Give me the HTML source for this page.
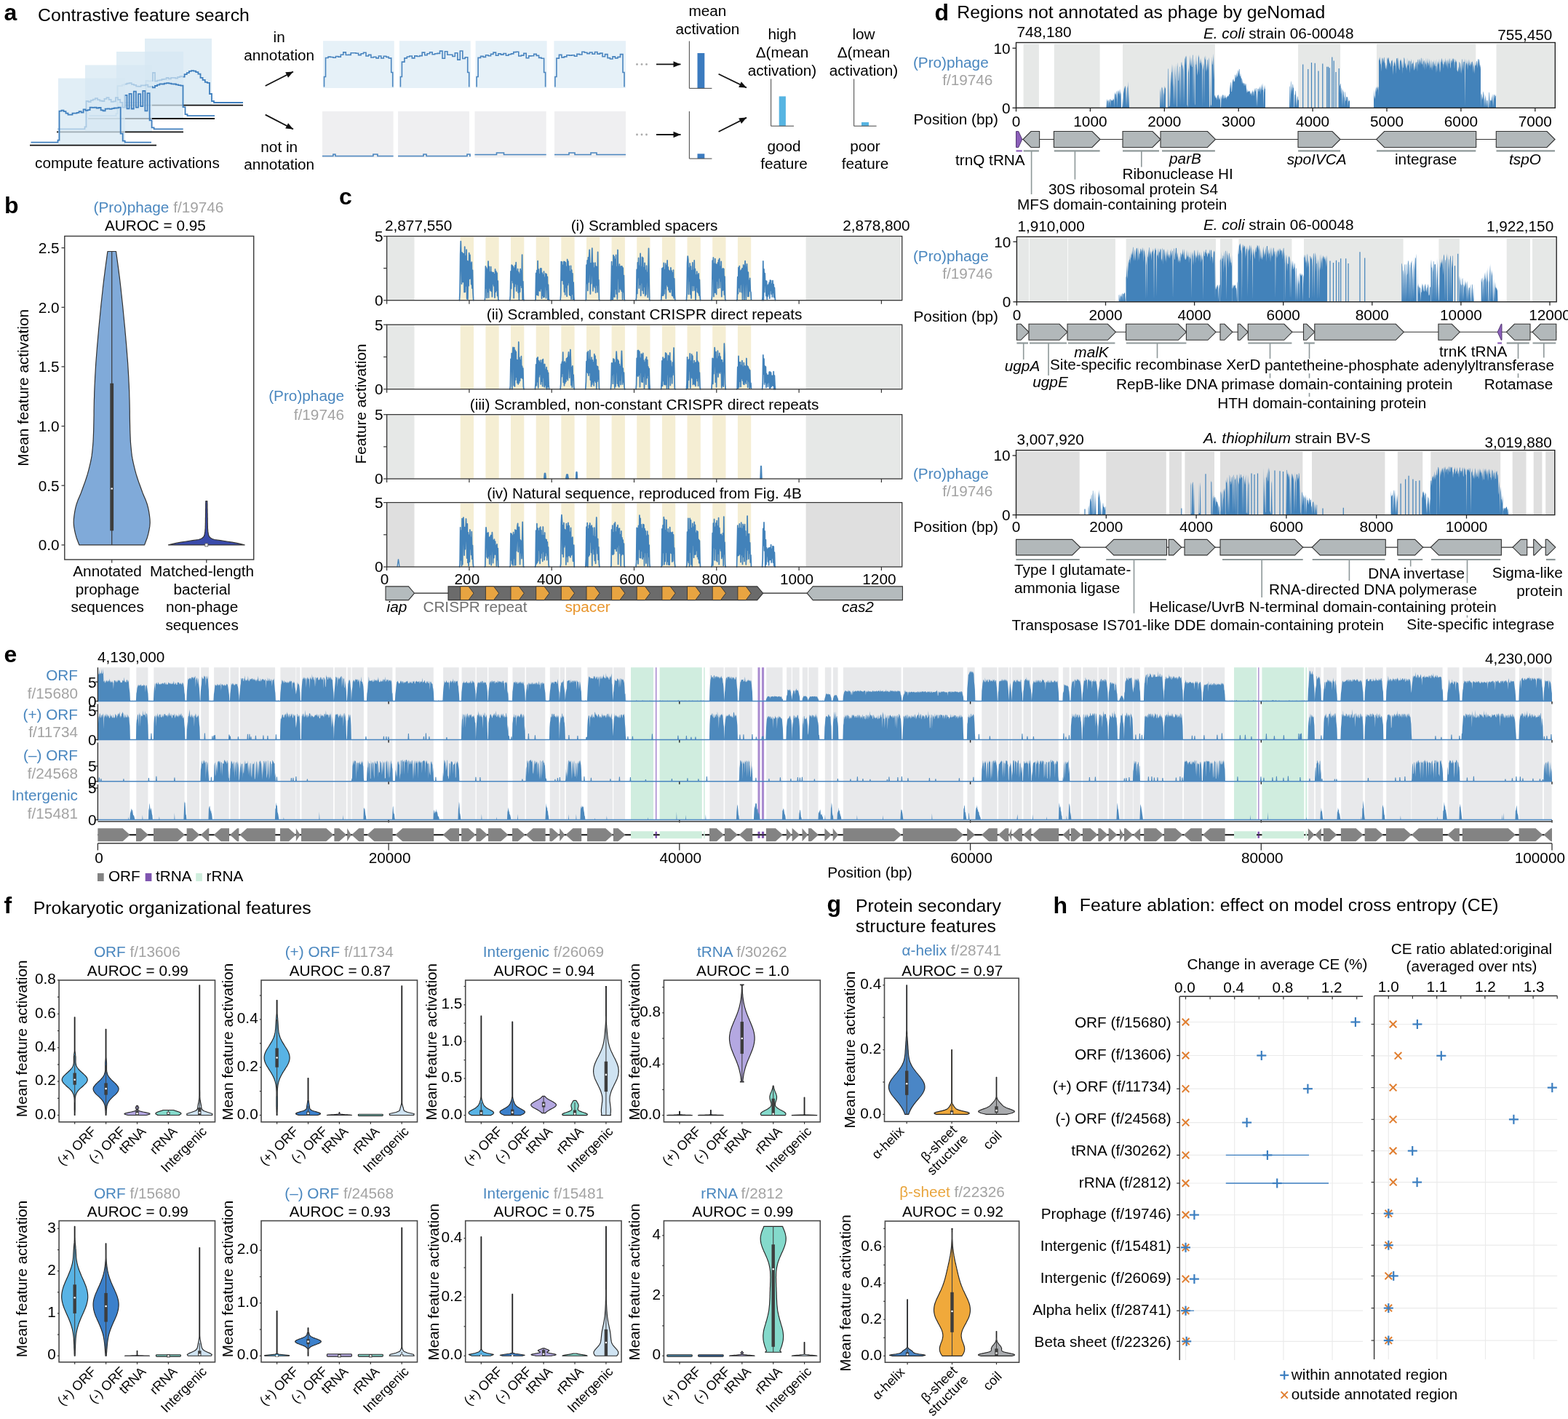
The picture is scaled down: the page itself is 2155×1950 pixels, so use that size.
<!DOCTYPE html>
<html><head><meta charset="utf-8"><title>Figure</title>
<style>html,body{margin:0;padding:0;background:#fff;}svg{display:block;}</style>
</head><body>
<svg xmlns="http://www.w3.org/2000/svg" width="2155" height="1950" viewBox="0 0 2155 1950" font-family="'Liberation Sans', Arial, sans-serif" font-size="20.75">
<rect width="2155" height="1950" fill="#fff"/>
<text x="5.5" y="27.9" font-size="32" font-weight="bold" >a</text>
<text x="52" y="28.5" font-size="24.8" >Contrastive feature search</text>
<rect x="199" y="53" width="92" height="92" fill="#d6e8f3" fill-opacity="0.72"/>
<line x1="160" y1="144.6" x2="334" y2="144.6" stroke="#111" stroke-width="1.8" />
<path d="M161.5 141l37 0 0 -3 2 0 0 -27 3.1 0 0 0.6 3.2 0 0 -0.4 3.1 0 0 -11.2 3.1 0 0 11.7 3.1 0 0 -1.1 3.1 0 0 -0.4 3.2 0 0 -1.2 3.1 0 0 -0.4 3.1 0 0 -1.6 3.2 0 0 1.4 3.1 0 0 -1.5 3.1 0 0 -0.1 3.1 0 0 0.7 3.1 0 0 -1.5 3.2 0 0 -1.2 3.1 0 0 0.8 3.1 0 0 -3.5 3.2 0 0 -2 3.1 0 0 -2.3 3.1 0 0 -0.7 3.1 0 0 0.6 3.1 0 0 1.5 3.2 0 0 2.4 3.1 0 0 5.3 3.1 0 0 3 3.2 0 0 2.9 3.1 0 0 1.1 3.1 0 0 15.1 3 0 0 10 3 0 0 2 40 0" fill="none" stroke="#3f7fbe" stroke-width="1.8" />
<rect x="160" y="71" width="92" height="92" fill="#d6e8f3" fill-opacity="0.72"/>
<line x1="121" y1="163" x2="295" y2="163" stroke="#111" stroke-width="1.8" />
<path d="M122.5 159.2l37 0 0 -3 2 0 0 -38 3.2 0 0 0 3.2 0 0 -1.5 3.2 0 0 -1 3.3 0 0 -1 3.2 0 0 -0.5 3.2 0 0 1.7 3.2 0 0 0.9 3.2 0 0 1.8 3.2 0 0 0.2 3.2 0 0 -1.4 3.3 0 0 0 3.2 0 0 -0.7 3.2 0 0 2.7 3.2 0 0 -0.2 3.2 0 0 1.2 3.2 0 0 -2.4 3.2 0 0 -1.3 3.3 0 0 -1.3 3.2 0 0 0.1 3.2 0 0 -0.9 3.2 0 0 -0.4 3.2 0 0 0.5 3.2 0 0 0.7 3.2 0 0 0.1 3.3 0 0 0.9 3.2 0 0 0.8 3.2 0 0 0.4 3.2 0 0 29.6 3 0 0 10 3 0 0 2 37.5 0" fill="none" stroke="#3f7fbe" stroke-width="1.8" />
<rect x="117" y="89.4" width="92" height="91.6" fill="#d6e8f3" fill-opacity="0.72"/>
<line x1="78" y1="181.4" x2="252" y2="181.4" stroke="#111" stroke-width="1.8" />
<path d="M79.5 177.4l37 0 0 -3 2 0 0 -35.4 3.1 0 0 1 3.1 0 0 -2.1 3.1 0 0 -1.3 3.1 0 0 -1.5 3.2 0 0 2.1 3.1 0 0 1.3 3.1 0 0 0.5 3.1 0 0 -3.1 3.1 0 0 -1.8 3.1 0 0 2.8 3.1 0 0 3 3.1 0 0 -0.6 3.1 0 0 -5.1 3.1 0 0 2.8 3.2 0 0 3.9 3.1 0 0 6.8 3.1 0 0 -16.8 3.1 0 0 18.4 3.1 0 0 -20.4 3.1 0 0 20.6 3.1 0 0 -23.8 3.1 0 0 21.9 3.1 0 0 -18.4 3.2 0 0 17 3.1 0 0 -21.3 3.1 0 0 27.4 3.1 0 0 -24.1 3.1 0 0 37.2 3 0 0 10 3 0 0 2 40.1 0" fill="none" stroke="#3f7fbe" stroke-width="1.8" />
<rect x="80" y="107.6" width="92" height="91.4" fill="#d6e8f3" fill-opacity="0.72"/>
<line x1="41" y1="199.7" x2="215" y2="199.7" stroke="#111" stroke-width="1.8" />
<path d="M42.5 195.7l37 0 0 -3 2 0 0 -40 3 0 0 -1.1 3 0 0 1.6 3 0 0 2.5 3 0 0 2 3 0 0 0 3 0 0 -2 3.1 0 0 0 3 0 0 -0.9 3 0 0 -1.6 3 0 0 1.4 3 0 0 -4.2 3 0 0 1.4 3 0 0 -0.6 3 0 0 -3.5 3 0 0 0.2 3 0 0 -0.2 3 0 0 0.8 3 0 0 -0.5 3 0 0 3.4 3 0 0 1 3 0 0 -2.7 3.1 0 0 -0.3 3 0 0 0.4 3 0 0 -0.6 3 0 0 -0.7 3 0 0 -0.2 3 0 0 -0.6 3 0 0 36 3 0 0 10 3 0 0 2 36.3 0" fill="none" stroke="#3f7fbe" stroke-width="1.8" />
<line x1="364.7" y1="118" x2="403" y2="98.5" stroke="#111" stroke-width="1.8" />
<path d="M403 98.5 L396 106.8 L392.2 99.3Z" fill="#111" />
<line x1="364.7" y1="157.6" x2="403" y2="177.5" stroke="#111" stroke-width="1.8" />
<path d="M403 177.5 L392.2 176.6 L396.1 169.2Z" fill="#111" />
<text x="383.7" y="58" text-anchor="middle" >in</text>
<text x="383.7" y="83" text-anchor="middle" >annotation</text>
<text x="383.7" y="208.7" text-anchor="middle" >not in</text>
<text x="383.7" y="233" text-anchor="middle" >annotation</text>
<rect x="444" y="56.2" width="97.7" height="64.8" fill="#e6f1f8" />
<path d="M445.5 119.5l0 -14 2 0 0 -26 3.5 0 0 -1.4 3.4 0 0 0.4 3.5 0 0 0.7 3.5 0 0 -1.7 3.4 0 0 0.6 3.5 0 0 -2.9 3.5 0 0 -3.3 3.5 0 0 3.6 3.4 0 0 -0.1 3.5 0 0 -2.7 3.5 0 0 0.1 3.4 0 0 0.5 3.5 0 0 2.3 3.5 0 0 -1.9 3.4 0 0 -1.5 3.5 0 0 4.8 3.5 0 0 -1.6 3.4 0 0 3.6 3.5 0 0 -0.8 3.5 0 0 1.7 3.5 0 0 -2.9 3.4 0 0 3 3.5 0 0 -2.7 3.5 0 0 1.1 3.4 0 0 1.5 3.5 0 0 19.6 2 0 0 20" fill="none" stroke="#4a85bf" stroke-width="1.6" />
<rect x="548.9" y="56.2" width="97.8" height="64.8" fill="#e6f1f8" />
<path d="M550.4 119.5l0 -14 2 0 0 -20.4 3.5 0 0 -5.2 3.4 0 0 -1.9 3.5 0 0 -1 3.5 0 0 2.9 3.5 0 0 -3 3.4 0 0 0.6 3.5 0 0 -0.9 3.5 0 0 -4.5 3.5 0 0 3.7 3.4 0 0 -2 3.5 0 0 -2.1 3.5 0 0 3.1 3.5 0 0 -1 3.4 0 0 -0.4 3.5 0 0 -3.3 3.5 0 0 10.1 3.4 0 0 -9.5 3.5 0 0 4.6 3.5 0 0 -0.1 3.5 0 0 2.3 3.4 0 0 -4.7 3.5 0 0 9.3 3.5 0 0 -12.1 3.5 0 0 10.5 3.4 0 0 -1.8 3.5 0 0 20.8 2 0 0 20" fill="none" stroke="#4a85bf" stroke-width="1.6" />
<rect x="653.6" y="56.2" width="98" height="64.8" fill="#e6f1f8" />
<path d="M655.1 119.5l0 -14 2 0 0 -26.1 3.5 0 0 -2 3.5 0 0 1 3.4 0 0 -2.7 3.5 0 0 1 3.5 0 0 -2.3 3.5 0 0 -2.3 3.5 0 0 4.2 3.4 0 0 -2.4 3.5 0 0 1.2 3.5 0 0 -1.6 3.5 0 0 2.7 3.5 0 0 -1.4 3.5 0 0 -0.9 3.4 0 0 -2.3 3.5 0 0 -0.3 3.5 0 0 5.7 3.5 0 0 -0.9 3.5 0 0 -2.7 3.4 0 0 6.3 3.5 0 0 -2.8 3.5 0 0 -0.2 3.5 0 0 -2.3 3.5 0 0 2 3.4 0 0 3 3.5 0 0 0.9 3.5 0 0 19.2 2 0 0 20" fill="none" stroke="#4a85bf" stroke-width="1.6" />
<rect x="761.4" y="56.2" width="98.6" height="64.8" fill="#e6f1f8" />
<path d="M762.9 119.5l0 -14 2 0 0 -25.4 3.5 0 0 -4.7 3.5 0 0 3.5 3.5 0 0 -1 3.5 0 0 -2.2 3.5 0 0 0.4 3.5 0 0 -0.4 3.5 0 0 1.6 3.5 0 0 -2.9 3.5 0 0 0.6 3.5 0 0 -3.8 3.5 0 0 1 3.5 0 0 1.4 3.5 0 0 -1.6 3.6 0 0 2.3 3.5 0 0 -2.8 3.5 0 0 2.6 3.5 0 0 -1 3.5 0 0 4.6 3.5 0 0 -3.1 3.5 0 0 5 3.5 0 0 1.4 3.5 0 0 -3.1 3.5 0 0 2 3.5 0 0 -1.5 3.5 0 0 -3.8 3.5 0 0 24.9 2 0 0 20" fill="none" stroke="#4a85bf" stroke-width="1.6" />
<rect x="442.9" y="153" width="97.7" height="63.5" fill="#efeff1" />
<path d="M442.9 214.5l15 0 0 -2.5 3 0 0 2.5 52 0 0 -2.5 6 0 0 2.5 21.7 0" fill="none" stroke="#4a85bf" stroke-width="1.6" />
<rect x="547" y="153" width="98" height="63.5" fill="#efeff1" />
<path d="M547 214.5l35 0 0 -2.5 4 0 0 2.5 56 0 0 -2.5 4 0 0 2.5 -1 0" fill="none" stroke="#4a85bf" stroke-width="1.6" />
<rect x="652.5" y="153" width="98.2" height="63.5" fill="#efeff1" />
<path d="M652.5 212.5l30 0 0 -2.5 10 0 0 2.5 58.2 0" fill="none" stroke="#4a85bf" stroke-width="1.6" />
<rect x="762" y="153" width="98" height="63.5" fill="#efeff1" />
<path d="M762 212.5l20 0 0 -2.5 8 0 0 2.5 22 0 0 -2.5 8 0 0 2.5 40 0" fill="none" stroke="#4a85bf" stroke-width="1.6" />
<circle cx="875.5" cy="88.4" r="1.4" fill="#aaa"/>
<circle cx="882" cy="88.4" r="1.4" fill="#aaa"/>
<circle cx="888.5" cy="88.4" r="1.4" fill="#aaa"/>
<line x1="902" y1="88.4" x2="935.5" y2="88.4" stroke="#111" stroke-width="1.8" />
<path d="M935.5 88.4 L925.5 92.6 L925.5 84.2Z" fill="#111" />
<circle cx="875.5" cy="185" r="1.4" fill="#aaa"/>
<circle cx="882" cy="185" r="1.4" fill="#aaa"/>
<circle cx="888.5" cy="185" r="1.4" fill="#aaa"/>
<line x1="902" y1="185" x2="935.5" y2="185" stroke="#111" stroke-width="1.8" />
<path d="M935.5 185 L925.5 189.2 L925.5 180.8Z" fill="#111" />
<rect x="958.5" y="73" width="9.8" height="48.4" fill="#3b7bbf" />
<line x1="947.4" y1="56.5" x2="947.4" y2="121.4" stroke="#555" stroke-width="1.1" />
<line x1="947.4" y1="121.4" x2="978.4" y2="121.4" stroke="#555" stroke-width="1.1" />
<rect x="958.5" y="211.3" width="9.8" height="6.7" fill="#3b7bbf" />
<line x1="947.4" y1="153" x2="947.4" y2="218" stroke="#555" stroke-width="1.1" />
<line x1="947.4" y1="218" x2="978.4" y2="218" stroke="#555" stroke-width="1.1" />
<text x="972.4" y="22.3" text-anchor="middle" >mean</text>
<text x="972.4" y="47" text-anchor="middle" >activation</text>
<line x1="987.6" y1="101.8" x2="1026" y2="120.5" stroke="#111" stroke-width="1.8" />
<path d="M1026 120.5 L1015.2 119.9 L1018.8 112.3Z" fill="#111" />
<line x1="987.6" y1="181" x2="1026" y2="161.6" stroke="#111" stroke-width="1.8" />
<path d="M1026 161.6 L1019 169.9 L1015.2 162.4Z" fill="#111" />
<text x="1075" y="53.6" text-anchor="middle" >high</text>
<text x="1075" y="78.9" text-anchor="middle" >Δ(mean</text>
<text x="1075" y="104" text-anchor="middle" >activation)</text>
<rect x="1070.7" y="132.4" width="9.2" height="40.8" fill="#56b4e2" />
<line x1="1059.6" y1="108.6" x2="1059.6" y2="173.2" stroke="#555" stroke-width="1.1" />
<line x1="1059.6" y1="173.2" x2="1091" y2="173.2" stroke="#555" stroke-width="1.1" />
<text x="1077.5" y="207.7" text-anchor="middle" >good</text>
<text x="1077.5" y="232" text-anchor="middle" >feature</text>
<text x="1187" y="53.6" text-anchor="middle" >low</text>
<text x="1187" y="78.9" text-anchor="middle" >Δ(mean</text>
<text x="1187" y="104" text-anchor="middle" >activation)</text>
<rect x="1184" y="168" width="10" height="5.2" fill="#56b4e2" />
<line x1="1173.6" y1="108.6" x2="1173.6" y2="173.2" stroke="#555" stroke-width="1.1" />
<line x1="1173.6" y1="173.2" x2="1204.6" y2="173.2" stroke="#555" stroke-width="1.1" />
<text x="1189" y="207.7" text-anchor="middle" >poor</text>
<text x="1189" y="232" text-anchor="middle" >feature</text>
<text x="48" y="231"  >compute feature activations</text>
<text x="6" y="293" font-size="32" font-weight="bold" >b</text>
<text x="218" y="292" text-anchor="middle" ><tspan fill="#4a87bf">(Pro)phage</tspan> <tspan fill="#a3a3a3">f/19746</tspan></text>
<text x="213.4" y="317.3" text-anchor="middle" >AUROC = 0.95</text>
<path d="M198.6 748.9 L200.5 743.8 L202.4 738.7 L203.8 733.6 L204.9 728.5 L205.8 723.4 L206.2 718.3 L206 713.2 L205.4 708.1 L204.6 702.9 L203.6 697.8 L202.2 692.7 L200.4 687.6 L198.2 682.5 L196.1 677.4 L194.2 672.3 L192.4 667.2 L190.5 662.1 L188.8 657 L187.2 651.9 L185.8 646.8 L184.5 641.7 L183.3 636.6 L182.2 631.5 L181.3 626.4 L180.7 621.3 L180.2 616.2 L179.7 611 L179.3 605.9 L179.1 600.8 L178.9 595.7 L178.7 590.6 L178.6 585.5 L178.5 580.4 L178.4 575.3 L178.3 570.2 L178.3 565.1 L178.2 560 L178.1 554.9 L178 549.8 L177.8 544.7 L177.7 539.6 L177.5 534.5 L177.3 529.4 L177 524.2 L176.8 519.1 L176.5 514 L176.2 508.9 L175.9 503.8 L175.6 498.7 L175.2 493.6 L174.8 488.5 L174.4 483.4 L174 478.3 L173.6 473.2 L173.1 468.1 L172.7 463 L172.2 457.9 L171.8 452.8 L171.3 447.7 L170.8 442.6 L170.3 437.5 L169.8 432.3 L169.3 427.2 L168.8 422.1 L168.3 417 L167.7 411.9 L167.2 406.8 L166.6 401.7 L166.1 396.6 L165.5 391.5 L164.9 386.4 L164.3 381.3 L163.6 376.2 L163 371.1 L162.3 366 L161.6 360.9 L160.9 355.8 L160.2 350.7 L159.5 345.5 L147.9 345.5 L147.2 350.7 L146.5 355.8 L145.8 360.9 L145.1 366 L144.4 371.1 L143.8 376.2 L143.1 381.3 L142.5 386.4 L141.9 391.5 L141.3 396.6 L140.8 401.7 L140.2 406.8 L139.7 411.9 L139.1 417 L138.6 422.1 L138.1 427.2 L137.6 432.3 L137.1 437.5 L136.6 442.6 L136.1 447.7 L135.6 452.8 L135.2 457.9 L134.7 463 L134.3 468.1 L133.8 473.2 L133.4 478.3 L133 483.4 L132.6 488.5 L132.2 493.6 L131.8 498.7 L131.5 503.8 L131.2 508.9 L130.9 514 L130.6 519.1 L130.4 524.2 L130.1 529.4 L129.9 534.5 L129.7 539.6 L129.6 544.7 L129.4 549.8 L129.3 554.9 L129.2 560 L129.1 565.1 L129.1 570.2 L129 575.3 L128.9 580.4 L128.8 585.5 L128.7 590.6 L128.5 595.7 L128.3 600.8 L128.1 605.9 L127.7 611 L127.2 616.2 L126.7 621.3 L126.1 626.4 L125.2 631.5 L124.1 636.6 L122.9 641.7 L121.6 646.8 L120.2 651.9 L118.6 657 L116.9 662.1 L115 667.2 L113.2 672.3 L111.3 677.4 L109.2 682.5 L107 687.6 L105.2 692.7 L103.8 697.8 L102.8 702.9 L102 708.1 L101.4 713.2 L101.2 718.3 L101.6 723.4 L102.5 728.5 L103.6 733.6 L105 738.7 L106.9 743.8 L108.8 748.9Z" fill="#80aad9" stroke="#333" stroke-width="1.2" stroke-linejoin="round"/>
<line x1="153.7" y1="748.9" x2="153.7" y2="345.5" stroke="#3a3a3a" stroke-width="1.2" />
<rect x="151.3" y="526.8" width="4.8" height="202.5" fill="#3d3d3d" />
<rect x="152.4" y="670.5" width="2.6" height="2" fill="#fff" />
<path d="M336.1 748.9 L331.1 747.7 L325.7 746.4 L319 745.2 L311.6 744 L302.9 742.7 L294.6 741.5 L291 740.3 L289.2 739 L287.9 737.8 L287.1 736.6 L286.7 735.3 L286.4 734.1 L286.2 732.9 L286 731.6 L285.8 730.4 L285.7 729.2 L285.6 727.9 L285.5 726.7 L285.4 725.5 L285.4 724.2 L285.4 723 L285.3 721.8 L285.3 720.5 L285.3 719.3 L285.2 718.1 L285.2 716.8 L285.2 715.6 L285.2 714.4 L285.2 713.1 L285.2 711.9 L285.1 710.7 L285.1 709.4 L285.1 708.2 L285.1 707 L285.1 705.7 L285 704.5 L285 703.3 L285 702 L285 700.8 L285 699.6 L284.9 698.3 L284.9 697.1 L284.9 695.9 L284.9 694.6 L284.9 693.4 L284.9 692.2 L284.8 690.9 L284.8 689.7 L284.8 688.5 L282.8 688.5 L282.8 689.7 L282.8 690.9 L282.7 692.2 L282.7 693.4 L282.7 694.6 L282.7 695.9 L282.7 697.1 L282.7 698.3 L282.6 699.6 L282.6 700.8 L282.6 702 L282.6 703.3 L282.6 704.5 L282.5 705.7 L282.5 707 L282.5 708.2 L282.5 709.4 L282.5 710.7 L282.4 711.9 L282.4 713.1 L282.4 714.4 L282.4 715.6 L282.4 716.8 L282.4 718.1 L282.3 719.3 L282.3 720.5 L282.3 721.8 L282.2 723 L282.2 724.2 L282.2 725.5 L282.1 726.7 L282 727.9 L281.9 729.2 L281.8 730.4 L281.6 731.6 L281.4 732.9 L281.2 734.1 L280.9 735.3 L280.5 736.6 L279.7 737.8 L278.4 739 L276.6 740.3 L273 741.5 L264.7 742.7 L256 744 L248.6 745.2 L241.9 746.4 L236.5 747.7 L231.5 748.9Z" fill="#3a4bab" stroke="#333" stroke-width="1.2" stroke-linejoin="round"/>
<rect x="281.8" y="746.9" width="4" height="4" fill="#fff" stroke="#555" stroke-width="0.8" />
<rect x="88.8" y="324.5" width="259.9" height="444.5" fill="none" stroke="#3a3a3a" stroke-width="1.4" />
<line x1="84.5" y1="748.9" x2="88.8" y2="748.9" stroke="#333" stroke-width="1.2" />
<text x="81.5" y="756.3" text-anchor="end" >0.0</text>
<line x1="84.5" y1="667.2" x2="88.8" y2="667.2" stroke="#333" stroke-width="1.2" />
<text x="81.5" y="674.6" text-anchor="end" >0.5</text>
<line x1="84.5" y1="585.6" x2="88.8" y2="585.6" stroke="#333" stroke-width="1.2" />
<text x="81.5" y="593" text-anchor="end" >1.0</text>
<line x1="84.5" y1="503.9" x2="88.8" y2="503.9" stroke="#333" stroke-width="1.2" />
<text x="81.5" y="511.3" text-anchor="end" >1.5</text>
<line x1="84.5" y1="422.3" x2="88.8" y2="422.3" stroke="#333" stroke-width="1.2" />
<text x="81.5" y="429.7" text-anchor="end" >2.0</text>
<line x1="84.5" y1="340.6" x2="88.8" y2="340.6" stroke="#333" stroke-width="1.2" />
<text x="81.5" y="348" text-anchor="end" >2.5</text>
<line x1="153.7" y1="769" x2="153.7" y2="773.5" stroke="#333" stroke-width="1.2" />
<line x1="283.8" y1="769" x2="283.8" y2="773.5" stroke="#333" stroke-width="1.2" />
<text x="39" y="532.8" text-anchor="middle" transform="rotate(-90 39 532.8)" >Mean feature activation</text>
<text x="147.6" y="792" text-anchor="middle" >Annotated</text>
<text x="147.6" y="816.6" text-anchor="middle" >prophage</text>
<text x="147.6" y="841.2" text-anchor="middle" >sequences</text>
<text x="277.6" y="792" text-anchor="middle" >Matched-length</text>
<text x="277.6" y="816.6" text-anchor="middle" >bacterial</text>
<text x="277.6" y="841.2" text-anchor="middle" >non-phage</text>
<text x="277.6" y="865.8" text-anchor="middle" >sequences</text>
<text x="466" y="280.8" font-size="32" font-weight="bold" >c</text>
<text x="473" y="551" text-anchor="end" fill="#4a87bf" >(Pro)phage</text>
<text x="473" y="576.5" text-anchor="end" fill="#a3a3a3" >f/19746</text>
<text x="503" y="555" text-anchor="middle" transform="rotate(-90 503 555)" >Feature activation</text>
<text x="529" y="317.3"  >2,877,550</text>
<text x="1250.6" y="317.3" text-anchor="end" >2,878,800</text>
<text x="885.6" y="317.3" text-anchor="middle" >(i) Scrambled spacers</text>
<rect x="531.6" y="325.6" width="37.9" height="87.1" fill="#e6e8e7" />
<rect x="1107.6" y="325.6" width="130.1" height="87.1" fill="#e6e8e7" />
<rect x="632.7" y="325.6" width="18.3" height="87.1" fill="#f5eed3" />
<rect x="667.4" y="325.6" width="18.3" height="87.1" fill="#f5eed3" />
<rect x="702" y="325.6" width="18.3" height="87.1" fill="#f5eed3" />
<rect x="736.7" y="325.6" width="18.3" height="87.1" fill="#f5eed3" />
<rect x="771.3" y="325.6" width="18.3" height="87.1" fill="#f5eed3" />
<rect x="806" y="325.6" width="18.3" height="87.1" fill="#f5eed3" />
<rect x="840.6" y="325.6" width="18.3" height="87.1" fill="#f5eed3" />
<rect x="875.2" y="325.6" width="18.3" height="87.1" fill="#f5eed3" />
<rect x="909.9" y="325.6" width="18.3" height="87.1" fill="#f5eed3" />
<rect x="944.5" y="325.6" width="18.3" height="87.1" fill="#f5eed3" />
<rect x="979.2" y="325.6" width="18.3" height="87.1" fill="#f5eed3" />
<rect x="1013.9" y="325.6" width="18.3" height="87.1" fill="#f5eed3" />
<path d="M631 412.7l0.5 0 0.6 -11.4 0.6 -51.4 0.6 -18.3 0.6 23.7 0.6 34.9 0.6 -43.2 0.6 40.5 0.6 -39.2 0.6 39.1 0.6 -38.5 0.6 52.5 0.6 -62.3 0.6 61.9 0.6 -49.1 0.6 41 0.6 -49.7 0.6 67.3 0.6 -51.9 0.6 52.5 0.6 -51.7 0.6 33.3 0.6 -45 0.6 35.4 0.6 -32.8 0.6 32.2 0.6 -20.8 0.6 29 0.6 -30.6 0.6 36 0.6 -24.8 0.6 30.8 0.6 10.6 0.6 0" fill="none" stroke="#4282ba" stroke-width="1.75" stroke-linejoin="round"/>
<path d="M665.6 412.7l0.6 0 0.6 -4.2 0.6 -42.5 0.6 30.1 0.6 -27.9 0.6 41.1 0.6 -39 0.6 30.8 0.6 -42 0.6 49.8 0.6 -42.5 0.6 29.5 0.6 -21.8 0.6 25 0.6 -32.4 0.6 33.5 0.6 -26.2 0.6 33.7 0.6 -33.2 0.6 15.7 0.6 -15.6 0.6 18.2 0.6 -16 0.6 32.2 0.6 -39 0.6 31.1 0.6 -28.2 0.6 26.2 0.6 -24.1 0.6 31.6 0.6 -20.5 0.6 25.1 0.6 1.5 0.5 0" fill="none" stroke="#4282ba" stroke-width="1.75" stroke-linejoin="round"/>
<path d="M700.3 412.7l0.5 0 0.6 -6.4 0.6 -33.5 0.6 23.7 0.6 -32.3 0.6 21 0.6 -20.1 0.6 23.4 0.6 -21.9 0.6 43 0.6 -40.7 0.6 24.8 0.6 -29.1 0.6 25.3 0.6 -29.2 0.6 39.3 0.6 -27.3 0.6 17.9 0.6 -20.9 0.6 32.3 0.6 -27.9 0.6 38.2 0.6 -35.8 0.6 24.5 0.6 -31.4 0.6 22.4 0.6 -19.5 0.6 22.7 0.6 -45 0.6 61.5 0.6 -24.9 0.6 23.4 0.6 2.5 0.6 0" fill="none" stroke="#4282ba" stroke-width="1.75" stroke-linejoin="round"/>
<path d="M735 412.7l0.4 0 0.7 -1 0.6 -36.4 0.6 29.5 0.6 -33.1 0.6 33.5 0.6 -46.6 0.6 47.4 0.6 -35.9 0.6 29 0.6 -22 0.6 22.8 0.6 -30.9 0.6 27.6 0.6 -27.8 0.6 41.4 0.6 -35.1 0.6 31 0.6 -28.5 0.6 30.9 0.6 -35.4 0.6 35 0.6 -26.8 0.6 12.4 0.6 -17.9 0.6 33.9 0.6 -32.8 0.6 21.3 0.6 -17.9 0.6 31.5 0.6 -20.4 0.6 18 0.6 3.3 0.5 0" fill="none" stroke="#4282ba" stroke-width="1.75" stroke-linejoin="round"/>
<path d="M769.6 412.7l0.5 0 0.6 -7 0.6 -46.1 0.6 25.9 0.6 -25.5 0.6 25.2 0.6 -20.5 0.6 25.6 0.6 -30.9 0.6 41.6 0.6 -41.4 0.6 45.2 0.6 -44 0.6 34.1 0.6 -28.2 0.6 40.5 0.6 -50.7 0.6 35.1 0.6 -32.6 0.6 29.4 0.6 -22.7 0.6 39.5 0.6 -32 0.6 33 0.6 -40.9 0.6 45.7 0.6 -39.8 0.6 33 0.6 -28.4 0.6 35.5 0.6 -23.2 0.6 20.2 0.6 4.4 0.6 0" fill="none" stroke="#4282ba" stroke-width="1.75" stroke-linejoin="round"/>
<path d="M804.2 412.7l0.6 0 0.6 -0.7 0.6 -47.9 0.6 25.2 0.6 -31.4 0.6 41.4 0.6 -45.5 0.6 34 0.6 -33.6 0.6 -10.8 0.6 23.5 0.6 37 0.6 -42 0.6 27.7 0.6 -26.8 0.6 -21.7 0.6 26.7 0.6 32 0.6 -38.5 0.6 31.7 0.6 -24.7 0.6 26.6 0.6 -33.7 0.6 40.9 0.6 -36 0.6 25.7 0.6 -24.8 0.6 34.5 0.6 -55.1 0.6 45.3 0.6 -7 0.6 26.6 0.6 1.4 0.5 0" fill="none" stroke="#4282ba" stroke-width="1.75" stroke-linejoin="round"/>
<path d="M838.9 412.7l0.5 0 0.6 -13.1 0.6 -39.9 0.6 51.6 0.6 -45.7 0.6 45.5 0.6 -60.5 0.6 57.1 0.6 -55 0.6 55.3 0.6 -51.6 0.6 41 0.6 -47 0.6 53.5 0.6 -36.8 0.6 43.7 0.6 -67.3 0.6 39.1 0.6 -16.3 0.6 35 0.6 -38.1 0.6 33.1 0.6 -29.8 0.6 31.5 0.6 -32.2 0.6 34.4 0.6 -34.2 0.6 45.2 0.6 -43 0.6 33.1 0.6 -22.7 0.6 32.2 0.6 1.9 0.6 0" fill="none" stroke="#4282ba" stroke-width="1.75" stroke-linejoin="round"/>
<path d="M873.5 412.7l0.5 0 0.6 -3.8 0.6 -38.5 0.6 33 0.6 -42.5 0.6 20.5 0.6 -26.9 0.7 41.5 0.6 -30.5 0.6 25.5 0.6 -42.6 0.6 57.9 0.6 -39.1 0.6 21.4 0.6 -35.2 0.6 45.7 0.6 -44.8 0.6 49 0.6 -35.5 0.6 26.2 0.6 -32.6 0.6 45.1 0.6 -34.8 0.6 32.9 0.6 -39.4 0.6 22.4 0.6 -12.9 0.6 33.8 0.6 -38.3 0.6 -28.9 0.6 41.9 0.6 29.3 0.6 0.2 0.5 0" fill="none" stroke="#4282ba" stroke-width="1.75" stroke-linejoin="round"/>
<path d="M908.2 412.7l0.5 0 0.6 -11.7 0.6 -32.1 0.6 37.2 0.6 -38.2 0.6 38 0.6 -44.5 0.6 42.3 0.6 -32.5 0.6 25.4 0.6 -34.4 0.6 48.1 0.6 -45.1 0.6 26.1 0.6 -33.4 0.6 35.6 0.6 -26.3 0.6 31.3 0.6 -27 0.6 29.6 0.6 -28.5 0.6 29 0.6 -33.7 0.6 29.5 0.6 -25.2 0.6 33.9 0.6 -31.2 0.6 31.9 0.6 -35.7 0.6 38.6 0.6 -26.8 0.6 22.8 0.6 7 0.6 0" fill="none" stroke="#4282ba" stroke-width="1.75" stroke-linejoin="round"/>
<path d="M942.8 412.7l0.6 0 0.6 -9.3 0.6 -41.7 0.6 -9.6 0.6 5 0.6 47.2 0.6 -36 0.6 17.6 0.6 -23.9 0.6 42.4 0.6 -38.3 0.6 43.8 0.6 -38 0.6 20.2 0.6 -31.3 0.6 38.6 0.6 -27.8 0.6 20.7 0.6 -34.4 0.6 41 0.6 -29.3 0.6 42.7 0.6 -34.1 0.6 16.8 0.6 -21.8 0.6 27.9 0.6 -23.2 0.6 24.8 0.6 -26.9 0.6 30 0.6 -21.4 0.6 22.2 0.6 6.1 0.5 0" fill="none" stroke="#4282ba" stroke-width="1.75" stroke-linejoin="round"/>
<path d="M977.5 412.7l0.5 0 0.6 -6.4 0.6 -48.1 0.6 24.6 0.6 -28.8 0.6 53.5 0.6 -45.2 0.6 39.7 0.6 -46.3 0.6 46.3 0.6 -39.1 0.6 41.5 0.6 -40.5 0.6 22.3 0.6 -25 0.6 34.9 0.6 -38.8 0.6 24.5 0.6 -26.5 0.6 40 0.6 -28.9 0.6 20 0.6 -27 0.6 48.2 0.6 -37.6 0.6 29 0.6 -30.2 0.6 29.7 0.6 -29 0.6 35.4 0.6 -24.7 0.6 30.4 0.6 2.1 0.6 0" fill="none" stroke="#4282ba" stroke-width="1.75" stroke-linejoin="round"/>
<path d="M1012.1 412.7l0.5 0 0.6 -1.3 0.6 -30.7 0.6 22.9 0.6 -36 0.6 27.9 0.7 -29.9 0.6 35.4 0.6 -28.6 0.6 18.2 0.6 -19.4 0.6 30.4 0.6 -32.7 0.6 43.1 0.6 -38 0.6 -10 0.6 2.3 0.6 45.8 0.6 -39.4 0.6 -14.1 0.6 16.8 0.6 36.2 0.6 -40 0.6 -8.7 0.6 12.2 0.6 32.2 0.6 -33.2 0.6 33.1 0.6 -21.5 0.6 13.9 0.6 -17.3 0.6 18.2 0.6 1.1 0.6 11.1 0 0" fill="none" stroke="#4282ba" stroke-width="1.75" stroke-linejoin="round"/>
<path d="M1047.1 412.7l0.5 0 0.6 -4.4 0.6 -49.4 0.6 53.7 0.6 -42.7 0.6 31.5 0.6 -25.7 0.6 16.3 0.6 -6.1 0.6 20.7 0.6 -20.3 0.6 24.8 0.6 -18.7 0.6 14.6 0.6 -15.8 0.6 13 0.6 -15.9 0.6 21.7 0.6 -24.9 0.6 14 0.6 -13.6 0.6 18.5 0.6 -13.7 0.6 17.7 0.6 -22.4 0.6 16.7 0.6 -11.4 0.6 17.4 0.6 -12.9 0.6 13.6 0.6 3.7 0.4 0" fill="none" stroke="#4282ba" stroke-width="1.75" stroke-linejoin="round"/>
<rect x="531.6" y="324.6" width="708.1" height="88.1" fill="none" stroke="#333" stroke-width="1.3" />
<line x1="527.1" y1="324.6" x2="531.6" y2="324.6" stroke="#333" stroke-width="1.2" />
<line x1="527.1" y1="368.6" x2="531.6" y2="368.6" stroke="#333" stroke-width="1.2" />
<line x1="527.1" y1="412.7" x2="531.6" y2="412.7" stroke="#333" stroke-width="1.2" />
<text x="526.5" y="332" text-anchor="end" >5</text>
<text x="526.5" y="420.1" text-anchor="end" >0</text>
<line x1="531.6" y1="412.7" x2="531.6" y2="417.7" stroke="#333" stroke-width="1.2" />
<line x1="644.9" y1="412.7" x2="644.9" y2="417.7" stroke="#333" stroke-width="1.2" />
<line x1="758.2" y1="412.7" x2="758.2" y2="417.7" stroke="#333" stroke-width="1.2" />
<line x1="871.5" y1="412.7" x2="871.5" y2="417.7" stroke="#333" stroke-width="1.2" />
<line x1="984.8" y1="412.7" x2="984.8" y2="417.7" stroke="#333" stroke-width="1.2" />
<line x1="1098.1" y1="412.7" x2="1098.1" y2="417.7" stroke="#333" stroke-width="1.2" />
<line x1="1211.4" y1="412.7" x2="1211.4" y2="417.7" stroke="#333" stroke-width="1.2" />
<text x="885.6" y="439.4" text-anchor="middle" >(ii) Scrambled, constant CRISPR direct repeats</text>
<rect x="531.6" y="447.2" width="37.9" height="87.6" fill="#e6e8e7" />
<rect x="1107.6" y="447.2" width="130.1" height="87.6" fill="#e6e8e7" />
<rect x="632.7" y="447.2" width="18.3" height="87.6" fill="#f5eed3" />
<rect x="667.4" y="447.2" width="18.3" height="87.6" fill="#f5eed3" />
<rect x="702" y="447.2" width="18.3" height="87.6" fill="#f5eed3" />
<rect x="736.7" y="447.2" width="18.3" height="87.6" fill="#f5eed3" />
<rect x="771.3" y="447.2" width="18.3" height="87.6" fill="#f5eed3" />
<rect x="806" y="447.2" width="18.3" height="87.6" fill="#f5eed3" />
<rect x="840.6" y="447.2" width="18.3" height="87.6" fill="#f5eed3" />
<rect x="875.2" y="447.2" width="18.3" height="87.6" fill="#f5eed3" />
<rect x="909.9" y="447.2" width="18.3" height="87.6" fill="#f5eed3" />
<rect x="944.5" y="447.2" width="18.3" height="87.6" fill="#f5eed3" />
<rect x="979.2" y="447.2" width="18.3" height="87.6" fill="#f5eed3" />
<rect x="1013.9" y="447.2" width="18.3" height="87.6" fill="#f5eed3" />
<path d="M700.3 534.8l0.5 0 0.6 -4.1 0.6 -37.2 0.6 15.9 0.6 -23.7 0.6 49 0.6 -45 0.6 -12.4 0.6 5.3 0.6 47 0.6 -51.9 0.6 53.3 0.6 -49.7 0.6 40.6 0.6 -38.5 0.6 34.8 0.6 -23.5 0.6 31.3 0.6 -30.8 0.6 32.7 0.6 -57.9 0.6 55.9 0.6 -34.5 0.6 31.8 0.6 -28.3 0.6 24.1 0.6 -29.4 0.6 29.3 0.6 -15.6 0.6 16.8 0.6 -13.9 0.6 25.5 0.6 3.1 0.6 0" fill="none" stroke="#4282ba" stroke-width="1.75" stroke-linejoin="round"/>
<path d="M735 534.8l0.4 0 0.7 -7.8 0.6 -26 0.6 28.7 0.6 -37.4 0.6 32.3 0.6 -33.7 0.6 41.9 0.6 -37.1 0.6 22 0.6 -20 0.6 16.8 0.6 -19.3 0.6 32.8 0.6 -28.9 0.6 25 0.6 -29.3 0.6 35.9 0.6 -37.2 0.6 25.3 0.6 -17.7 0.6 30.7 0.6 -31.3 0.6 28.6 0.6 -21.5 0.6 25 0.6 -27.9 0.6 30.1 0.6 -25.7 0.6 22.4 0.6 -19.1 0.6 16.5 0.6 5.9 0.5 0" fill="none" stroke="#4282ba" stroke-width="1.75" stroke-linejoin="round"/>
<path d="M769.6 534.8l0.5 0 0.6 -6.4 0.6 -28.1 0.6 17.4 0.6 -20.2 0.6 15.7 0.6 -29.1 0.6 41.4 0.6 -27.5 0.6 31.8 0.6 -32.9 0.6 29.7 0.6 -27.6 0.6 25.2 0.6 -31.3 0.6 27.4 0.6 -28.6 0.6 30.8 0.6 -31.6 0.6 -7 0.6 13.4 0.6 21.8 0.6 -20.8 0.6 -17.8 0.6 18.7 0.6 30 0.6 -24.6 0.6 27.7 0.6 -29.5 0.6 19.3 0.6 -7 0.6 16.5 0.6 3.2 0.6 0" fill="none" stroke="#4282ba" stroke-width="1.75" stroke-linejoin="round"/>
<path d="M804.2 534.8l0.6 0 0.6 -10.3 0.6 -27.8 0.6 14.5 0.6 -26.8 0.6 28 0.6 -29.6 0.6 33.1 0.6 -21.5 0.6 17.7 0.6 -30.7 0.6 40.7 0.6 -27.1 0.6 35.9 0.6 -39.7 0.6 36.8 0.6 -33.1 0.6 29.9 0.6 -26.6 0.6 31.7 0.6 -43.2 0.6 36.5 0.6 -34.1 0.6 36.1 0.6 -31 0.6 40.4 0.6 -31.5 0.6 21 0.6 -20.3 0.6 17.1 0.6 -11.7 0.6 24.2 0.6 1.4 0.5 0" fill="none" stroke="#4282ba" stroke-width="1.75" stroke-linejoin="round"/>
<path d="M838.9 534.8l0.5 0 0.6 -7.5 0.6 -28.4 0.6 16.3 0.6 -16.1 0.6 28.1 0.6 -34.2 0.6 20.3 0.6 -19.3 0.6 39.1 0.6 -34.7 0.6 32.4 0.6 -33.4 0.6 -14.2 0.6 11.9 0.6 31.9 0.6 -32.7 0.6 35.7 0.6 -33.8 0.6 35.6 0.6 -31.2 0.6 21.9 0.6 -19 0.6 24.9 0.6 -29 0.6 -17 0.6 17.6 0.6 28 0.6 -21.8 0.6 18.8 0.6 -12.9 0.6 19.7 0.6 3 0.6 0" fill="none" stroke="#4282ba" stroke-width="1.75" stroke-linejoin="round"/>
<path d="M873.5 534.8l0.5 0 0.6 -6.3 0.6 -36.2 0.6 24 0.6 -34.6 0.6 35.3 0.6 -35.5 0.7 33.5 0.6 -31.8 0.6 48.6 0.6 -39.4 0.6 19.4 0.6 -25.4 0.6 38.3 0.6 -37.4 0.6 37.9 0.6 -39.9 0.6 32.1 0.6 -22.1 0.6 38.8 0.6 -35.9 0.6 12.1 0.6 -17 0.6 34.9 0.6 -37.6 0.6 28.9 0.6 -24.8 0.6 21.1 0.6 -11.7 0.6 30.4 0.6 -28 0.6 21.6 0.6 6.7 0.5 0" fill="none" stroke="#4282ba" stroke-width="1.75" stroke-linejoin="round"/>
<path d="M908.2 534.8l0.5 0 0.6 -12.6 0.6 -26.3 0.6 34.4 0.6 -39.2 0.6 32.2 0.6 -29.7 0.6 34.6 0.6 -35.5 0.6 36 0.6 -43.8 0.6 43.4 0.6 -42.3 0.6 48.1 0.6 -37.4 0.6 18 0.6 -26.4 0.6 46 0.6 -44.6 0.6 28 0.6 -32.8 0.6 44.7 0.6 -33.5 0.6 21.6 0.6 -13.3 0.6 22.4 0.6 -28.6 0.6 17.1 0.6 -14.9 0.6 -22.4 0.6 29.7 0.6 26.1 0.6 1 0.6 0" fill="none" stroke="#4282ba" stroke-width="1.75" stroke-linejoin="round"/>
<path d="M942.8 534.8l0.6 0 0.6 -8.2 0.6 -35.8 0.6 42.4 0.6 -38.6 0.6 27.6 0.6 -28.1 0.6 15.5 0.6 -23.8 0.6 47.2 0.6 -36.7 0.6 22.1 0.6 -31.6 0.6 32.9 0.6 -30.7 0.6 39.4 0.6 -28.2 0.6 26.9 0.6 -31.5 0.6 32.8 0.6 -29.9 0.6 32 0.6 -32.4 0.6 21.7 0.6 -36 0.6 39.6 0.6 -27 0.6 33.9 0.6 -31.9 0.6 20.2 0.6 -6.6 0.6 19.6 0.6 3.2 0.5 0" fill="none" stroke="#4282ba" stroke-width="1.75" stroke-linejoin="round"/>
<path d="M977.5 534.8l0.5 0 0.6 -11.8 0.6 -30.7 0.6 35.1 0.6 -34.2 0.6 20.4 0.6 -21.4 0.6 -14.5 0.6 10.2 0.6 37.3 0.6 -41.6 0.6 48.2 0.6 -38.5 0.6 18.3 0.6 -29.4 0.6 35.7 0.6 -27.6 0.6 21 0.6 -26 0.6 27.6 0.6 -22.9 0.6 20.5 0.6 -15.8 0.6 38.1 0.6 -38 0.6 34.7 0.6 -31.2 0.6 32.9 0.6 -29.9 0.6 -29.2 0.6 14 0.6 42 0.6 6.7 0.6 0" fill="none" stroke="#4282ba" stroke-width="1.75" stroke-linejoin="round"/>
<path d="M1012.1 534.8l0.5 0 0.6 -0.8 0.6 -29.6 0.6 29.8 0.6 -44.8 0.6 42.6 0.7 -34.2 0.6 26.4 0.6 -26.6 0.6 33.9 0.6 -29.1 0.6 17.7 0.6 -24.5 0.6 27.3 0.6 -18.5 0.6 23.4 0.6 -29.3 0.6 29.8 0.6 -25.3 0.6 22 0.6 -21.7 0.6 23.9 0.6 -34.7 0.6 29.3 0.6 -18.9 0.6 29.4 0.6 -28.1 0.6 19.7 0.6 -16.8 0.6 26.9 0.6 -25.1 0.6 23.1 0.6 -5.6 0.6 8.4 0 0" fill="none" stroke="#4282ba" stroke-width="1.75" stroke-linejoin="round"/>
<path d="M1047.1 534.8l0.5 0 0.6 -6.9 0.6 -40 0.6 26.3 0.6 -21 0.6 34.8 0.6 -25 0.6 22.2 0.6 -21.2 0.6 28.5 0.6 -18.8 0.6 12.6 0.6 -10.3 0.6 15.4 0.6 -15.9 0.6 9.8 0.6 -14.1 0.6 22.4 0.6 -22.6 0.6 21.9 0.6 -20.8 0.6 19.1 0.6 -14.8 0.6 13.2 0.6 -13.2 0.6 13.7 0.6 -19.4 0.6 24.1 0.6 -18.7 0.6 13.7 0.6 5 0.4 0" fill="none" stroke="#4282ba" stroke-width="1.75" stroke-linejoin="round"/>
<rect x="531.6" y="446.2" width="708.1" height="88.6" fill="none" stroke="#333" stroke-width="1.3" />
<line x1="527.1" y1="446.2" x2="531.6" y2="446.2" stroke="#333" stroke-width="1.2" />
<line x1="527.1" y1="490.5" x2="531.6" y2="490.5" stroke="#333" stroke-width="1.2" />
<line x1="527.1" y1="534.8" x2="531.6" y2="534.8" stroke="#333" stroke-width="1.2" />
<text x="526.5" y="453.6" text-anchor="end" >5</text>
<text x="526.5" y="542.2" text-anchor="end" >0</text>
<line x1="531.6" y1="534.8" x2="531.6" y2="539.8" stroke="#333" stroke-width="1.2" />
<line x1="644.9" y1="534.8" x2="644.9" y2="539.8" stroke="#333" stroke-width="1.2" />
<line x1="758.2" y1="534.8" x2="758.2" y2="539.8" stroke="#333" stroke-width="1.2" />
<line x1="871.5" y1="534.8" x2="871.5" y2="539.8" stroke="#333" stroke-width="1.2" />
<line x1="984.8" y1="534.8" x2="984.8" y2="539.8" stroke="#333" stroke-width="1.2" />
<line x1="1098.1" y1="534.8" x2="1098.1" y2="539.8" stroke="#333" stroke-width="1.2" />
<line x1="1211.4" y1="534.8" x2="1211.4" y2="539.8" stroke="#333" stroke-width="1.2" />
<text x="885.6" y="562.8" text-anchor="middle" >(iii) Scrambled, non-constant CRISPR direct repeats</text>
<rect x="531.6" y="570.7" width="37.9" height="87.3" fill="#e6e8e7" />
<rect x="1107.6" y="570.7" width="130.1" height="87.3" fill="#e6e8e7" />
<rect x="632.7" y="570.7" width="18.3" height="87.3" fill="#f5eed3" />
<rect x="667.4" y="570.7" width="18.3" height="87.3" fill="#f5eed3" />
<rect x="702" y="570.7" width="18.3" height="87.3" fill="#f5eed3" />
<rect x="736.7" y="570.7" width="18.3" height="87.3" fill="#f5eed3" />
<rect x="771.3" y="570.7" width="18.3" height="87.3" fill="#f5eed3" />
<rect x="806" y="570.7" width="18.3" height="87.3" fill="#f5eed3" />
<rect x="840.6" y="570.7" width="18.3" height="87.3" fill="#f5eed3" />
<rect x="875.2" y="570.7" width="18.3" height="87.3" fill="#f5eed3" />
<rect x="909.9" y="570.7" width="18.3" height="87.3" fill="#f5eed3" />
<rect x="944.5" y="570.7" width="18.3" height="87.3" fill="#f5eed3" />
<rect x="979.2" y="570.7" width="18.3" height="87.3" fill="#f5eed3" />
<rect x="1013.9" y="570.7" width="18.3" height="87.3" fill="#f5eed3" />
<path d="M747.5 658 L748.2 650.1 L749.8 650.1 L750.5 658Z" fill="#4282ba" stroke="#4282ba" stroke-width="1" />
<path d="M777.5 658 L778.5 651.8 L780.5 651.8 L781.5 658Z" fill="#4282ba" stroke="#4282ba" stroke-width="1" />
<path d="M791.2 658 L791.9 648.3 L793.1 648.3 L793.8 658Z" fill="#4282ba" stroke="#4282ba" stroke-width="1" />
<path d="M1044.8 658 L1045.4 640.3 L1046.6 640.3 L1047.2 658Z" fill="#4282ba" stroke="#4282ba" stroke-width="1" />
<rect x="531.6" y="569.7" width="708.1" height="88.3" fill="none" stroke="#333" stroke-width="1.3" />
<line x1="527.1" y1="569.7" x2="531.6" y2="569.7" stroke="#333" stroke-width="1.2" />
<line x1="527.1" y1="613.9" x2="531.6" y2="613.9" stroke="#333" stroke-width="1.2" />
<line x1="527.1" y1="658" x2="531.6" y2="658" stroke="#333" stroke-width="1.2" />
<text x="526.5" y="577.1" text-anchor="end" >5</text>
<text x="526.5" y="665.4" text-anchor="end" >0</text>
<line x1="531.6" y1="658" x2="531.6" y2="663" stroke="#333" stroke-width="1.2" />
<line x1="644.9" y1="658" x2="644.9" y2="663" stroke="#333" stroke-width="1.2" />
<line x1="758.2" y1="658" x2="758.2" y2="663" stroke="#333" stroke-width="1.2" />
<line x1="871.5" y1="658" x2="871.5" y2="663" stroke="#333" stroke-width="1.2" />
<line x1="984.8" y1="658" x2="984.8" y2="663" stroke="#333" stroke-width="1.2" />
<line x1="1098.1" y1="658" x2="1098.1" y2="663" stroke="#333" stroke-width="1.2" />
<line x1="1211.4" y1="658" x2="1211.4" y2="663" stroke="#333" stroke-width="1.2" />
<text x="885.6" y="685" text-anchor="middle" >(iv) Natural sequence, reproduced from Fig. 4B</text>
<rect x="531.6" y="691.6" width="37.9" height="87.4" fill="#dfdfdf" />
<rect x="1107.6" y="691.6" width="130.1" height="87.4" fill="#dfdfdf" />
<rect x="632.7" y="691.6" width="18.3" height="87.4" fill="#f5eed3" />
<rect x="667.4" y="691.6" width="18.3" height="87.4" fill="#f5eed3" />
<rect x="702" y="691.6" width="18.3" height="87.4" fill="#f5eed3" />
<rect x="736.7" y="691.6" width="18.3" height="87.4" fill="#f5eed3" />
<rect x="771.3" y="691.6" width="18.3" height="87.4" fill="#f5eed3" />
<rect x="806" y="691.6" width="18.3" height="87.4" fill="#f5eed3" />
<rect x="840.6" y="691.6" width="18.3" height="87.4" fill="#f5eed3" />
<rect x="875.2" y="691.6" width="18.3" height="87.4" fill="#f5eed3" />
<rect x="909.9" y="691.6" width="18.3" height="87.4" fill="#f5eed3" />
<rect x="944.5" y="691.6" width="18.3" height="87.4" fill="#f5eed3" />
<rect x="979.2" y="691.6" width="18.3" height="87.4" fill="#f5eed3" />
<rect x="1013.9" y="691.6" width="18.3" height="87.4" fill="#f5eed3" />
<path d="M631 779l0.5 0 0.6 -3.6 0.6 -50.6 0.6 44.8 0.6 -40.3 0.6 48.5 0.6 -65.1 0.6 62.9 0.6 -45.6 0.6 -18.9 0.6 19.1 0.6 32.9 0.6 -38.4 0.6 30 0.6 -25 0.6 -16.7 0.6 17.6 0.6 36.4 0.6 -47.2 0.6 53.4 0.6 -41.4 0.6 45.6 0.6 -42 0.6 36.6 0.6 -44 0.6 26.3 0.6 -15.7 0.6 23.8 0.6 -31.7 0.6 37.5 0.6 -18.6 0.6 24.2 0.6 5.2 0.6 0" fill="none" stroke="#4282ba" stroke-width="1.75" stroke-linejoin="round"/>
<path d="M665.6 779l0.6 0 0.6 -0.7 0.6 -36.7 0.6 -16.7 0.6 7.3 0.6 33.4 0.6 -32.8 0.6 34.3 0.6 -35.2 0.6 32.5 0.6 -25.6 0.6 36.1 0.6 -37.3 0.6 24.3 0.6 -26.3 0.6 41.1 0.6 -34.8 0.6 -10.3 0.6 11.2 0.6 30.8 0.6 -31.1 0.6 24.1 0.6 -25.4 0.6 20.6 0.6 -17.7 0.6 17.8 0.6 -12.3 0.6 28.2 0.6 -30 0.6 21.6 0.6 -15.9 0.6 25 0.6 0.5 0.5 0" fill="none" stroke="#4282ba" stroke-width="1.75" stroke-linejoin="round"/>
<path d="M700.3 779l0.5 0 0.6 -1.9 0.6 -44.2 0.6 37 0.6 -36.1 0.6 41 0.6 -38.6 0.6 40.7 0.6 -45.4 0.6 35.9 0.6 -32.7 0.6 42 0.6 -48.7 0.6 48.4 0.6 -47.5 0.6 28 0.6 -19.3 0.6 -14.4 0.6 -3.9 0.6 39 0.6 -21.3 0.6 -12.6 0.6 16.1 0.6 35.1 0.6 -33.6 0.6 17.6 0.6 -16.2 0.6 24.2 0.6 -23.5 0.6 -26.8 0.6 36.5 0.6 24.9 0.6 0.3 0.6 0" fill="none" stroke="#4282ba" stroke-width="1.75" stroke-linejoin="round"/>
<path d="M735 779l0.4 0 0.7 -2.2 0.6 -47.6 0.6 45.6 0.6 -55.1 0.6 53.3 0.6 -47 0.6 44.7 0.6 -41 0.6 26.4 0.6 -30.2 0.6 48.4 0.6 -50.3 0.6 42.8 0.6 -37.9 0.6 31.1 0.6 -23.8 0.6 35.1 0.6 -47.3 0.6 33.8 0.6 -21.9 0.6 33.5 0.6 -37.4 0.6 31.8 0.6 -22.7 0.6 18.4 0.6 -17.8 0.6 27.9 0.6 -24.8 0.6 17.9 0.6 -10.7 0.6 24.4 0.6 2.6 0.5 0" fill="none" stroke="#4282ba" stroke-width="1.75" stroke-linejoin="round"/>
<path d="M769.6 779l0.5 0 0.6 -3.9 0.6 -56.8 0.6 -10.7 0.6 8.7 0.6 44.9 0.6 -39.4 0.6 43.5 0.6 -46.8 0.6 33.2 0.6 -24.2 0.6 21.4 0.6 -20.4 0.6 47.4 0.6 -56.3 0.6 45.1 0.6 -41.5 0.6 48.8 0.6 -53.6 0.6 45.1 0.6 -41 0.6 41.1 0.6 -32.3 0.6 34.5 0.6 -40.4 0.6 37.4 0.6 -23.5 0.6 22.3 0.6 -23.4 0.6 32.9 0.6 -19.7 0.6 -2.3 0.6 29.9 0.6 0" fill="none" stroke="#4282ba" stroke-width="1.75" stroke-linejoin="round"/>
<path d="M804.2 779l0.6 0 0.6 -12 0.6 -42.8 0.6 53.5 0.6 -59.1 0.6 60.4 0.6 -52.2 0.6 37.6 0.6 -42.3 0.6 40.5 0.6 -43.6 0.6 25.8 0.6 -21.1 0.6 35.6 0.6 -37.2 0.6 55.1 0.6 -51.8 0.6 28.8 0.6 -17.3 0.6 24.5 0.6 -36.3 0.6 45.3 0.6 -32.2 0.6 36.1 0.6 -43.8 0.6 -19.5 0.6 31.7 0.6 17.9 0.6 -20.1 0.6 28.7 0.6 -17.3 0.6 23.1 0.6 4 0.5 0" fill="none" stroke="#4282ba" stroke-width="1.75" stroke-linejoin="round"/>
<path d="M838.9 779l0.5 0 0.6 -1.3 0.6 -49.7 0.6 33.3 0.6 -39.2 0.6 40.1 0.6 -30 0.6 28.8 0.6 -41.2 0.6 34 0.6 -35.9 0.6 36.4 0.6 -22.9 0.6 25.9 0.6 -32.6 0.6 26.9 0.6 -29.9 0.6 53.8 0.6 -48.6 0.6 22.1 0.6 -23 0.6 34.4 0.6 -25.6 0.6 42.8 0.6 -47.8 0.6 32.8 0.6 -23.7 0.6 22.1 0.6 -18.8 0.6 19.6 0.6 -14.7 0.6 29.9 0.6 2 0.6 0" fill="none" stroke="#4282ba" stroke-width="1.75" stroke-linejoin="round"/>
<path d="M873.5 779l0.5 0 0.6 -5.9 0.6 -47.8 0.6 43.5 0.6 -42.6 0.6 48.6 0.6 -52.3 0.7 32.3 0.6 -46.6 0.6 58.1 0.6 -54 0.6 54.4 0.6 -45.8 0.6 36.1 0.6 -30.7 0.6 41.8 0.6 -47.6 0.6 44.8 0.6 -44.3 0.6 56.2 0.6 -50.5 0.6 32.6 0.6 -29.7 0.6 44.4 0.6 -37.3 0.6 22.3 0.6 -28.8 0.6 47.7 0.6 -42.6 0.6 29.5 0.6 -15.7 0.6 25.2 0.6 4.7 0.5 0" fill="none" stroke="#4282ba" stroke-width="1.75" stroke-linejoin="round"/>
<path d="M908.2 779l0.5 0 0.6 -1 0.6 -51.2 0.6 49.9 0.6 -54.9 0.6 37.7 0.6 -48.8 0.6 65 0.6 -61.8 0.6 57.5 0.6 -42.4 0.6 30 0.6 -44.4 0.6 61.1 0.6 -44.1 0.6 40 0.6 -44.8 0.6 49.1 0.6 -43.4 0.6 43.8 0.6 -51.7 0.6 35 0.6 -28 0.6 28.7 0.6 -27.9 0.6 39.5 0.6 -40.5 0.6 39.5 0.6 -36.1 0.6 25.7 0.6 -7.6 0.6 21.1 0.6 5 0.6 0" fill="none" stroke="#4282ba" stroke-width="1.75" stroke-linejoin="round"/>
<path d="M942.8 779l0.6 0 0.6 -3.5 0.6 -44.4 0.6 39.6 0.6 -58.3 0.6 60.8 0.6 -44.9 0.6 49.9 0.6 -65.8 0.6 46.5 0.6 -44.1 0.6 60.9 0.6 -49.8 0.6 52.6 0.6 -59.2 0.6 29.6 0.6 -24.6 0.6 41.9 0.6 -48.9 0.6 44.5 0.6 -40.4 0.6 40.4 0.6 -29.3 0.6 24 0.6 -27 0.6 35.5 0.6 -34.3 0.6 37.4 0.6 -26.7 0.6 32.2 0.6 -30.6 0.6 28.3 0.6 7.7 0.5 0" fill="none" stroke="#4282ba" stroke-width="1.75" stroke-linejoin="round"/>
<path d="M977.5 779l0.5 0 0.6 -6 0.6 -40.3 0.6 44.2 0.6 -57.8 0.6 33.6 0.6 -39.2 0.6 56.3 0.6 -45.1 0.6 29.4 0.6 -35.2 0.6 51.5 0.6 -54.8 0.6 56.2 0.6 -48.7 0.6 37.8 0.6 -49.2 0.6 63.9 0.6 -50.1 0.6 28.1 0.6 -18.8 0.6 22 0.6 -22.6 0.6 33.2 0.6 -31.1 0.6 28.6 0.6 -32.1 0.6 44.5 0.6 -67.2 0.6 51.3 0.6 -16.2 0.6 30.6 0.6 3.2 0.6 0" fill="none" stroke="#4282ba" stroke-width="1.75" stroke-linejoin="round"/>
<path d="M1012.1 779l0.5 0 0.6 -27.6 0.6 -29.2 0.6 41.3 0.6 -37.4 0.6 36.7 0.7 -42.9 0.6 41.2 0.6 -35.3 0.6 46.6 0.6 -54.2 0.6 44.3 0.6 -35.8 0.6 48.7 0.6 -54.9 0.6 44.6 0.6 -41.9 0.6 48.2 0.6 -50.8 0.6 31.2 0.6 -21.9 0.6 45.9 0.6 -38.2 0.6 31.2 0.6 -59.7 0.6 46.9 0.6 -21.8 0.6 33.9 0.6 -34.4 0.6 26.3 0.6 -14.2 0.6 27.1 0.6 -10.1 0.6 16.2 0 0" fill="none" stroke="#4282ba" stroke-width="1.75" stroke-linejoin="round"/>
<path d="M1047.1 779l0.5 0 0.6 -10.7 0.6 -41.8 0.6 23.1 0.6 -31.7 0.6 38.8 0.6 -26.8 0.6 49 0.6 -37.1 0.6 33.7 0.6 -22.7 0.6 11.4 0.6 -9.1 0.6 16.7 0.6 -18.4 0.6 23.3 0.6 -23.8 0.6 16.6 0.6 -16.9 0.6 16.5 0.6 -20.4 0.6 24.3 0.6 -18.3 0.6 12.3 0.6 -16.4 0.6 22.4 0.6 -22 0.6 26.3 0.6 -18.3 0.6 19.9 0.6 0.1 0.4 0" fill="none" stroke="#4282ba" stroke-width="1.75" stroke-linejoin="round"/>
<path d="M546 779 L547.5 768.4 L549 779" fill="none" stroke="#4282ba" stroke-width="1.3" />
<rect x="531.6" y="690.6" width="708.1" height="88.4" fill="none" stroke="#333" stroke-width="1.3" />
<line x1="527.1" y1="690.6" x2="531.6" y2="690.6" stroke="#333" stroke-width="1.2" />
<line x1="527.1" y1="734.8" x2="531.6" y2="734.8" stroke="#333" stroke-width="1.2" />
<line x1="527.1" y1="779" x2="531.6" y2="779" stroke="#333" stroke-width="1.2" />
<text x="526.5" y="698" text-anchor="end" >5</text>
<text x="526.5" y="786.4" text-anchor="end" >0</text>
<line x1="531.6" y1="779" x2="531.6" y2="784" stroke="#333" stroke-width="1.2" />
<line x1="644.9" y1="779" x2="644.9" y2="784" stroke="#333" stroke-width="1.2" />
<line x1="758.2" y1="779" x2="758.2" y2="784" stroke="#333" stroke-width="1.2" />
<line x1="871.5" y1="779" x2="871.5" y2="784" stroke="#333" stroke-width="1.2" />
<line x1="984.8" y1="779" x2="984.8" y2="784" stroke="#333" stroke-width="1.2" />
<line x1="1098.1" y1="779" x2="1098.1" y2="784" stroke="#333" stroke-width="1.2" />
<line x1="1211.4" y1="779" x2="1211.4" y2="784" stroke="#333" stroke-width="1.2" />
<text x="528.6" y="803" text-anchor="middle" >0</text>
<text x="641.9" y="803" text-anchor="middle" >200</text>
<text x="755.2" y="803" text-anchor="middle" >400</text>
<text x="868.5" y="803" text-anchor="middle" >600</text>
<text x="981.8" y="803" text-anchor="middle" >800</text>
<text x="1095.1" y="803" text-anchor="middle" >1000</text>
<text x="1208.4" y="803" text-anchor="middle" >1200</text>
<line x1="569.5" y1="815.2" x2="616" y2="815.2" stroke="#222" stroke-width="1.3" />
<line x1="1048.7" y1="815.2" x2="1109.2" y2="815.2" stroke="#222" stroke-width="1.3" />
<path d="M530 805.9 L561.5 805.9 L569.5 815.2 L561.5 824.6 L530 824.6Z" fill="#b4bbbd" stroke="#333" stroke-width="1.1" stroke-linejoin="miter"/>
<path d="M616 805.9 L1040.7 805.9 L1048.7 815.2 L1040.7 824.6 L616 824.6Z" fill="#6b6b6b" stroke="#333" stroke-width="1.1" stroke-linejoin="miter"/>
<path d="M632.7 805.9 L644 805.9 L651 815.2 L644 824.6 L632.7 824.6Z" fill="#e8a441" stroke="#333" stroke-width="0.9" stroke-linejoin="miter"/>
<path d="M667.4 805.9 L678.6 805.9 L685.6 815.2 L678.6 824.6 L667.4 824.6Z" fill="#e8a441" stroke="#333" stroke-width="0.9" stroke-linejoin="miter"/>
<path d="M702 805.9 L713.3 805.9 L720.3 815.2 L713.3 824.6 L702 824.6Z" fill="#e8a441" stroke="#333" stroke-width="0.9" stroke-linejoin="miter"/>
<path d="M736.7 805.9 L748 805.9 L755 815.2 L748 824.6 L736.7 824.6Z" fill="#e8a441" stroke="#333" stroke-width="0.9" stroke-linejoin="miter"/>
<path d="M771.3 805.9 L782.6 805.9 L789.6 815.2 L782.6 824.6 L771.3 824.6Z" fill="#e8a441" stroke="#333" stroke-width="0.9" stroke-linejoin="miter"/>
<path d="M806 805.9 L817.2 805.9 L824.2 815.2 L817.2 824.6 L806 824.6Z" fill="#e8a441" stroke="#333" stroke-width="0.9" stroke-linejoin="miter"/>
<path d="M840.6 805.9 L851.9 805.9 L858.9 815.2 L851.9 824.6 L840.6 824.6Z" fill="#e8a441" stroke="#333" stroke-width="0.9" stroke-linejoin="miter"/>
<path d="M875.2 805.9 L886.5 805.9 L893.5 815.2 L886.5 824.6 L875.2 824.6Z" fill="#e8a441" stroke="#333" stroke-width="0.9" stroke-linejoin="miter"/>
<path d="M909.9 805.9 L921.2 805.9 L928.2 815.2 L921.2 824.6 L909.9 824.6Z" fill="#e8a441" stroke="#333" stroke-width="0.9" stroke-linejoin="miter"/>
<path d="M944.5 805.9 L955.8 805.9 L962.8 815.2 L955.8 824.6 L944.5 824.6Z" fill="#e8a441" stroke="#333" stroke-width="0.9" stroke-linejoin="miter"/>
<path d="M979.2 805.9 L990.5 805.9 L997.5 815.2 L990.5 824.6 L979.2 824.6Z" fill="#e8a441" stroke="#333" stroke-width="0.9" stroke-linejoin="miter"/>
<path d="M1013.9 805.9 L1025.2 805.9 L1032.2 815.2 L1025.2 824.6 L1013.9 824.6Z" fill="#e8a441" stroke="#333" stroke-width="0.9" stroke-linejoin="miter"/>
<path d="M1240.4 805.9 L1117.2 805.9 L1109.2 815.2 L1117.2 824.6 L1240.4 824.6Z" fill="#b4bbbd" stroke="#333" stroke-width="1.1" stroke-linejoin="miter"/>
<text x="531.6" y="841" font-style="italic" >iap</text>
<text x="581.4" y="841" fill="#707070" >CRISPR repeat</text>
<text x="776.4" y="841" fill="#e8962e" >spacer</text>
<text x="1157" y="841" font-style="italic" >cas2</text>
<text x="1284.5" y="27.9" font-size="32" font-weight="bold" >d</text>
<text x="1315.3" y="24.5" font-size="24.8" >Regions not annotated as phage by geNomad</text>
<rect x="1406.6" y="60.5" width="21.3" height="87.8" fill="#e6e8e7" />
<rect x="1448.8" y="60.5" width="62.8" height="87.8" fill="#e6e8e7" />
<rect x="1543" y="60.5" width="126.9" height="87.8" fill="#e6e8e7" />
<rect x="1784.1" y="60.5" width="58" height="87.8" fill="#e6e8e7" />
<rect x="1892" y="60.5" width="136.3" height="87.8" fill="#e6e8e7" />
<rect x="2056.5" y="60.5" width="79.8" height="87.8" fill="#e6e8e7" />
<path d="M1520 148.3l0 -0.4 0.5 -0.2 0.5 -7.3 0.5 -4.6 0.5 3.1 0.5 -0.8 0.5 10 0.5 -10.1 0.5 -0.9 0.5 4.3 0.5 -5.5 0.5 0.9 0.5 10.7 0.5 -12.1 0.5 2.6 0.5 -1.1 0.5 2.4 0.5 -2.3 0.5 1.4 0.5 -0.6 0.5 -3 0.5 2.7 0.5 -1.5 0 12.3ZM1531 148.3l0 -21.1 0.5 20.9 0.5 -17.8 0.5 -3.8 0.5 3.8 0.5 -2 0.5 8.4 0.5 -9.9 0.5 -2.4 0.5 23.1 0.5 -23.6 0.5 1.6 0.5 4.6 0.5 -6.3 0.5 6.3 0.5 -7.6 0.5 10.4 0.5 -11.1 0.5 8 0.5 -3.7 0.5 21.3 0.5 0.9 0.5 -0.9 0.5 -1 0.5 -12.4 0.5 12.8 0.5 -23.6 0.5 5.6 0.5 -9 0.5 3 0.5 -4.8 0.5 0.5 0.5 2.6 0.5 25.3 0.5 -28.7 0.5 28.8 0.5 -25.2 0.5 -3.5 0.5 28.7 0.5 -34.8 0.5 10.2 0.5 25.5 0.5 -21.3 0 22.2ZM1594 148.3l0 -0.8 0.5 -20.4 0.5 -5.3 0.5 25 0.5 -27.6 0.5 2.1 0.5 25.3 0.5 -26.8 0.5 1.5 0.5 4.6 0.5 22.2 0.5 -21.6 0.5 4.3 0.5 -13.3 0.5 4.6 0.5 -2.7 0.5 2.8 0 26.1ZM1605 148.3l0 -54.3 0.5 1.1 0.5 24.8 0.5 27.5 0.5 -1.7 0.5 0.2 0.5 -44.7 0.5 44.5 0.5 -30.7 0.5 -7.5 0.5 -7.6 0.5 -1.6 0.5 -10.9 0.5 15.6 0.5 17.2 0.5 -31.7 0.5 58 0.5 -33.1 0.5 32.3 0.5 -55.9 0.5 11.8 0.5 9 0.5 36.7 0.5 -46 0.5 -14.7 0.5 60.4 0.5 -0.9 0.5 -60.9 0.5 7.1 0.5 18.4 0.5 0.1 0.5 -14.4 0.5 49 0.5 -53.8 0.5 0.4 0.5 24.8 0.5 29.9 0.5 -59.2 0.5 -2.9 0.5 5.5 0.5 -0.6 0 58.8ZM1625 148.3l0 -52.9 0.5 -5.1 0.5 57 0.5 -59.1 0.5 10.7 0.5 45.9 0.5 -63 0.5 -3 0.5 11.2 0.5 -13.4 0.5 2.5 0.5 -3.2 0.5 19.5 0.5 48.3 0.5 1.7 0.5 2.2 0.5 -54.3 0.5 6.6 0.5 -13.5 0.5 60.8 0.5 -58.3 0.5 -13.6 0.5 12.9 0.5 3.2 0.5 -12.9 0.5 7.9 0.5 5.9 0.5 -0.5 0.5 -16.1 0.5 -0.3 0.5 69.9 0.5 -53.3 0.5 -11.7 0.5 13.9 0.5 50.6 0.5 -1.9 0.5 -55 0.5 1.5 0.5 -14.6 0.5 21.2 0.5 -13.8 0.5 21.8 0.5 -3.9 0.5 -5.8 0.5 -20.1 0.5 5.3 0.5 -3 0.5 26.5 0.5 -22.6 0.5 6 0.5 0.7 0.5 -7.5 0.5 10.8 0.5 -6.1 0.5 7.7 0.5 55.4 0.5 -63.7 0.5 12.6 0.5 -4.9 0.5 -4.7 0.5 58.5 0.5 -68 0.5 3.5 0.5 2 0.5 -7.1 0.5 18.7 0.5 4.7 0.5 -11.8 0.5 9.9 0.5 -14.5 0.5 -0.5 0.5 15.2 0.5 -18.7 0.5 3.9 0.5 61.6 0.5 3.3 0.5 -0.2 0.5 -54.1 0.5 51.8 0.5 -1.2 0.5 3.4 0.5 -69.8 0.5 12.2 0.5 -1.7 0.5 -5.6 0.5 -8.6 0.5 36 0.5 -14.1 0.5 -17.6 0 70.4ZM1669 148.3l0 -14.8 0.5 -2 0.5 -1.3 0.5 3.5 0.5 1.7 0.5 -2.6 0.5 1.8 0.5 3.1 0.5 -4.5 0.5 -2.1 0.5 -0.6 0.5 -0.6 0.5 4.6 0.5 1.2 0.5 2 0.5 -3.9 0.5 -3 0.5 16.9 0.5 -0.1 0.5 -16.2 0.5 4.8 0.5 -4.3 0.5 -1.4 0.5 -0.7 0.5 6.9 0.5 -6.3 0.5 0.3 0.5 4.8 0.5 -0.6 0.5 -5.5 0.5 4.7 0.5 0.8 0.5 -4 0.5 6.2 0.5 -4.3 0.5 1.2 0.5 -1.8 0.5 -0.5 0.5 -0.4 0.5 1.9 0.5 -3.8 0.5 0.4 0.5 -0.8 0 19.3ZM1690 148.3l0 -21.7 0.5 -11.8 0.5 7.6 0.5 -8.6 0.5 -1 0.5 13.3 0.5 0 0.5 -9.3 0.5 -7.8 0.5 0.4 0.5 3.8 0.5 -6.2 0.5 5.6 0.5 -1.6 0.5 1.8 0.5 -10.3 0.5 0.6 0.5 2.8 0.5 1.9 0.5 -8.8 0.5 5 0.5 1.9 0.5 -4.1 0.5 -4.2 0.5 -1.3 0.5 8.1 0.5 -11.5 0 55.4ZM1703 148.3l0 -53.2 0.5 -0.2 0.5 9.8 0.5 0.2 0.5 -4.5 0.5 5.6 0.5 2.4 0.5 -1.5 0.5 8.4 0.5 -7 0.5 7.8 0.5 -3 0.5 1.5 0.5 -0.4 0.5 4.2 0.5 -3.5 0.5 -0.9 0.5 4.6 0.5 -4 0.5 1.6 0.5 6.2 0.5 5.8 0.5 -7.7 0.5 6.1 0.5 0 0.5 -1.2 0.5 -1.7 0 24.6ZM1716 148.3l0 -22.9 0.5 0.5 0.5 -1.2 0.5 0.1 0.5 2.1 0.5 3.8 0.5 -4 0.5 2.9 0.5 -5.1 0.5 8.1 0.5 -5.2 0.5 -4.1 0.5 3.7 0.5 -1.9 0.5 7.3 0.5 -3.9 0.5 -7.7 0.5 2.6 0.5 3.2 0.5 -2.2 0.5 -3.1 0.5 -0.4 0.5 25.7 0.5 -20.1 0.5 21 0.5 -26.2 0.5 1.1 0.5 -0.8 0.5 5 0.5 -2.1 0.5 -5.8 0.5 4.7 0.5 -5.4 0.5 12.1 0.5 -14.6 0.5 9.6 0.5 -4.8 0.5 -5.4 0.5 8.6 0.5 0.3 0.5 -10.5 0.5 34.4 0.5 -29.7 0.5 9.4 0.5 -10.9 0.5 5.3 0.5 0.6 0 25.9ZM1772 148.3l0 -0.6 0.5 -28 0.5 -1.9 0.5 30.2 0.5 -37.4 0.5 3.2 0.5 16 0.5 -11.2 0.5 7.1 0.5 -10.3 0.5 0.7 0.5 5.3 0.5 -1.3 0.5 27.5 0.5 -0.6 0.5 -17.7 0.5 1.7 0.5 -5.7 0.5 -0.8 0.5 23.2 0.5 -17.5 0.5 17.5 0.5 -13.6 0.5 -2.4 0.5 7.2 0.5 -2.1 0.5 0.4 0 11.1ZM1840 148.3l0 -32.2 0.5 30 0.5 -27.7 0.5 -1.1 0.5 -1.9 0.5 -0.6 0.5 15.1 0.5 -7.5 0.5 -2.6 0.5 13.5 0.5 14.4 0.5 -25.4 0.5 2.8 0.5 1.3 0.5 5.6 0.5 2.7 0.5 12.9 0.5 -22.1 0.5 2 0.5 11.2 0.5 -0.1 0.5 -5.9 0.5 0.3 0.5 0.7 0.5 -0.8 0.5 15 0.5 -13.6 0.5 4.9 0.5 -0.1 0.5 -1.7 0.5 2.3 0 8.6ZM1888 148.3l0 -14.4 0.5 -10.4 0.5 12.8 0.5 -5.2 0.5 5.1 0.5 -17.5 0.5 8.2 0.5 -3.4 0.5 -3.8 0.5 1.3 0.5 -3 0.5 6 0.5 -3.2 0.5 -2.1 0.5 13.9 0 15.7ZM1895 148.3l0 -69.1 0.5 2.9 0.5 1.4 0.5 -5.7 0.5 5 0.5 4.5 0.5 1.8 0.5 9.2 0.5 -19.8 0.5 2.6 0.5 6.5 0.5 -8.2 0.5 1.6 0.5 4.9 0.5 -7.5 0.5 0.8 0.5 7 0.5 0.4 0.5 6.7 0.5 1.8 0.5 -7.1 0.5 3.4 0.5 5.1 0.5 -15 0.5 -3.1 0.5 3.8 0.5 -3.1 0.5 0.5 0.5 3.3 0.5 2 0.5 3.2 0.5 -2.7 0.5 3.5 0.5 3.8 0.5 -7.3 0.5 -2.7 0.5 1.2 0.5 -2.3 0.5 7 0.5 14.3 0.5 -11.3 0.5 -2 0.5 -5.1 0.5 3 0.5 -4.7 0.5 8.5 0.5 -5.3 0.5 16 0.5 -19.6 0.5 -2.5 0.5 0.1 0.5 -0.2 0.5 12.3 0.5 -13.7 0.5 6.2 0.5 7.8 0.5 3.2 0.5 0.9 0.5 -13.3 0.5 0.2 0.5 -2.4 0.5 1.9 0.5 2.3 0.5 7.9 0.5 -11.3 0.5 19.8 0.5 -18.7 0.5 10.1 0.5 0.2 0.5 -13.7 0.5 -0.3 0.5 2.9 0.5 9.2 0.5 -5.2 0.5 2.5 0.5 6 0.5 -3.5 0.5 6.1 0.5 -18.5 0.5 12.4 0.5 -3.4 0.5 3.2 0.5 -7.7 0.5 1.4 0.5 -3.1 0.5 19 0.5 -8.5 0.5 -8 0.5 0.4 0.5 -3.7 0.5 15.4 0.5 -8 0.5 -0.6 0.5 -2 0.5 3 0.5 -6.5 0.5 13.2 0.5 1.9 0.5 -7.7 0.5 6.4 0.5 -8 0.5 -3.3 0.5 11.5 0.5 -9.5 0.5 -1.6 0.5 -0.2 0.5 14.2 0.5 -17.3 0.5 0.7 0.5 7.5 0.5 -3.5 0.5 -4.2 0.5 -1.3 0.5 10.2 0.5 -9.3 0.5 5.5 0.5 -7.9 0.5 1 0.5 8.2 0.5 0 0.5 -2.4 0.5 -6.9 0.5 14.7 0.5 -8.8 0.5 -1.6 0.5 -1 0.5 14.3 0.5 -12.5 0.5 2.5 0.5 2.2 0.5 -9.8 0.5 16 0.5 -12.5 0.5 9.5 0.5 -12.7 0.5 6.5 0.5 0.8 0.5 4.3 0.5 -5.7 0.5 -4.8 0.5 16 0.5 -13.1 0.5 10.4 0.5 -2.2 0.5 -10.9 0.5 15.8 0.5 -14.1 0.5 14.8 0.5 -11.4 0.5 -1.8 0.5 9.8 0.5 -12.4 0.5 10.3 0.5 -5.3 0.5 4.8 0.5 -9.2 0.5 9 0.5 -0.3 0.5 9.7 0.5 -20.2 0.5 18.4 0.5 -9 0.5 -5.9 0.5 5.5 0.5 -4.7 0.5 4.1 0.5 -8.1 0.5 13 0.5 6.3 0.5 -4.3 0.5 -9.8 0.5 -1.1 0.5 -3.4 0.5 -1.5 0.5 8.2 0.5 -6.6 0.5 6.5 0.5 0.7 0.5 5.8 0.5 -13.5 0.5 8.4 0.5 -5.3 0.5 2 0.5 -6.7 0.5 11.8 0.5 -5.6 0.5 -3.5 0.5 10.7 0.5 -11.1 0.5 3.8 0.5 10.1 0.5 -15.7 0.5 8.1 0.5 -1.1 0.5 -4.7 0.5 -2.3 0.5 11.6 0.5 3 0.5 -11.7 0.5 0.9 0.5 3.7 0.5 -3.2 0.5 -4 0.5 1.3 0.5 3.9 0.5 -4.7 0.5 0 0.5 1.8 0.5 12.6 0.5 -9.6 0.5 -0.6 0.5 -3.8 0.5 5.2 0.5 -1.5 0.5 -1.5 0.5 13.1 0.5 1.3 0.5 1.4 0.5 -3.5 0.5 -4.2 0.5 6.7 0.5 -13 0.5 0.4 0.5 1.9 0.5 13.6 0.5 -14.7 0.5 8.6 0.5 6.7 0.5 -19.3 0.5 -1.4 0.5 16 0.5 -12.7 0.5 13.6 0.5 -12.4 0.5 -0.6 0.5 0.5 0.5 -5.3 0.5 66.7 0.5 -53 0.5 -13 0.5 9.8 0.5 -4.4 0.5 1.8 0.5 -5.6 0.5 14.2 0.5 -7.4 0.5 -1.3 0.5 -2.5 0.5 -4.2 0.5 9.4 0.5 -0.9 0.5 -5.4 0.5 8.4 0.5 -5.9 0.5 3.4 0.5 -5.2 0.5 0.7 0.5 -1.6 0.5 4 0.5 4 0.5 8.4 0.5 -15.1 0.5 7 0.5 9.3 0.5 -12.5 0.5 2 0.5 -7 0.5 6.5 0.5 -1.4 0.5 -5.6 0.5 0.7 0.5 9.7 0.5 -8.4 0.5 -4.6 0.5 0.3 0.5 0.7 0.5 9 0.5 -10.3 0.5 12.3 0.5 -4.3 0.5 6.8 0 52.9ZM2035 148.3l0 0 0.5 -17.4 0.5 -3.2 0.5 2.7 0.5 7.6 0.5 -6.1 0.5 4.9 0.5 -11.6 0.5 2 0.5 4 0.5 16.8 0.5 -10.3 0.5 -3.4 0.5 -4 0.5 17.5 0.5 -15.1 0.5 15 0.5 -9.6 0.5 -0.4 0.5 0 0.5 10.3 0.5 0.3 0.5 -10.2 0.5 -10.6 0.5 -1.1 0.5 21.8 0.5 -8.9 0.5 -1.7 0.5 -0.2 0.5 1.3 0.5 -6.7 0.5 8.1 0.5 -11.4 0.5 4.4 0.5 14.7 0.5 -8.8 0.5 -7.6 0.5 -2.1 0.5 2.1 0.5 4.6 0.5 -6.7 0.5 3 0.5 -0.7 0 16.7ZM1790.1 148.3L1790.1 88.4l1.2 0L1791.3 148.3ZM1797.2 148.3L1797.2 94.9l1.2 0L1798.4 148.3ZM1801.9 148.3L1801.9 85.9l1.2 0L1803.1 148.3ZM1806.6 148.3L1806.6 86.7l1.2 0L1807.8 148.3ZM1811.4 148.3L1811.4 97.4l1.2 0L1812.6 148.3ZM1817.2 148.3L1817.2 87.5l1.2 0L1818.4 148.3ZM1823.1 148.3L1823.1 91.7l1.2 0L1824.3 148.3ZM1824.9 148.3L1824.9 91.7l1.2 0L1826.1 148.3ZM1826.7 148.3L1826.7 93.3l1.2 0L1827.9 148.3ZM1830.2 148.3L1830.2 78.5l1.2 0L1831.4 148.3ZM1832.6 148.3L1832.6 83.4l1.2 0L1833.8 148.3ZM1835.4 148.3L1835.4 99l1.2 0L1836.6 148.3ZM1839.6 148.3L1839.6 94.1l1.2 0L1840.8 148.3Z" fill="#4282ba" />
<rect x="1396.5" y="58.5" width="740.8" height="89.8" fill="none" stroke="#222" stroke-width="1.4" />
<line x1="1391.5" y1="66.2" x2="1396.5" y2="66.2" stroke="#222" stroke-width="1.3" />
<line x1="1391.5" y1="148.3" x2="1396.5" y2="148.3" stroke="#222" stroke-width="1.3" />
<text x="1388.5" y="73.6" text-anchor="end" >10</text>
<text x="1388.5" y="155.7" text-anchor="end" >0</text>
<line x1="1396.5" y1="148.3" x2="1396.5" y2="153.3" stroke="#222" stroke-width="1.3" />
<text x="1396.5" y="173.5" text-anchor="middle" >0</text>
<line x1="1498.4" y1="148.3" x2="1498.4" y2="153.3" stroke="#222" stroke-width="1.3" />
<text x="1498.4" y="173.5" text-anchor="middle" >1000</text>
<line x1="1600.3" y1="148.3" x2="1600.3" y2="153.3" stroke="#222" stroke-width="1.3" />
<text x="1600.3" y="173.5" text-anchor="middle" >2000</text>
<line x1="1702.2" y1="148.3" x2="1702.2" y2="153.3" stroke="#222" stroke-width="1.3" />
<text x="1702.2" y="173.5" text-anchor="middle" >3000</text>
<line x1="1804.1" y1="148.3" x2="1804.1" y2="153.3" stroke="#222" stroke-width="1.3" />
<text x="1804.1" y="173.5" text-anchor="middle" >4000</text>
<line x1="1906" y1="148.3" x2="1906" y2="153.3" stroke="#222" stroke-width="1.3" />
<text x="1906" y="173.5" text-anchor="middle" >5000</text>
<line x1="2007.9" y1="148.3" x2="2007.9" y2="153.3" stroke="#222" stroke-width="1.3" />
<text x="2007.9" y="173.5" text-anchor="middle" >6000</text>
<line x1="2109.8" y1="148.3" x2="2109.8" y2="153.3" stroke="#222" stroke-width="1.3" />
<text x="2109.8" y="173.5" text-anchor="middle" >7000</text>
<text x="1397.5" y="51.4"  >748,180</text>
<text x="2133.3" y="55.4" text-anchor="end" >755,450</text>
<text x="1654" y="53.4"  ><tspan font-style="italic">E. coli</tspan> strain 06-00048</text>
<text x="1255.5" y="171"  >Position (bp)</text>
<text x="1358.7" y="92.5" text-anchor="end" fill="#4a87bf" >(Pro)phage</text>
<text x="1364.4" y="116.5" text-anchor="end" fill="#a3a3a3" >f/19746</text>
<line x1="1396.5" y1="191.5" x2="2137.3" y2="191.5" stroke="#333" stroke-width="1.1" />
<path d="M1396.5 180.5 L1399.8 180.5 L1404.8 191.5 L1399.8 202.5 L1396.5 202.5Z" fill="#8b5fb9" stroke="#4a2f6a" stroke-width="0.9" stroke-linejoin="miter"/>
<path d="M1428.6 180.5 L1417 180.5 L1406 191.5 L1417 202.5 L1428.6 202.5Z" fill="#b2b8ba" stroke="#333" stroke-width="1.1" stroke-linejoin="miter"/>
<path d="M1448.4 180.5 L1501 180.5 L1512 191.5 L1501 202.5 L1448.4 202.5Z" fill="#b2b8ba" stroke="#333" stroke-width="1.1" stroke-linejoin="miter"/>
<path d="M1543 180.5 L1584 180.5 L1595 191.5 L1584 202.5 L1543 202.5Z" fill="#b2b8ba" stroke="#333" stroke-width="1.1" stroke-linejoin="miter"/>
<path d="M1595 180.5 L1659.5 180.5 L1670.5 191.5 L1659.5 202.5 L1595 202.5Z" fill="#b2b8ba" stroke="#333" stroke-width="1.1" stroke-linejoin="miter"/>
<path d="M1784 180.5 L1831 180.5 L1842 191.5 L1831 202.5 L1784 202.5Z" fill="#b2b8ba" stroke="#333" stroke-width="1.1" stroke-linejoin="miter"/>
<path d="M2028.7 180.5 L1902.6 180.5 L1891.6 191.5 L1902.6 202.5 L2028.7 202.5Z" fill="#b2b8ba" stroke="#333" stroke-width="1.1" stroke-linejoin="miter"/>
<path d="M2056.3 180.5 L2126 180.5 L2137 191.5 L2126 202.5 L2056.3 202.5Z" fill="#b2b8ba" stroke="#333" stroke-width="1.1" stroke-linejoin="miter"/>
<line x1="1396.5" y1="207.4" x2="1404.8" y2="207.4" stroke="#8b5fb9" stroke-width="2.2" />
<line x1="1406.6" y1="207.4" x2="1427.9" y2="207.4" stroke="#8e9899" stroke-width="2.2" />
<line x1="1448.8" y1="207.4" x2="1511.6" y2="207.4" stroke="#8e9899" stroke-width="2.2" />
<line x1="1543" y1="207.4" x2="1593" y2="207.4" stroke="#8e9899" stroke-width="2.2" />
<line x1="1597" y1="207.4" x2="1669.9" y2="207.4" stroke="#8e9899" stroke-width="2.2" />
<line x1="1784.1" y1="207.4" x2="1842.1" y2="207.4" stroke="#8e9899" stroke-width="2.2" />
<line x1="1892" y1="207.4" x2="2028.3" y2="207.4" stroke="#8e9899" stroke-width="2.2" />
<line x1="2056.5" y1="207.4" x2="2137" y2="207.4" stroke="#8e9899" stroke-width="2.2" />
<line x1="1417.6" y1="207.4" x2="1417.6" y2="267" stroke="#8e9899" stroke-width="1.6" />
<line x1="1477.4" y1="207.4" x2="1477.4" y2="246.6" stroke="#8e9899" stroke-width="1.6" />
<line x1="1568.8" y1="207.4" x2="1568.8" y2="229.5" stroke="#8e9899" stroke-width="1.6" />
<rect x="1312.5" y="211.2" width="96.7" height="20.3" fill="#fff" />
<text x="1313" y="227"  >trnQ tRNA</text>
<rect x="1606.6" y="209.2" width="44.8" height="20.3" fill="#fff" />
<text x="1629" y="225" text-anchor="middle" font-style="italic" >parB</text>
<rect x="1542" y="230.2" width="153.3" height="20.3" fill="#fff" />
<text x="1542.5" y="246"  >Ribonuclease HI</text>
<rect x="1440.5" y="250.8" width="234" height="20.3" fill="#fff" />
<text x="1441" y="266.6"  >30S ribosomal protein S4</text>
<rect x="1397.5" y="272.2" width="289.4" height="20.3" fill="#fff" />
<text x="1398" y="288"  >MFS domain-containing protein</text>
<rect x="1768.2" y="209.9" width="82.9" height="20.3" fill="#fff" />
<text x="1809.6" y="225.7" text-anchor="middle" font-style="italic" >spoIVCA</text>
<rect x="1916.5" y="209.9" width="86.4" height="20.3" fill="#fff" />
<text x="1959.7" y="225.7" text-anchor="middle" >integrase</text>
<rect x="2073.6" y="209.9" width="44.8" height="20.3" fill="#fff" />
<text x="2096" y="225.7" text-anchor="middle" font-style="italic" >tspO</text>
<rect x="1397.4" y="327.4" width="16.8" height="87.4" fill="#e6e8e7" />
<rect x="1415" y="327.4" width="52.2" height="87.4" fill="#e6e8e7" />
<rect x="1468" y="327.4" width="64.9" height="87.4" fill="#e6e8e7" />
<rect x="1547.6" y="327.4" width="123.4" height="87.4" fill="#e6e8e7" />
<rect x="1677" y="327.4" width="16.6" height="87.4" fill="#e6e8e7" />
<rect x="1702.4" y="327.4" width="73" height="87.4" fill="#e6e8e7" />
<rect x="1792" y="327.4" width="136.6" height="87.4" fill="#e6e8e7" />
<rect x="1977.4" y="327.4" width="28.5" height="87.4" fill="#e6e8e7" />
<rect x="2070.7" y="327.4" width="32.3" height="87.4" fill="#e6e8e7" />
<rect x="2106" y="327.4" width="32.2" height="87.4" fill="#e6e8e7" />
<path d="M1537.6 414.8l0 -9.2 0.5 -0.3 0.5 8.9 0.5 -6.9 0.5 -3.9 0.5 11.1 0.5 -8.2 0.5 1.6 0.5 -2.4 0.5 -2.4 0.5 0.6 0.5 10.8 0.5 -10.1 0.5 -1.3 0.5 1.4 0.5 -1.2 0.5 -1.6 0.5 1.3 0.5 11.5 0.5 -8.2 0 8.5ZM1547.5 414.8l0 -33.3 0.5 -2.2 0.5 -14.7 0.5 14.2 0.5 4.4 0.5 -26.1 0.5 16.3 0.5 -11.5 0.5 -2 0.5 -3.3 0.5 0.5 0.5 -6.1 0 63.8ZM1553 414.8l0 -68.7 0.5 17 0.5 -8 0.5 -1.9 0.5 -5.4 0.5 3 0.5 -6.2 0.5 6.6 0.5 -11.1 0.5 -0.7 0.5 19.6 0.5 -5.7 0.5 -7.7 0.5 -3.4 0.5 16.6 0.5 -4.7 0.5 -6.5 0.5 -3.7 0.5 -3.5 0.5 0.5 0.5 1.1 0.5 17.5 0.5 -20.1 0.5 5.5 0.5 13 0.5 -5.6 0.5 -7.5 0.5 4.4 0.5 -1.2 0.5 -6.1 0.5 -0.2 0.5 4.5 0.5 -4 0.5 6.7 0.5 -9.3 0.5 5.6 0.5 -5.5 0.5 20.6 0.5 -19.4 0.5 5.2 0.5 -2.6 0.5 10.8 0.5 -8 0.5 64.6 0.5 -53.5 0.5 7.1 0.5 -23.8 0.5 68.4 0.5 -55.1 0.5 -1.4 0.5 -4.6 0.5 -5.9 0.5 14.9 0.5 -17 0.5 0.3 0.5 12.7 0.5 -8.1 0.5 5.4 0.5 -6.3 0.5 14.4 0.5 -10.4 0.5 -2.1 0.5 -0.7 0.5 -1 0.5 -3 0.5 12.1 0.5 58.9 0.5 -62.4 0.5 -3.5 0.5 -6 0.5 3.7 0.5 -0.4 0.5 -3.4 0.5 67.5 0.5 -54.8 0.5 -3.7 0.5 2.9 0.5 -7.1 0.5 -4.4 0.5 15.6 0.5 -8.8 0.5 -2.7 0.5 3.2 0.5 -6.7 0.5 2.6 0.5 -2.2 0.5 16.2 0.5 -2.9 0.5 5 0.5 -17.5 0.5 -1.8 0.5 23.1 0.5 -20.6 0.5 0.9 0.5 -2.6 0.5 11.6 0.5 -8.7 0.5 9.6 0.5 5.7 0.5 -15.7 0.5 17.6 0.5 -16.9 0.5 8.2 0.5 -4.5 0.5 -6.5 0.5 12.1 0.5 -5.1 0.5 2.3 0.5 4.3 0.5 -6.7 0.5 7 0.5 -12.5 0.5 3 0.5 6.8 0.5 -12.2 0.5 10.7 0.5 -6.2 0.5 -1 0.5 66.3 0.5 -46.2 0.5 -22.4 0.5 -0.9 0.5 15.2 0.5 0.6 0.5 -7.2 0.5 -3 0.5 -6 0.5 0.4 0.5 -0.3 0.5 13.4 0.5 -7.5 0.5 3.1 0.5 4.8 0.5 6.1 0.5 -4.2 0.5 -5 0.5 8.1 0.5 -2.4 0.5 4.8 0.5 -15.6 0.5 2.4 0.5 5.6 0.5 -6.2 0.5 2 0.5 -4.3 0.5 -4.1 0.5 10 0.5 -5.6 0.5 9 0.5 -13.5 0.5 5 0.5 10.5 0.5 -3 0.5 3 0.5 -0.7 0.5 -3.5 0.5 -9.5 0.5 6.3 0.5 4 0.5 -3.2 0.5 3.5 0.5 -9.2 0.5 16.6 0.5 -7.9 0.5 -0.8 0.5 3.8 0.5 -11.7 0.5 11.8 0.5 -3.3 0.5 56.6 0.5 -65.3 0.5 7.2 0.5 -5.5 0.5 9.3 0.5 8.6 0.5 -11.3 0.5 -8.5 0.5 -0.9 0.5 8.8 0.5 -8.9 0.5 18.8 0.5 -13.4 0.5 5.8 0.5 -4.2 0.5 5.2 0.5 -12.8 0.5 10.7 0.5 -11.4 0.5 17.4 0.5 -8.8 0.5 -0.3 0.5 -4.7 0.5 6.9 0.5 -3.1 0.5 11.9 0.5 -8 0.5 -7.9 0.5 14.3 0.5 -9.6 0.5 5.2 0.5 2.2 0.5 54.4 0.5 -67.8 0.5 2 0.5 5.8 0.5 -0.2 0.5 -6.2 0.5 2.1 0.5 -4.9 0.5 0 0.5 7.2 0.5 -3.2 0.5 2 0.5 4.9 0.5 -3.1 0.5 -4.8 0.5 2.9 0.5 -1.4 0.5 2.7 0.5 -7.6 0.5 2.6 0.5 14.2 0.5 -14.7 0.5 -1.5 0.5 1.5 0.5 8.6 0.5 -0.5 0.5 3.1 0.5 7 0.5 -12.2 0.5 -6.4 0.5 1.2 0.5 1.7 0.5 -2.8 0.5 67.4 0.5 -55.2 0 58.3ZM1670.5 414.8l0 -16.6 0.5 -5 0.5 4.9 0.5 -2.2 0.5 -4.3 0.5 3.4 0.5 -3.8 0.5 0.7 0.5 21.1 0.5 -15.4 0.5 -3.5 0.5 -3.3 0.5 1.8 0 22.2ZM1676.8 414.8l0 -57 0.5 -0.7 0.5 -2.9 0.5 55.9 0.5 -64.5 0.5 14.6 0.5 -5.5 0.5 1 0.5 -5.3 0.5 1.9 0.5 22.7 0.5 -29.9 0.5 5.3 0.5 17.8 0.5 -13.3 0.5 -10.4 0.5 0.6 0.5 67.7 0.5 -47.8 0.5 -21.1 0.5 5.3 0.5 2 0.5 7.9 0.5 -12.7 0.5 21.9 0.5 -20.8 0.5 0.9 0.5 7.8 0.5 5.5 0.5 -10 0.5 9.4 0.5 -0.7 0.5 5.8 0.5 -16.4 0 65ZM1693.5 414.8l0 -19.8 0.5 1.9 0.5 -3.7 0.5 -2.6 0.5 5.5 0.5 -5.2 0.5 2.3 0.5 -0.7 0.5 -1.5 0.5 1.7 0.5 3.8 0.5 -1 0.5 4 0.5 14.8 0.5 -24.8 0.5 -2.9 0 28.2ZM1701.4 414.8l0 -74.8 0.5 10 0.5 -2 0.5 -10.5 0.5 -2.3 0.5 3.8 0.5 -5 0.5 2.1 0.5 6.9 0.5 1.7 0.5 4.4 0.5 65.1 0.5 -72.4 0.5 -6.2 0.5 6.5 0.5 -6.4 0.5 2.4 0.5 2.7 0.5 -2.8 0.5 0.1 0.5 17.7 0.5 -18.8 0.5 15.8 0.5 -11.2 0.5 1.1 0.5 -4.7 0.5 11.1 0.5 58.9 0.5 -70.3 0.5 8.3 0.5 -4.7 0.5 3.3 0.5 -6.1 0.5 -1.9 0.5 6.2 0.5 16.5 0.5 -23.1 0.5 5.3 0.5 9.3 0.5 -11.6 0.5 72.2 0.5 -60.2 0.5 -4.5 0.5 -5.2 0.5 5.5 0.5 5.5 0.5 3.7 0.5 -10.2 0.5 -6.3 0.5 7.3 0.5 -1.4 0.5 -6.8 0.5 2.6 0.5 -5.1 0.5 2.2 0.5 -1.4 0.5 6.8 0.5 -4.3 0.5 -3.2 0.5 23.8 0.5 -15.3 0.5 -4.7 0.5 10.2 0.5 5.7 0.5 -11.7 0.5 12.1 0.5 -3.7 0.5 4.6 0.5 -16.6 0.5 16.7 0.5 -19.3 0.5 5.6 0.5 3 0.5 6.6 0.5 -6.3 0.5 3.3 0.5 -11.1 0.5 5.7 0.5 15 0.5 -21.5 0.5 -0.6 0.5 0 0.5 12.3 0.5 -4.7 0.5 -3.6 0.5 13.4 0.5 -8.3 0.5 2.3 0.5 -9.3 0.5 19.8 0.5 -20.5 0.5 21.2 0.5 -21.1 0.5 7.4 0.5 6.3 0.5 -3.2 0.5 -10.5 0.5 13.7 0.5 -11.8 0.5 -1 0.5 10.2 0.5 -5.6 0.5 1.2 0.5 63.3 0.5 -55.9 0.5 -4.5 0.5 -5.1 0.5 11.1 0.5 -3.3 0.5 -9.2 0.5 1.9 0.5 1.4 0.5 -4.5 0.5 11.1 0.5 -11.6 0.5 9.7 0.5 -9.6 0.5 2.6 0.5 0.2 0.5 1.8 0.5 -2.5 0.5 8.1 0.5 -7.4 0.5 12.9 0.5 -11.6 0.5 -4.3 0.5 0.1 0.5 12.2 0 61.8ZM1765 414.8l0 -51.9 0.5 -9.7 0.5 -7 0.5 67.1 0.5 -47.5 0.5 -10 0.5 -6.2 0.5 5 0.5 18.9 0.5 -12.5 0.5 2.3 0.5 -0.9 0.5 -11.3 0.5 3 0.5 -2.2 0.5 3.6 0.5 55.5 0.5 -47.4 0.5 -8.8 0.5 55.7 0.5 -52.7 0.5 13.6 0.5 -13.6 0.5 9.4 0.5 -9.4 0.5 12.6 0.5 -1.7 0.5 -1.9 0.5 -6 0.5 2.9 0.5 10.5 0.5 40.3 0.5 -51.1 0 51.4ZM1781 414.8l0 -0.2 0.5 -46.7 0.5 1.4 0.5 44.5 0.5 -36.6 0.5 36.6 0.5 -38.4 0.5 9.4 0.5 6.1 0.5 -6.2 0.5 29.6 0.5 -36.8 0.5 -2.8 0.5 2.7 0.5 1.2 0.5 1.1 0.5 -4.3 0.5 2.1 0.5 0.7 0.5 36.6 0.5 -24.1 0.5 -13.6 0.5 3.1 0 34.6ZM1792 414.8l0 -60.5 0.5 -1.1 0.5 -3.7 0.5 3.9 0.5 8.7 0.5 -12.7 0.5 12.2 0.5 -4.5 0.5 12.5 0.5 -18.6 0.5 -2.8 0.5 9.3 0.5 10.1 0.5 -10.3 0.5 5.3 0.5 47 0.5 -0.4 0.5 -57.4 0.5 0.3 0.5 3.8 0.5 -3.5 0.5 2.8 0.5 1.9 0.5 9.5 0.5 44 0.5 -53.2 0.5 -8.8 0.5 -0.6 0.5 9 0.5 52.8 0.5 -55.3 0.5 -5 0.5 -2.7 0.5 27.3 0.5 -25.3 0.5 12.9 0.5 0.9 0.5 48.9 0.5 -49.7 0.5 -6.2 0.5 9.9 0.5 7.2 0.5 38.3 0.5 -46.2 0.5 -16.1 0.5 22.9 0.5 -5 0.5 -18 0.5 13.4 0.5 -8.1 0.5 17.3 0.5 -18.5 0.5 3.4 0.5 -5.4 0.5 2.1 0.5 0.7 0.5 3.5 0.5 -1.7 0.5 -3.5 0.5 8 0.5 -6.1 0.5 13.2 0.5 -16.3 0.5 4.3 0.5 11.4 0 48.5ZM1926.3 414.8l0 -51.9 0.5 -1.4 0.5 6.3 0.5 45.8 0.5 -40.2 0.5 -3 0.5 8 0.5 36 0.5 -50.5 0.5 -1.2 0.5 16.9 0.5 34.9 0.5 -51.5 0.5 0.7 0.5 48.1 0.5 -33.6 0.5 -2.4 0.5 -12.7 0.5 -4.9 0.5 0.4 0.5 18 0.5 36.7 0.5 -48.8 0.5 -2.6 0.5 52.8 0.5 -45.9 0.5 -7.3 0.5 -1.2 0.5 -2.8 0.5 56.2 0.5 -29.8 0.5 -12.5 0.5 -10.4 0.5 50.5 0.5 -60.8 0.5 60.6 0.5 -58.8 0.5 18.1 0.5 -16.7 0.5 1.3 0.5 -6.6 0.5 64.8 0.5 1.2 0.5 -0.8 0.5 -51.1 0 52.1ZM1948.6 414.8l0 -23.5 0.5 4 0.5 -6.2 0.5 15.5 0.5 -12.1 0.5 3.6 0.5 -1.9 0.5 2.9 0.5 16.9 0.5 -13.3 0.5 1.5 0.5 -8.6 0.5 -4.5 0.5 12.1 0.5 -11 0.5 2.4 0.5 5.4 0.5 2.8 0.5 -0.8 0.5 -10.5 0.5 4.3 0.5 -4.4 0.5 9.2 0.5 2.7 0.5 -7 0.5 8.4 0.5 -7.3 0.5 -0.6 0.5 -4.7 0.5 2.6 0.5 13.9 0.5 -2 0.5 2.1 0.5 -12 0.5 -0.4 0.5 0.3 0 20.2ZM1966.5 414.8l0 -49.6 0.5 -9.2 0.5 11 0.5 1.3 0.5 45.6 0.5 -49.2 0.5 9.3 0.5 -15.8 0.5 1.7 0.5 53.5 0.5 -50.7 0.5 1.4 0.5 -1.2 0.5 -0.3 0.5 50.9 0.5 -47.6 0.5 46.7 0.5 -59.6 0.5 32.2 0.5 -28.7 0.5 56.1 0.5 -23.5 0.5 22.9 0.5 1.7 0.5 -30.8 0.5 -29 0.5 14.8 0.5 -4.5 0.5 -4.5 0.5 2.5 0.5 -6.7 0.5 8.8 0.5 -10.6 0.5 14.1 0.5 10.1 0.5 -24.3 0.5 -4.4 0.5 2.3 0.5 61.3 0.5 -50.8 0.5 -5.6 0.5 1.6 0.5 56 0.5 -66.7 0.5 9 0.5 -6.7 0.5 63.4 0.5 -0.1 0.5 -64.1 0.5 21.7 0.5 -13.3 0.5 -1.7 0.5 59.1 0.5 -62.7 0.5 -0.4 0.5 4 0.5 57.3 0.5 -44.9 0.5 -11.1 0.5 11.9 0.5 -16.8 0.5 -0.8 0 63.7ZM2005.2 414.8l0 -27.6 0.5 -8.1 0.5 6.3 0.5 28 0.5 -33.8 0.5 9.9 0.5 3.1 0.5 -2 0.5 23.8 0.5 -31 0.5 -1.4 0.5 9 0.5 0.7 0.5 21.3 0.5 -21.3 0.5 3.6 0.5 -10.8 0.5 9 0.5 -6.6 0.5 5.2 0.5 22.6 0.5 -23.9 0.5 -4.9 0.5 7.8 0.5 6.3 0.5 14.5 0.5 -15 0.5 -4.3 0.5 0 0.5 0.2 0.5 18.7 0.5 -19.5 0.5 -4.3 0.5 23.4 0.5 0.1 0.5 -14.7 0.5 -8.7 0.5 0.9 0.5 22.2 0.5 -18.6 0.5 19.7 0.5 -24.3 0 24.5ZM2035.7 414.8l0 -32.4 0.5 6 0.5 -5.9 0.5 -0.3 0.5 31.7 0.5 -26.8 0.5 -8.2 0.5 35.2 0.5 -28.8 0.5 -2 0.5 -8.9 0.5 9.3 0.5 -10.6 0.5 39.9 0.5 -31.6 0.5 6.8 0.5 -17.7 0.5 16.5 0.5 -19.6 0.5 45 0.5 2.4 0.5 -26.3 0.5 -3.6 0.5 -20.7 0.5 13.5 0 37.1ZM2048 414.8l0 -52.7 0.5 14.3 0.5 36.6 0.5 -29.3 0.5 -13.8 0.5 9 0.5 -6.6 0.5 41.6 0.5 -33 0.5 31.9 0.5 1.3 0.5 -31.8 0.5 32.4 0.5 -16.4 0.5 -11.4 0.5 9.1 0.5 -1.9 0.5 2.6 0.5 -0.8 0.5 3.9 0.5 -3.6 0.5 18.3 0 0.3ZM1827.4 414.8L1827.4 358.6l1.2 0L1828.6 414.8ZM1831.9 414.8L1831.9 361.1l1.2 0L1833.1 414.8ZM1835.9 414.8L1835.9 357.8l1.2 0L1837.1 414.8ZM1839.4 414.8L1839.4 360.3l1.2 0L1840.6 414.8ZM1842.1 414.8L1842.1 355.3l1.2 0L1843.3 414.8ZM1849.1 414.8L1849.1 355.3l1.2 0L1850.3 414.8ZM1852.5 414.8L1852.5 361.9l1.2 0L1853.7 414.8ZM1868.4 414.8L1868.4 346.2l1.2 0L1869.6 414.8ZM1875.1 414.8L1875.1 354.5l1.2 0L1876.3 414.8ZM2003.1 414.8L2003.1 348.7l1.2 0L2004.3 414.8ZM1998.9 414.8L1998.9 365.2l1.2 0L2000.1 414.8Z" fill="#4282ba" />
<rect x="1397.4" y="325.4" width="741.8" height="89.4" fill="none" stroke="#222" stroke-width="1.4" />
<line x1="1392.4" y1="332.2" x2="1397.4" y2="332.2" stroke="#222" stroke-width="1.3" />
<line x1="1392.4" y1="414.8" x2="1397.4" y2="414.8" stroke="#222" stroke-width="1.3" />
<text x="1389.4" y="339.6" text-anchor="end" >10</text>
<text x="1389.4" y="422.2" text-anchor="end" >0</text>
<line x1="1397.4" y1="414.8" x2="1397.4" y2="419.8" stroke="#222" stroke-width="1.3" />
<text x="1397.4" y="439.5" text-anchor="middle" >0</text>
<line x1="1519.5" y1="414.8" x2="1519.5" y2="419.8" stroke="#222" stroke-width="1.3" />
<text x="1519.5" y="439.5" text-anchor="middle" >2000</text>
<line x1="1641.6" y1="414.8" x2="1641.6" y2="419.8" stroke="#222" stroke-width="1.3" />
<text x="1641.6" y="439.5" text-anchor="middle" >4000</text>
<line x1="1763.7" y1="414.8" x2="1763.7" y2="419.8" stroke="#222" stroke-width="1.3" />
<text x="1763.7" y="439.5" text-anchor="middle" >6000</text>
<line x1="1885.8" y1="414.8" x2="1885.8" y2="419.8" stroke="#222" stroke-width="1.3" />
<text x="1885.8" y="439.5" text-anchor="middle" >8000</text>
<line x1="2007.9" y1="414.8" x2="2007.9" y2="419.8" stroke="#222" stroke-width="1.3" />
<text x="2007.9" y="439.5" text-anchor="middle" >10000</text>
<line x1="2130" y1="414.8" x2="2130" y2="419.8" stroke="#222" stroke-width="1.3" />
<text x="2130" y="439.5" text-anchor="middle" >12000</text>
<text x="1398.4" y="317.8"  >1,910,000</text>
<text x="2135.2" y="317.8" text-anchor="end" >1,922,150</text>
<text x="1654" y="315.6"  ><tspan font-style="italic">E. coli</tspan> strain 06-00048</text>
<text x="1255.5" y="441.8"  >Position (bp)</text>
<text x="1358.7" y="358.5" text-anchor="end" fill="#4a87bf" >(Pro)phage</text>
<text x="1364.4" y="382.5" text-anchor="end" fill="#a3a3a3" >f/19746</text>
<line x1="1397.4" y1="456.3" x2="2139.2" y2="456.3" stroke="#333" stroke-width="1.1" />
<path d="M1397.4 445.3 L1403 445.3 L1414 456.3 L1403 467.3 L1397.4 467.3Z" fill="#b2b8ba" stroke="#333" stroke-width="1.1" stroke-linejoin="miter"/>
<path d="M1414 445.3 L1456 445.3 L1467 456.3 L1456 467.3 L1414 467.3Z" fill="#b2b8ba" stroke="#333" stroke-width="1.1" stroke-linejoin="miter"/>
<path d="M1467 445.3 L1522.4 445.3 L1533.4 456.3 L1522.4 467.3 L1467 467.3Z" fill="#b2b8ba" stroke="#333" stroke-width="1.1" stroke-linejoin="miter"/>
<path d="M1547.5 445.3 L1619.4 445.3 L1630.4 456.3 L1619.4 467.3 L1547.5 467.3Z" fill="#b2b8ba" stroke="#333" stroke-width="1.1" stroke-linejoin="miter"/>
<path d="M1630.4 445.3 L1660 445.3 L1671 456.3 L1660 467.3 L1630.4 467.3Z" fill="#b2b8ba" stroke="#333" stroke-width="1.1" stroke-linejoin="miter"/>
<path d="M1677 445.3 L1682.9 445.3 L1693.9 456.3 L1682.9 467.3 L1677 467.3Z" fill="#b2b8ba" stroke="#333" stroke-width="1.1" stroke-linejoin="miter"/>
<path d="M1701.2 445.3 L1704.3 445.3 L1715.3 456.3 L1704.3 467.3 L1701.2 467.3Z" fill="#b2b8ba" stroke="#333" stroke-width="1.1" stroke-linejoin="miter"/>
<path d="M1715.3 445.3 L1764.9 445.3 L1775.9 456.3 L1764.9 467.3 L1715.3 467.3Z" fill="#b2b8ba" stroke="#333" stroke-width="1.1" stroke-linejoin="miter"/>
<path d="M1791.5 445.3 L1795.8 445.3 L1806.8 456.3 L1795.8 467.3 L1791.5 467.3Z" fill="#b2b8ba" stroke="#333" stroke-width="1.1" stroke-linejoin="miter"/>
<path d="M1806.8 445.3 L1918.3 445.3 L1929.3 456.3 L1918.3 467.3 L1806.8 467.3Z" fill="#b2b8ba" stroke="#333" stroke-width="1.1" stroke-linejoin="miter"/>
<path d="M1976.9 445.3 L1995.3 445.3 L2006.3 456.3 L1995.3 467.3 L1976.9 467.3Z" fill="#b2b8ba" stroke="#333" stroke-width="1.1" stroke-linejoin="miter"/>
<path d="M2064 445.3 L2063.2 445.3 L2058.2 456.3 L2063.2 467.3 L2064 467.3Z" fill="#8b5fb9" stroke="#4a2f6a" stroke-width="0.9" stroke-linejoin="miter"/>
<path d="M2103 445.3 L2081.4 445.3 L2070.4 456.3 L2081.4 467.3 L2103 467.3Z" fill="#b2b8ba" stroke="#333" stroke-width="1.1" stroke-linejoin="miter"/>
<path d="M2138.8 445.3 L2117 445.3 L2106 456.3 L2117 467.3 L2138.8 467.3Z" fill="#b2b8ba" stroke="#333" stroke-width="1.1" stroke-linejoin="miter"/>
<line x1="1397.4" y1="471.5" x2="1413" y2="471.5" stroke="#8e9899" stroke-width="2.2" />
<line x1="1415" y1="471.5" x2="1466" y2="471.5" stroke="#8e9899" stroke-width="2.2" />
<line x1="1468" y1="471.5" x2="1532.4" y2="471.5" stroke="#8e9899" stroke-width="2.2" />
<line x1="1547.8" y1="471.5" x2="1630.4" y2="471.5" stroke="#8e9899" stroke-width="2.2" />
<line x1="1715.3" y1="471.5" x2="1775.4" y2="471.5" stroke="#8e9899" stroke-width="2.2" />
<line x1="1792" y1="471.5" x2="1806.8" y2="471.5" stroke="#8e9899" stroke-width="2.2" />
<line x1="2058.2" y1="471.5" x2="2064" y2="471.5" stroke="#8b5fb9" stroke-width="2.2" />
<line x1="2070.7" y1="471.5" x2="2101.8" y2="471.5" stroke="#8e9899" stroke-width="2.2" />
<line x1="2106.5" y1="471.5" x2="2138.3" y2="471.5" stroke="#8e9899" stroke-width="2.2" />
<line x1="1406.7" y1="471.5" x2="1406.7" y2="494.3" stroke="#8e9899" stroke-width="1.6" />
<line x1="1441" y1="471.5" x2="1441" y2="516" stroke="#8e9899" stroke-width="1.6" />
<line x1="1590.5" y1="471.5" x2="1590.5" y2="494.3" stroke="#8e9899" stroke-width="1.6" />
<line x1="1745.5" y1="471.5" x2="1745.5" y2="522" stroke="#8e9899" stroke-width="1.6" />
<line x1="1799.5" y1="471.5" x2="1799.5" y2="546.8" stroke="#8e9899" stroke-width="1.6" />
<line x1="2086.5" y1="471.5" x2="2086.5" y2="522" stroke="#8e9899" stroke-width="1.6" />
<line x1="2121.8" y1="471.5" x2="2121.8" y2="491.5" stroke="#8e9899" stroke-width="1.6" />
<rect x="1475.9" y="475.2" width="48.3" height="20.3" fill="#fff" />
<text x="1500" y="491" text-anchor="middle" font-style="italic" >malK</text>
<rect x="1380.3" y="494.5" width="49.5" height="20.3" fill="#fff" />
<text x="1405" y="510.3" text-anchor="middle" font-style="italic" >ugpA</text>
<rect x="1418.8" y="516.2" width="49.5" height="20.3" fill="#fff" />
<text x="1443.5" y="532" text-anchor="middle" font-style="italic" >ugpE</text>
<rect x="1442.5" y="492.2" width="290.5" height="20.3" fill="#fff" />
<text x="1443" y="508"  >Site-specific recombinase XerD</text>
<rect x="1737.5" y="492.9" width="399" height="20.3" fill="#fff" />
<text x="2136" y="508.7" text-anchor="end" >pantetheine-phosphate adenylyltransferase</text>
<rect x="1533.5" y="519.6" width="463.5" height="20.3" fill="#fff" />
<text x="1534" y="535.4"  >RepB-like DNA primase domain-containing protein</text>
<rect x="1672.7" y="545.2" width="288.2" height="20.3" fill="#fff" />
<text x="1960.4" y="561" text-anchor="end" >HTH domain-containing protein</text>
<rect x="1977.5" y="474.5" width="94.4" height="20.3" fill="#fff" />
<text x="1978" y="490.3"  >trnK tRNA</text>
<rect x="2039.2" y="519.2" width="95.6" height="20.3" fill="#fff" />
<text x="2134.3" y="535" text-anchor="end" >Rotamase</text>
<rect x="1396.5" y="620.7" width="87.2" height="86.9" fill="#dfdfdf" />
<rect x="1520.2" y="620.7" width="82.6" height="86.9" fill="#dfdfdf" />
<rect x="1607" y="620.7" width="17" height="86.9" fill="#dfdfdf" />
<rect x="1628.4" y="620.7" width="40.6" height="86.9" fill="#dfdfdf" />
<rect x="1677" y="620.7" width="113.3" height="86.9" fill="#dfdfdf" />
<rect x="1803" y="620.7" width="100.4" height="86.9" fill="#dfdfdf" />
<rect x="1920.8" y="620.7" width="34.4" height="86.9" fill="#dfdfdf" />
<rect x="1966.3" y="620.7" width="95.9" height="86.9" fill="#dfdfdf" />
<rect x="2078.7" y="620.7" width="18.8" height="86.9" fill="#dfdfdf" />
<rect x="2107.7" y="620.7" width="11.7" height="86.9" fill="#dfdfdf" />
<rect x="2124.2" y="620.7" width="11.6" height="86.9" fill="#dfdfdf" />
<path d="M1495.7 707.6l0 -8.9 0.5 -4.2 0.5 12.7 0.5 -0.3 0.5 -12.2 0.5 -8.1 0.5 -1.9 0.5 5.1 0.5 -11.4 0.5 27.7 0.5 -24.9 0.5 -3.5 0 29.9ZM1501.4 707.6l0 -0.2 0.5 -33.2 0.5 0.3 0.5 32.1 0.5 -0.2 0.5 -30.6 0.5 31.5 0.5 -34.2 0.5 33.6 0.5 -32.5 0.5 32.6 0.5 0.3 0.5 -0.2 0.5 -0.1 0.5 0 0.5 0.2 0.5 -31.6 0.5 8.5 0.5 -11.2 0.5 11.7 0.5 -6.4 0.5 28.9 0 0.7ZM1512 707.6l0 -22 0.5 5.7 0.5 15.9 0.5 0.4 0.5 -11.6 0.5 11.3 0.5 0.1 0.5 -12.7 0.5 -4.5 0.5 5.4 0.5 1.1 0.5 0.5 0.5 -0.7 0.5 5 0.5 -4.3 0.5 -1.6 0 12ZM1636.5 707.6l0 -40 0.5 -5 0.5 42.4 0.5 1.5 0.5 -40.7 0.5 -2.6 0.5 -1.3 0.5 13.2 0.5 30.6 0.5 -42.5 0.5 42.8 0 1.6ZM1647.3 707.6l0 -46.6 0.5 44.1 0.5 0.2 0.5 -0.6 0.5 -35.4 0.5 -6.9 0.5 43.2 0 2ZM1664.3 707.6l0 -47 0.5 2 0.5 -0.1 0.5 44.5 0 0.6ZM1666.2 707.6l0 -33.8 0.5 33.4 0.5 -22.3 0.5 -1.4 0.5 -3.1 0.5 8.9 0.5 -5 0.5 -1.2 0.5 0.2 0.5 13.5 0.5 -12.5 0.5 4.8 0.5 0.7 0.5 -0.4 0.5 3.8 0.5 -4.6 0.5 18.1 0.5 -13.8 0.5 4.5 0.5 -3.3 0.5 13.3 0.5 0.1 0.5 -7.2 0 7.3ZM1677.4 707.6l0 -30 0.5 -2.7 0.5 5.6 0.5 26.6 0.5 -27.7 0.5 -5.1 0.5 32.4 0.5 -18.8 0.5 -5.3 0.5 -11.1 0.5 4.4 0.5 -3 0.5 -2.1 0.5 36.7 0.5 -37.3 0 37.4ZM1684.8 707.6l0 -48.4 0.5 3.6 0.5 0.7 0.5 -8.2 0.5 14.3 0.5 36.7 0.5 -44.7 0.5 44.7 0.5 -51.9 0.5 52.5 0.5 -54.7 0.5 2.7 0.5 7.1 0.5 -0.6 0.5 5.2 0.5 -3.3 0.5 -6.8 0.5 -1.7 0.5 7.3 0.5 42.7 0.5 -50.9 0.5 -1.9 0.5 16.2 0.5 35.4 0.5 -48.9 0.5 3.9 0.5 1.2 0.5 -3.3 0.5 50.8 0.5 -38.4 0.5 -16.5 0.5 0.1 0.5 7.7 0 47.4ZM1701.2 707.6l0 -0.6 0.5 -46.5 0.5 5.5 0.5 -4.8 0.5 -11.2 0.5 7.8 0.5 -1.4 0.5 3 0.5 -7.7 0.5 0.6 0.5 4.9 0.5 -2 0.5 1.9 0.5 49.9 0.5 -52.9 0.5 0.3 0.5 51.9 0.5 -56.4 0.5 16.1 0.5 -8.3 0.5 8.9 0.5 -8.7 0.5 -5.9 0.5 52.8 0.5 0.9 0.5 -2.4 0.5 -51.2 0.5 54.7 0.5 -2 0.5 -52.2 0.5 14.2 0.5 -4.8 0 45.6ZM1736.2 707.6l0 -4.2 0.5 -62 0.5 61.6 0.5 -48.1 0.5 46.8 0.5 -48.9 0.5 51.6 0.5 -0.8 0.5 -48.3 0.5 1.9 0.5 -8.6 0.5 16.6 0.5 -21.4 0.5 16 0.5 2 0.5 -19.7 0.5 6.8 0.5 -5.9 0.5 58.5 0.5 1.7 0.5 1.8 0.5 1.4 0.5 -45.6 0.5 3.6 0.5 39.2 0.5 -49.5 0 53.5ZM1767.4 707.6l0 -57.6 0.5 56.8 0.5 -60.8 0.5 -0.3 0.5 6.6 0.5 -1.9 0.5 5.4 0.5 -6.7 0.5 10.5 0.5 -8.9 0.5 5.4 0.5 50.8 0.5 -51 0.5 51.5 0.5 -3 0.5 -52.5 0.5 -1.4 0.5 7.3 0.5 -6.6 0.5 3.1 0.5 5 0.5 -6.5 0.5 54.3 0.5 -52.5 0.5 48.9 0.5 -55 0.5 14.5 0.5 -6.3 0.5 47.1 0.5 -52.7 0.5 1.5 0.5 -1 0.5 9.2 0.5 -4.9 0.5 2.6 0.5 -8.6 0.5 0.8 0.5 5.3 0.5 49.8 0.5 -46.2 0.5 46.4 0.5 -2.3 0 3.9ZM1788.2 707.6l0 -29.8 0.5 28.6 0.5 -29 0.5 -2 0.5 4.6 0.5 15.1 0.5 -10.4 0.5 -5.5 0.5 5.9 0.5 -4.1 0.5 26.6 0.5 -25.7 0.5 3.9 0.5 -6.3 0.5 13.5 0.5 13.8 0.5 -24.3 0.5 4.9 0.5 -0.6 0.5 2.1 0.5 4.8 0.5 -4 0.5 -5.7 0.5 1.4 0.5 5.5 0.5 -3.8 0.5 -0.7 0.5 0.4 0.5 10.2 0.5 -2.3 0.5 12.6 0.5 -13.8 0.5 -4.6 0.5 1.7 0.5 -1.5 0.5 9 0.5 8.8 0.5 -16.6 0.5 16.9 0.5 -14.9 0.5 9.4 0.5 -9.6 0.5 15.2 0.5 -13.6 0.5 0 0 13.9ZM1911.6 707.6l0 -33.3 0.5 8.6 0.5 -1.6 0.5 -1.1 0.5 1 0.5 -5.5 0.5 30.7 0.5 -14 0.5 -18.7 0.5 0.2 0.5 11.7 0.5 -12.8 0.5 33.3 0.5 -29.5 0.5 30.6 0.5 -26 0.5 25.1 0.5 -26.5 0.5 10.7 0.5 -13.1 0 30.2ZM1954.2 707.6l0 -26 0.5 3.5 0.5 -7.1 0.5 -2.7 0.5 2.4 0.5 -3.2 0.5 5.3 0.5 1.1 0.5 6.4 0.5 -11.2 0.5 3.4 0.5 -2.6 0.5 29.7 0.5 -16 0.5 16.1 0.5 -22.5 0.5 -2.6 0.5 12 0.5 -10 0.5 1 0.5 22.2 0.5 -14.1 0.5 -7.4 0.5 10.5 0 11.8ZM1965.8 707.6l0 -36.8 0.5 -10.6 0.5 0.6 0.5 -0.7 0.5 7.7 0.5 -14.1 0.5 4.1 0.5 -3.3 0.5 0.3 0.5 5.3 0.5 -8.5 0.5 5.3 0.5 -9.3 0.5 6.6 0.5 5.3 0.5 -6.9 0.5 0.6 0.5 -9.3 0.5 9.6 0 54.1ZM1975 707.6l0 -57.4 0.5 4.1 0.5 -8.5 0.5 -3.8 0.5 -0.2 0.5 2.6 0.5 7.4 0.5 53.7 0.5 -49.4 0.5 -6.1 0.5 -4.3 0.5 7.1 0.5 -8.3 0.5 4.7 0.5 -6.7 0.5 3.3 0.5 -3 0.5 7.7 0.5 -5.1 0.5 -3.9 0.5 16.9 0.5 -17.3 0.5 4.1 0.5 -4.7 0.5 9.6 0.5 -3.4 0.5 -2.6 0.5 1.2 0.5 -0.3 0.5 -3 0.5 11.1 0.5 -9.3 0.5 3.8 0.5 -6 0.5 -0.3 0.5 6.4 0.5 1.5 0.5 -7.4 0.5 -0.4 0.5 2 0.5 -1.5 0.5 -0.5 0.5 5.9 0.5 2 0.5 7.7 0.5 -8.9 0.5 4.2 0.5 -8.1 0.5 1.5 0.5 -3.9 0.5 2.9 0.5 7 0.5 -2.3 0.5 -2 0.5 -0.5 0.5 -5 0.5 3.7 0.5 4.8 0.5 1 0.5 -4.9 0.5 9.9 0.5 -8.1 0.5 -5.8 0.5 -0.2 0.5 4.5 0.5 0.3 0.5 3.5 0.5 -4.1 0.5 2 0.5 -2.8 0.5 -3.6 0.5 2.3 0.5 10.7 0.5 -0.9 0.5 -8.9 0.5 -3.3 0.5 4.6 0.5 -3 0.5 8.4 0.5 0.7 0.5 -10.7 0.5 64.9 0.5 -57.9 0.5 -5 0.5 2.2 0.5 -1.7 0.5 2.5 0.5 -1.2 0.5 -3.1 0.5 6.8 0.5 -4.3 0.5 -2.7 0.5 17 0.5 45.9 0.5 -54.5 0.5 -3.4 0.5 1.8 0.5 -6.4 0.5 11.7 0.5 -2.5 0.5 6 0.5 -3.1 0.5 -7.6 0.5 11.9 0.5 -16.2 0.5 2.2 0.5 12.7 0.5 -13 0.5 11.8 0.5 -8.1 0.5 5.7 0.5 1.1 0.5 -6.9 0.5 -4.6 0.5 14.4 0.5 -3.7 0.5 -5.3 0.5 -6.2 0.5 8.4 0.5 -7.3 0.5 4.4 0.5 1.4 0.5 -4.4 0.5 9.6 0.5 -6.3 0.5 12.1 0.5 -12 0.5 -6.1 0.5 16.4 0.5 -1.1 0.5 -9.8 0.5 -4.6 0.5 4.9 0.5 -5.2 0.5 9.3 0.5 -9.6 0.5 12 0.5 -9.4 0.5 6.8 0.5 -7.5 0.5 16.3 0.5 -8.2 0.5 -9.1 0.5 1.9 0.5 4.1 0.5 1.9 0.5 -8 0.5 12 0.5 0.1 0.5 4.3 0.5 -12.8 0.5 -3.1 0.5 13.5 0.5 -11.6 0.5 0 0.5 9.6 0.5 -6.1 0.5 -0.7 0.5 11.8 0.5 -16.7 0.5 13.9 0.5 -0.5 0.5 -10.3 0.5 3 0.5 -4 0.5 1.9 0.5 11.4 0 47.8ZM2058 707.6l0 -53.9 0.5 -2.8 0.5 7.4 0.5 18.3 0.5 3.6 0.5 -18.7 0.5 8.9 0.5 35.6 0.5 -29.2 0.5 -8.1 0.5 8.2 0.5 8.9 0.5 0.9 0.5 5.4 0.5 -11.8 0.5 7.8 0 19.5ZM2065.7 707.6l0 -8.5 0.5 -1 0.5 4.4 0.5 -5.6 0.5 2.1 0.5 -1.2 0.5 2.4 0.5 -2.7 0.5 0.8 0.5 -2.1 0.5 0.2 0.5 1.6 0.5 2.5 0.5 -0.9 0.5 7.9 0.5 -10.6 0 10.7ZM1490.4 707.6L1490.4 699.4l1.2 0L1491.6 707.6ZM1623.2 707.6L1623.2 698.6l1.2 0L1624.4 707.6ZM1656.4 707.6L1656.4 651.3l1.2 0L1657.6 707.6ZM1719.4 707.6L1719.4 650.5l1.2 0L1720.6 707.6ZM1723.4 707.6L1723.4 652.1l1.2 0L1724.6 707.6ZM1727.9 707.6L1727.9 650.5l1.2 0L1729.1 707.6ZM1751.4 707.6L1751.4 646.4l1.2 0L1752.6 707.6ZM1758.4 707.6L1758.4 647.2l1.2 0L1759.6 707.6ZM1762.9 707.6L1762.9 648l1.2 0L1764.1 707.6ZM1817.4 707.6L1817.4 698.6l1.2 0L1818.6 707.6ZM1845.7 707.6L1845.7 697.8l1.2 0L1846.9 707.6ZM1924.5 707.6L1924.5 664.4l1.2 0L1925.7 707.6ZM1931 707.6L1931 658.6l1.2 0L1932.2 707.6ZM1935.5 707.6L1935.5 653.7l1.2 0L1936.7 707.6ZM1941.3 707.6L1941.3 658.6l1.2 0L1942.5 707.6ZM1945.4 707.6L1945.4 661.1l1.2 0L1946.6 707.6ZM1950.3 707.6L1950.3 660.3l1.2 0L1951.5 707.6Z" fill="#4282ba" />
<rect x="1396.5" y="618.7" width="740.3" height="88.9" fill="none" stroke="#222" stroke-width="1.4" />
<line x1="1391.5" y1="626" x2="1396.5" y2="626" stroke="#222" stroke-width="1.3" />
<line x1="1391.5" y1="707.6" x2="1396.5" y2="707.6" stroke="#222" stroke-width="1.3" />
<text x="1388.5" y="633.4" text-anchor="end" >10</text>
<text x="1388.5" y="715" text-anchor="end" >0</text>
<line x1="1396.5" y1="707.6" x2="1396.5" y2="712.6" stroke="#222" stroke-width="1.3" />
<text x="1396.5" y="731" text-anchor="middle" >0</text>
<line x1="1520.3" y1="707.6" x2="1520.3" y2="712.6" stroke="#222" stroke-width="1.3" />
<text x="1520.3" y="731" text-anchor="middle" >2000</text>
<line x1="1644.1" y1="707.6" x2="1644.1" y2="712.6" stroke="#222" stroke-width="1.3" />
<text x="1644.1" y="731" text-anchor="middle" >4000</text>
<line x1="1767.9" y1="707.6" x2="1767.9" y2="712.6" stroke="#222" stroke-width="1.3" />
<text x="1767.9" y="731" text-anchor="middle" >6000</text>
<line x1="1891.7" y1="707.6" x2="1891.7" y2="712.6" stroke="#222" stroke-width="1.3" />
<text x="1891.7" y="731" text-anchor="middle" >8000</text>
<line x1="2015.5" y1="707.6" x2="2015.5" y2="712.6" stroke="#222" stroke-width="1.3" />
<text x="2015.5" y="731" text-anchor="middle" >10000</text>
<text x="1397.5" y="611"  >3,007,920</text>
<text x="2132.8" y="614.8" text-anchor="end" >3,019,880</text>
<text x="1654" y="608.9"  ><tspan font-style="italic">A. thiophilum</tspan> strain BV-S</text>
<text x="1255.5" y="731"  >Position (bp)</text>
<text x="1358.7" y="657.9" text-anchor="end" fill="#4a87bf" >(Pro)phage</text>
<text x="1364.4" y="681.9" text-anchor="end" fill="#a3a3a3" >f/19746</text>
<line x1="1396.5" y1="752.1" x2="2136.8" y2="752.1" stroke="#333" stroke-width="1.1" />
<path d="M1396.5 741.4 L1473.6 741.4 L1484.6 752.1 L1473.6 762.9 L1396.5 762.9Z" fill="#b2b8ba" stroke="#333" stroke-width="1.1" stroke-linejoin="miter"/>
<path d="M1603.5 741.4 L1530.7 741.4 L1519.7 752.1 L1530.7 762.9 L1603.5 762.9Z" fill="#b2b8ba" stroke="#333" stroke-width="1.1" stroke-linejoin="miter"/>
<path d="M1606.3 741.4 L1612.8 741.4 L1623.8 752.1 L1612.8 762.9 L1606.3 762.9Z" fill="#b2b8ba" stroke="#333" stroke-width="1.1" stroke-linejoin="miter"/>
<path d="M1628 741.4 L1659 741.4 L1670 752.1 L1659 762.9 L1628 762.9Z" fill="#b2b8ba" stroke="#333" stroke-width="1.1" stroke-linejoin="miter"/>
<path d="M1677 741.4 L1779.7 741.4 L1790.7 752.1 L1779.7 762.9 L1677 762.9Z" fill="#b2b8ba" stroke="#333" stroke-width="1.1" stroke-linejoin="miter"/>
<path d="M1904.3 741.4 L1814.2 741.4 L1803.2 752.1 L1814.2 762.9 L1904.3 762.9Z" fill="#b2b8ba" stroke="#333" stroke-width="1.1" stroke-linejoin="miter"/>
<path d="M1920.8 741.4 L1944.7 741.4 L1955.7 752.1 L1944.7 762.9 L1920.8 762.9Z" fill="#b2b8ba" stroke="#333" stroke-width="1.1" stroke-linejoin="miter"/>
<path d="M2063.4 741.4 L1977.3 741.4 L1966.3 752.1 L1977.3 762.9 L2063.4 762.9Z" fill="#b2b8ba" stroke="#333" stroke-width="1.1" stroke-linejoin="miter"/>
<path d="M2098.7 741.4 L2090 741.4 L2079 752.1 L2090 762.9 L2098.7 762.9Z" fill="#b2b8ba" stroke="#333" stroke-width="1.1" stroke-linejoin="miter"/>
<path d="M2107.7 741.4 L2108.9 741.4 L2119.4 752.1 L2108.9 762.9 L2107.7 762.9Z" fill="#b2b8ba" stroke="#333" stroke-width="1.1" stroke-linejoin="miter"/>
<path d="M2124.2 741.4 L2126.8 741.4 L2137.8 752.1 L2126.8 762.9 L2124.2 762.9Z" fill="#b2b8ba" stroke="#333" stroke-width="1.1" stroke-linejoin="miter"/>
<line x1="1396.5" y1="769" x2="1483.7" y2="769" stroke="#8e9899" stroke-width="2.2" />
<line x1="1520.2" y1="769" x2="1602.8" y2="769" stroke="#8e9899" stroke-width="2.2" />
<line x1="1680" y1="769" x2="1790.7" y2="769" stroke="#8e9899" stroke-width="2.2" />
<line x1="1803.7" y1="769" x2="1903.4" y2="769" stroke="#8e9899" stroke-width="2.2" />
<line x1="1921.5" y1="769" x2="1955.2" y2="769" stroke="#8e9899" stroke-width="2.2" />
<line x1="1967" y1="769" x2="2062.2" y2="769" stroke="#8e9899" stroke-width="2.2" />
<line x1="2124.9" y1="769" x2="2137.6" y2="769" stroke="#8e9899" stroke-width="2.2" />
<line x1="1558.5" y1="769" x2="1558.5" y2="842.8" stroke="#8e9899" stroke-width="1.6" />
<line x1="1734.2" y1="769" x2="1734.2" y2="821" stroke="#8e9899" stroke-width="1.6" />
<line x1="1854.4" y1="769" x2="1854.4" y2="798" stroke="#8e9899" stroke-width="1.6" />
<line x1="1938.7" y1="769" x2="1938.7" y2="778.5" stroke="#8e9899" stroke-width="1.6" />
<line x1="2016.5" y1="769" x2="2016.5" y2="851.6" stroke="#8e9899" stroke-width="1.6" />
<rect x="1393.5" y="774.4" width="161.3" height="20.3" fill="#fff" />
<text x="1394" y="790.2"  >Type I glutamate-</text>
<rect x="1393.5" y="798.8" width="146.3" height="20.3" fill="#fff" />
<text x="1394" y="814.6"  >ammonia ligase</text>
<rect x="1578.8" y="825.2" width="478.5" height="20.3" fill="#fff" />
<text x="1579.3" y="841"  >Helicase/UvrB N-terminal domain-containing protein</text>
<rect x="1390.1" y="849.7" width="512.3" height="20.3" fill="#fff" />
<text x="1390.6" y="865.5"  >Transposase IS701-like DDE domain-containing protein</text>
<rect x="1879.8" y="779.2" width="133.6" height="20.3" fill="#fff" />
<text x="1880.3" y="795"  >DNA invertase</text>
<rect x="2050.3" y="778.5" width="97.9" height="20.3" fill="#fff" />
<text x="2147.7" y="794.3" text-anchor="end" >Sigma-like</text>
<rect x="2083.8" y="803.5" width="64.4" height="20.3" fill="#fff" />
<text x="2147.7" y="819.3" text-anchor="end" >protein</text>
<rect x="1743.5" y="801.2" width="287" height="20.3" fill="#fff" />
<text x="1744" y="817"  >RNA-directed DNA polymerase</text>
<rect x="1932.8" y="848.7" width="204" height="20.3" fill="#fff" />
<text x="1933.3" y="864.5"  >Site-specific integrase</text>
<text x="5.5" y="910.3" font-size="32" font-weight="bold" >e</text>
<text x="134" y="909.8"  >4,130,000</text>
<text x="2133.2" y="912.3" text-anchor="end" >4,230,000</text>
<rect x="134.8" y="917.2" width="43.5" height="209.4" fill="#e8e9eb" />
<rect x="187.3" y="917.2" width="16.1" height="209.4" fill="#e8e9eb" />
<rect x="211.3" y="917.2" width="42.3" height="209.4" fill="#e8e9eb" />
<rect x="257" y="917.2" width="17.1" height="209.4" fill="#e8e9eb" />
<rect x="276.2" y="917.2" width="10.8" height="209.4" fill="#e8e9eb" />
<rect x="294.1" y="917.2" width="20.6" height="209.4" fill="#e8e9eb" />
<rect x="316.4" y="917.2" width="11.7" height="209.4" fill="#e8e9eb" />
<rect x="329.8" y="917.2" width="48.3" height="209.4" fill="#e8e9eb" />
<rect x="385.4" y="917.2" width="21.1" height="209.4" fill="#e8e9eb" />
<rect x="407.2" y="917.2" width="5.2" height="209.4" fill="#e8e9eb" />
<rect x="414.4" y="917.2" width="43.7" height="209.4" fill="#e8e9eb" />
<rect x="459.8" y="917.2" width="16.1" height="209.4" fill="#e8e9eb" />
<rect x="477.6" y="917.2" width="4.9" height="209.4" fill="#e8e9eb" />
<rect x="483.6" y="917.2" width="16.3" height="209.4" fill="#e8e9eb" />
<rect x="504.8" y="917.2" width="34.6" height="209.4" fill="#e8e9eb" />
<rect x="543.6" y="917.2" width="52.2" height="209.4" fill="#e8e9eb" />
<rect x="609.1" y="917.2" width="21.6" height="209.4" fill="#e8e9eb" />
<rect x="634.5" y="917.2" width="19" height="209.4" fill="#e8e9eb" />
<rect x="654.8" y="917.2" width="15.1" height="209.4" fill="#e8e9eb" />
<rect x="671.4" y="917.2" width="26.7" height="209.4" fill="#e8e9eb" />
<rect x="704.4" y="917.2" width="17.1" height="209.4" fill="#e8e9eb" />
<rect x="723" y="917.2" width="26.3" height="209.4" fill="#e8e9eb" />
<rect x="755.8" y="917.2" width="12.7" height="209.4" fill="#e8e9eb" />
<rect x="769.6" y="917.2" width="6.5" height="209.4" fill="#e8e9eb" />
<rect x="777.8" y="917.2" width="21.1" height="209.4" fill="#e8e9eb" />
<rect x="807.4" y="917.2" width="34.6" height="209.4" fill="#e8e9eb" />
<rect x="843.2" y="917.2" width="15.9" height="209.4" fill="#e8e9eb" />
<rect x="975.4" y="917.2" width="19.2" height="209.4" fill="#e8e9eb" />
<rect x="996.2" y="917.2" width="17.2" height="209.4" fill="#e8e9eb" />
<rect x="1016.1" y="917.2" width="17.7" height="209.4" fill="#e8e9eb" />
<rect x="1053.2" y="917.2" width="22.3" height="209.4" fill="#e8e9eb" />
<rect x="1081.1" y="917.2" width="6.7" height="209.4" fill="#e8e9eb" />
<rect x="1088.9" y="917.2" width="9.8" height="209.4" fill="#e8e9eb" />
<rect x="1102.8" y="917.2" width="7.2" height="209.4" fill="#e8e9eb" />
<rect x="1111.3" y="917.2" width="13.2" height="209.4" fill="#e8e9eb" />
<rect x="1133.8" y="917.2" width="8.6" height="209.4" fill="#e8e9eb" />
<rect x="1145" y="917.2" width="6.6" height="209.4" fill="#e8e9eb" />
<rect x="1158.9" y="917.2" width="79.7" height="209.4" fill="#e8e9eb" />
<rect x="1241.1" y="917.2" width="82.7" height="209.4" fill="#e8e9eb" />
<rect x="1329.4" y="917.2" width="10.2" height="209.4" fill="#e8e9eb" />
<rect x="1349.3" y="917.2" width="21.1" height="209.4" fill="#e8e9eb" />
<rect x="1372.1" y="917.2" width="13.8" height="209.4" fill="#e8e9eb" />
<rect x="1387" y="917.2" width="2.8" height="209.4" fill="#e8e9eb" />
<rect x="1390.9" y="917.2" width="13.6" height="209.4" fill="#e8e9eb" />
<rect x="1406.4" y="917.2" width="10.6" height="209.4" fill="#e8e9eb" />
<rect x="1418.8" y="917.2" width="36" height="209.4" fill="#e8e9eb" />
<rect x="1460.8" y="917.2" width="8.8" height="209.4" fill="#e8e9eb" />
<rect x="1471.9" y="917.2" width="14.2" height="209.4" fill="#e8e9eb" />
<rect x="1488.2" y="917.2" width="20.1" height="209.4" fill="#e8e9eb" />
<rect x="1509.6" y="917.2" width="12.6" height="209.4" fill="#e8e9eb" />
<rect x="1523.9" y="917.2" width="11.2" height="209.4" fill="#e8e9eb" />
<rect x="1539.2" y="917.2" width="4.8" height="209.4" fill="#e8e9eb" />
<rect x="1545.3" y="917.2" width="11.6" height="209.4" fill="#e8e9eb" />
<rect x="1557.6" y="917.2" width="9.2" height="209.4" fill="#e8e9eb" />
<rect x="1572.5" y="917.2" width="26.1" height="209.4" fill="#e8e9eb" />
<rect x="1600.1" y="917.2" width="25.1" height="209.4" fill="#e8e9eb" />
<rect x="1626.9" y="917.2" width="24.5" height="209.4" fill="#e8e9eb" />
<rect x="1653.3" y="917.2" width="29.9" height="209.4" fill="#e8e9eb" />
<rect x="1798.1" y="917.2" width="8.1" height="209.4" fill="#e8e9eb" />
<rect x="1807.8" y="917.2" width="7.7" height="209.4" fill="#e8e9eb" />
<rect x="1819.1" y="917.2" width="17.9" height="209.4" fill="#e8e9eb" />
<rect x="1843.2" y="917.2" width="30" height="209.4" fill="#e8e9eb" />
<rect x="1875.9" y="917.2" width="24.8" height="209.4" fill="#e8e9eb" />
<rect x="1905.3" y="917.2" width="34.2" height="209.4" fill="#e8e9eb" />
<rect x="1940.2" y="917.2" width="42.4" height="209.4" fill="#e8e9eb" />
<rect x="1989.5" y="917.2" width="16" height="209.4" fill="#e8e9eb" />
<rect x="2010.1" y="917.2" width="72.4" height="209.4" fill="#e8e9eb" />
<rect x="2087.9" y="917.2" width="32.2" height="209.4" fill="#e8e9eb" />
<rect x="2121.8" y="917.2" width="10.8" height="209.4" fill="#e8e9eb" />
<rect x="867" y="917.2" width="31" height="209.4" fill="#d0eddf" />
<rect x="906.6" y="917.2" width="58.2" height="209.4" fill="#d0eddf" />
<rect x="967.1" y="917.2" width="1.6" height="209.4" fill="#d0eddf" />
<rect x="1696" y="917.2" width="31.2" height="209.4" fill="#d0eddf" />
<rect x="1734.4" y="917.2" width="57.9" height="209.4" fill="#d0eddf" />
<rect x="1794.3" y="917.2" width="2" height="209.4" fill="#d0eddf" />
<rect x="900.9" y="917.2" width="1.6" height="209.4" fill="#a98bd0" />
<rect x="1041.5" y="917.2" width="3" height="209.4" fill="#a98bd0" />
<rect x="1046.9" y="917.2" width="3.2" height="209.4" fill="#a98bd0" />
<rect x="1729.1" y="917.2" width="1.4" height="209.4" fill="#a98bd0" />
<path d="M134.4 963.5l0 -39.5 0.5 0.8 0.5 1.5 0.5 0.6 0.5 -7.9 0.5 6.9 0.5 0.5 0.5 -0.9 0.5 -1 0.5 0.4 0.5 -5.7 0.5 6.8 0.5 -0.4 0.5 0.1 0.5 -1.8 0.5 -5.3 0.5 17.4 0.5 0.7 0.5 -2.1 0.5 3.7 0.5 0.3 0.5 -3.2 0.5 2.9 0.5 -3.4 0.5 1 0.5 -1.7 0.5 3 0.5 -1 0.5 -1.7 0.5 3.5 0.5 -2.8 0.5 0.8 0.5 -3.5 0.5 3.3 0.5 2.4 0.5 -2.9 0.5 0.7 0.5 2.3 0.5 -1.5 0.5 0.9 0.5 -2.4 0.5 2.9 0.5 -0.2 0.5 9.1 0.5 -8.5 0.5 -3.5 0.5 0.1 0.5 -0.7 0.5 1.3 0.5 2 0.5 -3 0.5 2.7 0.5 0.2 0.5 -2.3 0.5 2.2 0.5 -3 0.5 -0.2 0.5 1.4 0.5 -1.5 0.5 1.9 0.5 -1.9 0.5 1.8 0.5 0.9 0.5 1.2 0.5 0.1 0.5 -0.9 0.5 0.4 0.5 0 0.5 -3.6 0.5 1.2 0.5 0.3 0.5 -0.8 0.5 -4.3 0.5 6.2 0.5 -2.1 0.5 3.4 0.5 -1.1 0.5 -0.1 0.5 1.3 0.5 -3.6 0.5 -0.1 0.5 -0.4 0.5 2.1 0.5 1.5 0.5 -3.4 0.5 3.3 0.5 6.9 0.5 3.4 0.5 4 0.5 10.1 0.5 1.5 0.5 0 0.5 0 0.5 0 0.5 0 0.5 -0.7 0.5 0 0.5 0.7 0.5 0 0.5 0 0.5 0 0.5 0 0.5 -0.3 0.5 -0.9 0.5 1.2 0.5 0 0.5 -10.5 0.5 -2.2 0.5 -4.8 0.5 -2 0.5 -3.3 0.5 3.2 0.5 -3.4 0.5 2.4 0.5 -2.2 0.5 1.5 0.5 0.5 0.5 -1.4 0.5 -0.6 0.5 0.2 0.5 2.2 0.5 -0.2 0.5 -1.1 0.5 0.2 0.5 0.6 0.5 -0.2 0.5 -0.9 0.5 -1.2 0.5 1.6 0.5 0.1 0.5 1.3 0.5 7.8 0.5 -9.8 0.5 1.2 0.5 -1.4 0.5 2.4 0.5 3.1 0.5 3.7 0.5 2.7 0.5 9.3 0.5 1.1 0.5 0.1 0.5 -0.8 0.5 -0.4 0.5 1.2 0.5 0 0.5 0 0.5 0 0.5 0 0.5 0 0.5 0 0.5 0 0.5 0 0.5 -0.4 0.5 -10.4 0.5 -6.4 0.5 -3.2 0.5 -4.9 0.5 11.5 0.5 -10.9 0.5 1.4 0.5 -1.9 0.5 -0.2 0.5 2 0.5 0.2 0.5 0.3 0.5 -3 0.5 0.6 0.5 2.8 0.5 -2.1 0.5 1.8 0.5 -0.7 0.5 -0.2 0.5 1.3 0.5 -2.7 0.5 2.1 0.5 -0.4 0.5 -1.1 0.5 -0.6 0.5 0.5 0.5 1.2 0.5 -1.8 0.5 2.6 0.5 -2.7 0.5 -0.2 0.5 0 0.5 3 0.5 -1.6 0.5 1.7 0.5 -3.7 0.5 3.4 0.5 -0.1 0.5 -1 0.5 1.6 0.5 -3.8 0.5 0.5 0.5 0.8 0.5 -0.1 0.5 0.6 0.5 1.2 0.5 -2.6 0.5 2.3 0.5 -0.3 0.5 -0.3 0.5 1 0.5 -2.8 0.5 1.8 0.5 0.5 0.5 -2.1 0.5 -2.2 0.5 3.8 0.5 1.7 0.5 -1.2 0.5 -0.3 0.5 -1.3 0.5 -0.3 0.5 3 0.5 -0.4 0.5 0.3 0.5 -3 0.5 0 0.5 -1 0.5 0.9 0.5 -0.1 0.5 2.8 0.5 -1.7 0.5 0.7 0.5 -2 0.5 2.2 0.5 -0.4 0.5 1.8 0.5 -2.4 0.5 -1.1 0.5 3.1 0.5 -2 0.5 -0.9 0.5 4.3 0.5 2.5 0.5 6.4 0.5 3.1 0.5 8.1 0.5 1.1 0.5 -1.6 0.5 1.6 0.5 0 0.5 -13.7 0.5 -5.9 0.5 -5.2 0.5 -7.1 0.5 2.8 0.5 -1.9 0.5 1.3 0.5 -2.2 0.5 0.9 0.5 -0.3 0.5 -0.7 0.5 2.8 0.5 -2.8 0.5 -1.6 0.5 2.2 0.5 -1.9 0.5 0.8 0.5 2.2 0.5 -3.2 0.5 2.4 0.5 -2.3 0.5 1.6 0.5 -2.3 0.5 -0.4 0.5 15.2 0.5 -10.3 0.5 -0.5 0.5 -2.2 0.5 0.6 0.5 8.7 0.5 -6.6 0.5 -2.1 0.5 7.1 0.5 3.3 0.5 3.6 0.5 7.5 0.5 9.8 0.5 -0.1 0.5 -13.1 0.5 -6 0.5 -3.1 0.5 -8.7 0.5 -2.5 0.5 3.7 0.5 -2 0.5 1.8 0.5 0.1 0.5 -5.2 0.5 1.9 0.5 -0.8 0.5 1.1 0.5 2.6 0.5 9.7 0.5 -13.7 0.5 1.2 0.5 3.3 0.5 -0.5 0.5 -4.5 0.5 5.9 0.5 8.3 0.5 5.6 0.5 15.4 0.5 0 0.5 0 0.5 -1.2 0.5 1.2 0.5 0 0.5 0 0.5 0 0.5 0 0.5 0 0.5 -0.4 0.5 -0.7 0.5 1.1 0.5 -9.4 0.5 -3.3 0.5 -4.6 0.5 -4.4 0.5 -1.5 0.5 1.6 0.5 -0.4 0.5 1.2 0.5 -1.4 0.5 -1.9 0.5 3 0.5 -1.1 0.5 -1.3 0.5 2.7 0.5 -1.6 0.5 -0.7 0.5 1 0.5 1.2 0.5 -3.1 0.5 -0.1 0.5 9.5 0.5 -7.6 0.5 -0.8 0.5 0.1 0.5 -0.3 0.5 2.3 0.5 -1.5 0.5 0.5 0.5 1.4 0.5 -1.7 0.5 -1 0.5 2.2 0.5 -0.7 0.5 0.9 0.5 -2.5 0.5 -0.7 0.5 2.1 0.5 -1.8 0.5 1.8 0.5 2.4 0.5 3.3 0.5 3.9 0.5 3.6 0.5 8.7 0.5 0 0.5 -10.3 0.5 -3.7 0.5 -5.3 0.5 -5.6 0.5 2.9 0.5 -1.4 0.5 -1.6 0.5 2.4 0.5 -2.3 0.5 2.6 0.5 -1.1 0.5 2.1 0.5 -1 0.5 0.3 0.5 -1.8 0.5 -0.2 0.5 1.6 0.5 -1.2 0.5 0.3 0.5 -1 0.5 3 0.5 1.3 0.5 2.7 0.5 6.1 0.5 3.6 0.5 7.6 0.5 -10.7 0.5 -4.3 0.5 -6.2 0.5 -2.9 0.5 -7.5 0.5 0.2 0.5 2.3 0.5 -2.2 0.5 -0.3 0.5 0.2 0.5 4 0.5 0 0.5 -3.5 0.5 -0.2 0.5 -4.1 0.5 8.1 0.5 -1.6 0.5 -1.5 0.5 1.8 0.5 0.1 0.5 0.3 0.5 -2.8 0.5 1.7 0.5 -5.6 0.5 5.6 0.5 1.8 0.5 -1.9 0.5 2.4 0.5 -2.9 0.5 -1.4 0.5 1.2 0.5 0.2 0.5 -0.2 0.5 -1 0.5 -0.1 0.5 -0.4 0.5 1.6 0.5 1.1 0.5 -2.4 0.5 1.5 0.5 1.2 0.5 -3.1 0.5 2.5 0.5 -0.4 0.5 2.3 0.5 -2.1 0.5 -0.6 0.5 2.8 0.5 -1.8 0.5 -1.1 0.5 -1 0.5 -3.8 0.5 7.4 0.5 -1.3 0.5 0.7 0.5 0.8 0.5 -0.7 0.5 -3.7 0.5 2.8 0.5 2 0.5 -2.3 0.5 -0.2 0.5 -1.9 0.5 1.5 0.5 -0.7 0.5 0.3 0.5 0.1 0.5 1.7 0.5 -0.7 0.5 0.9 0.5 -2.4 0.5 0.4 0.5 12.3 0.5 -10.2 0.5 -1.3 0.5 1.5 0.5 0.7 0.5 -5.7 0.5 4.7 0.5 0.2 0.5 -0.7 0.5 -3.1 0.5 1.6 0.5 2.4 0.5 0 0.5 -0.4 0.5 -1.9 0.5 0.2 0.5 2.8 0.5 6.4 0.5 -7.6 0.5 -1.6 0.5 0.7 0.5 0 0.5 -2.6 0.5 5.5 0.5 5.3 0.5 6 0.5 3.9 0.5 10.9 0.5 -1.3 0.5 1.3 0.5 0 0.5 -1.3 0.5 1.1 0.5 0.2 0.5 -1.2 0.5 -0.1 0.5 1.3 0.5 0 0.5 0 0.5 -0.2 0.5 -11.4 0.5 -4.5 0.5 -6.7 0.5 -1.5 0.5 -3.7 0.5 -1.5 0.5 1.7 0.5 0.6 0.5 1.3 0.5 1.3 0.5 -3.7 0.5 0.5 0.5 2.9 0.5 -0.5 0.5 -1.7 0.5 0.4 0.5 0.8 0.5 1.1 0.5 -1.2 0.5 1.3 0.5 -2.9 0.5 3.1 0.5 -2 0.5 2.3 0.5 -3.4 0.5 2.2 0.5 -2.8 0.5 1 0.5 1.1 0.5 -2.5 0.5 1.4 0.5 -0.4 0.5 12 0.5 -10.6 0.5 0.9 0.5 0.3 0.5 0.2 0.5 -2.6 0.5 3.4 0.5 -2.9 0.5 7.2 0.5 2.8 0.5 4.5 0.5 3.1 0.5 -4.5 0.5 -2.2 0.5 -3.7 0.5 -6.4 0.5 1.5 0.5 1.8 0.5 -1.3 0.5 1.7 0.5 1.8 0.5 5.2 0.5 3.7 0.5 11.7 0.5 0 0.5 0 0.5 -15.1 0.5 -6.3 0.5 -5.7 0.5 -3.4 0.5 0.3 0.5 -2.5 0.5 2.4 0.5 -2.9 0.5 1.2 0.5 3 0.5 -3 0.5 0.5 0.5 2.5 0.5 10.4 0.5 -13.3 0.5 1.2 0.5 -2.8 0.5 3.8 0.5 -3.4 0.5 3.6 0.5 -1.4 0.5 0.4 0.5 13.3 0.5 -12.7 0.5 -3.8 0.5 2.9 0.5 -0.4 0.5 1.5 0.5 0.7 0.5 -8.2 0.5 6.4 0.5 -2.4 0.5 -0.4 0.5 4 0.5 1 0.5 -3.8 0.5 13 0.5 -14 0.5 1.1 0.5 12.6 0.5 -13.6 0.5 2.9 0.5 -2.2 0.5 1.1 0.5 -0.7 0.5 -1.2 0.5 4.9 0.5 -1.6 0.5 1.2 0.5 -0.2 0.5 -3.2 0.5 3.3 0.5 -4 0.5 0 0.5 0.6 0.5 3.7 0.5 -2.5 0.5 1.4 0.5 1.1 0.5 -3.9 0.5 0.2 0.5 15.1 0.5 -14.9 0.5 0.3 0.5 1.7 0.5 1 0.5 9.4 0.5 0 0.5 -16.4 0.5 2.8 0.5 0 0.5 1.2 0.5 3 0.5 -0.8 0.5 -3.3 0.5 0.2 0.5 2.8 0.5 -3.3 0.5 0.8 0.5 2 0.5 -2.9 0.5 4.2 0.5 -2.5 0.5 2.6 0.5 -0.5 0.5 1.5 0.5 6.8 0.5 5.3 0.5 5.5 0.5 10.8 0.5 -11.3 0.5 -6 0.5 -5 0.5 -4.8 0.5 -6.5 0.5 0 0.5 2.1 0.5 -2.1 0.5 1.5 0.5 12.6 0.5 -13.8 0.5 3.8 0.5 -3.5 0.5 3.7 0.5 -2.7 0.5 2.2 0.5 -2.4 0.5 -0.4 0.5 -1.2 0.5 -0.3 0.5 -0.3 0.5 15.5 0.5 -12.2 0.5 -2.3 0.5 14 0.5 -11.5 0.5 0.5 0.5 -1.7 0.5 12.8 0.5 1.3 0.5 -10.5 0.5 5.3 0.5 4.8 0.5 4.8 0.5 13.6 0.5 -0.7 0.5 -7.9 0.5 -8.1 0.5 -7 0.5 -1.7 0.5 -4.3 0.5 2.6 0.5 -1.9 0.5 -0.3 0.5 4.5 0.5 6 0.5 4.5 0.5 14.3 0.5 -11 0.5 -4.9 0.5 -3.6 0.5 -8.1 0.5 0.9 0.5 -3 0.5 1.9 0.5 -1.2 0.5 3.2 0.5 -1.9 0.5 -2.8 0.5 0.4 0.5 1.6 0.5 -1.4 0.5 -0.3 0.5 0.9 0.5 -0.5 0.5 4 0.5 -4.5 0.5 3.8 0.5 -4.1 0.5 4.7 0.5 9 0.5 -9 0.5 -2.2 0.5 0.3 0.5 -6.1 0.5 7.3 0.5 -0.3 0.5 0.5 0.5 1.8 0.5 1.7 0.5 3.1 0.5 7 0.5 12.8 0.5 0 0.5 -0.7 0.5 0.7 0.5 0 0.5 0 0.5 0 0.5 0 0.5 -10.2 0.5 -3.1 0.5 -5.2 0.5 -7 0.5 -1.7 0.5 -6.7 0.5 5.6 0.5 0.6 0.5 -0.7 0.5 1 0.5 -0.3 0.5 -0.4 0.5 0.2 0.5 -0.7 0.5 -1 0.5 3.4 0.5 -1.8 0.5 2 0.5 -0.9 0.5 -2.4 0.5 -1.2 0.5 3.5 0.5 -1.1 0.5 -0.4 0.5 -0.7 0.5 0 0.5 1.9 0.5 -1.8 0.5 2.3 0.5 -3.2 0.5 0.9 0.5 -4.1 0.5 4.1 0.5 2.3 0.5 0.3 0.5 0.7 0.5 -1.7 0.5 1.5 0.5 -3.3 0.5 2.1 0.5 0.6 0.5 -1 0.5 0.5 0.5 -1.2 0.5 -1 0.5 -1.1 0.5 4.4 0.5 -4.6 0.5 0.8 0.5 1.6 0.5 -5.9 0.5 8.1 0.5 -1.8 0.5 0.8 0.5 -3.4 0.5 1.6 0.5 -0.6 0.5 0.3 0.5 3.1 0.5 -4.4 0.5 2.9 0.5 -2.1 0.5 1.8 0.5 -0.8 0.5 -0.6 0.5 2.8 0.5 -1.4 0.5 -1.2 0.5 6.1 0.5 12.8 0.5 -1.9 0.5 10.6 0.5 1.4 0.5 -0.2 0.5 0.2 0.5 0 0.5 -0.7 0.5 0.1 0.5 -9.2 0.5 -4.3 0.5 -5 0.5 -4.3 0.5 -3.1 0.5 0 0.5 -1.2 0.5 0.1 0.5 3.2 0.5 -1.9 0.5 2.3 0.5 -0.1 0.5 -0.7 0.5 -0.6 0.5 -3 0.5 2 0.5 -0.5 0.5 -1.4 0.5 3.8 0.5 -1.2 0.5 -1.6 0.5 -0.2 0.5 3.4 0.5 -2 0.5 -0.3 0.5 2 0.5 -1.4 0.5 -0.2 0.5 0.3 0.5 -1.1 0.5 -1 0.5 1.7 0.5 -0.9 0.5 -0.9 0.5 0.4 0.5 3.5 0.5 -0.5 0.5 -1.2 0.5 0.8 0.5 0.7 0.5 -3.4 0.5 1.4 0.5 1.3 0.5 -0.8 0.5 -1.7 0.5 3.2 0.5 -0.6 0.5 0 0.5 -2.5 0.5 0.2 0.5 0.9 0.5 -1.7 0.5 0.7 0.5 3.1 0.5 0 0.5 -2 0.5 -1.3 0.5 1 0.5 -0.8 0.5 -1 0.5 1.6 0.5 -0.1 0.5 0.7 0.5 -0.2 0.5 -1.2 0.5 0.4 0.5 2.9 0.5 -4.2 0.5 1.6 0.5 1.7 0.5 -1.5 0.5 -0.8 0.5 1 0.5 -1.3 0.5 -4.3 0.5 7.6 0.5 -2.2 0.5 0.4 0.5 0 0.5 -1.2 0.5 -1 0.5 -0.2 0.5 3.5 0.5 -0.7 0.5 1.6 0.5 -0.6 0.5 -2.9 0.5 1.3 0.5 0.6 0.5 -2.6 0.5 3.8 0.5 -0.2 0.5 0.3 0.5 -3.9 0.5 3.9 0.5 9 0.5 -11.9 0.5 1.6 0.5 -1.2 0.5 2.5 0.5 0.1 0.5 0.3 0.5 0.6 0.5 4.6 0.5 2.1 0.5 4.2 0.5 11.4 0.5 1.1 0.5 -0.3 0.5 -1.2 0.5 1.5 0.5 0 0.5 0 0.5 -1.3 0.5 1.3 0.5 -0.4 0.5 0.4 0.5 0 0.5 -1.6 0.5 0.5 0.5 1.1 0.5 0 0.5 0 0.5 -1.4 0.5 1.4 0.5 -0.1 0.5 0.1 0.5 -0.4 0.5 -1 0.5 1.4 0.5 -0.5 0.5 -10.1 0.5 -6.2 0.5 -4.8 0.5 -3 0.5 -4.2 0.5 3.5 0.5 -1.2 0.5 1.1 0.5 -0.4 0.5 -3 0.5 1.5 0.5 1.2 0.5 0.1 0.5 0.6 0.5 0.5 0.5 -0.5 0.5 -2.3 0.5 12.6 0.5 -10.8 0.5 0.8 0.5 -2.6 0.5 -0.5 0.5 1.3 0.5 1.8 0.5 -1.8 0.5 -1.2 0.5 2.4 0.5 -2.6 0.5 -2.8 0.5 6.6 0.5 -1.5 0.5 -2.3 0.5 0.6 0.5 1.6 0.5 1.6 0.5 -3.8 0.5 1.1 0.5 0.4 0.5 -0.2 0.5 -1.2 0.5 1.2 0.5 5.1 0.5 1.4 0.5 6.4 0.5 4.4 0.5 9.7 0.5 0 0.5 0 0.5 0 0.5 0 0.5 0 0.5 -12.4 0.5 -4.4 0.5 -4.9 0.5 -3.8 0.5 0 0.5 1 0.5 -3.4 0.5 2.5 0.5 -0.3 0.5 1.4 0.5 -1 0.5 -0.3 0.5 -0.3 0.5 -0.6 0.5 -1.2 0.5 3.2 0.5 -1.1 0.5 1.1 0.5 -1.8 0.5 1.8 0.5 0.4 0.5 -2.1 0.5 1.3 0.5 -0.9 0.5 -0.9 0.5 -1.7 0.5 4.3 0.5 -1.2 0.5 0.5 0.5 -3.9 0.5 1.3 0.5 2.7 0.5 -1.7 0.5 -1.4 0.5 2.5 0.5 -0.1 0.5 4 0.5 4.3 0.5 3.4 0.5 13.7 0.5 -9.4 0.5 -2.8 0.5 -6.2 0.5 -2.1 0.5 -5.8 0.5 2.6 0.5 -1.7 0.5 -0.7 0.5 1.3 0.5 -1.8 0.5 2.5 0.5 -1.8 0.5 -1.5 0.5 1.9 0.5 -1.6 0.5 3 0.5 -3.6 0.5 0 0.5 0.1 0.5 3.9 0.5 -2.1 0.5 -0.2 0.5 1.6 0.5 -2.7 0.5 2.2 0.5 -1.2 0.5 0.3 0.5 0.7 0.5 2.4 0.5 0.8 0.5 4.7 0.5 4.9 0.5 12.3 0.5 -0.9 0.5 -12.1 0.5 -3.7 0.5 -3.6 0.5 -7.5 0.5 3.5 0.5 -1.8 0.5 -0.8 0.5 -0.7 0.5 3.3 0.5 -3.9 0.5 -0.1 0.5 2.1 0.5 -1 0.5 2.2 0.5 -2.8 0.5 0.2 0.5 -0.1 0.5 3.1 0.5 0.3 0.5 -3.6 0.5 3.1 0.5 -1.7 0.5 0.6 0.5 0 0.5 1.1 0.5 -3.7 0.5 0.9 0.5 2.8 0.5 -1.6 0.5 -1.4 0.5 0.5 0.5 1.4 0.5 -0.8 0.5 -0.6 0.5 0.9 0.5 1.1 0.5 -2.5 0.5 3.2 0.5 -1.2 0.5 -2.2 0.5 0.9 0.5 -1.3 0.5 4 0.5 -0.6 0.5 10.4 0.5 -11.1 0.5 0.1 0.5 0.3 0.5 0.1 0.5 -1.7 0.5 1.6 0.5 1.6 0.5 13.4 0.5 -3.7 0.5 4.3 0.5 9.3 0.5 0.4 0.5 -0.9 0.5 -0.4 0.5 1.3 0.5 0 0.5 0 0.5 0 0.5 -0.7 0.5 0.1 0.5 0.5 0.5 -13 0.5 -3.4 0.5 -4.7 0.5 -4.4 0.5 -1.2 0.5 1.6 0.5 0.1 0.5 -1.6 0.5 -0.6 0.5 2.8 0.5 -2 0.5 2.9 0.5 -3.2 0.5 0.6 0.5 2.4 0.5 0.1 0.5 -2.9 0.5 2.9 0.5 -3.4 0.5 3.1 0.5 -1.6 0.5 -0.9 0.5 -0.4 0.5 1.9 0.5 0.2 0.5 0.8 0.5 -2.5 0.5 0.6 0.5 2.2 0.5 -0.6 0.5 -3 0.5 4.2 0.5 1.6 0.5 5.3 0.5 4 0.5 12.2 0.5 0 0.5 -10.7 0.5 -4.5 0.5 -2.6 0.5 -5.7 0.5 1.2 0.5 -2.3 0.5 10.8 0.5 -10.9 0.5 -0.5 0.5 1.7 0.5 1.3 0.5 -3.3 0.5 1.7 0.5 0.8 0.5 0 0.5 -0.4 0.5 -2 0.5 -0.3 0.5 1.8 0.5 1.3 0.5 -1.4 0.5 0.8 0.5 -2.3 0.5 1.2 0.5 1.4 0.5 -0.2 0.5 -1.6 0.5 -1 0.5 2 0.5 -2.5 0.5 4 0.5 -1.9 0.5 -1.4 0.5 2.6 0.5 0.4 0.5 -3.6 0.5 -1.4 0.5 5 0.5 0.2 0.5 -2.4 0.5 8.7 0.5 -9.9 0.5 1.4 0.5 -0.7 0.5 2.9 0.5 -2.7 0.5 -1.2 0.5 3.2 0.5 -2.4 0.5 1.2 0.5 0.3 0.5 5.8 0.5 3.4 0.5 3.8 0.5 10.9 0.5 -1.4 0.5 0.9 0.5 0.5 0.5 0 0.5 0 0.5 0 0.5 0 0.5 -1.1 0.5 -0.4 0.5 1.5 0.5 -8.7 0.5 -5.3 0.5 -2.9 0.5 -5.4 0.5 -1.6 0.5 -3.3 0.5 2.7 0.5 -1 0.5 -1 0.5 2.1 0.5 -2.1 0.5 1.5 0.5 1.7 0.5 -3.6 0.5 1 0.5 -1 0.5 0.7 0.5 -0.8 0.5 0.7 0.5 0.1 0.5 2.9 0.5 -2.3 0.5 -4.8 0.5 3.8 0.5 6.4 0.5 4.6 0.5 3 0.5 12.4 0.5 -10.9 0.5 -2.7 0.5 -6.7 0.5 -1.4 0.5 -4.7 0.5 1.4 0.5 0.5 0.5 -1.6 0.5 -0.5 0.5 -0.3 0.5 -3.1 0.5 9.2 0.5 3 0.5 3.1 0.5 5.4 0.5 8.5 0.5 -8.5 0.5 -5 0.5 -2.9 0.5 4.9 0.5 -15.7 0.5 1.2 0.5 -1 0.5 -0.1 0.5 -0.2 0.5 -0.6 0.5 0.5 0.5 -0.6 0.5 4.2 0.5 -0.3 0.5 -5.1 0.5 3.5 0.5 -0.3 0.5 1.9 0.5 -1 0.5 -2.6 0.5 1 0.5 -0.1 0.5 2.7 0.5 -3.3 0.5 0 0.5 1.6 0.5 0.3 0.5 -1.2 0.5 -1.1 0.5 3.1 0.5 10.3 0.5 -12.8 0.5 0.2 0.5 2 0.5 -0.8 0.5 0.5 0.5 10 0.5 -8.6 0.5 -2.9 0.5 11.2 0.5 -10.3 0.5 5 0.5 6.4 0.5 2.5 0.5 13 0.5 -1.5 0.5 1.5 0.5 0 0.5 0 0.5 0 0.5 0 0.5 0 0.5 -0.3 0.5 0.3 0.5 -1.4 0.5 1.4 0.5 -1.2 0.5 1.2 0.5 0 0.5 0 0.5 -10 0.5 -9.5 0.5 -6.2 0.5 -6.1 0.5 -2.1 0.5 0.1 0.5 0.7 0.5 1.1 0.5 -0.5 0.5 2.3 0.5 -2.1 0.5 1.1 0.5 -0.5 0.5 0.8 0.5 -0.5 0.5 0.8 0.5 -0.6 0.5 -3.4 0.5 0 0.5 3.1 0.5 -3 0.5 1.1 0.5 3.4 0.5 -1.5 0.5 -1.9 0.5 3 0.5 -3.5 0.5 0.4 0.5 3.7 0.5 -0.2 0.5 -1.7 0.5 -2.2 0.5 1.3 0.5 13.9 0.5 -16.1 0.5 4.5 0.5 -0.9 0.5 -3.5 0.5 1.7 0.5 2.9 0.5 -1.8 0.5 1.1 0.5 -3.9 0.5 2.3 0.5 -4.9 0.5 4.2 0.5 1.3 0.5 -1.4 0.5 2.8 0.5 -1.8 0.5 1.2 0.5 -7.7 0.5 7.4 0.5 -3.4 0.5 2.4 0.5 -2.5 0.5 2.5 0.5 0.4 0.5 0.3 0.5 2.1 0.5 -0.1 0.5 -4.4 0.5 0.6 0.5 2.3 0.5 -2.4 0.5 -1.2 0.5 -3.6 0.5 13.3 0.5 2.7 0.5 12.6 0.5 9.7 0.5 -11.5 0.5 -2.4 0.5 -6.2 0.5 -4.1 0.5 -6.4 0.5 1.8 0.5 0.4 0.5 0.6 0.5 0 0.5 0.2 0.5 -1.7 0.5 -2 0.5 0.5 0.5 0.2 0.5 2.3 0.5 -1.2 0.5 11.1 0.5 -9.4 0.5 -2.9 0.5 -0.6 0.5 12.3 0.5 -8.9 0.5 -3.6 0.5 1.9 0.5 -1 0.5 2.1 0.5 -1.8 0.5 0.5 0.5 1.3 0.5 1.4 0.5 2.1 0.5 5.7 0.5 9.8 0.5 -0.9 0.5 10.4 0.5 0 0.5 -1.1 0.5 1.1 0.5 -0.9 0.5 0.9 0.5 0 0.5 -0.5 0.5 0.5 0.5 -0.6 0.5 0.2 0.5 0.4 0.5 0 0.5 0 0.5 0 0.5 0 0.5 0 0.5 -0.4 0.5 0.1 0.5 0.2 0.5 -0.1 0.5 0.2 0.5 0 0.5 0 0.5 0 0.5 0 0.5 0 0.5 0 0.5 -0.2 0.5 -1.3 0.5 1.5 0.5 -0.8 0.5 -0.1 0.5 0.9 0.5 -0.1 0.5 -0.7 0.5 0.6 0.5 0.2 0.5 0 0.5 0 0.5 0 0.5 0 0.5 0 0.5 0 0.5 -0.3 0.5 0.3 0.5 -1.4 0.5 1.4 0.5 -1.4 0.5 1.4 0.5 0 0.5 0 0.5 -0.8 0.5 0.1 0.5 0.7 0.5 0 0.5 0 0.5 0 0.5 -0.7 0.5 0.7 0.5 -0.9 0.5 0.8 0.5 -0.2 0.5 0.3 0.5 0 0.5 0 0.5 -1.2 0.5 1.2 0.5 0 0.5 -1.1 0.5 1.1 0.5 0 0.5 0 0.5 0 0.5 0 0.5 0 0.5 0 0.5 0 0.5 0 0.5 -0.7 0.5 0.5 0.5 -0.6 0.5 0.8 0.5 0 0.5 0 0.5 0 0.5 0 0.5 0 0.5 0 0.5 0 0.5 0 0.5 0 0.5 0 0.5 0 0.5 -1.4 0.5 0.7 0.5 0.3 0.5 0.4 0.5 0 0.5 0 0.5 0 0.5 0 0.5 -1.2 0.5 1.2 0.5 0 0.5 0 0.5 0 0.5 0 0.5 -0.3 0.5 -0.3 0.5 0.6 0.5 0 0.5 0 0.5 0 0.5 0 0.5 -0.9 0.5 0.9 0.5 0 0.5 0 0.5 0 0.5 -0.2 0.5 -0.6 0.5 0.8 0.5 0 0.5 0 0.5 0 0.5 0 0.5 0 0.5 0 0.5 0 0.5 0 0.5 0 0.5 0 0.5 0 0.5 0 0.5 -0.7 0.5 0.7 0.5 0 0.5 0 0.5 -0.4 0.5 0.4 0.5 0 0.5 0 0.5 0 0.5 -1.5 0.5 0 0.5 1.2 0.5 -1 0.5 1.3 0.5 0 0.5 0 0.5 0 0.5 0 0.5 0 0.5 -1 0.5 1 0.5 -1.2 0.5 1.2 0.5 0 0.5 0 0.5 -0.6 0.5 0.6 0.5 -1.2 0.5 1.2 0.5 0 0.5 -1.3 0.5 1.3 0.5 -0.2 0.5 0.2 0.5 0 0.5 0 0.5 0 0.5 0 0.5 -1.1 0.5 1.1 0.5 0 0.5 -1.2 0.5 1.2 0.5 0 0.5 0 0.5 0 0.5 0 0.5 0 0.5 0 0.5 -1.5 0.5 1.4 0.5 0.1 0.5 0 0.5 0 0.5 -0.2 0.5 0.2 0.5 0 0.5 -0.6 0.5 0.6 0.5 0 0.5 0 0.5 0 0.5 -1.3 0.5 1.3 0.5 0 0.5 0 0.5 0 0.5 0 0.5 0 0.5 0 0.5 0 0.5 -1 0.5 -0.2 0.5 0.8 0.5 0.4 0.5 0 0.5 0 0.5 -1 0.5 0 0.5 1 0.5 0 0.5 -0.9 0.5 0.9 0.5 0 0.5 -0.4 0.5 0.4 0.5 0 0.5 0 0.5 -0.6 0.5 0.6 0.5 0 0.5 0 0.5 0 0.5 -1 0.5 1 0.5 0 0.5 -14.9 0.5 -8.1 0.5 -6.3 0.5 -2.2 0.5 -4.2 0.5 0.3 0.5 3.5 0.5 -1.2 0.5 -0.9 0.5 1.7 0.5 1.8 0.5 -4.1 0.5 -1.1 0.5 0.8 0.5 4.6 0.5 -3.6 0.5 -0.2 0.5 1.6 0.5 -1.6 0.5 -0.7 0.5 3.3 0.5 -2.7 0.5 0.2 0.5 1.2 0.5 -0.6 0.5 0.9 0.5 -0.1 0.5 2.2 0.5 -1.6 0.5 -1.9 0.5 1.4 0.5 1.1 0.5 -3.6 0.5 2 0.5 2.2 0.5 -1.5 0.5 6.2 0.5 2.2 0.5 4.1 0.5 9.1 0.5 10.7 0.5 -11.1 0.5 -4.1 0.5 -6.7 0.5 -6.5 0.5 -3.2 0.5 -1.4 0.5 1.8 0.5 -2.6 0.5 4.5 0.5 -4.6 0.5 0.6 0.5 -0.2 0.5 1 0.5 -1.7 0.5 2.7 0.5 -0.6 0.5 1.8 0.5 -3.7 0.5 1.7 0.5 2.7 0.5 -4.5 0.5 4.2 0.5 -3.5 0.5 1.4 0.5 -0.5 0.5 1.8 0.5 -2.8 0.5 2.8 0.5 1.3 0.5 -0.3 0.5 -1.6 0.5 -2.1 0.5 0.4 0.5 8.1 0.5 5.7 0.5 3.9 0.5 15.3 0.5 0 0.5 0 0.5 0 0.5 -11.2 0.5 -3.9 0.5 -6 0.5 -5.2 0.5 0 0.5 -1.4 0.5 -2.2 0.5 0.9 0.5 -0.6 0.5 0 0.5 0.1 0.5 -0.5 0.5 3.4 0.5 -1.1 0.5 0.7 0.5 -2.4 0.5 -4.3 0.5 6.7 0.5 0.4 0.5 0.6 0.5 -2.7 0.5 1.9 0.5 0 0.5 -2.4 0.5 1 0.5 -0.1 0.5 -2 0.5 2.8 0.5 -1.1 0.5 1 0.5 -1.6 0.5 2.7 0.5 -2.3 0.5 1.1 0.5 4.8 0.5 5.6 0.5 4.3 0.5 13 0.5 0 0.5 0 0.5 0 0.5 0 0.5 0 0.5 0 0.5 0 0.5 0 0.5 0 0.5 0 0.5 0 0.5 0 0.5 0 0.5 0 0.5 0 0.5 0 0.5 0 0.5 0 0.5 0 0.5 0 0.5 0 0.5 -1.1 0.5 1.1 0.5 0 0.5 0 0.5 0 0.5 0 0.5 0 0.5 0 0.5 0 0.5 -1 0.5 0 0.5 1 0.5 -0.7 0.5 0.7 0.5 0 0.5 -2.2 0.5 -1.2 0.5 -1.1 0.5 -1 0.5 -0.9 0.5 0.2 0.5 -0.8 0.5 0.5 0.5 -0.2 0.5 0.9 0.5 -0.8 0.5 3.1 0.5 -2.4 0.5 -0.1 0.5 -0.4 0.5 0.5 0.5 -0.3 0.5 -0.6 0.5 0.3 0.5 0.6 0.5 -0.9 0.5 0.9 0.5 -0.2 0.5 -1.3 0.5 1.3 0.5 -0.7 0.5 0.1 0.5 0.3 0.5 0.1 0.5 -0.5 0.5 0.9 0.5 0 0.5 0.1 0.5 -0.8 0.5 0.3 0.5 -0.2 0.5 -0.3 0.5 0 0.5 1 0.5 0 0.5 -0.3 0.5 -0.2 0.5 0 0.5 1.2 0.5 2.4 0.5 -0.8 0.5 1.3 0.5 2.2 0.5 0 0.5 0 0.5 0 0.5 -1.2 0.5 1.1 0.5 0.1 0.5 0 0.5 0 0.5 -5.7 0.5 -3 0.5 1.5 0.5 -8.3 0.5 -0.5 0.5 0.4 0.5 0.9 0.5 -0.3 0.5 0.6 0.5 -1.3 0.5 -0.7 0.5 2.5 0.5 0.9 0.5 4.2 0.5 2 0.5 5.4 0.5 -5.5 0.5 -2.9 0.5 -1.6 0.5 -2.9 0.5 -0.8 0.5 0.4 0.5 1.1 0.5 4.7 0.5 -5.2 0.5 -0.3 0.5 -1.3 0.5 -1.7 0.5 2.6 0.5 0.9 0.5 -1.7 0.5 0.5 0.5 0.6 0.5 1.7 0.5 2.3 0.5 2.3 0.5 1.6 0.5 6.6 0.5 -1.1 0.5 0.9 0.5 0.2 0.5 0 0.5 -1.3 0.5 1.3 0.5 -3.3 0.5 -1.4 0.5 -0.9 0.5 -1.1 0.5 -0.5 0.5 0.8 0.5 -0.4 0.5 -0.5 0.5 0.6 0.5 -0.3 0.5 0.7 0.5 0 0.5 0.6 0.5 0.8 0.5 1.7 0.5 1 0.5 2.2 0.5 -3.2 0.5 -0.9 0.5 -0.7 0.5 -1.1 0.5 -0.3 0.5 -0.4 0.5 0.2 0.5 0.6 0.5 -0.4 0.5 -0.2 0.5 -0.2 0.5 0 0.5 -0.2 0.5 0.5 0.5 0.2 0.5 -0.5 0.5 -0.1 0.5 0.2 0.5 -0.3 0.5 0.7 0.5 0.3 0.5 -0.8 0.5 0 0.5 0.6 0.5 0.6 0.5 1.3 0.5 0.6 0.5 1.2 0.5 2.3 0.5 0 0.5 0 0.5 0 0.5 -0.8 0.5 0.8 0.5 0 0.5 0 0.5 0 0.5 -0.5 0.5 0.5 0.5 -1.3 0.5 1.3 0.5 0 0.5 0 0.5 -0.4 0.5 -2.8 0.5 -1.9 0.5 -1.5 0.5 -2.3 0.5 -0.7 0.5 -1.3 0.5 1.3 0.5 -0.7 0.5 1.2 0.5 -0.3 0.5 -1 0.5 1.3 0.5 -0.2 0.5 -0.1 0.5 0.5 0.5 -0.7 0.5 2 0.5 1.6 0.5 1.4 0.5 4.6 0.5 -0.2 0.5 0.2 0.5 -0.1 0.5 -3 0.5 -1.6 0.5 -1.6 0.5 -1.2 0.5 0 0.5 -0.7 0.5 -0.5 0.5 1.2 0.5 -0.9 0.5 0.2 0.5 0 0.5 1.5 0.5 1.2 0.5 1.2 0.5 1.1 0.5 3.2 0.5 0 0.5 0 0.5 0 0.5 0 0.5 -0.6 0.5 0.6 0.5 0 0.5 0 0.5 -0.8 0.5 0.8 0.5 0 0.5 0 0.5 -5.9 0.5 -3 0.5 -2.1 0.5 -2.2 0.5 0.7 0.5 -2 0.5 -0.1 0.5 0 0.5 1.8 0.5 -0.8 0.5 -0.5 0.5 0.9 0.5 0.2 0.5 0.3 0.5 -3.1 0.5 2.8 0.5 -1.6 0.5 0.3 0.5 1 0.5 0.8 0.5 -1.9 0.5 6.5 0.5 -5.3 0.5 5.3 0.5 -5.3 0.5 -0.1 0.5 5 0.5 -6.8 0.5 1 0.5 1.7 0.5 0 0.5 -1.6 0.5 0.9 0.5 -1.7 0.5 1.3 0.5 0.5 0.5 -1.5 0.5 0.7 0.5 0.8 0.5 -1.5 0.5 0 0.5 1.6 0.5 -1.8 0.5 1 0.5 -0.8 0.5 0.9 0.5 0.9 0.5 -2.6 0.5 1.1 0.5 0.3 0.5 0.4 0.5 0 0.5 -0.3 0.5 0.9 0.5 0 0.5 0.2 0.5 -1.2 0.5 -0.2 0.5 0.2 0.5 -0.3 0.5 -0.3 0.5 1.2 0.5 4.7 0.5 -5 0.5 1 0.5 -2 0.5 2.1 0.5 0 0.5 -1.2 0.5 -0.2 0.5 -0.3 0.5 1.4 0.5 -0.3 0.5 -0.7 0.5 0.2 0.5 0.5 0.5 0.4 0.5 -0.7 0.5 0.9 0.5 -0.6 0.5 0 0.5 -1.3 0.5 -0.1 0.5 2 0.5 -1.7 0.5 1.4 0.5 -1.8 0.5 1.7 0.5 -0.8 0.5 0.2 0.5 0.5 0.5 -1.1 0.5 -0.7 0.5 1.9 0.5 -0.4 0.5 -0.2 0.5 -0.8 0.5 0 0.5 -0.1 0.5 1.6 0.5 -1.7 0.5 2 0.5 -3.5 0.5 2 0.5 0.5 0.5 0.3 0.5 -0.7 0.5 0.3 0.5 -0.9 0.5 0 0.5 2 0.5 -0.2 0.5 -1.3 0.5 1.2 0.5 -1 0.5 0.9 0.5 -1.5 0.5 1.3 0.5 -3.2 0.5 3 0.5 0.2 0.5 -0.7 0.5 -0.4 0.5 1.7 0.5 -2.1 0.5 1.9 0.5 0.1 0.5 0.2 0.5 -2.3 0.5 2.1 0.5 -2.1 0.5 0 0.5 0.1 0.5 1.2 0.5 -0.2 0.5 -0.9 0.5 0.1 0.5 1.7 0.5 -1.1 0.5 -0.2 0.5 -0.1 0.5 1.5 0.5 -1.9 0.5 0.2 0.5 1.6 0.5 -0.8 0.5 -0.7 0.5 0.9 0.5 0.5 0.5 -0.7 0.5 -1.3 0.5 0.7 0.5 0.2 0.5 0.9 0.5 -1.3 0.5 1.2 0.5 -1.4 0.5 2.6 0.5 2.9 0.5 1 0.5 3.1 0.5 4.9 0.5 0 0.5 0 0.5 -5 0.5 -1.7 0.5 -2.3 0.5 -1.8 0.5 2.7 0.5 -4.9 0.5 -2.1 0.5 1.6 0.5 1.5 0.5 -0.5 0.5 -0.4 0.5 -0.3 0.5 1.2 0.5 -0.4 0.5 5.2 0.5 -4.5 0.5 -0.8 0.5 0.1 0.5 -1.1 0.5 1.9 0.5 -0.4 0.5 -0.9 0.5 1 0.5 -1.4 0.5 0.9 0.5 -0.5 0.5 0.3 0.5 0.7 0.5 -0.5 0.5 0 0.5 -0.9 0.5 1 0.5 -0.8 0.5 1.5 0.5 -0.3 0.5 -0.1 0.5 -0.8 0.5 0.9 0.5 -1.2 0.5 1.2 0.5 0.1 0.5 -1.7 0.5 -0.1 0.5 1.6 0.5 -0.3 0.5 0.7 0.5 -1.6 0.5 0.6 0.5 -0.8 0.5 1.2 0.5 0.1 0.5 -0.6 0.5 -1 0.5 0.6 0.5 0.4 0.5 -1 0.5 0.5 0.5 0.5 0.5 0.4 0.5 -0.1 0.5 -1.2 0.5 0 0.5 0 0.5 1.8 0.5 -1.4 0.5 1.6 0.5 -1.1 0.5 1 0.5 -1.8 0.5 0.6 0.5 0.1 0.5 -0.1 0.5 1 0.5 -1.6 0.5 0.5 0.5 1.4 0.5 -0.2 0.5 -1.9 0.5 0.8 0.5 0.1 0.5 1.2 0.5 0 0.5 -1.7 0.5 0.7 0.5 0 0.5 0.3 0.5 -0.1 0.5 -0.2 0.5 -0.2 0.5 -0.5 0.5 1.5 0.5 -1.9 0.5 0.8 0.5 -2.3 0.5 1.5 0.5 1.1 0.5 5.3 0.5 -0.4 0.5 -5.6 0.5 0.1 0.5 1.6 0.5 -0.8 0.5 0.6 0.5 0.2 0.5 -1.9 0.5 1.4 0.5 -1.1 0.5 0 0.5 0.6 0.5 0.1 0.5 -0.9 0.5 0.2 0.5 0.3 0.5 -0.4 0.5 1.1 0.5 0 0.5 -1 0.5 1.5 0.5 -0.7 0.5 0.4 0.5 -0.4 0.5 0.6 0.5 -0.6 0.5 5 0.5 -5.7 0.5 0.9 0.5 -0.9 0.5 -0.1 0.5 0.8 0.5 -1.2 0.5 1.4 0.5 -1.5 0.5 2.2 0.5 -0.6 0.5 -1.1 0.5 -0.3 0.5 1.1 0.5 0.2 0.5 -0.5 0.5 -0.1 0.5 -0.3 0.5 1.2 0.5 -1.6 0.5 -0.2 0.5 1.1 0.5 -0.6 0.5 0.3 0.5 0.1 0.5 0.1 0.5 -0.2 0.5 0.4 0.5 -0.6 0.5 1.3 0.5 -0.5 0.5 0.3 0.5 -0.3 0.5 -0.5 0.5 -0.5 0.5 0.3 0.5 1.4 0.5 -1.8 0.5 -0.2 0.5 0.5 0.5 0.5 0.5 3.2 0.5 1.6 0.5 1.8 0.5 6 0.5 -1.1 0.5 -0.3 0.5 1.4 0.5 0 0.5 0 0.5 0 0.5 0 0.5 0 0.5 0 0.5 -17.6 0.5 -5.6 0.5 -6.2 0.5 -7.2 0.5 0 0.5 -1.5 0.5 -0.8 0.5 -2.4 0.5 2.5 0.5 -2.1 0.5 0.7 0.5 -1.6 0.5 2.3 0.5 0.3 0.5 -0.7 0.5 -1.3 0.5 3.6 0.5 -3 0.5 4 0.5 10.4 0.5 4.3 0.5 6.5 0.5 15.4 0.5 0 0.5 -1.5 0.5 1.5 0.5 0 0.5 0 0.5 0 0.5 -1.1 0.5 1.1 0.5 0 0.5 -0.1 0.5 0.1 0.5 0 0.5 0 0.5 0 0.5 0 0.5 0 0.5 0 0.5 -14.4 0.5 -4.2 0.5 -5.6 0.5 -2.6 0.5 -3 0.5 0.7 0.5 1.3 0.5 1.2 0.5 0.5 0.5 -6.1 0.5 5.2 0.5 1.3 0.5 -4.5 0.5 3.6 0.5 -1.6 0.5 -1.3 0.5 -0.6 0.5 4.2 0.5 -0.4 0.5 -0.4 0.5 -3.8 0.5 1.6 0.5 -0.6 0.5 2.2 0.5 0.4 0.5 -2 0.5 1.4 0.5 -1.5 0.5 1.6 0.5 0.5 0.5 -3.5 0.5 4.2 0.5 -2.7 0.5 -0.2 0.5 -0.8 0.5 2.5 0.5 1.4 0.5 -2.3 0.5 -0.1 0.5 -0.7 0.5 5.3 0.5 4.9 0.5 6.1 0.5 12.2 0.5 0.6 0.5 -11.7 0.5 -3 0.5 -10.1 0.5 -2.8 0.5 0.1 0.5 0.4 0.5 -1.3 0.5 0.3 0.5 0.9 0.5 -0.9 0.5 -2.2 0.5 2.7 0.5 -2.8 0.5 3.3 0.5 -3 0.5 1.5 0.5 0.5 0.5 -2.4 0.5 2.1 0.5 0.8 0.5 -2.4 0.5 1.5 0.5 -1.6 0.5 3 0.5 -1.2 0.5 0.4 0.5 2.9 0.5 5.6 0.5 4.8 0.5 14.2 0.5 -9.8 0.5 -5.3 0.5 -6.2 0.5 -3.6 0.5 5.6 0.5 3.4 0.5 4.6 0.5 11.7 0.5 -12.6 0.5 -5 0.5 -5.9 0.5 -3.2 0.5 -0.6 0.5 -2.5 0.5 3.5 0.5 -2 0.5 -0.8 0.5 2.5 0.5 0.4 0.5 0.4 0.5 -4.1 0.5 1.7 0.5 0.1 0.5 -2.1 0.5 4.2 0.5 -2.3 0.5 1.1 0.5 0.1 0.5 0.7 0.5 -1.7 0.5 2.2 0.5 -0.5 0.5 -3.6 0.5 1 0.5 9.4 0.5 5.9 0.5 3.3 0.5 10.4 0.5 0 0.5 -13.2 0.5 -2.7 0.5 -6 0.5 -7 0.5 1.2 0.5 -2.1 0.5 -0.7 0.5 0.2 0.5 2.2 0.5 -5.2 0.5 5.2 0.5 -1.2 0.5 0 0.5 2.3 0.5 -2.8 0.5 2.8 0.5 -2.9 0.5 3.5 0.5 8.8 0.5 -7.2 0.5 7.2 0.5 2.1 0.5 6 0.5 9.5 0.5 -9.4 0.5 -3.8 0.5 -9.4 0.5 -2.5 0.5 -3.2 0.5 3.2 0.5 -3.4 0.5 3 0.5 -0.1 0.5 -0.6 0.5 -2.8 0.5 4 0.5 -1.5 0.5 -3 0.5 2.1 0.5 1.8 0.5 -2.4 0.5 -1.1 0.5 0.4 0.5 1.9 0.5 1.5 0.5 -2.8 0.5 0.2 0.5 -1 0.5 3.9 0.5 -0.8 0.5 -1.6 0.5 0.6 0.5 -4.2 0.5 2.5 0.5 -0.8 0.5 0.8 0.5 -1 0.5 2.6 0.5 0.7 0.5 0.9 0.5 0.1 0.5 10.2 0.5 -11.1 0.5 -0.8 0.5 0.2 0.5 1.4 0.5 -0.1 0.5 -2.5 0.5 -0.6 0.5 1.8 0.5 0.9 0.5 0.8 0.5 -4.1 0.5 4.2 0.5 -0.4 0.5 -1.4 0.5 -0.7 0.5 -1.8 0.5 2 0.5 2 0.5 -1.8 0.5 0.9 0.5 -0.4 0.5 1.2 0.5 -1.7 0.5 -0.9 0.5 0.4 0.5 -1.5 0.5 3.9 0.5 -2.9 0.5 1.8 0.5 -0.5 0.5 -0.6 0.5 2.4 0.5 -4.2 0.5 7.5 0.5 4.6 0.5 5.2 0.5 11.8 0.5 0 0.5 0 0.5 0 0.5 -0.2 0.5 0.2 0.5 -0.1 0.5 -0.2 0.5 0.3 0.5 -0.6 0.5 0.6 0.5 -11 0.5 -3.1 0.5 3.1 0.5 -11.6 0.5 -0.7 0.5 1.8 0.5 -0.4 0.5 -0.4 0.5 0.6 0.5 1.5 0.5 -1.3 0.5 -0.5 0.5 1.2 0.5 0.4 0.5 0.2 0.5 0.7 0.5 4.2 0.5 2.3 0.5 5.3 0.5 7.7 0.5 -1.1 0.5 0.9 0.5 -12.1 0.5 -5.9 0.5 -4.6 0.5 -2.8 0.5 -1.6 0.5 1.3 0.5 -2.6 0.5 1.2 0.5 0.6 0.5 -3 0.5 12.8 0.5 -13.3 0.5 0.8 0.5 2.1 0.5 -2.1 0.5 1.3 0.5 0.6 0.5 -3 0.5 0.2 0.5 0.8 0.5 0.9 0.5 -1.6 0.5 2.8 0.5 0.2 0.5 -2.4 0.5 2.9 0.5 2.4 0.5 2.6 0.5 5.2 0.5 5.9 0.5 10.6 0.5 -1.5 0.5 -9 0.5 -2.9 0.5 -6.3 0.5 -4.5 0.5 -4.1 0.5 -0.3 0.5 0.8 0.5 0.4 0.5 -5.7 0.5 3.4 0.5 1.2 0.5 -0.7 0.5 -0.9 0.5 14.5 0.5 -10.1 0.5 -4.6 0.5 1.7 0.5 -1.6 0.5 0.6 0.5 2.9 0.5 -2.2 0.5 0.4 0.5 1.4 0.5 0.7 0.5 -3.3 0.5 3.8 0.5 9 0.5 -10.2 0.5 -0.7 0.5 1 0.5 -1.3 0.5 -2.5 0.5 4.5 0.5 -1.7 0.5 1.3 0.5 -2.9 0.5 2.6 0.5 -0.9 0.5 3.2 0.5 2.3 0.5 4.6 0.5 4.5 0.5 13.1 0.5 -11.1 0.5 -4.9 0.5 -5.5 0.5 7.5 0.5 -14 0.5 1.9 0.5 -1.9 0.5 -1.4 0.5 -1.2 0.5 0 0.5 4.9 0.5 -2.5 0.5 -0.2 0.5 -0.8 0.5 -0.3 0.5 2 0.5 0.7 0.5 -1.8 0.5 -1.4 0.5 -0.3 0.5 3.8 0.5 -3.8 0.5 1.9 0.5 2.7 0.5 4.7 0.5 3.4 0.5 5.3 0.5 12 0.5 0.3 0.5 -11.8 0.5 -2.9 0.5 -3.4 0.5 -5.6 0.5 -1.8 0.5 -0.2 0.5 -0.5 0.5 3.5 0.5 -2 0.5 -1.1 0.5 2.8 0.5 -2.4 0.5 2.1 0.5 -1.8 0.5 1.5 0.5 -0.1 0.5 9.5 0.5 -1.4 0.5 -10.6 0.5 3.8 0.5 -0.7 0.5 5.8 0.5 5 0.5 2.9 0.5 9.4 0.5 -1 0.5 1 0.5 0 0.5 0 0.5 -1.5 0.5 -1.2 0.5 -1.3 0.5 -0.7 0.5 -1.4 0.5 -1.5 0.5 0.2 0.5 0.3 0.5 -0.1 0.5 1.5 0.5 0.7 0.5 1.1 0.5 1.5 0.5 2.4 0.5 -13.6 0.5 2.6 0.5 -13.7 0.5 -3.1 0.5 0.1 0.5 -1.5 0.5 -3.2 0.5 1.1 0.5 2.1 0.5 -3 0.5 3.5 0.5 0 0.5 -5.1 0.5 2.9 0.5 -0.6 0.5 1.2 0.5 -1.7 0.5 1.2 0.5 -1.5 0.5 -0.2 0.5 1.6 0.5 5.4 0.5 6.1 0.5 3.9 0.5 3.7 0.5 -5.2 0.5 -2.5 0.5 -7.9 0.5 -4 0.5 14.1 0.5 -14.1 0.5 2.9 0.5 -1 0.5 -0.7 0.5 3.3 0.5 -4.9 0.5 4.8 0.5 -4.6 0.5 1.1 0.5 1.4 0.5 2 0.5 2.3 0.5 8.3 0.5 3.5 0.5 13 0.5 0 0.5 0 0.5 0 0.5 0 0.5 0 0.5 -0.8 0.5 0.8 0.5 0 0.5 0 0.5 -14.8 0.5 -9.1 0.5 -2.2 0.5 -5.7 0.5 -1.4 0.5 -2.2 0.5 -1.4 0.5 1.2 0.5 14.8 0.5 -15.4 0.5 -1.7 0.5 5 0.5 -0.3 0.5 1.2 0.5 -2.4 0.5 -0.4 0.5 -2.7 0.5 -0.7 0.5 2.9 0.5 -2.2 0.5 5.3 0.5 -2 0.5 1.7 0.5 -0.2 0.5 0 0.5 -4.9 0.5 1.9 0.5 2.7 0.5 -3.7 0.5 -0.1 0.5 0.6 0.5 3.2 0.5 -0.8 0.5 0.7 0.5 -0.3 0.5 -0.2 0.5 -0.7 0.5 1.6 0.5 -8.7 0.5 8.1 0.5 -0.3 0.5 -2.2 0.5 2.8 0.5 -5 0.5 0.8 0.5 3.7 0.5 -0.2 0.5 1.1 0.5 -1.9 0.5 -2.2 0.5 3.3 0.5 6.9 0.5 8 0.5 4.5 0.5 14 0.5 -13.2 0.5 -3.5 0.5 -7.5 0.5 -6.6 0.5 0.8 0.5 -2.9 0.5 -1.1 0.5 4 0.5 -2 0.5 1.4 0.5 -2.1 0.5 1.4 0.5 0 0.5 -5.9 0.5 6 0.5 -2.6 0.5 -1 0.5 4.9 0.5 -4.6 0.5 1.3 0.5 3.4 0.5 0.1 0.5 -4.4 0.5 3.4 0.5 -1.3 0.5 -1.4 0.5 -1.2 0.5 0.9 0.5 2.7 0.5 -2.9 0.5 3.3 0.5 -1.6 0.5 0.3 0.5 -1.3 0.5 3.2 0.5 -1.9 0.5 -1.4 0.5 2.3 0.5 1.4 0.5 -2.4 0.5 -1.1 0.5 -1.6 0.5 1.3 0.5 -0.4 0.5 2.9 0.5 -0.9 0.5 -0.8 0.5 -0.6 0.5 4.9 0.5 4.2 0.5 6.6 0.5 3.1 0.5 14.4 0.5 0 0.5 -11.7 0.5 -5 0.5 -3.1 0.5 -5.2 0.5 -0.6 0.5 -3.8 0.5 2.9 0.5 0.4 0.5 0.3 0.5 2.5 0.5 -2.2 0.5 -1.1 0.5 1.1 0.5 0.9 0.5 0 0.5 -2.2 0.5 1.9 0.5 -2.1 0.5 0.9 0.5 -0.1 0.5 0.4 0.5 1.6 0.5 -1.2 0.5 0.6 0.5 -0.4 0.5 -1.3 0.5 2.7 0.5 -1.3 0.5 0.2 0.5 8.8 0.5 -7.1 0.5 -3.2 0.5 1.8 0.5 -2.2 0.5 -0.7 0.5 1.7 0.5 1.6 0.5 -1.5 0.5 -1.7 0.5 3.2 0.5 9.5 0.5 -9.6 0.5 0.2 0.5 -0.8 0.5 -1.4 0.5 0.2 0.5 -0.3 0.5 4.5 0.5 5.1 0.5 4.2 0.5 12.6 0.5 0 0.5 0 0.5 -12.1 0.5 -2.3 0.5 -5.1 0.5 -3.1 0.5 -0.4 0.5 1.5 0.5 -1 0.5 -0.1 0.5 -1 0.5 2 0.5 -1.7 0.5 0.4 0.5 -1.6 0.5 0.8 0.5 10.8 0.5 -15 0.5 4.2 0.5 2.1 0.5 -1.3 0.5 0.8 0.5 -2.4 0.5 2.3 0.5 0.1 0.5 -3.1 0.5 2.6 0.5 1.1 0.5 -1.4 0.5 -1.1 0.5 2.6 0.5 -2.8 0.5 -0.9 0.5 0.9 0.5 1.1 0.5 1.7 0.5 -3.2 0.5 1.6 0.5 1.2 0.5 -0.8 0.5 -1.8 0.5 2.5 0.5 -1.4 0.5 0.5 0.5 -0.9 0.5 -0.6 0.5 2.1 0.5 -0.7 0.5 0 0.5 -1.1 0.5 2.4 0.5 -1.2 0.5 -1 0.5 -1.4 0.5 2.7 0.5 -3.1 0.5 2.1 0.5 -0.9 0.5 2.8 0.5 -2.8 0.5 8.3 0.5 1.7 0.5 5.3 0.5 8.5 0.5 -0.7 0.5 1.3 0.5 0 0.5 -1.2 0.5 1.2 0.5 -0.5 0.5 0.5 0.5 0 0.5 0 0.5 0 0.5 0 0.5 0 0.5 -1.2 0.5 1.2 0.5 0 0.5 0 0.5 -1.1 0.5 1.1 0.5 -1.5 0.5 1.5 0.5 0 0.5 -0.1 0.5 0 0.5 0.1 0.5 -1.5 0.5 1.5 0.5 0 0.5 0 0.5 -1.1 0.5 0.3 0.5 -0.6 0.5 0.7 0.5 0.7 0.5 0 0.5 0 0.5 0 0.5 0 0.5 -0.6 0.5 0.6 0.5 0 0.5 0 0.5 -0.1 0.5 0.1 0.5 0 0.5 -0.5 0.5 0.5 0.5 0 0.5 0 0.5 0 0.5 0 0.5 0 0.5 0 0.5 0 0.5 -0.6 0.5 0.6 0.5 -0.4 0.5 0.4 0.5 0 0.5 0 0.5 0 0.5 -0.2 0.5 0.2 0.5 -1.5 0.5 0.9 0.5 0.6 0.5 0 0.5 0 0.5 0 0.5 0 0.5 0 0.5 0 0.5 0 0.5 0 0.5 0 0.5 0 0.5 0 0.5 -1.6 0.5 0.4 0.5 0.6 0.5 0.6 0.5 -1.3 0.5 1.3 0.5 -0.3 0.5 -1.3 0.5 1.6 0.5 0 0.5 0 0.5 0 0.5 0 0.5 -0.1 0.5 0.1 0.5 0 0.5 0 0.5 0 0.5 0 0.5 0 0.5 0 0.5 0 0.5 0 0.5 -1.2 0.5 0.7 0.5 0.5 0.5 -1.3 0.5 1.3 0.5 0 0.5 -0.7 0.5 0.7 0.5 0 0.5 -0.7 0.5 0.7 0.5 -0.6 0.5 0.6 0.5 -1.1 0.5 0.3 0.5 0.8 0.5 0 0.5 0 0.5 -1 0.5 1 0.5 0 0.5 0 0.5 0 0.5 -0.5 0.5 0.5 0.5 -0.1 0.5 0.1 0.5 0 0.5 -1.3 0.5 1.3 0.5 -1.4 0.5 0 0.5 -0.1 0.5 1.5 0.5 0 0.5 -1.2 0.5 1.2 0.5 0 0.5 0 0.5 -1.5 0.5 0.3 0.5 1.2 0.5 0 0.5 0 0.5 0 0.5 0 0.5 0 0.5 0 0.5 -1.5 0.5 1.5 0.5 -1.1 0.5 1.1 0.5 0 0.5 0 0.5 0 0.5 0 0.5 0 0.5 0 0.5 -0.4 0.5 0.4 0.5 0 0.5 0 0.5 0 0.5 0 0.5 0 0.5 0 0.5 -0.6 0.5 0.6 0.5 -0.9 0.5 0.9 0.5 0 0.5 0 0.5 0 0.5 0 0.5 0 0.5 -1.2 0.5 0.4 0.5 -0.3 0.5 1.1 0.5 0 0.5 0 0.5 0 0.5 0 0.5 0 0.5 0 0.5 -0.3 0.5 -0.6 0.5 0.9 0.5 0 0.5 -0.3 0.5 0.3 0.5 -0.8 0.5 0.8 0.5 -0.1 0.5 0.1 0.5 0 0.5 -1.4 0.5 1.4 0.5 0 0.5 -0.4 0.5 -0.4 0.5 0.8 0.5 0 0.5 0 0.5 0 0.5 0 0.5 -0.9 0.5 0.9 0.5 0 0.5 0 0.5 -1.3 0.5 1.3 0.5 -1.1 0.5 0.2 0.5 0.9 0.5 0 0.5 -0.3 0.5 -1.1 0.5 0.6 0.5 0.8 0.5 0 0.5 -0.8 0.5 0.8 0.5 -0.9 0.5 0.9 0.5 -0.4 0.5 0.4 0.5 -1.3 0.5 -14.3 0.5 -5 0.5 -7.7 0.5 -7.8 0.5 -5.9 0.5 0.6 0.5 0.6 0.5 2.6 0.5 2 0.5 -0.8 0.5 -1.3 0.5 -3.6 0.5 4.7 0.5 -0.1 0.5 1.3 0.5 6.6 0.5 6.7 0.5 5.2 0.5 17.5 0.5 -10.6 0.5 -4.6 0.5 -6.6 0.5 4.7 0.5 -17.2 0.5 0 0.5 4.8 0.5 -1.4 0.5 -1.1 0.5 0.2 0.5 -1.1 0.5 -1 0.5 3.7 0.5 -3.1 0.5 8.4 0.5 3.3 0.5 5.2 0.5 16.4 0.5 -0.7 0.5 -0.7 0.5 1.4 0.5 0 0.5 0 0.5 -9.8 0.5 -5.9 0.5 -2.3 0.5 -7.9 0.5 -0.3 0.5 10.2 0.5 -10.2 0.5 -0.5 0.5 1.7 0.5 -2.7 0.5 2.6 0.5 -3.6 0.5 -1.4 0.5 3.9 0.5 -3.3 0.5 2.6 0.5 -2.4 0.5 2 0.5 1.6 0.5 -2.8 0.5 3.2 0.5 -2.9 0.5 3.1 0.5 -0.2 0.5 10.4 0.5 -14.3 0.5 2.6 0.5 -5.7 0.5 6.3 0.5 -1.8 0.5 1.4 0.5 11.3 0.5 -10.8 0.5 -3.5 0.5 4.8 0.5 3.3 0.5 8.1 0.5 3.2 0.5 10 0.5 0 0.5 -0.9 0.5 0.4 0.5 0.1 0.5 0.4 0.5 0 0.5 0 0.5 0 0.5 -1.2 0.5 -9.2 0.5 -3.5 0.5 -4.5 0.5 -5.3 0.5 -3.6 0.5 0.6 0.5 -1.9 0.5 2.9 0.5 -0.5 0.5 -0.9 0.5 1.2 0.5 -2.2 0.5 1.9 0.5 -2.1 0.5 1 0.5 -2.1 0.5 1.6 0.5 -2.1 0.5 1.2 0.5 2.4 0.5 -3.7 0.5 -0.1 0.5 3.2 0.5 -2.5 0.5 3.3 0.5 -3.4 0.5 0.3 0.5 -0.1 0.5 2.9 0.5 -2.5 0.5 2.7 0.5 -1.1 0.5 -2.4 0.5 -0.6 0.5 3.3 0.5 -2 0.5 -0.6 0.5 -0.7 0.5 0.7 0.5 1.8 0.5 -1.4 0.5 2 0.5 -1.9 0.5 0.1 0.5 -1.6 0.5 0.7 0.5 1.2 0.5 1.7 0.5 -2.5 0.5 2.8 0.5 0.5 0.5 -0.9 0.5 -0.9 0.5 0 0.5 -0.9 0.5 0.8 0.5 2.3 0.5 -3 0.5 4.5 0.5 4.1 0.5 4.8 0.5 3.2 0.5 12.2 0.5 0 0.5 -1.2 0.5 1.2 0.5 -12.9 0.5 -5.8 0.5 -3.4 0.5 -7.8 0.5 1 0.5 -1.8 0.5 0.8 0.5 -1.3 0.5 3.5 0.5 0.3 0.5 -0.2 0.5 0.4 0.5 -1.8 0.5 -1.6 0.5 3 0.5 -3.1 0.5 0.7 0.5 -0.6 0.5 2.9 0.5 0.4 0.5 0.1 0.5 -0.2 0.5 -3.5 0.5 3.6 0.5 -4.2 0.5 4.2 0.5 -2 0.5 2.2 0.5 -1.7 0.5 0.7 0.5 -4.4 0.5 3.5 0.5 -1.3 0.5 3.4 0.5 -2.4 0.5 0.6 0.5 0 0.5 1.5 0.5 -3.8 0.5 2.4 0.5 -2.5 0.5 2.2 0.5 0.6 0.5 -1 0.5 -2.3 0.5 0.1 0.5 3 0.5 1.3 0.5 7.1 0.5 4.4 0.5 2.6 0.5 13.1 0.5 -0.4 0.5 0.4 0.5 0 0.5 0 0.5 0 0.5 -0.7 0.5 0.7 0.5 -14.2 0.5 -4.8 0.5 -4.4 0.5 -4.4 0.5 -1 0.5 -6.3 0.5 4.9 0.5 3.6 0.5 -3 0.5 0.3 0.5 -2.2 0.5 4.5 0.5 -3.4 0.5 0.3 0.5 1.9 0.5 1.3 0.5 -3.9 0.5 3.9 0.5 -5.6 0.5 3.3 0.5 -1 0.5 -0.5 0.5 3.1 0.5 -1.8 0.5 -1.4 0.5 0.3 0.5 3.7 0.5 -4.4 0.5 2 0.5 -1.9 0.5 0.4 0.5 -2.1 0.5 2.7 0.5 1.4 0.5 1.6 0.5 -2.8 0.5 1.3 0.5 -0.2 0.5 1.1 0.5 -4.8 0.5 3 0.5 1 0.5 -0.8 0.5 -0.8 0.5 -1.2 0.5 -0.1 0.5 0.6 0.5 2.6 0.5 -1.1 0.5 -0.8 0.5 -1.4 0.5 1 0.5 3.8 0.5 0 0.5 -3.4 0.5 -1.5 0.5 2.9 0.5 1.4 0.5 -2.3 0.5 -0.8 0.5 3.5 0.5 -2.8 0.5 -1.1 0.5 0.6 0.5 1.2 0.5 0.3 0.5 2.6 0.5 5.2 0.5 6.3 0.5 3.3 0.5 -9.1 0.5 -4.4 0.5 -3.5 0.5 -6.7 0.5 3.6 0.5 -4.1 0.5 0.9 0.5 1.2 0.5 -1.9 0.5 2 0.5 -6.6 0.5 8 0.5 -0.9 0.5 -1.9 0.5 3.4 0.5 -4.8 0.5 -0.6 0.5 1.5 0.5 0.1 0.5 3.7 0.5 -2.4 0.5 2.4 0.5 -2 0.5 -0.6 0.5 -2 0.5 -0.9 0.5 5.8 0.5 -0.2 0.5 9.8 0.5 -12.8 0.5 1.4 0.5 0.6 0.5 -1.7 0.5 0.8 0.5 -2.5 0.5 3 0.5 0.6 0.5 -0.2 0.5 -1.2 0.5 -1 0.5 1.4 0.5 0.4 0.5 -0.7 0.5 -0.9 0.5 2.1 0.5 -1.4 0.5 -2.1 0.5 4 0.5 -1.4 0.5 -2.2 0.5 0.2 0.5 0.9 0.5 2.8 0.5 0 0.5 -5.5 0.5 1.3 0.5 1.5 0.5 -1.7 0.5 4 0.5 -6.9 0.5 4.5 0.5 1.9 0.5 0.8 0.5 -1.9 0.5 -0.1 0.5 -1 0.5 -1.9 0.5 3.4 0.5 0.8 0.5 -1.6 0.5 -2.2 0.5 2 0.5 2.2 0.5 -1.2 0.5 -0.8 0.5 1.7 0.5 -1.7 0.5 1 0.5 -0.8 0.5 -0.1 0.5 0.4 0.5 1 0.5 4.2 0.5 13.1 0.5 -2.4 0.5 4.6 0.5 12.8 0.5 0 0.5 0 0.5 0 0.5 0 0.5 0 0.5 0 0.5 0 0.5 0 0.5 -0.9 0.5 -0.5 0.5 1.4 0.5 -10.9 0.5 -3.2 0.5 -3.3 0.5 -5.5 0.5 -4.1 0.5 -3.3 0.5 14.9 0.5 -11.9 0.5 4.1 0.5 -1.4 0.5 -0.7 0.5 -0.9 0.5 1.5 0.5 -5.9 0.5 6 0.5 -1.4 0.5 2.9 0.5 -0.1 0.5 -3.6 0.5 -0.6 0.5 0.9 0.5 0.5 0.5 11.7 0.5 -13 0.5 0.3 0.5 3.5 0.5 -2.9 0.5 0.8 0.5 0.1 0.5 0.2 0.5 2.3 0.5 6.8 0.5 3.4 0.5 4 0.5 8.8 0.5 -0.6 0.5 0.6 0.5 -0.7 0.5 0.7 0.5 -0.8 0.5 0.5 0.5 -9.7 0.5 -5.2 0.5 -2.1 0.5 -6.7 0.5 -1.3 0.5 -3.1 0.5 1 0.5 1.9 0.5 -1.3 0.5 -1 0.5 0.7 0.5 2.8 0.5 -3.4 0.5 3.1 0.5 -3.5 0.5 1.2 0.5 -1.2 0.5 3.1 0.5 -3.2 0.5 0.1 0.5 0.2 0.5 0.4 0.5 1.6 0.5 -0.2 0.5 -0.1 0.5 1.6 0.5 -1.9 0.5 9.9 0.5 -10.7 0.5 2 0.5 -2.2 0.5 -0.1 0.5 1.1 0.5 -0.1 0.5 1.1 0.5 0.4 0.5 -1.5 0.5 1.5 0.5 -3.3 0.5 2.6 0.5 -0.8 0.5 1.1 0.5 -1.7 0.5 -0.3 0.5 2.4 0.5 -2.1 0.5 -0.2 0.5 2.6 0.5 -1 0.5 1.8 0.5 -0.9 0.5 -0.5 0.5 -2 0.5 2.3 0.5 -1.9 0.5 2.2 0.5 -2 0.5 1.2 0.5 0.9 0.5 -2.4 0.5 1.3 0.5 -1.3 0.5 1.7 0.5 -0.1 0.5 -0.4 0.5 0.6 0.5 0.8 0.5 -2.4 0.5 0.1 0.5 10.3 0.5 -11.4 0.5 3.9 0.5 -2.3 0.5 -0.4 0.5 0.1 0.5 -1.2 0.5 2.7 0.5 -1.2 0.5 0.4 0.5 -1.8 0.5 2 0.5 -1.7 0.5 0.6 0.5 -1 0.5 -0.3 0.5 0.9 0.5 3.2 0.5 -2.8 0.5 0.2 0.5 1.6 0.5 9.9 0.5 -13 0.5 0.4 0.5 1.4 0.5 -0.9 0.5 -1.1 0.5 2.7 0.5 -2.9 0.5 1.4 0.5 -1.4 0.5 3.8 0.5 -1.6 0.5 1.4 0.5 0.7 0.5 -1.5 0.5 -1.6 0.5 -0.1 0.5 -0.9 0.5 3.4 0.5 -2.4 0.5 -0.4 0.5 -0.6 0.5 1.5 0.5 2.6 0.5 -3.2 0.5 0.7 0.5 -1.7 0.5 2.1 0.5 -1.6 0.5 -0.4 0.5 -0.2 0.5 1.3 0.5 1.8 0.5 -1.5 0.5 1.8 0.5 9.3 0.5 -12.7 0.5 -2.9 0.5 3.7 0.5 3.4 0.5 -2.3 0.5 1.9 0.5 -3.4 0.5 -0.2 0.5 2.4 0.5 -2.3 0.5 1.7 0.5 -0.5 0.5 -0.6 0.5 0.5 0.5 -0.6 0.5 0.2 0.5 1.3 0.5 4 0.5 4.1 0.5 3.6 0.5 5.7 0.5 8.8 0.5 0 0.5 0 0.5 0 0.5 0 0.5 0 0.5 0 0.5 -1 0.5 0.9 0.5 -14.3 0.5 -6.8 0.5 -6 0.5 -0.8 0.5 -2.3 0.5 13.4 0.5 -11.8 0.5 -3.1 0.5 1.4 0.5 -2.2 0.5 1.3 0.5 2.8 0.5 -0.8 0.5 1.3 0.5 -3.4 0.5 0.8 0.5 -0.8 0.5 1.9 0.5 0.5 0.5 -0.2 0.5 -2.4 0.5 1.6 0.5 -0.5 0.5 -1.8 0.5 0.4 0.5 0.8 0.5 -1 0.5 1.1 0.5 -3.2 0.5 5.9 0.5 -3.8 0.5 1.4 0.5 -1.5 0.5 4.4 0.5 -1.2 0.5 -2.8 0.5 0.1 0.5 -0.1 0.5 2.3 0.5 -1.5 0.5 2 0.5 -2.7 0.5 -0.3 0.5 1.6 0.5 0.3 0.5 1 0.5 -3.1 0.5 14.5 0.5 -10.1 0.5 -3.3 0.5 -0.3 0.5 1.2 0.5 -1.7 0.5 1.5 0.5 -2.2 0.5 3.7 0.5 -2.8 0.5 -0.4 0.5 3.7 0.5 -1 0.5 -1.5 0.5 -0.2 0.5 4.2 0.5 6.1 0.5 2.8 0.5 5.9 0.5 10.7 0.5 1.4 0.5 -12.3 0.5 -5.9 0.5 -3 0.5 -7.7 0.5 1.2 0.5 -0.4 0.5 2.2 0.5 -2 0.5 0.2 0.5 0.1 0.5 0.6 0.5 -2.2 0.5 2.9 0.5 10.1 0.5 -11 0.5 -1.5 0.5 3.6 0.5 -2.5 0.5 1.9 0.5 1.9 0.5 4.2 0.5 5.5 0.5 3.4 0.1 10.7Z" fill="#4d89bd" />
<line x1="134.4" y1="963.5" x2="2133" y2="963.5" stroke="#4a86c0" stroke-width="1.5" />
<line x1="134.4" y1="917.2" x2="134.4" y2="964.5" stroke="#222" stroke-width="1.2" />
<line x1="130.9" y1="963.5" x2="134.4" y2="963.5" stroke="#222" stroke-width="1.2" />
<line x1="130.9" y1="937.1" x2="134.4" y2="937.1" stroke="#222" stroke-width="1.2" />
<text x="132.5" y="970.9" text-anchor="end" >0</text>
<text x="132.5" y="944.5" text-anchor="end" >5</text>
<line x1="534.1" y1="964" x2="534.1" y2="967.5" stroke="#222" stroke-width="1.4" />
<line x1="933.8" y1="964" x2="933.8" y2="967.5" stroke="#222" stroke-width="1.4" />
<line x1="1333.6" y1="964" x2="1333.6" y2="967.5" stroke="#222" stroke-width="1.4" />
<line x1="1733.3" y1="964" x2="1733.3" y2="967.5" stroke="#222" stroke-width="1.4" />
<line x1="2133" y1="964" x2="2133" y2="967.5" stroke="#222" stroke-width="1.4" />
<path d="M134.4 1016.5l0 -18.1 0.5 -2.5 0.5 -8.7 0.5 -3.5 0.5 2.5 0.5 -6.2 0.5 0.4 0.5 2.5 0.5 3.7 0.5 -0.6 0.5 -2.8 0.5 -0.6 0.5 -0.8 0.5 4.7 0.5 -6.5 0.5 3.4 0.5 18.3 0.5 -21.4 0.5 6.4 0.5 -2.9 0.5 -1.9 0.5 2.8 0.5 -0.5 0.5 -4 0.5 2.6 0.5 3.8 0.5 -2.8 0.5 -2.5 0.5 1.8 0.5 1.4 0.5 -1.1 0.5 2.7 0.5 0.6 0.5 0 0.5 -6.3 0.5 4.2 0.5 -1.5 0.5 3.2 0.5 -4.1 0.5 2.7 0.5 2 0.5 -0.9 0.5 0.1 0.5 -4.7 0.5 4.9 0.5 0.6 0.5 -1.8 0.5 1.8 0.5 -5.8 0.5 0.4 0.5 2 0.5 -1.5 0.5 5.3 0.5 -2.8 0.5 -0.8 0.5 -2.4 0.5 -1.1 0.5 3.2 0.5 -2.9 0.5 0.2 0.5 -2.8 0.5 8.1 0.5 -3.4 0.5 4.2 0.5 -2.3 0.5 -0.8 0.5 -3.6 0.5 1.1 0.5 -3.1 0.5 1.5 0.5 1 0.5 3.6 0.5 3.1 0.5 -2.7 0.5 -3.8 0.5 5.6 0.5 -4.4 0.5 4.8 0.5 -2 0.5 1.5 0.5 -0.9 0.5 -4.4 0.5 2.3 0.5 3.4 0.5 -3.7 0.5 2.6 0.5 0.5 0.5 7 0.5 4.2 0.5 19.2 0.5 0 0.5 0 0.5 0 0.5 0 0.5 0 0.5 0 0.5 0 0.5 0 0.5 0 0.5 0 0.5 0 0.5 0 0.5 0 0.5 0 0.5 0 0.5 0 0.5 -21.8 0.5 -4.9 0.5 -1.6 0.5 -4.8 0.5 -1.4 0.5 -0.4 0.5 17.2 0.5 -14.1 0.5 -5.7 0.5 4 0.5 -1.8 0.5 17.5 0.5 -17.8 0.5 4.1 0.5 -2.1 0.5 1.7 0.5 -0.4 0.5 -1.3 0.5 -6.6 0.5 5.3 0.5 1.4 0.5 -1.2 0.5 0.8 0.5 0.4 0.5 -6.2 0.5 6.1 0.5 3.8 0.5 -5.2 0.5 -1.2 0.5 0.4 0.5 2.6 0.5 6.5 0.5 6.7 0.5 20 0.5 0 0.5 0 0.5 0 0.5 0 0.5 0 0.5 0 0.5 -8.8 0.5 0 0.5 0 0.5 8.8 0.5 0 0.5 0 0.5 0 0.5 0 0.5 -22 0.5 -6.8 0.5 -3.3 0.5 -1 0.5 2.4 0.5 -4.2 0.5 16.7 0.5 -15.7 0.5 2.6 0.5 -2.7 0.5 -2.5 0.5 6.5 0.5 -3.7 0.5 1.9 0.5 2 0.5 -5.3 0.5 0.4 0.5 0.7 0.5 -1.5 0.5 4.3 0.5 0.1 0.5 0.6 0.5 -0.8 0.5 -4 0.5 4.4 0.5 -2.5 0.5 3.2 0.5 -5.5 0.5 3.8 0.5 -3.5 0.5 0.2 0.5 -0.4 0.5 1.8 0.5 1.1 0.5 -1.3 0.5 1.3 0.5 -1 0.5 2.6 0.5 -4.7 0.5 5.2 0.5 -5.2 0.5 4.1 0.5 -4.3 0.5 -1.4 0.5 5.2 0.5 -1.9 0.5 2 0.5 -4 0.5 1.5 0.5 2.8 0.5 2.5 0.5 -1.5 0.5 -3.9 0.5 0.6 0.5 1.1 0.5 -0.6 0.5 -2.6 0.5 3 0.5 2.7 0.5 0.7 0.5 -5.9 0.5 4.5 0.5 -3.5 0.5 2 0.5 2 0.5 -3.1 0.5 2.2 0.5 -2.7 0.5 4.3 0.5 -6.4 0.5 4.6 0.5 -1.8 0.5 -1.9 0.5 1.9 0.5 1.1 0.5 -3.7 0.5 0.6 0.5 5.3 0.5 -2.7 0.5 -0.4 0.5 3.8 0.5 -0.1 0.5 -2.1 0.5 4.2 0.5 7.1 0.5 4.9 0.5 15.6 0.5 0 0.5 0 0.5 0 0.5 0 0.5 -18.2 0.5 -7.1 0.5 11.3 0.5 -16.1 0.5 -2.4 0.5 0.1 0.5 -4.1 0.5 -5.2 0.5 7.4 0.5 3.2 0.5 0.1 0.5 -2.1 0.5 -1.8 0.5 5.1 0.5 -6 0.5 3 0.5 2.1 0.5 0.9 0.5 -3.4 0.5 0.8 0.5 14.3 0.5 -14.8 0.5 -0.1 0.5 -3.5 0.5 5.4 0.5 -5 0.5 5.9 0.5 -1.1 0.5 1.2 0.5 -3.2 0.5 1.6 0.5 -0.7 0.5 -2.7 0.5 7.2 0.5 6.7 0.5 4.2 0.5 17 0.5 0 0.5 0 0.5 0 0.5 0 0.5 0 0.5 0 0.5 0 0.5 0 0.5 0 0.5 0 0.5 0 0.5 -8.9 0.5 0 0.5 0 0.5 8.9 0.5 0 0.5 0 0.5 0 0.5 0 0.5 0 0.5 0 0.5 0 0.5 0 0.5 0 0.5 0 0.5 0 0.5 0 0.5 0 0.5 0 0.5 0 0.5 0 0.5 0 0.5 -5.1 0.5 0 0.5 0 0.5 5.1 0.5 -5.7 0.5 0 0.5 0 0.5 -0.9 0.5 0 0.5 0 0.5 6.6 0.5 0 0.5 0 0.5 0 0.5 0 0.5 0 0.5 0 0.5 0 0.5 0 0.5 0 0.5 0 0.5 0 0.5 0 0.5 0 0.5 0 0.5 0 0.5 0 0.5 0 0.5 0 0.5 0 0.5 0 0.5 0 0.5 0 0.5 0 0.5 0 0.5 0 0.5 0 0.5 0 0.5 0 0.5 0 0.5 0 0.5 0 0.5 0 0.5 0 0.5 0 0.5 0 0.5 -7.1 0.5 0 0.5 0 0.5 2.3 0.5 0 0.5 0 0.5 4.8 0.5 0 0.5 0 0.5 0 0.5 0 0.5 0 0.5 0 0.5 0 0.5 0 0.5 0 0.5 0 0.5 0 0.5 0 0.5 0 0.5 0 0.5 0 0.5 0 0.5 0 0.5 0 0.5 -4.3 0.5 0 0.5 0 0.5 4.3 0.5 0 0.5 0 0.5 0 0.5 0 0.5 0 0.5 0 0.5 0 0.5 0 0.5 0 0.5 0 0.5 0 0.5 0 0.5 0 0.5 0 0.5 0 0.5 0 0.5 0 0.5 0 0.5 0 0.5 0 0.5 0 0.5 0 0.5 -7.8 0.5 0 0.5 0 0.5 7.8 0.5 0 0.5 -7.8 0.5 0 0.5 0 0.5 7.8 0.5 -4.2 0.5 0 0.5 0 0.5 4.2 0.5 0 0.5 0 0.5 0 0.5 0 0.5 0 0.5 0 0.5 0 0.5 0 0.5 0 0.5 -5.8 0.5 0 0.5 0 0.5 5.8 0.5 0 0.5 0 0.5 0 0.5 0 0.5 0 0.5 0 0.5 0 0.5 0 0.5 0 0.5 0 0.5 0 0.5 0 0.5 0 0.5 0 0.5 0 0.5 0 0.5 0 0.5 -6 0.5 0 0.5 0 0.5 6 0.5 0 0.5 0 0.5 0 0.5 0 0.5 0 0.5 0 0.5 0 0.5 0 0.5 -5.6 0.5 0 0.5 0 0.5 5.6 0.5 0 0.5 0 0.5 0 0.5 0 0.5 0 0.5 0 0.5 0 0.5 0 0.5 0 0.5 0 0.5 0 0.5 0 0.5 0 0.5 0 0.5 0 0.5 0 0.5 0 0.5 0 0.5 0 0.5 -7.2 0.5 0 0.5 0 0.5 7.2 0.5 0 0.5 0 0.5 0 0.5 0 0.5 0 0.5 0 0.5 0 0.5 0 0.5 0 0.5 -21.1 0.5 -7.9 0.5 0.6 0.5 -1.6 0.5 -1.8 0.5 -2.6 0.5 0.3 0.5 -0.5 0.5 3.8 0.5 0.2 0.5 0.2 0.5 -3.7 0.5 -1 0.5 2.6 0.5 -3.8 0.5 1.5 0.5 4.8 0.5 -5.6 0.5 -0.2 0.5 -2.6 0.5 7.4 0.5 -5.4 0.5 6.7 0.5 -6.1 0.5 5.4 0.5 -4.5 0.5 -0.8 0.5 5.8 0.5 -3.2 0.5 0.5 0.5 -3.7 0.5 2.5 0.5 -2.5 0.5 4.3 0.5 2.4 0.5 -1.2 0.5 -4.7 0.5 1.6 0.5 1.8 0.5 -1.6 0.5 -0.5 0.5 3.6 0.5 10.4 0.5 3.9 0.5 -5.6 0.5 -3.8 0.5 -10 0.5 0.7 0.5 3.7 0.5 -0.7 0.5 -2.6 0.5 3.6 0.5 -2.9 0.5 7.4 0.5 4.9 0.5 21.6 0.5 0 0.5 0 0.5 -22.8 0.5 -10 0.5 -0.1 0.5 -2.6 0.5 -0.3 0.5 5.7 0.5 -6.1 0.5 3.2 0.5 1.6 0.5 0.7 0.5 -10.4 0.5 7.1 0.5 2.8 0.5 -3 0.5 -0.3 0.5 4.7 0.5 -2 0.5 -3.2 0.5 4.8 0.5 -3.2 0.5 1.7 0.5 -4.3 0.5 -0.1 0.5 -0.4 0.5 1.6 0.5 4.1 0.5 -4.4 0.5 5.3 0.5 -4 0.5 1.3 0.5 0.5 0.5 -0.8 0.5 1.6 0.5 0.7 0.5 -1.3 0.5 0.9 0.5 -2.1 0.5 -0.2 0.5 -1.4 0.5 0.9 0.5 0.3 0.5 0.8 0.5 -2.1 0.5 -1 0.5 5 0.5 -2.6 0.5 2.5 0.5 -3.7 0.5 -0.1 0.5 5.1 0.5 0.2 0.5 0.1 0.5 -3.7 0.5 -3 0.5 2.8 0.5 1.1 0.5 -2.4 0.5 2.5 0.5 -0.9 0.5 -1.2 0.5 3.4 0.5 -2 0.5 -3.6 0.5 6.3 0.5 -5.4 0.5 -0.2 0.5 3.4 0.5 -8 0.5 6.3 0.5 -1 0.5 1.7 0.5 -2.3 0.5 0.8 0.5 0.6 0.5 0.4 0.5 4 0.5 -1.6 0.5 -3.2 0.5 0.9 0.5 -2.9 0.5 2.3 0.5 4.5 0.5 13.1 0.5 -22.8 0.5 22.1 0.5 -14.5 0.5 5.9 0.5 4.8 0.5 5.2 0.5 15.9 0.5 -18.2 0.5 -5.7 0.5 -5.1 0.5 -5.4 0.5 -0.8 0.5 1.6 0.5 -1.1 0.5 -0.3 0.5 -0.2 0.5 0.2 0.5 3.5 0.5 -4.4 0.5 6.2 0.5 -1.5 0.5 -3.3 0.5 2.4 0.5 -0.9 0.5 -2.9 0.5 1.6 0.5 4.9 0.5 -1.9 0.5 -2.2 0.5 0.6 0.5 3.3 0.5 -6.4 0.5 17.7 0.5 -14.8 0.5 -3.4 0.5 0.2 0.5 5.8 0.5 -4.9 0.5 7.1 0.5 2.8 0.5 16.7 0.5 8.8 0.5 0 0.5 -17.3 0.5 -9.3 0.5 -0.5 0.5 -4.1 0.5 -3 0.5 -0.9 0.5 5.8 0.5 -3.5 0.5 -2.1 0.5 5.8 0.5 9.3 0.5 19.8 0.5 0 0.5 0 0.5 0 0.5 0 0.5 0 0.5 0 0.5 0 0.5 0 0.5 0 0.5 0 0.5 0 0.5 0 0.5 0 0.5 0 0.5 0 0.5 0 0.5 0 0.5 0 0.5 0 0.5 0 0.5 0 0.5 0 0.5 0 0.5 0 0.5 0 0.5 0 0.5 0 0.5 0 0.5 0 0.5 0 0.5 0 0.5 0 0.5 0 0.5 0 0.5 0 0.5 0 0.5 0 0.5 0 0.5 -4.5 0.5 0 0.5 0 0.5 4.5 0.5 0 0.5 0 0.5 0 0.5 0 0.5 0 0.5 0 0.5 0 0.5 0 0.5 0 0.5 0 0.5 0 0.5 0 0.5 0 0.5 0 0.5 0 0.5 0 0.5 0 0.5 0 0.5 0 0.5 0 0.5 0 0.5 0 0.5 0 0.5 0 0.5 0 0.5 0 0.5 0 0.5 0 0.5 0 0.5 0 0.5 0 0.5 0 0.5 0 0.5 0 0.5 0 0.5 0 0.5 0 0.5 0 0.5 0 0.5 0 0.5 0 0.5 0 0.5 0 0.5 0 0.5 0 0.5 -4.8 0.5 0 0.5 0 0.5 4.8 0.5 0 0.5 0 0.5 0 0.5 -4.4 0.5 0 0.5 0 0.5 4.4 0.5 0 0.5 0 0.5 -4.3 0.5 0 0.5 0 0.5 4.3 0.5 0 0.5 0 0.5 0 0.5 0 0.5 0 0.5 0 0.5 0 0.5 0 0.5 0 0.5 0 0.5 0 0.5 0 0.5 0 0.5 0 0.5 0 0.5 0 0.5 0 0.5 0 0.5 0 0.5 0 0.5 0 0.5 0 0.5 0 0.5 0 0.5 0 0.5 0 0.5 0 0.5 0 0.5 0 0.5 0 0.5 0 0.5 0 0.5 0 0.5 0 0.5 0 0.5 0 0.5 0 0.5 0 0.5 0 0.5 0 0.5 0 0.5 0 0.5 0 0.5 0 0.5 0 0.5 0 0.5 0 0.5 0 0.5 0 0.5 0 0.5 0 0.5 -8.4 0.5 0 0.5 0 0.5 8.4 0.5 0 0.5 0 0.5 0 0.5 0 0.5 0 0.5 0 0.5 0 0.5 0 0.5 0 0.5 0 0.5 0 0.5 0 0.5 0 0.5 0 0.5 0 0.5 0 0.5 0 0.5 0 0.5 0 0.5 0 0.5 0 0.5 0 0.5 0 0.5 0 0.5 0 0.5 0 0.5 0 0.5 0 0.5 0 0.5 0 0.5 0 0.5 0 0.5 0 0.5 0 0.5 0 0.5 0 0.5 0 0.5 0 0.5 -4.6 0.5 0 0.5 0 0.5 4.6 0.5 0 0.5 0 0.5 -9 0.5 0 0.5 0 0.5 9 0.5 0 0.5 0 0.5 0 0.5 0 0.5 0 0.5 -4.6 0.5 0 0.5 0 0.5 4.6 0.5 0 0.5 0 0.5 0 0.5 0 0.5 0 0.5 0 0.5 0 0.5 0 0.5 0 0.5 0 0.5 0 0.5 0 0.5 0 0.5 0 0.5 0 0.5 0 0.5 0 0.5 0 0.5 0 0.5 0 0.5 0 0.5 0 0.5 0 0.5 0 0.5 0 0.5 0 0.5 0 0.5 0 0.5 0 0.5 0 0.5 0 0.5 0 0.5 0 0.5 0 0.5 0 0.5 0 0.5 0 0.5 0 0.5 0 0.5 0 0.5 0 0.5 0 0.5 0 0.5 0 0.5 -3.6 0.5 0 0.5 0 0.5 3.6 0.5 0 0.5 0 0.5 0 0.5 0 0.5 0 0.5 0 0.5 0 0.5 0 0.5 0 0.5 0 0.5 0 0.5 0 0.5 0 0.5 0 0.5 0 0.5 0 0.5 0 0.5 0 0.5 0 0.5 0 0.5 0 0.5 0 0.5 0 0.5 0 0.5 0 0.5 0 0.5 0 0.5 0 0.5 0 0.5 0 0.5 0 0.5 0 0.5 0 0.5 0 0.5 0 0.5 0 0.5 0 0.5 0 0.5 -18.3 0.5 -8.9 0.5 -1.7 0.5 -7.1 0.5 2.8 0.5 17.7 0.5 -18.2 0.5 -1.5 0.5 2.1 0.5 2.9 0.5 -6.2 0.5 19.8 0.5 -18.7 0.5 4.7 0.5 -5.4 0.5 6.7 0.5 -6.8 0.5 0.4 0.5 5.1 0.5 -2.9 0.5 -0.4 0.5 4.6 0.5 -4.2 0.5 -1.3 0.5 0.6 0.5 1.6 0.5 -3.2 0.5 2.7 0.5 1.9 0.5 1.3 0.5 -2.8 0.5 0.8 0.5 0.7 0.5 -2.4 0.5 0.5 0.5 2.5 0.5 1.7 0.5 4.9 0.5 0.9 0.5 23.1 0.5 -15 0.5 -6.4 0.5 -6.6 0.5 -6.4 0.5 1.3 0.5 -1.6 0.5 -4.8 0.5 8.4 0.5 -5.3 0.5 3.2 0.5 2.8 0.5 -4 0.5 2.8 0.5 -4 0.5 2.2 0.5 1.9 0.5 0.1 0.5 1.6 0.5 14.3 0.5 -20.9 0.5 3.3 0.5 -1.1 0.5 2.4 0.5 -5.6 0.5 1.6 0.5 5.8 0.5 -1.2 0.5 -0.8 0.5 -3 0.5 3.4 0.5 6.1 0.5 14.7 0.5 10.8 0.5 0 0.5 -22.9 0.5 -3 0.5 -4.3 0.5 0.8 0.5 -6.1 0.5 2.2 0.5 -2.1 0.5 1.5 0.5 1.1 0.5 1.4 0.5 1.7 0.5 -0.8 0.5 -3.8 0.5 1.8 0.5 -1.6 0.5 -1.4 0.5 -0.9 0.5 2.2 0.5 1 0.5 0.5 0.5 -7.3 0.5 4.8 0.5 3.6 0.5 0.4 0.5 -1.5 0.5 -2.6 0.5 0.9 0.5 4.1 0.5 -2.9 0.5 -2.6 0.5 3.9 0.5 2.1 0.5 -0.2 0.5 -0.8 0.5 -5.1 0.5 3.4 0.5 -1.2 0.5 -2.4 0.5 2.6 0.5 1.9 0.5 -4.8 0.5 2.1 0.5 3.7 0.5 -1.9 0.5 -1.3 0.5 3.9 0.5 -1.8 0.5 0.9 0.5 -5.5 0.5 -0.1 0.5 6 0.5 -1.7 0.5 19.7 0.5 -8 0.5 4.5 0.5 10.7 0.5 0 0.5 0 0.5 5.2 0.5 0 0.5 0 0.5 0 0.5 -4.3 0.5 0 0.5 0 0.5 4.3 0.5 -22.3 0.5 -3.4 0.5 -6.1 0.5 1.3 0.5 -5.5 0.5 4.7 0.5 1.3 0.5 -1.1 0.5 -2.7 0.5 -0.4 0.5 16.2 0.5 -15.7 0.5 4.5 0.5 -5.5 0.5 3.6 0.5 -2 0.5 1.4 0.5 -2.7 0.5 4.1 0.5 -2.8 0.5 2.7 0.5 -2 0.5 -3.6 0.5 2.5 0.5 -2.8 0.5 1.8 0.5 5.2 0.5 -5.8 0.5 5.5 0.5 -5.3 0.5 0.4 0.5 4.1 0.5 -3.3 0.5 21.7 0.5 -7.2 0.5 19.2 0.5 0 0.5 0 0.5 0 0.5 0 0.5 0 0.5 0 0.5 0 0.5 -8.6 0.5 0 0.5 0 0.5 8.6 0.5 0 0.5 0 0.5 0 0.5 0 0.5 0 0.5 0 0.5 0 0.5 0 0.5 0 0.5 0 0.5 0 0.5 0 0.5 0 0.5 0 0.5 -6.3 0.5 0 0.5 0 0.5 6.3 0.5 0 0.5 0 0.5 0 0.5 0 0.5 0 0.5 0 0.5 0 0.5 0 0.5 0 0.5 0 0.5 0 0.5 0 0.5 0 0.5 0 0.5 0 0.5 0 0.5 0 0.5 0 0.5 0 0.5 0 0.5 0 0.5 0 0.5 0 0.5 0 0.5 0 0.5 0 0.5 0 0.5 0 0.5 0 0.5 0 0.5 0 0.5 0 0.5 0 0.5 0 0.5 0 0.5 0 0.5 0 0.5 -17.2 0.5 -6.4 0.5 -2.6 0.5 -6 0.5 0.6 0.5 1.5 0.5 -6 0.5 1 0.5 -1 0.5 5.6 0.5 -2.9 0.5 -1.8 0.5 -0.6 0.5 1 0.5 2.5 0.5 0.1 0.5 0.7 0.5 1.1 0.5 -3.5 0.5 4.4 0.5 -3.7 0.5 2.9 0.5 -3.6 0.5 3.6 0.5 -3.5 0.5 4.9 0.5 9.7 0.5 19.2 0.5 -22.2 0.5 -3.3 0.5 -4.3 0.5 -2.9 0.5 2.5 0.5 0.7 0.5 -6.2 0.5 -0.4 0.5 5.6 0.5 -1.9 0.5 2 0.5 -3.5 0.5 8.9 0.5 1.9 0.5 6.6 0.5 16.5 0.5 0 0.5 0 0.5 0 0.5 0 0.5 0 0.5 0 0.5 0 0.5 0 0.5 -6.5 0.5 0 0.5 0 0.5 6.5 0.5 0 0.5 0 0.5 0 0.5 0 0.5 0 0.5 0 0.5 0 0.5 0 0.5 0 0.5 0 0.5 0 0.5 0 0.5 0 0.5 0 0.5 0 0.5 0 0.5 0 0.5 0 0.5 0 0.5 0 0.5 -5.5 0.5 0 0.5 0 0.5 5.5 0.5 0 0.5 0 0.5 0 0.5 0 0.5 0 0.5 0 0.5 0 0.5 0 0.5 0 0.5 0 0.5 0 0.5 0 0.5 0 0.5 0 0.5 0 0.5 0 0.5 0 0.5 0 0.5 0 0.5 0 0.5 -3.6 0.5 0 0.5 0 0.5 -1.1 0.5 -15.2 0.5 -7.6 0.5 -2.8 0.5 -2.9 0.5 -0.1 0.5 0.7 0.5 15.9 0.5 -15.4 0.5 0.1 0.5 2 0.5 -2.6 0.5 -1.9 0.5 -0.6 0.5 5.3 0.5 -0.3 0.5 -5.7 0.5 4.2 0.5 0 0.5 1.8 0.5 -1.8 0.5 -5.9 0.5 -0.7 0.5 4.7 0.5 -3 0.5 2.2 0.5 0.9 0.5 1.4 0.5 -1.1 0.5 3.1 0.5 -4.5 0.5 -0.5 0.5 0.1 0.5 4.3 0.5 -3.5 0.5 4.6 0.5 -2.5 0.5 -0.4 0.5 1.9 0.5 0.6 0.5 -1.9 0.5 -4.7 0.5 3.1 0.5 0.2 0.5 2.4 0.5 -1.6 0.5 -2 0.5 1.1 0.5 0.9 0.5 -1.3 0.5 2.5 0.5 1.2 0.5 -3.8 0.5 0.1 0.5 3.8 0.5 -5.3 0.5 -0.5 0.5 0.5 0.5 5 0.5 -2.7 0.5 -3.5 0.5 3.8 0.5 1.6 0.5 -1.1 0.5 2.8 0.5 -1.5 0.5 -2.8 0.5 -2.8 0.5 8 0.5 0.2 0.5 7.8 0.5 15.7 0.5 -10 0.5 -7.9 0.5 -6.6 0.5 -7.2 0.5 6.6 0.5 -3.2 0.5 -0.1 0.5 -1.4 0.5 3.2 0.5 -1.2 0.5 -0.4 0.5 2.1 0.5 -0.2 0.5 -2.1 0.5 3.2 0.5 -0.3 0.5 -1.5 0.5 -3.2 0.5 5.2 0.5 -0.4 0.5 -1.9 0.5 -2.6 0.5 0 0.5 -0.2 0.5 3.2 0.5 1.9 0.5 -5.3 0.5 1 0.5 0.7 0.5 -2.8 0.5 2.1 0.5 2.7 0.5 8.7 0.5 6.2 0.5 11.7 0.5 4.7 0.5 0 0.5 0 0.5 0 0.5 -4.5 0.5 0 0.5 0 0.5 4.5 0.5 0 0.5 0 0.5 0 0.5 0 0.5 0 0.5 0 0.5 0 0.5 0 0.5 0 0.5 -4.7 0.5 0 0.5 0 0.5 4.7 0.5 0 0.5 0 0.5 0 0.5 0 0.5 0 0.5 0 0.5 0 0.5 0 0.5 0 0.5 0 0.5 0 0.5 0 0.5 0 0.5 0 0.5 0 0.5 0 0.5 0 0.5 0 0.5 0 0.5 0 0.5 0 0.5 0 0.5 0 0.5 0 0.5 0 0.5 0 0.5 0 0.5 0 0.5 0 0.5 0 0.5 0 0.5 0 0.5 0 0.5 0 0.5 0 0.5 0 0.5 0 0.5 0 0.5 0 0.5 0 0.5 0 0.5 0 0.5 0 0.5 0 0.5 0 0.5 0 0.5 0 0.5 0 0.5 0 0.5 0 0.5 -7.9 0.5 0 0.5 0 0.5 7.9 0.5 0 0.5 0 0.5 0 0.5 0 0.5 0 0.5 0 0.5 0 0.5 0 0.5 0 0.5 0 0.5 0 0.5 0 0.5 0 0.5 0 0.5 0 0.5 0 0.5 0 0.5 0 0.5 0 0.5 0 0.5 0 0.5 0 0.5 0 0.5 0 0.5 0 0.5 0 0.5 0 0.5 0 0.5 0 0.5 0 0.5 0 0.5 0 0.5 0 0.5 0 0.5 0 0.5 0 0.5 0 0.5 0 0.5 0 0.5 0 0.5 0 0.5 0 0.5 0 0.5 0 0.5 0 0.5 0 0.5 0 0.5 0 0.5 0 0.5 0 0.5 0 0.5 0 0.5 0 0.5 0 0.5 0 0.5 0 0.5 0 0.5 0 0.5 0 0.5 0 0.5 0 0.5 0 0.5 0 0.5 0 0.5 0 0.5 0 0.5 0 0.5 -5.7 0.5 0 0.5 0 0.5 5.7 0.5 0 0.5 0 0.5 0 0.5 0 0.5 0 0.5 0 0.5 0 0.5 0 0.5 0 0.5 0 0.5 0 0.5 0 0.5 0 0.5 0 0.5 0 0.5 0 0.5 0 0.5 0 0.5 0 0.5 -5.6 0.5 0 0.5 0 0.5 5.6 0.5 0 0.5 0 0.5 0 0.5 0 0.5 0 0.5 0 0.5 0 0.5 0 0.5 0 0.5 -3.8 0.5 0 0.5 0 0.5 3.8 0.5 0 0.5 0 0.5 0 0.5 0 0.5 0 0.5 0 0.5 0 0.5 0 0.5 -4 0.5 0 0.5 0 0.5 4 0.5 0 0.5 0 0.5 0 0.5 0 0.5 0 0.5 0 0.5 0 0.5 0 0.5 0 0.5 0 0.5 0 0.5 0 0.5 0 0.5 0 0.5 0 0.5 0 0.5 0 0.5 0 0.5 0 0.5 0 0.5 0 0.5 0 0.5 0 0.5 0 0.5 0 0.5 0 0.5 0 0.5 0 0.5 0 0.5 0 0.5 0 0.5 0 0.5 0 0.5 0 0.5 0 0.5 0 0.5 -20.7 0.5 -8 0.5 -4.8 0.5 -0.6 0.5 0.6 0.5 -1.6 0.5 -1.4 0.5 3.4 0.5 2.1 0.5 -5.4 0.5 2.8 0.5 3.8 0.5 -1 0.5 1.5 0.5 -6.1 0.5 4.5 0.5 -0.4 0.5 -2.6 0.5 -0.7 0.5 -0.8 0.5 6.1 0.5 -9.8 0.5 4.5 0.5 2.3 0.5 1.9 0.5 14.9 0.5 -19.8 0.5 4.9 0.5 0.1 0.5 -3.1 0.5 0.3 0.5 -1.7 0.5 -0.3 0.5 0.8 0.5 1.3 0.5 -3.1 0.5 3.4 0.5 6.5 0.5 5.3 0.5 2.9 0.5 18 0.5 -16.2 0.5 -5.5 0.5 -5.4 0.5 -2.8 0.5 -3.3 0.5 2.3 0.5 -3 0.5 1.4 0.5 0 0.5 -1.8 0.5 2.8 0.5 -4.1 0.5 3 0.5 -2.2 0.5 -0.4 0.5 3.4 0.5 -0.7 0.5 0.9 0.5 -1.7 0.5 2.9 0.5 -3.2 0.5 3.5 0.5 -1.9 0.5 2.6 0.5 -6.9 0.5 -1.6 0.5 0.5 0.5 3.2 0.5 3.8 0.5 -3.9 0.5 2 0.5 -0.7 0.5 -1.7 0.5 5 0.5 4.6 0.5 5.4 0.5 19.7 0.5 0 0.5 0 0.5 0 0.5 0 0.5 -7 0.5 0 0.5 0 0.5 7 0.5 0 0.5 0 0.5 0 0.5 0 0.5 0 0.5 0 0.5 -7.2 0.5 0 0.5 0 0.5 7.2 0.5 0 0.5 0 0.5 0 0.5 0 0.5 0 0.5 0 0.5 0 0.5 0 0.5 0 0.5 0 0.5 0 0.5 0 0.5 0 0.5 0 0.5 0 0.5 0 0.5 0 0.5 0 0.5 0 0.5 0 0.5 -7.4 0.5 0 0.5 0 0.5 7.4 0.5 0 0.5 0 0.5 0 0.5 0 0.5 0 0.5 0 0.5 0 0.5 -4.1 0.5 0 0.5 0 0.5 4.1 0.5 0 0.5 0 0.5 0 0.5 0 0.5 0 0.5 0 0.5 0 0.5 0 0.5 0 0.5 0 0.5 0 0.5 0 0.5 -4.4 0.5 0 0.5 0 0.5 -0.7 0.5 0 0.5 0 0.5 5.1 0.5 0 0.5 0 0.5 0 0.5 0 0.5 0 0.5 -15.1 0.5 -7.2 0.5 -5.8 0.5 -4.7 0.5 4.5 0.5 -3.6 0.5 0.8 0.5 -1.3 0.5 -0.2 0.5 3.2 0.5 -2.4 0.5 0.1 0.5 -0.2 0.5 2.7 0.5 0.5 0.5 -3.4 0.5 3.9 0.5 0.1 0.5 -4.4 0.5 17.1 0.5 -16.6 0.5 3.6 0.5 -1.9 0.5 1.5 0.5 0 0.5 -4.1 0.5 1.5 0.5 1.4 0.5 -0.4 0.5 1.5 0.5 13.9 0.5 -15.2 0.5 -1.6 0.5 2.5 0.5 0.2 0.5 -4.1 0.5 2.5 0.5 -1.2 0.5 2.4 0.5 -2.5 0.5 1.8 0.5 0.5 0.5 0.8 0.5 -0.3 0.5 1.8 0.5 6.5 0.5 5.6 0.5 15.3 0.5 0 0.5 0 0.5 0 0.5 0 0.5 0 0.5 0 0.5 0 0.5 0 0.5 -17.1 0.5 -3.8 0.5 -4.8 0.5 -2.7 0.5 -0.6 0.5 -0.9 0.5 1.2 0.5 -1.5 0.5 -1.5 0.5 -0.3 0.5 -1.2 0.5 3.1 0.5 2.1 0.5 1.3 0.5 6.6 0.5 20.1 0.5 -20.6 0.5 -4.3 0.5 8.9 0.5 -18.8 0.5 6.7 0.5 -4.8 0.5 -0.6 0.5 3.6 0.5 1 0.5 -3.9 0.5 2.4 0.5 -0.8 0.5 1.6 0.5 -1.9 0.5 -2.5 0.5 0.1 0.5 0.9 0.5 4.7 0.5 -1.3 0.5 5.2 0.5 6.1 0.5 18.3 0.5 0 0.5 0 0.5 0 0.5 0 0.5 0 0.5 0 0.5 -20.4 0.5 -3.1 0.5 -8.6 0.5 16.5 0.5 -17 0.5 0.2 0.5 4.3 0.5 -0.3 0.5 -1 0.5 0.8 0.5 0.5 0.5 -3.2 0.5 2.6 0.5 4.1 0.5 4.3 0.5 11.6 0.5 2.2 0.5 -11.7 0.5 -4.3 0.5 -10.7 0.5 -1.3 0.5 3 0.5 -0.9 0.5 -1.8 0.5 1.9 0.5 0.1 0.5 2.5 0.5 -3.8 0.5 -0.9 0.5 1.3 0.5 -0.4 0.5 3.6 0.5 -3.3 0.5 1.3 0.5 1.7 0.5 -1.9 0.5 -2.7 0.5 4.5 0.5 -6.3 0.5 8.4 0.5 -5 0.5 4.4 0.5 3.9 0.5 1.6 0.5 4 0.5 12.8 0.5 0 0.5 6.5 0.5 0 0.5 0 0.5 0 0.5 0 0.5 0 0.5 0 0.5 0 0.5 0 0.5 0 0.5 0 0.5 0 0.5 0 0.5 0 0.5 -16.9 0.5 -5.4 0.5 -6.6 0.5 -2.3 0.5 -1.2 0.5 0.5 0.5 0 0.5 -0.6 0.5 1.7 0.5 -0.4 0.5 -3.7 0.5 1 0.5 -0.4 0.5 2.3 0.5 -0.1 0.5 0.4 0.5 -0.6 0.5 10 0.5 4.1 0.5 18.2 0.5 0 0.5 0 0.5 0 0.5 -22.4 0.5 -5.4 0.5 -2.7 0.5 -4.4 0.5 -3.8 0.5 10.4 0.5 -0.9 0.5 -10 0.5 8.1 0.5 1.3 0.5 -2.7 0.5 0 0.5 6.9 0.5 2.6 0.5 5.3 0.5 17.7 0.5 0 0.5 0 0.5 0 0.5 0 0.5 0 0.5 0 0.5 0 0.5 0 0.5 0 0.5 0 0.5 0 0.5 0 0.5 -19.6 0.5 -2.7 0.5 -9.6 0.5 1 0.5 2.8 0.5 -3.5 0.5 -2.8 0.5 3.1 0.5 -1.3 0.5 -2 0.5 6.4 0.5 -4.1 0.5 -1.9 0.5 0.1 0.5 1.6 0.5 0 0.5 3.8 0.5 -0.5 0.5 -3.3 0.5 2 0.5 1.8 0.5 -2.4 0.5 2.2 0.5 -5.5 0.5 6 0.5 -6.3 0.5 1.5 0.5 0.5 0.5 -1.7 0.5 0.3 0.5 1.8 0.5 -0.1 0.5 2.5 0.5 -0.5 0.5 -2 0.5 -0.3 0.5 0.1 0.5 2.7 0.5 -0.6 0.5 -3.9 0.5 1.5 0.5 3.6 0.5 -5.4 0.5 2.9 0.5 -2.6 0.5 1 0.5 3.7 0.5 -3.5 0.5 4.8 0.5 -2.5 0.5 -1.3 0.5 2.4 0.5 -3.2 0.5 -1.9 0.5 6.8 0.5 -3.2 0.5 -1 0.5 0.1 0.5 -0.5 0.5 3.3 0.5 1.2 0.5 0.1 0.5 -5.4 0.5 -0.9 0.5 4.4 0.5 1.8 0.5 -6.2 0.5 3.5 0.5 -3 0.5 -0.1 0.5 5.9 0.5 -4.9 0.5 3 0.5 -9.2 0.5 6.9 0.5 -2.1 0.5 0.5 0.5 1 0.5 1.9 0.5 -2.6 0.5 -0.4 0.5 5.6 0.5 -0.5 0.5 -4.6 0.5 -0.9 0.5 5.3 0.5 -3.8 0.5 3 0.5 0 0.5 1.2 0.5 -2.1 0.5 0.2 0.5 1.1 0.5 -4.2 0.5 4.9 0.5 0.8 0.5 -1.9 0.5 -4.4 0.5 5.5 0.5 -0.4 0.5 -0.1 0.5 -5 0.5 5.1 0.5 -4.5 0.5 -1.2 0.5 3.6 0.5 0.6 0.5 14.7 0.5 -21.7 0.5 4 0.5 -4.8 0.5 8.5 0.5 1.8 0.5 -0.8 0.5 12.9 0.5 -12.5 0.5 -7.2 0.5 7 0.5 -2.3 0.5 1.7 0.5 -4.1 0.5 5.5 0.5 14 0.5 -19.7 0.5 0.8 0.5 4.3 0.5 -0.9 0.5 -3.2 0.5 -0.6 0.5 -1.1 0.5 1.5 0.5 0.5 0.5 0.4 0.5 0.3 0.5 1.3 0.5 -3.4 0.5 4.8 0.5 -2 0.5 -2.5 0.5 2.1 0.5 1.8 0.5 -3.3 0.5 -0.2 0.5 16.3 0.5 -16.5 0.5 0.9 0.5 1.2 0.5 16.4 0.5 -18.9 0.5 0 0.5 3.7 0.5 -2.5 0.5 4.4 0.5 -7.3 0.5 0.5 0.5 2.8 0.5 -2.8 0.5 6.2 0.5 -1.3 0.5 6.2 0.5 8.2 0.5 15.6 0.5 0 0.5 0 0.5 -15.1 0.5 -7.2 0.5 -11.3 0.5 2.4 0.5 -1.4 0.5 4.3 0.5 -5 0.5 1.1 0.5 -2.4 0.5 6.5 0.5 -5.3 0.5 -1.4 0.5 4.7 0.5 1.7 0.5 -6.4 0.5 2.8 0.5 2.5 0.5 -1.7 0.5 -1.2 0.5 -0.6 0.5 3.1 0.5 -1.4 0.5 3 0.5 -3.2 0.5 -2.6 0.5 4.6 0.5 -3.9 0.5 1.6 0.5 0.7 0.5 -0.3 0.5 -2.9 0.5 5.1 0.5 -2.4 0.5 -3.3 0.5 0.7 0.5 6.2 0.5 -4.9 0.5 4.4 0.5 -2.9 0.5 -1.4 0.5 -1.3 0.5 0.2 0.5 -0.1 0.5 -4.4 0.5 8.2 0.5 0.8 0.5 -4 0.5 0.4 0.5 -2.7 0.5 1 0.5 5.4 0.5 1.3 0.5 -6.4 0.5 1.6 0.5 2.3 0.5 -2.8 0.5 -0.1 0.5 0.3 0.5 1.6 0.5 -0.8 0.5 4 0.5 -1.5 0.5 -4.1 0.5 -0.6 0.5 2.2 0.5 -2.1 0.5 3 0.5 2.2 0.5 -1.6 0.5 -1.4 0.5 -7.4 0.5 9 0.5 -3.6 0.5 0.3 0.5 18.2 0.5 -1.1 0.5 -13.2 0.5 -0.3 0.5 -4.6 0.5 0.9 0.5 19.8 0.5 -15.3 0.5 -4.5 0.5 1.1 0.5 2.4 0.5 -2.4 0.5 4.9 0.5 -1.5 0.5 -6.7 0.5 3.7 0.5 1.1 0.5 -2.6 0.5 3.2 0.5 -4.1 0.5 1.5 0.5 -0.9 0.5 5.5 0.5 -0.8 0.5 -1.1 0.5 -3.5 0.5 0.3 0.5 0.4 0.5 4.4 0.5 -5.4 0.5 -0.3 0.5 1.3 0.5 -0.9 0.5 1 0.5 -0.8 0.5 5.1 0.5 -4.2 0.5 0.3 0.5 -1.6 0.5 2.5 0.5 3.5 0.5 -3 0.5 -2.2 0.5 -0.8 0.5 1.1 0.5 5.1 0.5 -6.5 0.5 1.3 0.5 -0.2 0.5 2.6 0.5 0.1 0.5 -0.4 0.5 0.2 0.5 3.1 0.5 -1.7 0.5 -0.9 0.5 0.4 0.5 -1.8 0.5 -3.4 0.5 4.2 0.5 1.2 0.5 -0.6 0.5 -0.7 0.5 -0.1 0.5 -2.6 0.5 3.5 0.5 -1.7 0.5 -2 0.5 3.4 0.5 -2.6 0.5 0.2 0.5 -0.3 0.5 4.5 0.5 -1.9 0.5 -1.4 0.5 1.2 0.5 -2 0.5 4 0.5 -0.1 0.5 -2 0.5 -0.8 0.5 0.3 0.5 -2.8 0.5 4.7 0.5 -0.6 0.5 -4.3 0.5 4.2 0.5 0.1 0.5 -3 0.5 2.8 0.5 -1.1 0.5 5.6 0.5 16.4 0.5 9.9 0.5 0 0.5 0 0.5 0 0.5 0 0.5 0 0.5 0 0.5 0 0.5 0 0.5 0 0.5 -21.5 0.5 -2.4 0.5 -7.8 0.5 0.1 0.5 1.9 0.5 -5.5 0.5 3.6 0.5 2.2 0.5 -3.5 0.5 3.5 0.5 -6 0.5 -0.3 0.5 3.9 0.5 0.4 0.5 -2.5 0.5 1.5 0.5 -3.3 0.5 1.6 0.5 0 0.5 4.7 0.5 7.5 0.5 13.7 0.5 8.2 0.5 0 0.5 0 0.5 0 0.5 0 0.5 0 0.5 0 0.5 0 0.5 0 0.5 -7.7 0.5 0 0.5 0 0.5 7.7 0.5 0 0.5 0 0.5 0 0.5 0 0.5 0 0.5 0 0.5 0 0.5 0 0.5 0 0.5 0 0.5 0 0.5 0 0.5 0 0.5 0 0.5 0 0.5 0 0.5 0 0.5 0 0.5 0 0.5 0 0.5 0 0.5 0 0.5 0 0.5 0 0.5 0 0.5 0 0.5 -5.1 0.5 0 0.5 0 0.5 5.1 0.5 0 0.5 0 0.5 0 0.5 0 0.5 0 0.5 0 0.5 0 0.5 0 0.5 0 0.5 0 0.5 0 0.5 0 0.5 0 0.5 0 0.5 0 0.5 0 0.5 0 0.5 0 0.5 0 0.5 0 0.5 0 0.5 0 0.5 0 0.5 0 0.5 0 0.5 0 0.5 0 0.5 0 0.5 0 0.5 0 0.5 0 0.5 0 0.5 0 0.5 0 0.5 0 0.5 0 0.5 0 0.5 0 0.5 0 0.5 0 0.5 0 0.5 0 0.5 0 0.5 0 0.5 0 0.5 0 0.5 0 0.5 0 0.5 0 0.5 0 0.5 0 0.5 0 0.5 0 0.5 0 0.5 0 0.5 0 0.5 0 0.5 0 0.5 0 0.5 0 0.5 0 0.5 0 0.5 0 0.5 0 0.5 0 0.5 0 0.5 0 0.5 0 0.5 0 0.5 0 0.5 0 0.5 0 0.5 0 0.5 0 0.5 0 0.5 0 0.5 0 0.5 0 0.5 0 0.5 0 0.5 0 0.5 0 0.5 0 0.5 0 0.5 0 0.5 -8.2 0.5 0 0.5 0 0.5 8.2 0.5 0 0.5 0 0.5 0 0.5 0 0.5 0 0.5 0 0.5 0 0.5 0 0.5 0 0.5 0 0.5 -4.8 0.5 0 0.5 0 0.5 4.8 0.5 0 0.5 0 0.5 0 0.5 0 0.5 0 0.5 0 0.5 0 0.5 0 0.5 0 0.5 0 0.5 0 0.5 0 0.5 0 0.5 -4.4 0.5 0 0.5 0 0.5 4.4 0.5 0 0.5 0 0.5 0 0.5 0 0.5 0 0.5 0 0.5 0 0.5 0 0.5 0 0.5 0 0.5 0 0.5 0 0.5 0 0.5 0 0.5 0 0.5 0 0.5 0 0.5 0 0.5 0 0.5 0 0.5 0 0.5 0 0.5 0 0.5 0 0.5 0 0.5 0 0.5 0 0.5 0 0.5 0 0.5 0 0.5 0 0.5 0 0.5 0 0.5 0 0.5 0 0.5 0 0.5 0 0.5 0 0.5 0 0.5 0 0.5 0 0.5 0 0.5 0 0.5 0 0.5 0 0.5 0 0.5 0 0.5 0 0.5 0 0.5 0 0.5 0 0.5 0 0.5 0 0.5 0 0.5 0 0.5 0 0.5 0 0.5 0 0.5 0 0.5 0 0.5 0 0.5 0 0.5 0 0.5 0 0.5 0 0.5 0 0.5 0 0.5 0 0.5 0 0.5 0 0.5 0 0.5 0 0.5 0 0.5 0 0.5 0 0.5 0 0.5 0 0.5 0 0.5 0 0.5 -8.8 0.5 0 0.5 0 0.5 8.8 0.5 0 0.5 0 0.5 -4 0.5 0 0.5 0 0.5 4 0.5 0 0.5 0 0.5 0 0.5 0 0.5 0 0.5 -6.2 0.5 0 0.5 0 0.5 6.2 0.5 0 0.5 0 0.5 -18.9 0.5 -5.2 0.5 -5.4 0.5 -0.5 0.5 -6.2 0.5 4.4 0.5 -0.4 0.5 1.4 0.5 -3.9 0.5 3.9 0.5 -5.1 0.5 5.8 0.5 0.2 0.5 -5 0.5 -1.4 0.5 5.4 0.5 -0.2 0.5 -2.7 0.5 -0.8 0.5 -0.2 0.5 5.1 0.5 -0.7 0.5 -1.7 0.5 -3 0.5 1.9 0.5 2.3 0.5 0 0.5 4.7 0.5 2.3 0.5 8 0.5 15.9 0.5 0 0.5 -15.8 0.5 -10.4 0.5 -8.4 0.5 -0.5 0.5 19.6 0.5 -14.7 0.5 -0.5 0.5 -4.1 0.5 3.6 0.5 1 0.5 -5.5 0.5 6.3 0.5 -5.2 0.5 2.1 0.5 -3.6 0.5 5.9 0.5 -1.3 0.5 1.1 0.5 -2.9 0.5 1.1 0.5 -0.9 0.5 -3.9 0.5 1.3 0.5 3.6 0.5 -1.5 0.5 -0.2 0.5 1.3 0.5 -3.3 0.5 -0.2 0.5 3.8 0.5 -4.3 0.5 2.4 0.5 -2.5 0.5 0.4 0.5 5.1 0.5 13.2 0.5 -17.7 0.5 -0.5 0.5 3.4 0.5 4.8 0.5 5.2 0.5 4 0.5 18.7 0.5 -16.9 0.5 -6 0.5 -6.5 0.5 -4.7 0.5 -0.3 0.5 -0.6 0.5 5.4 0.5 -5.9 0.5 3.6 0.5 -1.9 0.5 4.2 0.5 13.1 0.5 -17.2 0.5 2.7 0.5 -8.8 0.5 4.4 0.5 4 0.5 -3.9 0.5 -0.1 0.5 0.5 0.5 -0.1 0.5 -0.1 0.5 5.3 0.5 -0.1 0.5 3.1 0.5 2.8 0.5 6.5 0.5 17.5 0.5 0 0.5 -19.5 0.5 -7.6 0.5 -2.3 0.5 -5 0.5 1.1 0.5 1.2 0.5 0.7 0.5 1.8 0.5 -3 0.5 1.1 0.5 -6.3 0.5 2.4 0.5 3.7 0.5 2 0.5 -1.6 0.5 -8.9 0.5 9.5 0.5 -4.6 0.5 -0.7 0.5 4.2 0.5 2 0.5 -1.1 0.5 6.8 0.5 6.1 0.5 18 0.5 0 0.5 0 0.5 0 0.5 0 0.5 0 0.5 -15.9 0.5 -6.3 0.5 -2.3 0.5 -9.3 0.5 0.6 0.5 0.5 0.5 -1.4 0.5 -2.5 0.5 6.4 0.5 5.8 0.5 2.4 0.5 5.8 0.5 16.2 0.5 -22.1 0.5 -6 0.5 -5.3 0.5 -0.1 0.5 1.7 0.5 -3.6 0.5 -2.2 0.5 4 0.5 3.7 0.5 -5.2 0.5 2.6 0.5 -3.3 0.5 4.6 0.5 -3.4 0.5 0.5 0.5 2.5 0.5 16.7 0.5 -21.8 0.5 2 0.5 0.5 0.5 2.2 0.5 0.9 0.5 2.4 0.5 9.6 0.5 19.1 0.5 0 0.5 0 0.5 0 0.5 0 0.5 0 0.5 -7.1 0.5 0 0.5 0 0.5 7.1 0.5 0 0.5 0 0.5 0 0.5 0 0.5 0 0.5 0 0.5 0 0.5 -8.6 0.5 0 0.5 0 0.5 8.6 0.5 0 0.5 0 0.5 -6.8 0.5 0 0.5 0 0.5 6.8 0.5 0 0.5 0 0.5 0 0.5 -8.6 0.5 -13.9 0.5 -10.3 0.5 1.4 0.5 -2.3 0.5 3.2 0.5 -2.6 0.5 2 0.5 0.3 0.5 -2.8 0.5 -1.2 0.5 5.4 0.5 -3.4 0.5 -3.6 0.5 1.6 0.5 -0.8 0.5 4.6 0.5 -4.3 0.5 0.2 0.5 -1.3 0.5 6 0.5 -3.4 0.5 -2.1 0.5 4.9 0.5 -5.2 0.5 5 0.5 1.8 0.5 -4.6 0.5 1.3 0.5 2 0.5 -5.5 0.5 0.1 0.5 2 0.5 -1.1 0.5 5.8 0.5 -0.3 0.5 -5 0.5 -0.6 0.5 5.6 0.5 -0.4 0.5 -1.9 0.5 2.8 0.5 -4.9 0.5 2.4 0.5 -1.2 0.5 -3 0.5 3.6 0.5 1.5 0.5 -2.7 0.5 3.6 0.5 -0.7 0.5 4 0.5 2.8 0.5 6.7 0.5 17.1 0.5 -19.1 0.5 -5.6 0.5 -3.6 0.5 -5.8 0.5 0.8 0.5 2 0.5 -2.6 0.5 -0.3 0.5 -0.9 0.5 2.3 0.5 2.4 0.5 -9.4 0.5 9.3 0.5 -3.7 0.5 0.9 0.5 1.8 0.5 -2.6 0.5 1.8 0.5 -2.8 0.5 3.3 0.5 -0.7 0.5 -1 0.5 -2.8 0.5 1.4 0.5 4.1 0.5 -2.9 0.5 3 0.5 -0.8 0.5 1.7 0.5 -1.9 0.5 -0.2 0.5 -2.5 0.5 -1.1 0.5 0.8 0.5 2.3 0.5 -1.8 0.5 4 0.5 -0.8 0.5 -4.4 0.5 4.9 0.5 -1.2 0.5 -2 0.5 2 0.5 1.9 0.5 -6.2 0.5 -0.1 0.5 6.1 0.5 -0.6 0.5 -5.3 0.5 3.7 0.5 6.3 0.5 7 0.5 18.9 0.5 0 0.5 0 0.5 0 0.5 0 0.5 0 0.5 0 0.5 0 0.5 0 0.5 0 0.5 0 0.5 0 0.5 0 0.5 0 0.5 0 0.5 0 0.5 0 0.5 0 0.5 0 0.5 0 0.5 0 0.5 0 0.5 0 0.5 0 0.5 -5.8 0.5 0 0.5 0 0.5 5.8 0.5 0 0.5 0 0.5 0 0.5 -5.3 0.5 0 0.5 0 0.5 5.3 0.5 0 0.5 0 0.5 0 0.5 0 0.5 0 0.5 0 0.5 0 0.5 0 0.5 0 0.5 0 0.5 0 0.5 0 0.5 0 0.5 0 0.5 0 0.5 0 0.5 0 0.5 0 0.5 0 0.5 0 0.5 0 0.5 0 0.5 -6.3 0.5 0 0.5 0 0.5 6.3 0.5 0 0.5 0 0.5 0 0.5 0 0.5 0 0.5 0 0.5 0 0.5 0 0.5 0 0.5 0 0.5 0 0.5 0 0.5 0 0.5 0 0.5 0 0.5 0 0.5 0 0.5 0 0.5 0 0.5 0 0.5 0 0.5 0 0.5 0 0.5 0 0.5 0 0.5 0 0.5 0 0.5 0 0.5 0 0.5 0 0.5 0 0.5 0 0.5 -6.8 0.5 0 0.5 0 0.5 6.8 0.5 0 0.5 0 0.5 0 0.5 0 0.5 0 0.5 0 0.5 0 0.5 0 0.5 0 0.5 -8.9 0.5 0 0.5 0 0.5 8.9 0.5 0 0.5 0 0.5 0 0.5 0 0.5 0 0.5 0 0.5 0 0.5 0 0.5 0 0.5 0 0.5 0 0.5 0 0.5 0 0.5 0 0.5 0 0.5 0 0.5 0 0.5 0 0.5 0 0.5 0 0.5 0 0.5 0 0.5 0 0.5 0 0.5 0 0.5 0 0.5 0 0.5 0 0.5 0 0.5 0 0.5 0 0.5 0 0.5 0 0.5 0 0.5 0 0.5 0 0.5 0 0.5 0 0.5 0 0.5 0 0.5 0 0.5 0 0.5 0 0.5 0 0.5 0 0.5 0 0.5 -6.2 0.5 0 0.5 0 0.5 6.2 0.5 0 0.5 0 0.5 0 0.5 0 0.5 0 0.5 0 0.5 0 0.5 0 0.5 0 0.5 0 0.5 -6.8 0.5 0 0.5 0 0.5 6.8 0.5 0 0.5 0 0.5 0 0.5 0 0.5 0 0.5 0 0.5 0 0.5 0 0.5 0 0.5 0 0.5 0 0.5 0 0.5 0 0.5 -4.6 0.5 0 0.5 0 0.5 4.6 0.5 0 0.5 0 0.5 0 0.5 0 0.5 0 0.5 0 0.5 0 0.5 0 0.5 0 0.5 0 0.5 0 0.5 0 0.5 0 0.5 0 0.5 0 0.5 0 0.5 0 0.5 0 0.5 0 0.5 0 0.5 0 0.5 0 0.5 0 0.5 0 0.5 0 0.5 0 0.5 0 0.5 0 0.5 0 0.5 0 0.5 0 0.5 0 0.5 0 0.5 0 0.5 0 0.5 0 0.5 0 0.5 -8.3 0.5 0 0.5 0 0.5 8.3 0.5 0 0.5 0 0.5 0 0.5 0 0.5 0 0.5 0 0.5 0 0.5 0 0.5 0 0.5 0 0.5 0 0.5 0 0.5 0 0.5 0 0.5 0 0.5 0 0.5 0 0.5 0 0.5 -5.2 0.5 0 0.5 0 0.5 5.2 0.5 0 0.5 0 0.5 0 0.5 0 0.5 0 0.5 0 0.5 0 0.5 0 0.5 0 0.5 0 0.5 0 0.5 0 0.5 0 0.5 0 0.5 0 0.5 0 0.5 0 0.5 0 0.5 0 0.5 0 0.5 0 0.5 0 0.5 -6.2 0.5 0 0.5 0 0.5 6.2 0.5 0 0.5 0 0.5 0 0.5 0 0.5 0 0.5 0 0.5 0 0.5 0 0.5 0 0.5 0 0.5 0 0.5 0 0.5 0 0.5 0 0.5 0 0.5 0 0.5 0 0.5 0 0.5 0 0.5 0 0.5 0 0.5 0 0.5 0 0.5 0 0.5 0 0.5 0 0.5 0 0.5 0 0.5 0 0.5 0 0.5 0 0.5 0 0.5 0 0.5 0 0.5 0 0.5 0 0.5 0 0.5 -8.6 0.5 0 0.5 0 0.5 8.6 0.5 -7.8 0.5 0 0.5 0 0.5 -0.9 0.5 0 0.5 0 0.5 8.7 0.5 0 0.5 0 0.5 0 0.5 0 0.5 0 0.5 0 0.5 0 0.5 0 0.5 0 0.5 0 0.5 0 0.5 0 0.5 0 0.5 0 0.5 0 0.5 0 0.5 -17.7 0.5 -5.7 0.5 -3.8 0.5 -5.1 0.5 2.9 0.5 -7 0.5 18.6 0.5 -12.9 0.5 -4.6 0.5 2.1 0.5 2.8 0.5 -3.3 0.5 2 0.5 1.2 0.5 -0.9 0.5 -0.8 0.5 7.5 0.5 5.2 0.5 19.5 0.5 0 0.5 0 0.5 0 0.5 0 0.5 0 0.5 0 0.5 0 0.5 0 0.5 0 0.5 0 0.5 0 0.5 0 0.5 0 0.5 0 0.5 0 0.5 0 0.5 -5.9 0.5 0 0.5 0 0.5 5.9 0.5 0 0.5 0 0.5 0 0.5 -8.2 0.5 -15.2 0.5 -6.3 0.5 -4.3 0.5 4.8 0.5 -5.9 0.5 2.9 0.5 -4.2 0.5 5.1 0.5 0.7 0.5 1.2 0.5 -1.1 0.5 -2.4 0.5 1.4 0.5 14.3 0.5 -18 0.5 0.5 0.5 -1.2 0.5 0.4 0.5 4.9 0.5 -9.2 0.5 10.3 0.5 -3.8 0.5 3.6 0.5 -5.2 0.5 2.6 0.5 -0.8 0.5 -2 0.5 5.3 0.5 -2.9 0.5 -2.9 0.5 -0.8 0.5 7 0.5 -7.5 0.5 3.5 0.5 8.3 0.5 4.2 0.5 5.2 0.5 15.7 0.5 0 0.5 0 0.5 0 0.5 0 0.5 0 0.5 0 0.5 0 0.5 0 0.5 0 0.5 -16.2 0.5 -4.7 0.5 -7 0.5 -7.2 0.5 0.4 0.5 3.8 0.5 -9.4 0.5 7.6 0.5 -2.4 0.5 3.8 0.5 -2.5 0.5 1.2 0.5 -0.7 0.5 1.9 0.5 -5.1 0.5 2 0.5 -1.4 0.5 5 0.5 -1.8 0.5 -2.4 0.5 3.9 0.5 -4.4 0.5 4.2 0.5 -4.4 0.5 5.7 0.5 -0.5 0.5 -5 0.5 1.9 0.5 4.5 0.5 -5.8 0.5 0.5 0.5 -7.2 0.5 11.2 0.5 0.7 0.5 -0.9 0.5 -1.2 0.5 -2.6 0.5 -1.5 0.5 2.9 0.5 15.8 0.5 -13.1 0.5 -6 0.5 1 0.5 5 0.5 -3.4 0.5 4 0.5 -3.2 0.5 -2.8 0.5 6.4 0.5 -1.9 0.5 -3.8 0.5 5.3 0.5 0.3 0.5 -6.8 0.5 1.3 0.5 5.3 0.5 -6.4 0.5 2.9 0.5 2 0.5 -1.6 0.5 7.1 0.5 6.5 0.5 19.2 0.5 0 0.5 0 0.5 0 0.5 -17.9 0.5 -6.4 0.5 -8.6 0.5 2 0.5 -4.9 0.5 3.1 0.5 2.1 0.5 -4.6 0.5 1.3 0.5 -0.2 0.5 1.3 0.5 -1.5 0.5 2.1 0.5 1 0.5 -4.7 0.5 0.4 0.5 5.1 0.5 -4.8 0.5 -0.2 0.5 4.2 0.5 -1 0.5 -3.7 0.5 0 0.5 1.5 0.5 0.4 0.5 0.6 0.5 2.9 0.5 -0.2 0.5 13.8 0.5 -16.9 0.5 -0.5 0.5 3 0.5 -3.6 0.5 -1.5 0.5 6.5 0.5 0.6 0.5 -4.9 0.5 -0.3 0.5 5.3 0.5 -7.1 0.5 4.3 0.5 1.6 0.5 -6 0.5 6.4 0.5 -0.4 0.5 -1.9 0.5 -0.5 0.5 2.3 0.5 3.3 0.5 3.8 0.5 3.2 0.5 20.2 0.5 0 0.5 0 0.5 0 0.5 0 0.5 0 0.5 0 0.5 0 0.5 -22.7 0.5 -3.6 0.5 -2.1 0.5 -5.6 0.5 0 0.5 -0.4 0.5 -0.8 0.5 2.4 0.5 -2.1 0.5 1 0.5 2.3 0.5 -1.6 0.5 -1 0.5 18.4 0.5 -1.4 0.5 -12.9 0.5 -4.3 0.5 3.5 0.5 -3.7 0.5 5 0.5 -2.6 0.5 -1.6 0.5 -2.3 0.5 1.8 0.5 1 0.5 2.1 0.5 -2.2 0.5 -1.3 0.5 -1.4 0.5 4.5 0.5 -8.6 0.5 7.2 0.5 0.9 0.5 -2.7 0.5 -1.2 0.5 6.5 0.5 -6.1 0.5 0.7 0.5 3.3 0.5 -4.1 0.5 4.9 0.5 -2.7 0.5 -2.7 0.5 6.3 0.5 -2.3 0.5 -3.6 0.5 1.9 0.5 -2.5 0.5 6.1 0.5 -4.5 0.5 -1.1 0.5 1.2 0.5 4.1 0.5 -4.7 0.5 4.4 0.5 -5 0.5 6.5 0.5 -2.9 0.5 -3.6 0.5 2.1 0.5 1.8 0.5 -4.2 0.5 0.9 0.5 3.7 0.5 -2.5 0.5 3.5 0.5 -1.2 0.5 5.7 0.5 4.5 0.5 13.7 0.5 7.9 0.5 0 0.5 0 0.5 0 0.5 0 0.5 0 0.5 0 0.5 0 0.5 0 0.5 0 0.5 0 0.5 0 0.5 0 0.5 0 0.5 0 0.5 0 0.5 0 0.5 0 0.5 0 0.5 0 0.5 0 0.5 0 0.5 0 0.5 0 0.5 0 0.5 0 0.5 0 0.5 0 0.5 0 0.5 0 0.5 0 0.5 0 0.5 0 0.5 0 0.5 0 0.5 0 0.5 0 0.5 0 0.5 0 0.5 0 0.5 0 0.5 0 0.5 0 0.5 0 0.5 0 0.5 0 0.5 0 0.5 0 0.5 0 0.5 0 0.5 0 0.5 0 0.5 0 0.5 0 0.5 0 0.5 0 0.5 0 0.5 0 0.5 0 0.5 0 0.5 0 0.5 0 0.5 0 0.5 0 0.5 -5.2 0.5 0 0.5 0 0.5 5.2 0.5 0 0.5 0 0.5 0 0.5 0 0.5 0 0.5 0 0.5 0 0.5 0 0.5 0 0.5 0 0.5 0 0.5 0 0.5 -3.8 0.5 0 0.5 0 0.5 3.8 0.5 0 0.5 0 0.5 0 0.5 0 0.5 0 0.5 0 0.5 0 0.5 0 0.5 0 0.5 0 0.5 0 0.5 0 0.5 0 0.5 0 0.5 0 0.5 0 0.5 0 0.5 0 0.5 0 0.5 0 0.5 0 0.5 0 0.5 0 0.5 0 0.5 -7.1 0.5 0 0.5 0 0.5 7.1 0.5 0 0.5 0 0.5 0 0.5 0 0.5 0 0.5 0 0.5 0 0.5 0 0.5 0 0.5 0 0.5 0 0.5 0 0.5 0 0.5 0 0.5 0 0.5 0 0.5 0 0.5 0 0.5 -5.5 0.5 0 0.5 0 0.5 5.5 0.5 0 0.5 0 0.5 0 0.5 -8.5 0.5 0 0.5 -9.6 0.5 -5.4 0.5 -6.6 0.5 -3.8 0.5 1 0.5 0.8 0.5 -2.2 0.5 2.3 0.5 2.7 0.5 -6.6 0.5 0.3 0.5 1 0.5 2 0.5 -3 0.5 1.5 0.5 4 0.5 -4.1 0.5 -0.3 0.5 0.6 0.5 -2.5 0.5 6.1 0.5 -4.5 0.5 3.5 0.5 -2.9 0.5 -0.9 0.5 2 0.5 16.2 0.5 -22.7 0.5 5.2 0.5 1.2 0.5 2.4 0.5 -5 0.5 6.4 0.5 -3.4 0.5 2.5 0.5 -10.8 0.5 10.9 0.5 -0.7 0.5 1.5 0.5 -1.3 0.5 -5.3 0.5 5.2 0.5 -0.1 0.5 -3 0.5 1.5 0.5 0.7 0.5 2.3 0.5 -4.9 0.5 -1.8 0.5 1.5 0.5 0.3 0.5 1.5 0.5 -2.2 0.5 3.2 0.5 -3.9 0.5 3.4 0.5 0.5 0.5 1.8 0.5 -2.1 0.5 -8.2 0.5 7.2 0.5 -1.1 0.5 -0.6 0.5 4.7 0.5 -6.1 0.5 4.4 0.5 -6.9 0.5 7.5 0.5 0.7 0.5 -2.6 0.5 -1.9 0.5 0.6 0.5 2.2 0.5 -0.4 0.5 1.1 0.5 -2.2 0.5 1.7 0.5 2 0.5 -3.5 0.5 2.9 0.5 -0.4 0.5 -2.2 0.5 -2.3 0.5 1.6 0.5 1.1 0.5 -0.4 0.5 -1 0.5 -0.1 0.5 0.2 0.5 -1.2 0.5 2 0.5 1.2 0.5 1.1 0.5 0.4 0.5 -4.4 0.5 0.6 0.5 -1.9 0.5 4.8 0.5 -2.4 0.5 -2.2 0.5 0.1 0.5 4.3 0.5 -3.6 0.5 17.1 0.5 -13.5 0.5 -1.4 0.5 -2.2 0.5 -0.5 0.5 5 0.5 -5.5 0.5 0.9 0.5 -0.3 0.5 4.7 0.5 -4.6 0.5 4.9 0.5 0.9 0.5 -4.1 0.5 4.4 0.5 -2.2 0.5 -3.6 0.5 5.9 0.5 -3.2 0.5 -0.9 0.5 0.1 0.5 3.8 0.5 -1.1 0.5 -4.5 0.5 1.7 0.5 3.4 0.5 -0.5 0.5 -2.8 0.5 -1.8 0.5 3.8 0.5 -4.4 0.5 5.6 0.5 -1.7 0.5 -0.7 0.5 -3.6 0.5 4.8 0.5 1 0.5 -5.2 0.5 3.9 0.5 -0.3 0.5 2.3 0.5 2 0.5 4.3 0.5 8.8 0.5 6.1 0.5 8.5 0.5 0 0.5 0 0.5 0 0.5 0 0.5 0 0.5 0 0.5 0 0.5 -18 0.5 -8.5 0.5 -3.5 0.5 -2.3 0.5 -3.3 0.5 2.7 0.5 0.4 0.5 -3 0.5 -0.8 0.5 0 0.5 2.4 0.5 4.6 0.5 -6.5 0.5 2.7 0.5 1.2 0.5 0.5 0.5 -6.9 0.5 8.8 0.5 -4.7 0.5 1.5 0.5 -3.5 0.5 3.4 0.5 -7.3 0.5 6.3 0.5 4.6 0.5 -3.9 0.5 2.7 0.5 -4.1 0.5 3.2 0.5 -5.5 0.5 1.2 0.5 2.4 0.5 0.8 0.5 3 0.5 -3.8 0.5 -2.6 0.5 2 0.5 2.7 0.5 -3.8 0.5 4.4 0.5 -1.6 0.5 -0.1 0.5 -3 0.5 4.3 0.5 -2.3 0.5 -0.4 0.5 4.3 0.5 -2.3 0.5 0.7 0.5 -0.4 0.5 0.5 0.5 -0.7 0.5 -2.9 0.5 3.2 0.5 -0.6 0.5 -2 0.5 -0.6 0.5 1.5 0.5 3.1 0.5 -6.6 0.5 0.4 0.5 18.7 0.5 -12.1 0.5 0.8 0.5 5.6 0.5 4 0.5 19 0.5 0 0.5 -4.7 0.5 0 0.5 0 0.5 4.7 0.5 0 0.5 0 0.5 0 0.5 -5.3 0.5 0 0.5 0 0.5 5.3 0.5 0 0.5 0 0.5 0 0.5 0 0.5 0 0.5 0 0.5 0 0.5 0 0.5 -7.5 0.5 0 0.5 0 0.5 7.5 0.1 0Z" fill="#4d89bd" />
<line x1="134.4" y1="1016.5" x2="2133" y2="1016.5" stroke="#4a86c0" stroke-width="1.5" />
<line x1="134.4" y1="967.6" x2="134.4" y2="1017.5" stroke="#222" stroke-width="1.2" />
<line x1="130.9" y1="1016.5" x2="134.4" y2="1016.5" stroke="#222" stroke-width="1.2" />
<line x1="130.9" y1="976.8" x2="134.4" y2="976.8" stroke="#222" stroke-width="1.2" />
<text x="132.5" y="1023.9" text-anchor="end" >0</text>
<text x="132.5" y="984.2" text-anchor="end" >5</text>
<line x1="534.1" y1="1017" x2="534.1" y2="1020.5" stroke="#222" stroke-width="1.4" />
<line x1="933.8" y1="1017" x2="933.8" y2="1020.5" stroke="#222" stroke-width="1.4" />
<line x1="1333.6" y1="1017" x2="1333.6" y2="1020.5" stroke="#222" stroke-width="1.4" />
<line x1="1733.3" y1="1017" x2="1733.3" y2="1020.5" stroke="#222" stroke-width="1.4" />
<line x1="2133" y1="1017" x2="2133" y2="1020.5" stroke="#222" stroke-width="1.4" />
<path d="M134.4 1073.8l0 0 0.5 0 0.5 0 0.5 -5.3 0.5 0 0.5 0 0.5 5.3 0.5 0 0.5 -3.9 0.5 0 0.5 0 0.5 3.9 0.5 0 0.5 0 0.5 0 0.5 0 0.5 0 0.5 0 0.5 0 0.5 0 0.5 0 0.5 0 0.5 0 0.5 0 0.5 0 0.5 0 0.5 0 0.5 0 0.5 0 0.5 0 0.5 0 0.5 0 0.5 0 0.5 0 0.5 0 0.5 0 0.5 0 0.5 0 0.5 0 0.5 0 0.5 0 0.5 0 0.5 0 0.5 0 0.5 0 0.5 0 0.5 0 0.5 0 0.5 0 0.5 0 0.5 0 0.5 0 0.5 0 0.5 0 0.5 0 0.5 0 0.5 0 0.5 0 0.5 0 0.5 0 0.5 0 0.5 0 0.5 0 0.5 0 0.5 0 0.5 0 0.5 0 0.5 0 0.5 0 0.5 0 0.5 -3.6 0.5 0 0.5 0 0.5 3.6 0.5 0 0.5 0 0.5 0 0.5 0 0.5 0 0.5 0 0.5 0 0.5 0 0.5 0 0.5 0 0.5 0 0.5 0 0.5 0 0.5 0 0.5 0 0.5 0 0.5 0 0.5 0 0.5 0 0.5 0 0.5 0 0.5 0 0.5 0 0.5 0 0.5 0 0.5 0 0.5 0 0.5 0 0.5 0 0.5 0 0.5 0 0.5 0 0.5 0 0.5 0 0.5 0 0.5 0 0.5 0 0.5 0 0.5 0 0.5 0 0.5 0 0.5 0 0.5 0 0.5 0 0.5 0 0.5 0 0.5 0 0.5 0 0.5 0 0.5 0 0.5 0 0.5 0 0.5 0 0.5 0 0.5 0 0.5 0 0.5 0 0.5 0 0.5 0 0.5 0 0.5 0 0.5 0 0.5 0 0.5 0 0.5 0 0.5 -4.7 0.5 0 0.5 0 0.5 4.7 0.5 0 0.5 0 0.5 0 0.5 0 0.5 0 0.5 0 0.5 0 0.5 0 0.5 0 0.5 0 0.5 0 0.5 0 0.5 0 0.5 0 0.5 0 0.5 0 0.5 0 0.5 -7.1 0.5 0 0.5 0 0.5 7.1 0.5 0 0.5 0 0.5 0 0.5 0 0.5 0 0.5 0 0.5 0 0.5 0 0.5 0 0.5 0 0.5 0 0.5 0 0.5 0 0.5 0 0.5 0 0.5 0 0.5 0 0.5 0 0.5 0 0.5 0 0.5 0 0.5 0 0.5 0 0.5 0 0.5 0 0.5 0 0.5 0 0.5 0 0.5 0 0.5 0 0.5 0 0.5 0 0.5 0 0.5 0 0.5 0 0.5 0 0.5 0 0.5 0 0.5 0 0.5 0 0.5 0 0.5 0 0.5 0 0.5 0 0.5 0 0.5 0 0.5 -5.4 0.5 0 0.5 0 0.5 5.4 0.5 0 0.5 0 0.5 0 0.5 0 0.5 0 0.5 0 0.5 0 0.5 0 0.5 0 0.5 0 0.5 0 0.5 0 0.5 0 0.5 0 0.5 0 0.5 0 0.5 0 0.5 0 0.5 0 0.5 0 0.5 0 0.5 0 0.5 0 0.5 0 0.5 0 0.5 0 0.5 0 0.5 0 0.5 0 0.5 0 0.5 0 0.5 0 0.5 0 0.5 0 0.5 0 0.5 0 0.5 0 0.5 0 0.5 0 0.5 0 0.5 0 0.5 0 0.5 0 0.5 0 0.5 0 0.5 0 0.5 0 0.5 0 0.5 0 0.5 0 0.5 0 0.5 0 0.5 0 0.5 0 0.5 0 0.5 0 0.5 0 0.5 0 0.5 0 0.5 0 0.5 0 0.5 0 0.5 0 0.5 0 0.5 0 0.5 0 0.5 0 0.5 0 0.5 0 0.5 -15.7 0.5 -3.3 0.5 -6.5 0.5 -3.5 0.5 4.1 0.5 1.1 0.5 -0.9 0.5 -1.3 0.5 -3.2 0.5 2.2 0.5 -2.6 0.5 4.4 0.5 -0.4 0.5 -2.1 0.5 24.4 0.5 -23.9 0.5 0.3 0.5 15.3 0.5 -14.9 0.5 0.7 0.5 3 0.5 20 0.5 -13.2 0.5 16 0.5 0 0.5 0 0.5 0 0.5 0 0.5 -6.1 0.5 0 0.5 0 0.5 6.1 0.5 0 0.5 0 0.5 0 0.5 0 0.5 -3.4 0.5 -18.1 0.5 -3.2 0.5 -1.3 0.5 19.2 0.5 -3.2 0.5 -18 0.5 14.3 0.5 -10.5 0.5 13.1 0.5 -12.8 0.5 -4.1 0.5 1.4 0.5 -0.9 0.5 -0.8 0.5 0.8 0.5 2.6 0.5 -3.5 0.5 2.7 0.5 15.9 0.5 -15.9 0.5 -0.3 0.5 -1.1 0.5 19.9 0.5 -17.7 0.5 0.1 0.5 0.3 0.5 0.6 0.5 -3.9 0.5 -1.9 0.5 1 0.5 2.2 0.5 -2.9 0.5 2.6 0.5 0.4 0.5 2.9 0.5 -4.8 0.5 -0.4 0.5 4 0.5 -2.2 0.5 21.4 0.5 1.9 0.5 -11.6 0.5 15.2 0.5 0 0.5 -17.1 0.5 -1.6 0.5 -6.4 0.5 -3.8 0.5 2.8 0.5 -2.4 0.5 5.1 0.5 -1.7 0.5 -0.3 0.5 13.8 0.5 -16.1 0.5 1.3 0.5 22 0.5 -22.7 0.5 14.5 0.5 -12.1 0.5 -2.3 0.5 2 0.5 19.6 0.5 -24 0.5 6.2 0.5 -4.4 0.5 4.7 0.5 5 0.5 14.2 0.5 3.7 0.5 -11.6 0.5 -6.1 0.5 -3.8 0.5 -5.2 0.5 15.4 0.5 -12.6 0.5 -0.3 0.5 0.1 0.5 19.4 0.5 -20.8 0.5 12.6 0.5 2.3 0.5 -17.1 0.5 17 0.5 -12.5 0.5 -5.9 0.5 4.5 0.5 0.7 0.5 -0.5 0.5 -1 0.5 0.7 0.5 -0.3 0.5 -3.6 0.5 14.8 0.5 -9.6 0.5 15 0.5 -17.6 0.5 15.1 0.5 -15.7 0.5 20.2 0.5 -19.1 0.5 1 0.5 19.5 0.5 -4.1 0.5 -19.8 0.5 24.4 0.5 -20 0.5 1.3 0.5 -1.2 0.5 -0.1 0.5 -3.3 0.5 24.7 0.5 -0.1 0.5 -4 0.5 -19.6 0.5 18.3 0.5 -17.8 0.5 -1.4 0.5 3.8 0.5 20.8 0.5 -21.7 0.5 14.4 0.5 -15.6 0.5 20.4 0.5 -21.7 0.5 0.6 0.5 -2.1 0.5 1.1 0.5 4 0.5 -4.6 0.5 19.6 0.5 -17.5 0.5 15.6 0.5 8 0.5 -21.6 0.5 12.5 0.5 -15.9 0.5 -0.8 0.5 4.7 0.5 -5.6 0.5 16.2 0.5 -12.7 0.5 -2.1 0.5 -0.3 0.5 23.8 0.5 -2.2 0.5 -4.9 0.5 -17 0.5 -0.1 0.5 20.2 0.5 -18.3 0.5 24 0.5 -4 0.5 -18.2 0.5 -2.9 0.5 0.3 0.5 3.7 0.5 17.6 0.5 -17.8 0.5 0.1 0.5 -5.1 0.5 0.3 0.5 1.8 0.5 -0.3 0.5 2.5 0.5 -0.4 0.5 0.6 0.5 17.9 0.5 -5.2 0.5 11.8 0.5 0 0.5 -6.2 0.5 0 0.5 0 0.5 6.2 0.5 0 0.5 0 0.5 0 0.5 0 0.5 0 0.5 0 0.5 0 0.5 0 0.5 0 0.5 0 0.5 0 0.5 0 0.5 0 0.5 0 0.5 0 0.5 0 0.5 0 0.5 0 0.5 0 0.5 0 0.5 0 0.5 0 0.5 0 0.5 0 0.5 0 0.5 0 0.5 0 0.5 0 0.5 0 0.5 0 0.5 0 0.5 0 0.5 0 0.5 0 0.5 0 0.5 0 0.5 -4.7 0.5 0 0.5 0 0.5 4.7 0.5 0 0.5 -5.1 0.5 0 0.5 0 0.5 5.1 0.5 0 0.5 0 0.5 0 0.5 0 0.5 -6.9 0.5 0 0.5 0 0.5 6.9 0.5 0 0.5 0 0.5 0 0.5 0 0.5 0 0.5 0 0.5 0 0.5 0 0.5 0 0.5 0 0.5 0 0.5 0 0.5 0 0.5 0 0.5 0 0.5 0 0.5 0 0.5 0 0.5 0 0.5 0 0.5 0 0.5 0 0.5 0 0.5 0 0.5 0 0.5 0 0.5 0 0.5 -3.3 0.5 0 0.5 0 0.5 3.3 0.5 0 0.5 0 0.5 0 0.5 0 0.5 0 0.5 0 0.5 0 0.5 0 0.5 0 0.5 0 0.5 0 0.5 0 0.5 0 0.5 0 0.5 0 0.5 0 0.5 0 0.5 0 0.5 0 0.5 0 0.5 0 0.5 0 0.5 0 0.5 0 0.5 0 0.5 0 0.5 0 0.5 0 0.5 0 0.5 0 0.5 0 0.5 0 0.5 0 0.5 0 0.5 0 0.5 0 0.5 0 0.5 0 0.5 0 0.5 0 0.5 0 0.5 0 0.5 0 0.5 0 0.5 0 0.5 0 0.5 0 0.5 0 0.5 0 0.5 0 0.5 0 0.5 0 0.5 0 0.5 0 0.5 0 0.5 0 0.5 0 0.5 0 0.5 0 0.5 0 0.5 0 0.5 0 0.5 0 0.5 0 0.5 0 0.5 0 0.5 0 0.5 0 0.5 0 0.5 0 0.5 0 0.5 0 0.5 0 0.5 0 0.5 0 0.5 0 0.5 0 0.5 0 0.5 0 0.5 0 0.5 0 0.5 0 0.5 0 0.5 0 0.5 0 0.5 0 0.5 0 0.5 0 0.5 0 0.5 0 0.5 0 0.5 0 0.5 0 0.5 0 0.5 0 0.5 0 0.5 0 0.5 0 0.5 0 0.5 0 0.5 0 0.5 0 0.5 0 0.5 0 0.5 0 0.5 0 0.5 0 0.5 0 0.5 0 0.5 0 0.5 0 0.5 0 0.5 0 0.5 0 0.5 0 0.5 0 0.5 0 0.5 0 0.5 0 0.5 -4.8 0.5 2.4 0.5 -18.5 0.5 -2.8 0.5 -5.2 0.5 3.8 0.5 2.2 0.5 -6.1 0.5 0.5 0.5 1.7 0.5 -1.7 0.5 1 0.5 24.9 0.5 -20.3 0.5 -2.9 0.5 -0.3 0.5 1 0.5 12.8 0.5 -13.8 0.5 1 0.5 -1.5 0.5 3.2 0.5 -4.9 0.5 5.2 0.5 -0.1 0.5 -1.2 0.5 -3.1 0.5 4.6 0.5 -6.2 0.5 3.7 0.5 -2.1 0.5 5.2 0.5 2.1 0.5 16.1 0.5 4.1 0.5 0 0.5 0 0.5 0 0.5 0 0.5 0 0.5 0 0.5 0 0.5 -11.8 0.5 -6.4 0.5 -1.8 0.5 -8.9 0.5 3.7 0.5 15 0.5 -14.6 0.5 -0.5 0.5 1.1 0.5 20.3 0.5 0.1 0.5 -25.5 0.5 5.7 0.5 -3.3 0.5 15.1 0.5 -12.6 0.5 -1.9 0.5 0 0.5 3.2 0.5 14.8 0.5 5.1 0.5 -25.4 0.5 1.8 0.5 1.6 0.5 0.8 0.5 -0.1 0.5 1.1 0.5 -4.6 0.5 0.9 0.5 -1.8 0.5 5.2 0.5 18.1 0.5 -19.2 0.5 13.6 0.5 -1.7 0.5 0.4 0.5 -15.2 0.5 0.2 0.5 1.8 0.5 0.4 0.5 17.2 0.5 -18 0.5 16.9 0.5 -19.5 0.5 3.4 0.5 12.5 0.5 -14.5 0.5 2.8 0.5 -3.6 0.5 24.3 0.5 -0.8 0.5 0.3 0.5 -23.6 0.5 1.9 0.5 -3.4 0.5 6.4 0.5 13.8 0.5 -19.4 0.5 2.2 0.5 21.7 0.5 -22 0.5 22.3 0.5 -3 0.5 -22.2 0.5 18.5 0.5 -14.8 0.5 -3.3 0.5 5.7 0.5 -1.9 0.5 6.1 0.5 2.3 0.5 17 0.5 0 0.5 0 0.5 0 0.5 0 0.5 0 0.5 0 0.5 -12.3 0.5 -3.9 0.5 9.1 0.5 -18.8 0.5 20.5 0.5 -4.3 0.5 -18.3 0.5 2.3 0.5 -2 0.5 4.5 0.5 0.1 0.5 -6.2 0.5 26.7 0.5 -5.8 0.5 -2.8 0.5 -17.5 0.5 -0.7 0.5 2 0.5 18.1 0.5 -20 0.5 -0.4 0.5 2.8 0.5 -1 0.5 0.7 0.5 17.7 0.5 -19.8 0.5 0.6 0.5 2.4 0.5 0.3 0.5 -3.7 0.5 0.1 0.5 -0.1 0.5 4.4 0.5 -4.2 0.5 2.4 0.5 17.1 0.5 -17.2 0.5 -2.4 0.5 2.3 0.5 3.9 0.5 -0.5 0.5 -4.2 0.5 0.8 0.5 2.4 0.5 1.3 0.5 -5.4 0.5 -0.1 0.5 2.8 0.5 23.4 0.5 -23.2 0.5 22.6 0.5 -21.5 0.5 -4.3 0.5 6.1 0.5 16.3 0.5 -17.9 0.5 -4.5 0.5 5.1 0.5 -1 0.5 -2.8 0.5 3.6 0.5 -4.8 0.5 25.3 0.5 -25.2 0.5 2.3 0.5 1.1 0.5 -1 0.5 -2.3 0.5 4.8 0.5 -3.7 0.5 1.6 0.5 1 0.5 -2.5 0.5 16.6 0.5 -13.7 0.5 -3.5 0.5 1 0.5 -0.7 0.5 -0.6 0.5 -0.2 0.5 0.9 0.5 1.1 0.5 15.6 0.5 -17.6 0.5 4.1 0.5 -4 0.5 0.5 0.5 1.9 0.5 2.4 0.5 0 0.5 -2.1 0.5 22.2 0.5 -20 0.5 -0.8 0.5 11.2 0.5 3.1 0.5 2.1 0.5 -18.9 0.5 0.1 0.5 3.3 0.5 -4.2 0.5 4.4 0.5 0.4 0.5 11.4 0.5 -7.8 0.5 15.4 0.5 4.2 0.5 0 0.5 0 0.5 0 0.5 -6 0.5 0 0.5 0 0.5 6 0.5 0 0.5 0 0.5 0 0.5 0 0.5 0 0.5 0 0.5 0 0.5 0 0.5 0 0.5 0 0.5 0 0.5 0 0.5 0 0.5 0 0.5 0 0.5 0 0.5 0 0.5 -13.1 0.5 7.3 0.5 -16 0.5 -6 0.5 -1.9 0.5 5.1 0.5 -5 0.5 5.4 0.5 10.6 0.5 -9.7 0.5 8.6 0.5 -14.1 0.5 -0.8 0.5 22.9 0.5 -1 0.5 3.3 0.5 1 0.5 -21.8 0.5 0.6 0.5 0.2 0.5 17.8 0.5 -17.5 0.5 -3.4 0.5 0.3 0.5 -0.2 0.5 1.7 0.5 -2 0.5 17.6 0.5 -13.6 0.5 0.7 0.5 0.1 0.5 -1.9 0.5 0.7 0.5 -4.9 0.5 24.1 0.5 -0.8 0.5 -17.6 0.5 -3.6 0.5 3.2 0.5 -4.3 0.5 1.5 0.5 1.1 0.5 3.4 0.5 2.9 0.5 4.1 0.5 15 0.5 0 0.5 0 0.5 0 0.5 0 0.5 0 0.5 0 0.5 0 0.5 0 0.5 0 0.5 0 0.5 0 0.5 0 0.5 0 0.5 0 0.5 0 0.5 0 0.5 0 0.5 0 0.5 0 0.5 0 0.5 0 0.5 0 0.5 0 0.5 0 0.5 0 0.5 0 0.5 0 0.5 0 0.5 0 0.5 0 0.5 0 0.5 0 0.5 0 0.5 0 0.5 0 0.5 0 0.5 0 0.5 0 0.5 0 0.5 0 0.5 0 0.5 0 0.5 0 0.5 -6 0.5 0 0.5 0 0.5 6 0.5 0 0.5 0 0.5 0 0.5 0 0.5 0 0.5 0 0.5 0 0.5 0 0.5 -5.8 0.5 0 0.5 0 0.5 5.8 0.5 0 0.5 0 0.5 0 0.5 0 0.5 0 0.5 0 0.5 0 0.5 0 0.5 0 0.5 0 0.5 0 0.5 0 0.5 0 0.5 0 0.5 0 0.5 0 0.5 0 0.5 0 0.5 0 0.5 0 0.5 0 0.5 0 0.5 0 0.5 0 0.5 0 0.5 0 0.5 0 0.5 0 0.5 0 0.5 0 0.5 0 0.5 0 0.5 0 0.5 0 0.5 0 0.5 0 0.5 0 0.5 0 0.5 0 0.5 0 0.5 0 0.5 0 0.5 0 0.5 0 0.5 0 0.5 0 0.5 0 0.5 0 0.5 0 0.5 0 0.5 0 0.5 0 0.5 0 0.5 0 0.5 0 0.5 0 0.5 0 0.5 0 0.5 0 0.5 0 0.5 0 0.5 0 0.5 0 0.5 0 0.5 0 0.5 0 0.5 0 0.5 0 0.5 0 0.5 0 0.5 0 0.5 0 0.5 0 0.5 0 0.5 0 0.5 0 0.5 0 0.5 0 0.5 0 0.5 0 0.5 0 0.5 0 0.5 0 0.5 0 0.5 0 0.5 0 0.5 0 0.5 0 0.5 0 0.5 0 0.5 0 0.5 0 0.5 0 0.5 0 0.5 0 0.5 0 0.5 0 0.5 0 0.5 0 0.5 0 0.5 0 0.5 0 0.5 0 0.5 0 0.5 0 0.5 0 0.5 0 0.5 0 0.5 0 0.5 0 0.5 0 0.5 0 0.5 -3.4 0.5 0 0.5 0 0.5 3.4 0.5 0 0.5 0 0.5 0 0.5 0 0.5 0 0.5 0 0.5 0 0.5 -17.7 0.5 -3 0.5 14.1 0.5 -22.8 0.5 2 0.5 3 0.5 -4.4 0.5 1.9 0.5 17.2 0.5 -18.8 0.5 0.3 0.5 -0.2 0.5 -1.1 0.5 -0.1 0.5 0.4 0.5 2.6 0.5 -1 0.5 -1.9 0.5 5.4 0.5 13.8 0.5 -2.1 0.5 -15 0.5 17.5 0.5 -17.2 0.5 -2 0.5 4 0.5 2 0.5 -5.9 0.5 4.4 0.5 -2.5 0.5 0.8 0.5 17.9 0.5 -19.9 0.5 5 0.5 -3 0.5 17 0.5 -17.4 0.5 18.9 0.5 5 0.5 -25.6 0.5 -0.5 0.5 18.7 0.5 7.5 0.5 -24.3 0.5 -0.5 0.5 -1.8 0.5 21.6 0.5 -21.9 0.5 1.6 0.5 2.6 0.5 -0.7 0.5 3.3 0.5 1.1 0.5 8.5 0.5 9.1 0.5 0 0.5 0 0.5 4.1 0.5 0 0.5 0 0.5 0 0.5 0 0.5 0 0.5 0 0.5 0 0.5 0 0.5 0 0.5 0 0.5 0 0.5 0 0.5 0 0.5 0 0.5 0 0.5 0 0.5 0 0.5 0 0.5 0 0.5 0 0.5 0 0.5 -3.1 0.5 0 0.5 0 0.5 3.1 0.5 0 0.5 0 0.5 0 0.5 -4.9 0.5 0 0.5 0 0.5 4.9 0.5 0 0.5 0 0.5 -5.8 0.5 0 0.5 0 0.5 5.8 0.5 0 0.5 0 0.5 0 0.5 0 0.5 0 0.5 0 0.5 0 0.5 0 0.5 0 0.5 0 0.5 0 0.5 0 0.5 0 0.5 -4.1 0.5 -13.5 0.5 11 0.5 -6.6 0.5 9.4 0.5 -25.3 0.5 21 0.5 -15.3 0.5 -4.8 0.5 -0.8 0.5 1 0.5 1.7 0.5 -0.6 0.5 -0.7 0.5 -1.2 0.5 3.9 0.5 22.1 0.5 -26.5 0.5 25.4 0.5 -21.1 0.5 -3.8 0.5 5.4 0.5 14.2 0.5 -15.4 0.5 -5 0.5 23 0.5 0.1 0.5 -4.9 0.5 -13.3 0.5 -0.9 0.5 22.5 0.5 -20.3 0.5 -2.9 0.5 19.5 0.5 -20.9 0.5 3.1 0.5 0.2 0.5 -3.3 0.5 -0.9 0.5 2.9 0.5 -3.6 0.5 4.2 0.5 2.9 0.5 6.2 0.5 16 0.5 0 0.5 0 0.5 0 0.5 0 0.5 0 0.5 -6.8 0.5 0 0.5 0 0.5 6.8 0.5 0 0.5 0 0.5 0 0.5 0 0.5 0 0.5 0 0.5 0 0.5 0 0.5 0 0.5 0 0.5 0 0.5 0 0.5 0 0.5 0 0.5 0 0.5 -5 0.5 0 0.5 0 0.5 5 0.5 0 0.5 0 0.5 0 0.5 0 0.5 0 0.5 0 0.5 0 0.5 0 0.5 0 0.5 0 0.5 0 0.5 0 0.5 0 0.5 0 0.5 0 0.5 0 0.5 0 0.5 0 0.5 0 0.5 0 0.5 0 0.5 0 0.5 0 0.5 0 0.5 0 0.5 0 0.5 0 0.5 0 0.5 0 0.5 0 0.5 0 0.5 0 0.5 0 0.5 0 0.5 0 0.5 0 0.5 0 0.5 0 0.5 0 0.5 0 0.5 0 0.5 0 0.5 0 0.5 0 0.5 0 0.5 0 0.5 0 0.5 0 0.5 0 0.5 -3.5 0.5 0 0.5 0 0.5 3.5 0.5 0 0.5 0 0.5 0 0.5 0 0.5 0 0.5 0 0.5 0 0.5 0 0.5 0 0.5 0 0.5 0 0.5 0 0.5 0 0.5 0 0.5 0 0.5 0 0.5 0 0.5 0 0.5 0 0.5 0 0.5 0 0.5 -6.4 0.5 0 0.5 0 0.5 6.4 0.5 0 0.5 0 0.5 0 0.5 0 0.5 0 0.5 0 0.5 0 0.5 0 0.5 0 0.5 0 0.5 0 0.5 0 0.5 0 0.5 0 0.5 0 0.5 0 0.5 0 0.5 0 0.5 0 0.5 0 0.5 0 0.5 0 0.5 0 0.5 0 0.5 0 0.5 0 0.5 -5.9 0.5 0 0.5 0 0.5 5.9 0.5 0 0.5 0 0.5 0 0.5 0 0.5 0 0.5 0 0.5 0 0.5 0 0.5 0 0.5 0 0.5 0 0.5 0 0.5 0 0.5 0 0.5 0 0.5 0 0.5 0 0.5 0 0.5 0 0.5 0 0.5 0 0.5 0 0.5 0 0.5 0 0.5 0 0.5 0 0.5 0 0.5 0 0.5 0 0.5 0 0.5 0 0.5 0 0.5 0 0.5 0 0.5 0 0.5 0 0.5 0 0.5 0 0.5 -2.8 0.5 0 0.5 0 0.5 2.8 0.5 0 0.5 0 0.5 0 0.5 0 0.5 0 0.5 0 0.5 0 0.5 0 0.5 0 0.5 0 0.5 0 0.5 0 0.5 0 0.5 0 0.5 0 0.5 0 0.5 0 0.5 0 0.5 0 0.5 0 0.5 0 0.5 0 0.5 0 0.5 0 0.5 0 0.5 0 0.5 0 0.5 0 0.5 0 0.5 0 0.5 0 0.5 0 0.5 0 0.5 0 0.5 0 0.5 0 0.5 0 0.5 0 0.5 0 0.5 0 0.5 0 0.5 0 0.5 0 0.5 0 0.5 0 0.5 0 0.5 0 0.5 0 0.5 0 0.5 0 0.5 0 0.5 0 0.5 0 0.5 0 0.5 0 0.5 0 0.5 0 0.5 0 0.5 0 0.5 0 0.5 0 0.5 0 0.5 0 0.5 0 0.5 0 0.5 0 0.5 0 0.5 0 0.5 -3.8 0.5 0 0.5 0 0.5 3.8 0.5 0 0.5 0 0.5 0 0.5 0 0.5 0 0.5 0 0.5 0 0.5 0 0.5 0 0.5 0 0.5 0 0.5 0 0.5 0 0.5 0 0.5 0 0.5 0 0.5 0 0.5 0 0.5 0 0.5 0 0.5 0 0.5 0 0.5 0 0.5 0 0.5 0 0.5 0 0.5 0 0.5 0 0.5 0 0.5 0 0.5 0 0.5 0 0.5 0 0.5 0 0.5 0 0.5 0 0.5 0 0.5 0 0.5 0 0.5 -4.5 0.5 0 0.5 0 0.5 4.5 0.5 0 0.5 0 0.5 0 0.5 0 0.5 0 0.5 0 0.5 0 0.5 0 0.5 0 0.5 0 0.5 0 0.5 0 0.5 0 0.5 0 0.5 0 0.5 0 0.5 0 0.5 0 0.5 0 0.5 0 0.5 0 0.5 0 0.5 0 0.5 0 0.5 0 0.5 0 0.5 -3.6 0.5 0 0.5 0 0.5 3.6 0.5 0 0.5 0 0.5 0 0.5 0 0.5 0 0.5 0 0.5 0 0.5 0 0.5 0 0.5 0 0.5 0 0.5 0 0.5 0 0.5 0 0.5 0 0.5 0 0.5 0 0.5 0 0.5 0 0.5 -6.9 0.5 0 0.5 0 0.5 6.9 0.5 0 0.5 0 0.5 0 0.5 0 0.5 0 0.5 0 0.5 0 0.5 0 0.5 0 0.5 0 0.5 0 0.5 0 0.5 0 0.5 0 0.5 0 0.5 0 0.5 0 0.5 0 0.5 0 0.5 0 0.5 0 0.5 0 0.5 0 0.5 0 0.5 0 0.5 0 0.5 0 0.5 0 0.5 0 0.5 0 0.5 0 0.5 0 0.5 0 0.5 0 0.5 0 0.5 0 0.5 0 0.5 0 0.5 0 0.5 0 0.5 0 0.5 0 0.5 0 0.5 0 0.5 0 0.5 0 0.5 0 0.5 0 0.5 0 0.5 0 0.5 0 0.5 0 0.5 0 0.5 0 0.5 0 0.5 0 0.5 0 0.5 0 0.5 0 0.5 0 0.5 0 0.5 0 0.5 0 0.5 0 0.5 0 0.5 0 0.5 0 0.5 0 0.5 0 0.5 0 0.5 0 0.5 0 0.5 0 0.5 0 0.5 0 0.5 0 0.5 0 0.5 0 0.5 0 0.5 0 0.5 0 0.5 0 0.5 0 0.5 0 0.5 0 0.5 0 0.5 -3.7 0.5 -14.6 0.5 -3.9 0.5 -6.2 0.5 -1 0.5 2.9 0.5 -2.8 0.5 5.8 0.5 -4.4 0.5 25.2 0.5 -26 0.5 2.5 0.5 1.7 0.5 0.8 0.5 -2.5 0.5 -2.5 0.5 17.5 0.5 -15.7 0.5 0.6 0.5 -2.6 0.5 1 0.5 22.6 0.5 -20.5 0.5 -1.8 0.5 -1 0.5 22.1 0.5 -23 0.5 2.3 0.5 0.5 0.5 14.2 0.5 -10.6 0.5 15.9 0.5 1.7 0.5 -23.6 0.5 20.7 0.5 -13.2 0.5 4.8 0.5 16.8 0.5 0 0.5 0 0.5 0 0.5 0 0.5 0 0.5 0 0.5 0 0.5 -5.1 0.5 0 0.5 0 0.5 5.1 0.5 0 0.5 0 0.5 0 0.5 0 0.5 0 0.5 0 0.5 0 0.5 0 0.5 0 0.5 0 0.5 0 0.5 0 0.5 0 0.5 0 0.5 0 0.5 0 0.5 0 0.5 0 0.5 0 0.5 0 0.5 0 0.5 0 0.5 0 0.5 0 0.5 0 0.5 0 0.5 0 0.5 0 0.5 0 0.5 0 0.5 0 0.5 0 0.5 -3.7 0.5 0 0.5 0 0.5 3.7 0.5 0 0.5 0 0.5 0 0.5 0 0.5 0 0.5 0 0.5 0 0.5 0 0.5 0 0.5 0 0.5 0 0.5 0 0.5 0 0.5 0 0.5 0 0.5 0 0.5 0 0.5 0 0.5 0 0.5 0 0.5 0 0.5 0 0.5 0 0.5 0 0.5 0 0.5 0 0.5 0 0.5 -5.6 0.5 0 0.5 0 0.5 5.6 0.5 0 0.5 0 0.5 0 0.5 0 0.5 0 0.5 0 0.5 0 0.5 0 0.5 0 0.5 0 0.5 0 0.5 0 0.5 0 0.5 0 0.5 0 0.5 0 0.5 0 0.5 0 0.5 0 0.5 0 0.5 0 0.5 0 0.5 0 0.5 0 0.5 0 0.5 -3.8 0.5 0 0.5 0 0.5 3.8 0.5 0 0.5 0 0.5 0 0.5 0 0.5 0 0.5 0 0.5 0 0.5 0 0.5 0 0.5 0 0.5 0 0.5 0 0.5 0 0.5 0 0.5 0 0.5 -5.8 0.5 0 0.5 0 0.5 5.8 0.5 0 0.5 0 0.5 -5.3 0.5 0 0.5 0 0.5 5.3 0.5 0 0.5 0 0.5 -6 0.5 0 0.5 0 0.5 6 0.5 0 0.5 0 0.5 0 0.5 0 0.5 0 0.5 0 0.5 0 0.5 0 0.5 0 0.5 0 0.5 0 0.5 0 0.5 0 0.5 0 0.5 0 0.5 0 0.5 0 0.5 0 0.5 0 0.5 0 0.5 0 0.5 0 0.5 0 0.5 0 0.5 0 0.5 0 0.5 0 0.5 0 0.5 0 0.5 0 0.5 -3.2 0.5 0 0.5 0 0.5 3.2 0.5 0 0.5 0 0.5 0 0.5 0 0.5 0 0.5 0 0.5 0 0.5 0 0.5 0 0.5 0 0.5 0 0.5 0 0.5 0 0.5 0 0.5 0 0.5 0 0.5 0 0.5 0 0.5 0 0.5 0 0.5 0 0.5 0 0.5 0 0.5 0 0.5 0 0.5 0 0.5 0 0.5 0 0.5 0 0.5 0 0.5 0 0.5 0 0.5 0 0.5 0 0.5 0 0.5 0 0.5 0 0.5 0 0.5 0 0.5 0 0.5 0 0.5 0 0.5 0 0.5 0 0.5 0 0.5 0 0.5 0 0.5 0 0.5 0 0.5 0 0.5 0 0.5 0 0.5 0 0.5 0 0.5 0 0.5 0 0.5 0 0.5 0 0.5 0 0.5 0 0.5 -3.9 0.5 0 0.5 0 0.5 3.9 0.5 0 0.5 0 0.5 0 0.5 0 0.5 0 0.5 0 0.5 0 0.5 0 0.5 0 0.5 0 0.5 0 0.5 0 0.5 0 0.5 0 0.5 0 0.5 0 0.5 0 0.5 0 0.5 0 0.5 0 0.5 0 0.5 0 0.5 0 0.5 0 0.5 0 0.5 0 0.5 0 0.5 0 0.5 0 0.5 0 0.5 0 0.5 -3.2 0.5 0 0.5 0 0.5 3.2 0.5 0 0.5 0 0.5 0 0.5 0 0.5 0 0.5 0 0.5 0 0.5 0 0.5 0 0.5 0 0.5 0 0.5 0 0.5 0 0.5 0 0.5 0 0.5 -6.5 0.5 0 0.5 0 0.5 6.5 0.5 0 0.5 0 0.5 0 0.5 0 0.5 0 0.5 0 0.5 0 0.5 0 0.5 0 0.5 0 0.5 0 0.5 -3.9 0.5 0 0.5 0 0.5 3.9 0.5 0 0.5 0 0.5 0 0.5 0 0.5 0 0.5 0 0.5 0 0.5 0 0.5 0 0.5 0 0.5 0 0.5 0 0.5 0 0.5 0 0.5 0 0.5 0 0.5 -3.1 0.5 0 0.5 0 0.5 3.1 0.5 0 0.5 0 0.5 0 0.5 0 0.5 0 0.5 0 0.5 0 0.5 0 0.5 0 0.5 0 0.5 0 0.5 0 0.5 0 0.5 0 0.5 0 0.5 0 0.5 0 0.5 0 0.5 0 0.5 0 0.5 0 0.5 0 0.5 0 0.5 0 0.5 0 0.5 0 0.5 0 0.5 0 0.5 0 0.5 0 0.5 0 0.5 0 0.5 0 0.5 0 0.5 0 0.5 0 0.5 0 0.5 0 0.5 0 0.5 0 0.5 0 0.5 0 0.5 0 0.5 -2.9 0.5 0 0.5 0 0.5 2.9 0.5 0 0.5 -6.4 0.5 0 0.5 0 0.5 6.4 0.5 0 0.5 0 0.5 0 0.5 0 0.5 0 0.5 0 0.5 0 0.5 0 0.5 0 0.5 0 0.5 0 0.5 0 0.5 0 0.5 0 0.5 0 0.5 0 0.5 0 0.5 0 0.5 0 0.5 0 0.5 -5.8 0.5 0 0.5 0 0.5 5.8 0.5 0 0.5 0 0.5 0 0.5 0 0.5 0 0.5 0 0.5 0 0.5 -6.9 0.5 0 0.5 0 0.5 6.9 0.5 0 0.5 0 0.5 0 0.5 0 0.5 0 0.5 0 0.5 0 0.5 0 0.5 0 0.5 0 0.5 0 0.5 0 0.5 0 0.5 -4.6 0.5 0 0.5 0 0.5 4.6 0.5 0 0.5 0 0.5 0 0.5 0 0.5 0 0.5 0 0.5 0 0.5 0 0.5 0 0.5 0 0.5 0 0.5 0 0.5 0 0.5 0 0.5 0 0.5 0 0.5 0 0.5 0 0.5 0 0.5 0 0.5 0 0.5 0 0.5 0 0.5 0 0.5 0 0.5 0 0.5 0 0.5 0 0.5 0 0.5 0 0.5 0 0.5 0 0.5 0 0.5 0 0.5 0 0.5 0 0.5 0 0.5 0 0.5 0 0.5 0 0.5 0 0.5 0 0.5 0 0.5 0 0.5 0 0.5 0 0.5 0 0.5 0 0.5 0 0.5 0 0.5 0 0.5 0 0.5 0 0.5 0 0.5 0 0.5 -4.8 0.5 0 0.5 0 0.5 4.8 0.5 0 0.5 0 0.5 0 0.5 0 0.5 0 0.5 0 0.5 0 0.5 0 0.5 0 0.5 0 0.5 0 0.5 0 0.5 0 0.5 -3.5 0.5 0 0.5 0 0.5 3.5 0.5 0 0.5 0 0.5 0 0.5 0 0.5 0 0.5 0 0.5 0 0.5 0 0.5 0 0.5 0 0.5 0 0.5 0 0.5 0 0.5 0 0.5 0 0.5 0 0.5 0 0.5 0 0.5 0 0.5 0 0.5 0 0.5 0 0.5 0 0.5 0 0.5 0 0.5 0 0.5 0 0.5 0 0.5 0 0.5 0 0.5 0 0.5 0 0.5 0 0.5 0 0.5 0 0.5 0 0.5 0 0.5 0 0.5 0 0.5 0 0.5 0 0.5 0 0.5 0 0.5 0 0.5 0 0.5 0 0.5 0 0.5 0 0.5 0 0.5 0 0.5 0 0.5 0 0.5 0 0.5 0 0.5 0 0.5 0 0.5 0 0.5 0 0.5 0 0.5 0 0.5 0 0.5 -4.6 0.5 0 0.5 0 0.5 4.6 0.5 0 0.5 0 0.5 0 0.5 0 0.5 0 0.5 0 0.5 0 0.5 0 0.5 0 0.5 0 0.5 0 0.5 0 0.5 0 0.5 0 0.5 0 0.5 0 0.5 0 0.5 0 0.5 0 0.5 0 0.5 0 0.5 0 0.5 0 0.5 0 0.5 0 0.5 0 0.5 0 0.5 0 0.5 0 0.5 0 0.5 0 0.5 0 0.5 0 0.5 0 0.5 0 0.5 -6 0.5 0 0.5 0 0.5 6 0.5 0 0.5 0 0.5 0 0.5 0 0.5 0 0.5 0 0.5 0 0.5 0 0.5 0 0.5 0 0.5 0 0.5 0 0.5 0 0.5 0 0.5 0 0.5 0 0.5 0 0.5 0 0.5 0 0.5 0 0.5 -16.4 0.5 -3.1 0.5 -3.3 0.5 -6.6 0.5 3.9 0.5 0.8 0.5 10.6 0.5 -11.3 0.5 -0.4 0.5 -2.4 0.5 3.5 0.5 -4 0.5 25.4 0.5 -21.4 0.5 22 0.5 -27 0.5 6 0.5 -3 0.5 22.8 0.5 -22.1 0.5 -0.9 0.5 -2.2 0.5 2.8 0.5 -1.4 0.5 13.9 0.5 10.9 0.5 -7.6 0.5 -15.6 0.5 -2 0.5 23.2 0.5 -18 0.5 -5.7 0.5 1.4 0.5 -2 0.5 3.4 0.5 0.7 0.5 -4.6 0.5 2 0.5 2.3 0.5 -3.9 0.5 5.3 0.5 2.5 0.5 4.9 0.5 16.6 0.5 0 0.5 -13.1 0.5 -3.5 0.5 -7.6 0.5 0.4 0.5 -0.2 0.5 -2.3 0.5 0.8 0.5 -2.8 0.5 2.1 0.5 -3.1 0.5 2.3 0.5 -0.8 0.5 20.2 0.5 -19.2 0.5 22.5 0.5 -24.7 0.5 4.1 0.5 -1.2 0.5 20.8 0.5 -19.3 0.5 0.4 0.5 -4 0.5 -0.5 0.5 0.6 0.5 -0.4 0.5 1 0.5 5 0.5 -1.2 0.5 20.4 0.5 3.3 0.5 -16.7 0.5 -3.7 0.5 -0.7 0.5 -2 0.5 -3 0.5 3.4 0.5 6 0.5 16.7 0.5 -15.1 0.5 6.8 0.5 -13.3 0.5 -7.5 0.5 0.9 0.5 -1.2 0.5 3.2 0.5 16.8 0.5 -17.1 0.5 -2 0.5 0.6 0.5 2.1 0.5 -1.9 0.5 20.3 0.5 -19.4 0.5 2.2 0.5 -3.4 0.5 -1.2 0.5 1.2 0.5 23.5 0.5 -19.7 0.5 -0.7 0.5 19.4 0.5 -17.9 0.5 -3.2 0.5 16.1 0.5 -9.5 0.5 1.2 0.5 6.6 0.5 12.2 0.5 0 0.5 -15.9 0.5 -5.4 0.5 -5.8 0.5 -0.8 0.5 3.3 0.5 -0.5 0.5 0.5 0.5 -1.7 0.5 0.9 0.5 -3.3 0.5 4.4 0.5 -1.5 0.5 2.5 0.5 -5.4 0.5 25.5 0.5 -26.1 0.5 4.2 0.5 1 0.5 -5.5 0.5 1.8 0.5 5.2 0.5 6.3 0.5 14.7 0.5 1.6 0.5 -14.2 0.5 6.5 0.5 -12.5 0.5 -4.1 0.5 -1.2 0.5 -0.6 0.5 0.6 0.5 -1.5 0.5 -0.3 0.5 2 0.5 21 0.5 -24.3 0.5 5.5 0.5 -2.3 0.5 -4.1 0.5 4.5 0.5 -0.4 0.5 -3.8 0.5 3.5 0.5 22.5 0.5 -20.5 0.5 -0.1 0.5 -5.6 0.5 3.7 0.5 -2.7 0.5 0.2 0.5 5.3 0.5 -5.8 0.5 0.3 0.5 2.9 0.5 -3 0.5 0.4 0.5 1.4 0.5 21.8 0.5 -3.8 0.5 -15.3 0.5 1 0.5 -5 0.5 23.7 0.5 -22.1 0.5 -0.3 0.5 0.6 0.5 21.6 0.5 0.6 0.5 -21.5 0.5 -0.9 0.5 -1.4 0.5 1.7 0.5 -2 0.5 25.6 0.5 -6.1 0.5 -20.8 0.5 -0.4 0.5 2.9 0.5 1 0.5 -1.6 0.5 -1.9 0.5 1.1 0.5 1.2 0.5 -1.5 0.5 1.9 0.5 3.7 0.5 -1.7 0.5 19.9 0.5 -22 0.5 2.1 0.5 1.2 0.5 -3.5 0.5 -2.2 0.5 2.3 0.5 -1.1 0.5 2.3 0.5 18.4 0.5 4.9 0.5 2.3 0.5 0 0.5 0 0.5 0 0.5 0 0.5 0 0.5 0 0.5 0 0.5 0 0.5 0 0.5 0 0.5 -6.4 0.5 4.3 0.5 -20.3 0.5 -5 0.5 22.6 0.5 -24.8 0.5 25.7 0.5 -21.1 0.5 -2.5 0.5 2.2 0.5 1.7 0.5 -1.3 0.5 -2.4 0.5 1.5 0.5 -0.6 0.5 -3.2 0.5 19.6 0.5 -10.7 0.5 7.9 0.5 12.8 0.5 0 0.5 0 0.5 0 0.5 0 0.5 0 0.5 0 0.5 0 0.5 0 0.5 0 0.5 0 0.5 0 0.5 0 0.5 0 0.5 0 0.5 0 0.5 0 0.5 0 0.5 0 0.5 0 0.5 0 0.5 0 0.5 0 0.5 0 0.5 0 0.5 0 0.5 0 0.5 0 0.5 0 0.5 0 0.5 0 0.5 0 0.5 0 0.5 0 0.5 0 0.5 0 0.5 0 0.5 0 0.5 0 0.5 0 0.5 0 0.5 0 0.5 0 0.5 0 0.5 0 0.5 0 0.5 0 0.5 0 0.5 0 0.5 0 0.5 0 0.5 0 0.5 0 0.5 -5.7 0.5 0 0.5 0 0.5 5.7 0.5 0 0.5 0 0.5 0 0.5 0 0.5 0 0.5 0 0.5 0 0.5 0 0.5 0 0.5 0 0.5 0 0.5 0 0.5 -6.2 0.5 0 0.5 0 0.5 6.2 0.5 0 0.5 0 0.5 0 0.5 0 0.5 0 0.5 0 0.5 0 0.5 0 0.5 0 0.5 0 0.5 0 0.5 0 0.5 0 0.5 0 0.5 0 0.5 0 0.5 0 0.5 0 0.5 0 0.5 0 0.5 0 0.5 0 0.5 0 0.5 0 0.5 0 0.5 0 0.5 0 0.5 0 0.5 0 0.5 0 0.5 0 0.5 0 0.5 0 0.5 0 0.5 0 0.5 0 0.5 0 0.5 0 0.5 0 0.5 0 0.5 0 0.5 0 0.5 0 0.5 0 0.5 0 0.5 0 0.5 0 0.5 0 0.5 0 0.5 0 0.5 0 0.5 0 0.5 0 0.5 0 0.5 0 0.5 0 0.5 0 0.5 0 0.5 0 0.5 0 0.5 0 0.5 0 0.5 0 0.5 0 0.5 0 0.5 0 0.5 0 0.5 0 0.5 0 0.5 0 0.5 0 0.5 0 0.5 0 0.5 0 0.5 0 0.5 0 0.5 -4.3 0.5 0 0.5 0 0.5 4.3 0.5 0 0.5 -4.7 0.5 0 0.5 0 0.5 4.7 0.5 0 0.5 0 0.5 0 0.5 0 0.5 -5.7 0.5 0 0.5 0 0.5 5.7 0.5 0 0.5 0 0.5 0 0.5 0 0.5 0 0.5 0 0.5 0 0.5 0 0.5 -13.9 0.5 -2.9 0.5 -5.8 0.5 -6.4 0.5 3.4 0.5 1.9 0.5 -2.5 0.5 -1.9 0.5 1.2 0.5 13.9 0.5 -14 0.5 19.9 0.5 -16.6 0.5 0.2 0.5 -2.9 0.5 -0.3 0.5 18.8 0.5 -13.9 0.5 1.3 0.5 18.6 0.5 1.9 0.5 0 0.5 0 0.5 0 0.5 0 0.5 0 0.5 0 0.5 0 0.5 0 0.5 0 0.5 0 0.5 0 0.5 0 0.5 0 0.5 0 0.5 0 0.5 0 0.5 0 0.5 0 0.5 0 0.5 0 0.5 -6.5 0.5 0 0.5 0 0.5 6.5 0.5 0 0.5 0 0.5 0 0.5 0 0.5 0 0.5 -6.8 0.5 0 0.5 0 0.5 6.8 0.5 0 0.5 0 0.5 0 0.5 -5.3 0.5 0 0.5 0 0.5 5.3 0.5 0 0.5 0 0.5 0 0.5 0 0.5 0 0.5 -5.6 0.5 0 0.5 0 0.5 5.6 0.5 0 0.5 0 0.5 0 0.5 0 0.5 0 0.5 0 0.5 0 0.5 0 0.5 0 0.5 0 0.5 -4.7 0.5 0 0.5 0 0.5 4.7 0.5 0 0.5 0 0.5 0 0.5 0 0.5 0 0.5 0 0.5 0 0.5 0 0.5 0 0.5 0 0.5 0 0.5 0 0.5 0 0.5 0 0.5 0 0.5 0 0.5 0 0.5 0 0.5 0 0.5 0 0.5 0 0.5 0 0.5 0 0.5 0 0.5 0 0.5 0 0.5 0 0.5 0 0.5 0 0.5 0 0.5 0 0.5 0 0.5 0 0.5 -5.2 0.5 0 0.5 0 0.5 5.2 0.5 0 0.5 0 0.5 0 0.5 0 0.5 0 0.5 0 0.5 0 0.5 -6.9 0.5 0 0.5 0 0.5 6.9 0.5 0 0.5 0 0.5 -5.2 0.5 0 0.5 0 0.5 5.2 0.5 0 0.5 -7 0.5 -11.3 0.5 -8.2 0.5 -0.4 0.5 -2 0.5 1.7 0.5 0.5 0.5 -1.9 0.5 0.2 0.5 0.9 0.5 1.6 0.5 0.4 0.5 2.6 0.5 -2.1 0.5 -1.2 0.5 -0.6 0.5 0.5 0.5 -1.9 0.5 4.1 0.5 0.8 0.5 -1.7 0.5 2.1 0.5 -5.8 0.5 5.7 0.5 -3.5 0.5 0.5 0.5 -2.2 0.5 1.8 0.5 0.3 0.5 2.6 0.5 -5.7 0.5 0.7 0.5 2.1 0.5 16.9 0.5 -18.4 0.5 -1.2 0.5 22.2 0.5 -16.5 0.5 -2 0.5 0.3 0.5 1.9 0.5 -0.6 0.5 -0.4 0.5 20.5 0.5 -23.2 0.5 0.3 0.5 3.3 0.5 -4.2 0.5 4.6 0.5 6.7 0.5 16.2 0.5 0 0.5 0 0.5 -15.2 0.5 -5.4 0.5 -4.5 0.5 -2.7 0.5 0.4 0.5 1.7 0.5 -2.1 0.5 0.5 0.5 21.3 0.5 -23.3 0.5 1.6 0.5 0.2 0.5 -0.7 0.5 1.7 0.5 -0.8 0.5 -1.1 0.5 0.5 0.5 0.6 0.5 1 0.5 15 0.5 -13 0.5 -0.3 0.5 -2.5 0.5 2.3 0.5 0.4 0.5 -0.1 0.5 -2.2 0.5 21.9 0.5 -21.6 0.5 21.6 0.5 -2.5 0.5 -19.9 0.5 -1.7 0.5 2.3 0.5 -0.3 0.5 23.1 0.5 0 0.5 -9.6 0.5 -15.3 0.5 5.4 0.5 17.7 0.5 -21 0.5 23.7 0.5 -23.4 0.5 -2.6 0.5 20.8 0.5 -19.5 0.5 -1.5 0.5 3.9 0.5 2 0.5 -0.4 0.5 -5.9 0.5 5.5 0.5 0.9 0.5 -2.4 0.5 -3.4 0.5 2.9 0.5 -3.5 0.5 3.9 0.5 5.5 0.5 3.4 0.5 16.7 0.5 0 0.5 0 0.5 0 0.5 0 0.5 0 0.5 0 0.5 0 0.5 0 0.5 0 0.5 0 0.5 0 0.5 0 0.5 0 0.5 0 0.5 0 0.5 0 0.5 0 0.5 0 0.5 0 0.5 0 0.5 0 0.5 0 0.5 0 0.5 0 0.5 0 0.5 0 0.5 0 0.5 0 0.5 0 0.5 0 0.5 0 0.5 0 0.5 -6.5 0.5 0 0.5 0 0.5 6.5 0.5 0 0.5 0 0.5 0 0.5 0 0.5 0 0.5 0 0.5 0 0.5 0 0.5 0 0.5 0 0.5 0 0.5 0 0.5 0 0.5 0 0.5 0 0.5 0 0.5 0 0.5 0 0.5 0 0.5 0 0.5 0 0.5 0 0.5 0 0.5 0 0.5 0 0.5 0 0.5 0 0.5 0 0.5 0 0.5 0 0.5 0 0.5 0 0.5 0 0.5 0 0.5 0 0.5 0 0.5 0 0.5 0 0.5 0 0.5 0 0.5 0 0.5 0 0.5 0 0.5 0 0.5 0 0.5 0 0.5 0 0.5 0 0.5 0 0.5 0 0.5 0 0.5 0 0.5 0 0.5 0 0.5 0 0.5 0 0.5 0 0.5 0 0.5 0 0.5 0 0.5 -6.6 0.5 0 0.5 0 0.5 6.6 0.5 0 0.5 0 0.5 0 0.5 0 0.5 -5 0.5 0 0.5 0 0.5 5 0.5 0 0.5 0 0.5 0 0.5 0 0.5 0 0.5 0 0.5 0 0.5 0 0.5 0 0.5 0 0.5 0 0.5 0 0.5 0 0.5 0 0.5 0 0.5 0 0.5 0 0.5 0 0.5 0 0.5 0 0.5 -5.6 0.5 0 0.5 0 0.5 5.6 0.5 0 0.5 0 0.5 0 0.5 0 0.5 0 0.5 0 0.5 0 0.5 -7.1 0.5 0 0.5 0 0.5 7.1 0.5 0 0.5 0 0.5 0 0.5 0 0.5 0 0.5 0 0.5 0 0.5 0 0.5 0 0.5 0 0.5 0 0.5 0 0.5 0 0.5 0 0.5 0 0.5 -5.1 0.5 0 0.5 0 0.5 5.1 0.5 0 0.5 0 0.5 0 0.5 0 0.5 0 0.5 0 0.5 0 0.5 0 0.5 0 0.5 -7.2 0.5 0 0.5 0 0.5 7.2 0.5 0 0.5 0 0.5 0 0.5 0 0.5 0 0.5 0 0.5 0 0.5 0 0.5 0 0.5 0 0.5 0 0.5 0 0.5 0 0.5 0 0.5 0 0.5 0 0.5 0 0.5 0 0.5 0 0.5 0 0.5 0 0.5 0 0.5 0 0.5 0 0.5 0 0.5 0 0.5 0 0.5 0 0.5 0 0.5 -5.9 0.5 0 0.5 0 0.5 5.9 0.5 0 0.5 0 0.5 0 0.5 0 0.5 0 0.5 0 0.5 0 0.5 0 0.5 0 0.5 0 0.5 0 0.5 0 0.5 0 0.5 0 0.5 0 0.5 0 0.5 0 0.5 0 0.5 0 0.5 0 0.5 0 0.5 0 0.5 -4.1 0.5 0 0.5 0 0.5 4.1 0.5 0 0.5 0 0.5 0 0.5 0 0.5 0 0.5 0 0.5 0 0.5 0 0.5 0 0.5 0 0.5 0 0.5 0 0.5 -13 0.5 -5.8 0.5 -0.4 0.5 15.3 0.5 -21.4 0.5 1 0.5 -4.4 0.5 0.1 0.5 3.7 0.5 -1.3 0.5 19.7 0.5 -16.5 0.5 -0.5 0.5 -4.8 0.5 0.3 0.5 18.1 0.5 -7.5 0.5 17.4 0.5 -3.9 0.5 0 0.5 0 0.5 3.9 0.5 0 0.5 0 0.5 0 0.5 0 0.5 0 0.5 0 0.5 0 0.5 0 0.5 0 0.5 0 0.5 0 0.5 0 0.5 0 0.5 0 0.5 0 0.5 0 0.5 0 0.5 0 0.5 0 0.5 0 0.5 0 0.5 0 0.5 0 0.5 0 0.5 0 0.5 0 0.5 0 0.5 0 0.5 0 0.5 0 0.5 0 0.5 -3.2 0.5 0 0.5 0 0.5 3.2 0.5 0 0.5 -3.2 0.5 0 0.5 0 0.5 3.2 0.5 0 0.5 0 0.5 0 0.5 0 0.5 0 0.5 0 0.5 0 0.5 0 0.5 0 0.5 0 0.5 0 0.5 0 0.5 0 0.5 0 0.5 0 0.5 0 0.5 0 0.5 0 0.5 0 0.5 0 0.5 0 0.5 0 0.5 0 0.5 0 0.5 0 0.5 0 0.5 0 0.5 0 0.5 0 0.5 0 0.5 0 0.5 0 0.5 0 0.5 0 0.5 0 0.5 0 0.5 0 0.5 0 0.5 0 0.5 0 0.5 0 0.5 0 0.5 0 0.5 0 0.5 0 0.5 0 0.5 0 0.5 0 0.5 0 0.5 0 0.5 0 0.5 0 0.5 0 0.5 0 0.5 0 0.5 0 0.5 0 0.5 0 0.5 0 0.5 0 0.5 0 0.5 0 0.5 0 0.5 0 0.5 0 0.5 0 0.5 0 0.5 0 0.5 0 0.5 0 0.5 0 0.5 0 0.5 0 0.5 0 0.5 0 0.5 0 0.5 0 0.5 0 0.5 0 0.5 0 0.5 0 0.5 0 0.5 0 0.5 -4.7 0.5 0 0.5 0 0.5 4.7 0.5 0 0.5 0 0.5 0 0.5 0 0.5 0 0.5 0 0.5 0 0.5 0 0.5 0 0.5 0 0.5 0 0.5 0 0.5 0 0.5 0 0.5 0 0.5 0 0.5 0 0.5 0 0.5 0 0.5 0 0.5 0 0.5 0 0.5 0 0.5 0 0.5 0 0.5 0 0.5 0 0.5 0 0.5 0 0.5 0 0.5 0 0.5 0 0.5 0 0.5 0 0.5 0 0.5 0 0.5 0 0.5 0 0.5 0 0.5 0 0.5 0 0.5 0 0.5 0 0.5 0 0.5 0 0.5 0 0.5 0 0.5 0 0.5 0 0.5 0 0.5 0 0.5 0 0.5 0 0.5 0 0.5 0 0.5 0 0.5 0 0.5 0 0.5 0 0.5 0 0.5 0 0.5 0 0.5 0 0.5 0 0.5 0 0.5 0 0.5 0 0.5 0 0.5 0 0.5 0 0.5 0 0.5 -5.3 0.5 0 0.5 0 0.5 5.3 0.5 0 0.5 0 0.5 0 0.5 0 0.5 0 0.5 0 0.5 0 0.5 0 0.5 -5.9 0.5 0 0.5 0 0.5 5.9 0.5 0 0.5 0 0.5 0 0.5 0 0.5 0 0.5 0 0.5 0 0.5 0 0.5 0 0.5 0 0.5 -6.7 0.5 0 0.5 0 0.5 6.7 0.5 0 0.5 0 0.5 0 0.5 0 0.5 0 0.5 0 0.5 0 0.5 0 0.5 0 0.5 0 0.5 0 0.5 0 0.5 0 0.5 0 0.5 0 0.5 0 0.5 -4.1 0.5 -15.1 0.5 -4.7 0.5 -1 0.5 14.9 0.5 -1 0.5 -15.6 0.5 0.9 0.5 15.5 0.5 -16.3 0.5 20.7 0.5 -19.4 0.5 -2 0.5 4.2 0.5 -2.7 0.5 -2.6 0.5 3.9 0.5 -4.1 0.5 -0.6 0.5 2.2 0.5 0.9 0.5 -0.1 0.5 16.8 0.5 -17.5 0.5 0.6 0.5 23.5 0.5 -25.8 0.5 3 0.5 -0.5 0.5 0.1 0.5 -2.4 0.5 24.1 0.5 -19 0.5 -4.4 0.5 0.4 0.5 -2 0.5 0 0.5 5 0.5 -4.1 0.5 1.3 0.5 23 0.5 -20.5 0.5 -4.6 0.5 2.2 0.5 1.6 0.5 -1.3 0.5 19.4 0.5 -18.7 0.5 -0.2 0.5 -0.9 0.5 2.3 0.5 -0.3 0.5 -0.8 0.5 17.9 0.5 -17.8 0.5 -2.2 0.5 -0.9 0.5 5.4 0.5 13.2 0.5 -14.5 0.5 21.5 0.5 -22.2 0.5 0.9 0.5 -5 0.5 0.9 0.5 -0.1 0.5 24 0.5 -21.1 0.5 -2 0.5 -1.7 0.5 4.3 0.5 -1.9 0.5 -0.5 0.5 2.4 0.5 15.5 0.5 0.5 0.5 2.3 0.5 -22.1 0.5 2.1 0.5 -1.8 0.5 -0.2 0.5 3.5 0.5 1.5 0.5 3.1 0.5 2.9 0.5 5.6 0.5 12.3 0.5 0 0.5 0 0.5 0 0.5 0 0.5 0 0.5 0 0.5 0 0.5 0 0.5 0 0.5 0 0.5 0 0.5 -16 0.5 -4.1 0.5 11.1 0.5 -0.8 0.5 -16.8 0.5 1 0.5 -4.1 0.5 2.1 0.5 -1.2 0.5 0.6 0.5 4.1 0.5 -2.3 0.5 1.7 0.5 -3.5 0.5 -1.3 0.5 5.2 0.5 -1.8 0.5 -1.3 0.5 15.4 0.5 7.3 0.5 -22.3 0.5 1.4 0.5 -0.4 0.5 -1.2 0.5 -1.9 0.5 -0.5 0.5 1.5 0.5 19.3 0.5 -17.3 0.5 -0.9 0.5 2.7 0.5 3.8 0.5 0.8 0.5 5.7 0.5 14 0.5 0 0.5 0 0.5 0 0.5 0 0.5 0 0.5 0 0.5 0 0.5 0 0.5 0 0.5 0 0.5 0 0.5 0 0.5 0 0.5 0 0.5 0 0.5 0 0.5 0 0.5 0 0.5 -5.3 0.5 0 0.5 0 0.5 5.3 0.5 0 0.5 0 0.5 0 0.5 0 0.5 0 0.5 0 0.5 0 0.5 0 0.5 0 0.5 0 0.5 0 0.5 0 0.5 0 0.5 0 0.5 -7 0.5 0 0.5 0 0.5 7 0.5 0 0.5 0 0.5 0 0.5 0 0.5 0 0.5 0 0.5 0 0.5 0 0.5 0 0.5 0 0.5 0 0.5 0 0.5 0 0.5 0 0.5 0 0.5 0 0.5 0 0.5 0 0.5 0 0.5 0 0.5 0 0.5 0 0.5 0 0.5 0 0.5 0 0.5 0 0.5 0 0.5 0 0.5 0 0.5 0 0.5 0 0.5 0 0.5 0 0.5 0 0.5 0 0.5 0 0.5 0 0.5 0 0.5 0 0.5 0 0.5 0 0.5 0 0.5 0 0.5 0 0.5 0 0.5 0 0.5 0 0.5 0 0.5 0 0.5 0 0.5 0 0.5 0 0.5 0 0.5 0 0.5 0 0.5 0 0.5 0 0.5 0 0.5 0 0.5 0 0.5 0 0.5 0 0.5 0 0.5 0 0.5 0 0.5 0 0.5 0 0.5 0 0.5 0 0.5 0 0.5 0 0.5 0 0.5 0 0.5 0 0.5 0 0.5 0 0.5 0 0.5 0 0.5 0 0.5 0 0.5 0 0.5 0 0.5 0 0.5 -3.2 0.5 0 0.5 0 0.5 3.2 0.5 0 0.5 0 0.5 0 0.5 0 0.5 0 0.5 0 0.5 0 0.5 0 0.5 0 0.5 0 0.5 0 0.5 0 0.5 0 0.5 0 0.5 0 0.5 -4.5 0.5 0 0.5 0 0.5 4.5 0.5 0 0.5 0 0.5 0 0.5 0 0.5 0 0.5 0 0.5 0 0.5 -6.8 0.5 0 0.5 0 0.5 6.8 0.5 0 0.5 0 0.5 0 0.5 0 0.5 0 0.5 0 0.5 0 0.5 -6.5 0.5 0 0.5 0 0.5 6.5 0.5 0 0.5 0 0.5 0 0.5 -4.3 0.5 0 0.5 0 0.5 4.3 0.5 0 0.5 0 0.5 0 0.5 0 0.5 0 0.5 0 0.5 0 0.5 0 0.5 0 0.5 0 0.5 0 0.5 0 0.5 0 0.5 0 0.5 0 0.5 0 0.5 0 0.5 0 0.5 0 0.5 0 0.5 0 0.5 0 0.5 0 0.5 0 0.5 -4 0.5 0 0.5 0 0.5 4 0.5 0 0.5 0 0.5 0 0.5 0 0.5 0 0.5 0 0.5 0 0.5 0 0.5 0 0.5 0 0.5 0 0.5 0 0.5 0 0.5 0 0.5 0 0.5 -3.5 0.5 0 0.5 0 0.5 3.5 0.5 0 0.5 0 0.5 0 0.5 0 0.5 -2.8 0.5 0 0.5 0 0.5 2.8 0.5 -15.7 0.5 -6.1 0.5 -2.9 0.5 14.2 0.5 -14.7 0.5 -1.2 0.5 2.8 0.5 15.2 0.5 -18.3 0.5 2.9 0.5 -3.1 0.5 -1 0.5 20.8 0.5 -20.9 0.5 3.6 0.5 12.8 0.5 6.7 0.5 -21.6 0.5 15.6 0.5 -16.1 0.5 22.7 0.5 -14 0.5 5.8 0.1 12.5Z" fill="#4d89bd" />
<line x1="134.4" y1="1073.8" x2="2133" y2="1073.8" stroke="#4a86c0" stroke-width="1.5" />
<line x1="134.4" y1="1020.5" x2="134.4" y2="1074.8" stroke="#222" stroke-width="1.2" />
<line x1="130.9" y1="1073.8" x2="134.4" y2="1073.8" stroke="#222" stroke-width="1.2" />
<line x1="130.9" y1="1052.8" x2="134.4" y2="1052.8" stroke="#222" stroke-width="1.2" />
<text x="132.5" y="1081.2" text-anchor="end" >0</text>
<text x="132.5" y="1060.2" text-anchor="end" >5</text>
<line x1="534.1" y1="1074.3" x2="534.1" y2="1077.8" stroke="#222" stroke-width="1.4" />
<line x1="933.8" y1="1074.3" x2="933.8" y2="1077.8" stroke="#222" stroke-width="1.4" />
<line x1="1333.6" y1="1074.3" x2="1333.6" y2="1077.8" stroke="#222" stroke-width="1.4" />
<line x1="1733.3" y1="1074.3" x2="1733.3" y2="1077.8" stroke="#222" stroke-width="1.4" />
<line x1="2133" y1="1074.3" x2="2133" y2="1077.8" stroke="#222" stroke-width="1.4" />
<path d="M134.4 1126.6l0 0 0.5 0 0.5 0 0.5 0 0.5 0 0.5 0 0.5 0 0.5 0 0.5 0 0.5 0 0.5 0 0.5 0 0.5 0 0.5 0 0.5 0 0.5 0 0.5 0 0.5 0 0.5 0 0.5 0 0.5 0 0.5 0 0.5 0 0.5 0 0.5 0 0.5 0 0.5 0 0.5 0 0.5 0 0.5 0 0.5 0 0.5 0 0.5 0 0.5 0 0.5 0 0.5 0 0.5 0 0.5 0 0.5 0 0.5 0 0.5 0 0.5 0 0.5 0 0.5 0 0.5 0 0.5 0 0.5 0 0.5 0 0.5 0 0.5 0 0.5 0 0.5 0 0.5 0 0.5 0 0.5 0 0.5 0 0.5 0 0.5 0 0.5 0 0.5 0 0.5 0 0.5 0 0.5 0 0.5 0 0.5 0 0.5 0 0.5 0 0.5 0 0.5 0 0.5 0 0.5 0 0.5 0 0.5 0 0.5 0 0.5 0 0.5 0 0.5 0 0.5 0 0.5 0 0.5 0 0.5 0 0.5 0 0.5 0 0.5 0 0.5 -4.1 0.5 4.1 0.5 0 0.5 0 0.5 0 0.5 -8.2 0.5 -4.8 0.5 4 0.5 -5.1 0.5 -1.5 0.5 2.4 0.5 -0.5 0.5 2.8 0.5 3.7 0.5 1.1 0.5 0.1 0.5 1.3 0.5 2.1 0.5 2.6 0.5 0 0.5 0 0.5 0 0.5 0 0.5 0 0.5 0 0.5 0 0.5 0 0.5 0 0.5 0 0.5 0 0.5 0 0.5 0 0.5 0 0.5 0 0.5 0 0.5 0 0.5 0 0.5 0 0.5 0 0.5 -6.8 0.5 6.8 0.5 0 0.5 0 0.5 0 0.5 0 0.5 0 0.5 0 0.5 0 0.5 0 0.5 0 0.5 0 0.5 0 0.5 0 0.5 0 0.5 0 0.5 0 0.5 -16.5 0.5 3.5 0.5 -10 0.5 2.7 0.5 5.5 0.5 2.4 0.5 -3.9 0.5 1.2 0.5 3.5 0.5 4.1 0.5 1.3 0.5 6.2 0.5 0 0.5 0 0.5 0 0.5 0 0.5 0 0.5 0 0.5 0 0.5 0 0.5 0 0.5 0 0.5 0 0.5 0 0.5 0 0.5 0 0.5 0 0.5 0 0.5 0 0.5 -4.9 0.5 4.9 0.5 0 0.5 0 0.5 0 0.5 0 0.5 0 0.5 0 0.5 0 0.5 0 0.5 0 0.5 0 0.5 0 0.5 0 0.5 0 0.5 0 0.5 0 0.5 0 0.5 0 0.5 0 0.5 0 0.5 0 0.5 0 0.5 0 0.5 0 0.5 0 0.5 0 0.5 0 0.5 0 0.5 0 0.5 0 0.5 0 0.5 0 0.5 0 0.5 0 0.5 0 0.5 0 0.5 0 0.5 0 0.5 0 0.5 0 0.5 0 0.5 -9.5 0.5 9.5 0.5 0 0.5 0 0.5 0 0.5 0 0.5 0 0.5 0 0.5 0 0.5 0 0.5 0 0.5 0 0.5 0 0.5 0 0.5 0 0.5 0 0.5 0 0.5 0 0.5 0 0.5 0 0.5 0 0.5 0 0.5 0 0.5 0 0.5 0 0.5 0 0.5 -12.5 0.5 -13.1 0.5 2.4 0.5 -1 0.5 7.8 0.5 9 0.5 0.8 0.5 6.6 0.5 0 0.5 0 0.5 0 0.5 0 0.5 0 0.5 0 0.5 0 0.5 0 0.5 0 0.5 0 0.5 0 0.5 0 0.5 0 0.5 0 0.5 0 0.5 0 0.5 0 0.5 0 0.5 0 0.5 0 0.5 0 0.5 0 0.5 0 0.5 0 0.5 0 0.5 0 0.5 0 0.5 0 0.5 0 0.5 0 0.5 0 0.5 0 0.5 0 0.5 0 0.5 0 0.5 0 0.5 0 0.5 0 0.5 0 0.5 0 0.5 0 0.5 0 0.5 0 0.5 0 0.5 0 0.5 0 0.5 0 0.5 0 0.5 0 0.5 0 0.5 0 0.5 0 0.5 0 0.5 0 0.5 0 0.5 0 0.5 0 0.5 0 0.5 0 0.5 0 0.5 -14.9 0.5 -2.2 0.5 -1.6 0.5 -0.5 0.5 6.2 0.5 2 0.5 -3.9 0.5 5.1 0.5 1.4 0.5 3 0.5 5.4 0.5 0 0.5 0 0.5 0 0.5 0 0.5 0 0.5 0 0.5 0 0.5 0 0.5 0 0.5 0 0.5 0 0.5 0 0.5 0 0.5 0 0.5 0 0.5 0 0.5 0 0.5 0 0.5 0 0.5 0 0.5 0 0.5 0 0.5 0 0.5 0 0.5 0 0.5 0 0.5 0 0.5 0 0.5 0 0.5 0 0.5 0 0.5 0 0.5 0 0.5 0 0.5 0 0.5 0 0.5 0 0.5 0 0.5 0 0.5 0 0.5 0 0.5 0 0.5 0 0.5 0 0.5 0 0.5 0 0.5 0 0.5 0 0.5 0 0.5 0 0.5 0 0.5 0 0.5 0 0.5 0 0.5 0 0.5 0 0.5 0 0.5 0 0.5 0 0.5 0 0.5 0 0.5 0 0.5 0 0.5 0 0.5 0 0.5 0 0.5 0 0.5 0 0.5 0 0.5 0 0.5 0 0.5 0 0.5 0 0.5 0 0.5 0 0.5 0 0.5 0 0.5 0 0.5 0 0.5 0 0.5 0 0.5 0 0.5 0 0.5 0 0.5 0 0.5 0 0.5 0 0.5 0 0.5 0 0.5 0 0.5 0 0.5 0 0.5 0 0.5 0 0.5 0 0.5 0 0.5 0 0.5 0 0.5 0 0.5 0 0.5 0 0.5 0 0.5 0 0.5 0 0.5 0 0.5 0 0.5 0 0.5 0 0.5 0 0.5 0 0.5 0 0.5 0 0.5 0 0.5 0 0.5 0 0.5 0 0.5 0 0.5 0 0.5 0 0.5 0 0.5 0 0.5 0 0.5 0 0.5 0 0.5 0 0.5 0 0.5 0 0.5 0 0.5 0 0.5 0 0.5 0 0.5 0 0.5 0 0.5 0 0.5 0 0.5 0 0.5 0 0.5 0 0.5 0 0.5 0 0.5 0 0.5 0 0.5 0 0.5 0 0.5 0 0.5 0 0.5 0 0.5 0 0.5 0 0.5 0 0.5 0 0.5 0 0.5 0 0.5 0 0.5 0 0.5 0 0.5 0 0.5 0 0.5 0 0.5 0 0.5 0 0.5 0 0.5 0 0.5 0 0.5 0 0.5 0 0.5 0 0.5 0 0.5 0 0.5 0 0.5 0 0.5 0 0.5 -15.4 0.5 0.1 0.5 -8.8 0.5 4.1 0.5 0.2 0.5 0.7 0.5 8.4 0.5 1.4 0.5 2.3 0.5 3.2 0.5 3.8 0.5 0 0.5 0 0.5 0 0.5 0 0.5 0 0.5 0 0.5 0 0.5 0 0.5 0 0.5 0 0.5 0 0.5 0 0.5 -3.7 0.5 3.7 0.5 0 0.5 0 0.5 0 0.5 0 0.5 0 0.5 0 0.5 0 0.5 0 0.5 0 0.5 0 0.5 0 0.5 0 0.5 0 0.5 0 0.5 0 0.5 0 0.5 0 0.5 0 0.5 0 0.5 0 0.5 0 0.5 0 0.5 0 0.5 0 0.5 0 0.5 0 0.5 0 0.5 0 0.5 0 0.5 0 0.5 0 0.5 0 0.5 0 0.5 0 0.5 0 0.5 0 0.5 0 0.5 0 0.5 0 0.5 0 0.5 0 0.5 0 0.5 0 0.5 0 0.5 0 0.5 0 0.5 0 0.5 0 0.5 0 0.5 0 0.5 0 0.5 0 0.5 0 0.5 0 0.5 0 0.5 0 0.5 0 0.5 0 0.5 0 0.5 0 0.5 0 0.5 0 0.5 0 0.5 0 0.5 0 0.5 0 0.5 0 0.5 0 0.5 0 0.5 0 0.5 0 0.5 0 0.5 0 0.5 0 0.5 0 0.5 0 0.5 0 0.5 0 0.5 0 0.5 0 0.5 0 0.5 0 0.5 0 0.5 0 0.5 0 0.5 0 0.5 0 0.5 0 0.5 0 0.5 0 0.5 0 0.5 0 0.5 0 0.5 0 0.5 0 0.5 0 0.5 -11.1 0.5 11.1 0.5 0 0.5 0 0.5 0 0.5 0 0.5 0 0.5 0 0.5 0 0.5 0 0.5 0 0.5 0 0.5 0 0.5 0 0.5 0 0.5 0 0.5 0 0.5 0 0.5 0 0.5 0 0.5 0 0.5 0 0.5 0 0.5 0 0.5 0 0.5 0 0.5 0 0.5 0 0.5 0 0.5 0 0.5 0 0.5 0 0.5 0 0.5 0 0.5 0 0.5 0 0.5 0 0.5 0 0.5 0 0.5 0 0.5 0 0.5 0 0.5 0 0.5 0 0.5 0 0.5 0 0.5 0 0.5 0 0.5 0 0.5 0 0.5 0 0.5 0 0.5 0 0.5 0 0.5 0 0.5 0 0.5 0 0.5 0 0.5 0 0.5 0 0.5 0 0.5 0 0.5 0 0.5 0 0.5 0 0.5 -6.6 0.5 6.6 0.5 0 0.5 0 0.5 0 0.5 0 0.5 0 0.5 0 0.5 0 0.5 0 0.5 0 0.5 0 0.5 0 0.5 0 0.5 0 0.5 0 0.5 0 0.5 0 0.5 0 0.5 0 0.5 0 0.5 0 0.5 0 0.5 0 0.5 0 0.5 0 0.5 0 0.5 0 0.5 0 0.5 0 0.5 0 0.5 0 0.5 0 0.5 0 0.5 0 0.5 0 0.5 0 0.5 0 0.5 0 0.5 0 0.5 0 0.5 0 0.5 0 0.5 0 0.5 0 0.5 0 0.5 0 0.5 0 0.5 0 0.5 0 0.5 0 0.5 0 0.5 0 0.5 0 0.5 0 0.5 0 0.5 0 0.5 -16.3 0.5 0 0.5 1.4 0.5 0.4 0.5 3.9 0.5 4.1 0.5 1.4 0.5 5.1 0.5 0 0.5 0 0.5 0 0.5 0 0.5 0 0.5 0 0.5 0 0.5 0 0.5 0 0.5 0 0.5 0 0.5 0 0.5 0 0.5 0 0.5 0 0.5 0 0.5 0 0.5 0 0.5 0 0.5 0 0.5 0 0.5 0 0.5 0 0.5 0 0.5 0 0.5 0 0.5 0 0.5 0 0.5 0 0.5 0 0.5 0 0.5 0 0.5 0 0.5 0 0.5 0 0.5 0 0.5 0 0.5 0 0.5 0 0.5 0 0.5 0 0.5 0 0.5 0 0.5 0 0.5 0 0.5 0 0.5 0 0.5 0 0.5 0 0.5 0 0.5 0 0.5 0 0.5 0 0.5 0 0.5 0 0.5 0 0.5 0 0.5 0 0.5 0 0.5 0 0.5 0 0.5 0 0.5 0 0.5 0 0.5 0 0.5 0 0.5 0 0.5 0 0.5 0 0.5 0 0.5 0 0.5 -9.1 0.5 -8.5 0.5 -1.2 0.5 8.1 0.5 2.6 0.5 -0.6 0.5 5.5 0.5 3.2 0.5 0 0.5 0 0.5 0 0.5 0 0.5 0 0.5 0 0.5 0 0.5 0 0.5 0 0.5 0 0.5 0 0.5 0 0.5 0 0.5 0 0.5 0 0.5 0 0.5 0 0.5 0 0.5 0 0.5 0 0.5 0 0.5 0 0.5 0 0.5 0 0.5 0 0.5 0 0.5 0 0.5 0 0.5 0 0.5 0 0.5 0 0.5 0 0.5 0 0.5 0 0.5 0 0.5 0 0.5 0 0.5 0 0.5 0 0.5 0 0.5 0 0.5 0 0.5 0 0.5 0 0.5 0 0.5 0 0.5 0 0.5 0 0.5 0 0.5 0 0.5 0 0.5 0 0.5 0 0.5 0 0.5 0 0.5 0 0.5 0 0.5 0 0.5 0 0.5 0 0.5 0 0.5 0 0.5 0 0.5 0 0.5 0 0.5 0 0.5 0 0.5 0 0.5 0 0.5 0 0.5 0 0.5 0 0.5 0 0.5 0 0.5 0 0.5 0 0.5 0 0.5 0 0.5 0 0.5 0 0.5 0 0.5 0 0.5 0 0.5 0 0.5 0 0.5 0 0.5 0 0.5 0 0.5 0 0.5 0 0.5 0 0.5 0 0.5 0 0.5 0 0.5 0 0.5 0 0.5 0 0.5 0 0.5 0 0.5 0 0.5 0 0.5 0 0.5 0 0.5 0 0.5 0 0.5 -12.6 0.5 -0.9 0.5 4.6 0.5 -0.5 0.5 -3 0.5 2.3 0.5 -1.5 0.5 -3.2 0.5 5 0.5 -2 0.5 1.5 0.5 2.3 0.5 3.1 0.5 0.1 0.5 0.4 0.5 1.9 0.5 2.5 0.5 0 0.5 0 0.5 0 0.5 0 0.5 0 0.5 0 0.5 0 0.5 0 0.5 0 0.5 0 0.5 0 0.5 0 0.5 0 0.5 0 0.5 0 0.5 0 0.5 0 0.5 0 0.5 0 0.5 0 0.5 0 0.5 0 0.5 0 0.5 0 0.5 0 0.5 0 0.5 0 0.5 0 0.5 0 0.5 0 0.5 0 0.5 0 0.5 0 0.5 0 0.5 0 0.5 0 0.5 0 0.5 0 0.5 0 0.5 0 0.5 0 0.5 0 0.5 0 0.5 0 0.5 0 0.5 0 0.5 0 0.5 0 0.5 0 0.5 0 0.5 0 0.5 -14.6 0.5 -3.7 0.5 -6.9 0.5 4 0.5 11.9 0.5 1.3 0.5 3.2 0.5 4.8 0.5 0 0.5 0 0.5 0 0.5 0 0.5 0 0.5 0 0.5 0 0.5 0 0.5 0 0.5 0 0.5 0 0.5 0 0.5 0 0.5 0 0.5 0 0.5 0 0.5 0 0.5 0 0.5 0 0.5 0 0.5 0 0.5 0 0.5 0 0.5 0 0.5 0 0.5 0 0.5 0 0.5 0 0.5 0 0.5 0 0.5 0 0.5 0 0.5 0 0.5 0 0.5 0 0.5 0 0.5 0 0.5 0 0.5 0 0.5 0 0.5 0 0.5 0 0.5 0 0.5 0 0.5 0 0.5 0 0.5 0 0.5 0 0.5 0 0.5 0 0.5 0 0.5 0 0.5 0 0.5 0 0.5 0 0.5 0 0.5 -8.2 0.5 8.2 0.5 0 0.5 0 0.5 0 0.5 0 0.5 0 0.5 0 0.5 0 0.5 0 0.5 0 0.5 0 0.5 0 0.5 0 0.5 0 0.5 0 0.5 0 0.5 0 0.5 0 0.5 0 0.5 0 0.5 0 0.5 0 0.5 0 0.5 0 0.5 0 0.5 0 0.5 0 0.5 0 0.5 0 0.5 0 0.5 0 0.5 0 0.5 0 0.5 0 0.5 0 0.5 0 0.5 0 0.5 0 0.5 0 0.5 0 0.5 -4 0.5 4 0.5 0 0.5 0 0.5 0 0.5 0 0.5 0 0.5 0 0.5 0 0.5 0 0.5 0 0.5 0 0.5 0 0.5 0 0.5 0 0.5 0 0.5 0 0.5 0 0.5 0 0.5 0 0.5 0 0.5 0 0.5 0 0.5 0 0.5 0 0.5 0 0.5 0 0.5 0 0.5 0 0.5 0 0.5 -10.6 0.5 -2 0.5 -2 0.5 -2.5 0.5 7.2 0.5 -2.9 0.5 5.8 0.5 -0.5 0.5 1.8 0.5 2.4 0.5 3.3 0.5 0 0.5 0 0.5 0 0.5 0 0.5 0 0.5 0 0.5 0 0.5 0 0.5 0 0.5 0 0.5 0 0.5 0 0.5 0 0.5 0 0.5 0 0.5 0 0.5 0 0.5 -8.1 0.5 8.1 0.5 0 0.5 0 0.5 0 0.5 0 0.5 0 0.5 0 0.5 0 0.5 0 0.5 0 0.5 0 0.5 0 0.5 0 0.5 0 0.5 0 0.5 0 0.5 0 0.5 0 0.5 0 0.5 0 0.5 0 0.5 0 0.5 0 0.5 0 0.5 0 0.5 0 0.5 0 0.5 0 0.5 0 0.5 0 0.5 0 0.5 0 0.5 0 0.5 0 0.5 0 0.5 0 0.5 0 0.5 0 0.5 0 0.5 0 0.5 0 0.5 0 0.5 0 0.5 0 0.5 0 0.5 0 0.5 0 0.5 0 0.5 0 0.5 0 0.5 0 0.5 0 0.5 0 0.5 0 0.5 0 0.5 0 0.5 0 0.5 0 0.5 0 0.5 0 0.5 0 0.5 0 0.5 0 0.5 0 0.5 0 0.5 0 0.5 0 0.5 0 0.5 0 0.5 0 0.5 0 0.5 0 0.5 0 0.5 0 0.5 0 0.5 0 0.5 -11 0.5 -12.1 0.5 5.4 0.5 1.9 0.5 -3.5 0.5 8 0.5 -2 0.5 5.9 0.5 2.4 0.5 5 0.5 0 0.5 0 0.5 0 0.5 0 0.5 0 0.5 0 0.5 0 0.5 0 0.5 0 0.5 0 0.5 0 0.5 0 0.5 0 0.5 0 0.5 0 0.5 0 0.5 0 0.5 0 0.5 0 0.5 0 0.5 0 0.5 0 0.5 0 0.5 0 0.5 0 0.5 0 0.5 0 0.5 0 0.5 0 0.5 0 0.5 0 0.5 0 0.5 0 0.5 0 0.5 0 0.5 0 0.5 0 0.5 0 0.5 0 0.5 0 0.5 0 0.5 0 0.5 0 0.5 0 0.5 0 0.5 0 0.5 0 0.5 0 0.5 0 0.5 0 0.5 0 0.5 0 0.5 0 0.5 -7.8 0.5 7.8 0.5 0 0.5 0 0.5 0 0.5 0 0.5 0 0.5 0 0.5 0 0.5 0 0.5 0 0.5 0 0.5 0 0.5 0 0.5 0 0.5 0 0.5 0 0.5 0 0.5 0 0.5 0 0.5 0 0.5 -8 0.5 8 0.5 0 0.5 0 0.5 0 0.5 0 0.5 0 0.5 0 0.5 0 0.5 0 0.5 0 0.5 0 0.5 -14.1 0.5 -3 0.5 -1.6 0.5 3.1 0.5 -4.4 0.5 2.1 0.5 0 0.5 -0.4 0.5 0.9 0.5 4.9 0.5 2.5 0.5 4.3 0.5 0.9 0.5 4.8 0.5 0 0.5 0 0.5 0 0.5 0 0.5 0 0.5 0 0.5 0 0.5 0 0.5 0 0.5 0 0.5 0 0.5 0 0.5 0 0.5 0 0.5 0 0.5 0 0.5 0 0.5 0 0.5 0 0.5 0 0.5 0 0.5 0 0.5 0 0.5 0 0.5 0 0.5 -2.7 0.5 2.7 0.5 0 0.5 0 0.5 0 0.5 0 0.5 0 0.5 0 0.5 0 0.5 0 0.5 0 0.5 0 0.5 0 0.5 0 0.5 0 0.5 0 0.5 0 0.5 0 0.5 0 0.5 0 0.5 0 0.5 0 0.5 0 0.5 0 0.5 0 0.5 0 0.5 0 0.5 0 0.5 0 0.5 0 0.5 0 0.5 0 0.5 0 0.5 -5.6 0.5 5.6 0.5 0 0.5 0 0.5 0 0.5 0 0.5 0 0.5 0 0.5 0 0.5 0 0.5 0 0.5 0 0.5 0 0.5 0 0.5 0 0.5 0 0.5 0 0.5 0 0.5 0 0.5 0 0.5 0 0.5 0 0.5 0 0.5 0 0.5 0 0.5 0 0.5 0 0.5 0 0.5 0 0.5 0 0.5 0 0.5 0 0.5 0 0.5 0 0.5 0 0.5 0 0.5 0 0.5 0 0.5 0 0.5 0 0.5 0 0.5 0 0.5 0 0.5 0 0.5 0 0.5 0 0.5 0 0.5 0 0.5 0 0.5 0 0.5 0 0.5 0 0.5 0 0.5 0 0.5 0 0.5 0 0.5 0 0.5 0 0.5 0 0.5 0 0.5 0 0.5 0 0.5 0 0.5 0 0.5 0 0.5 0 0.5 0 0.5 0 0.5 0 0.5 0 0.5 0 0.5 0 0.5 0 0.5 0 0.5 0 0.5 0 0.5 0 0.5 0 0.5 0 0.5 0 0.5 0 0.5 0 0.5 0 0.5 0 0.5 0 0.5 0 0.5 0 0.5 0 0.5 0 0.5 0 0.5 0 0.5 0 0.5 0 0.5 0 0.5 0 0.5 0 0.5 0 0.5 0 0.5 0 0.5 0 0.5 0 0.5 0 0.5 0 0.5 0 0.5 0 0.5 0 0.5 0 0.5 0 0.5 0 0.5 0 0.5 0 0.5 0 0.5 0 0.5 -3.6 0.5 3.6 0.5 0 0.5 0 0.5 0 0.5 0 0.5 0 0.5 0 0.5 0 0.5 0 0.5 0 0.5 0 0.5 0 0.5 0 0.5 0 0.5 0 0.5 0 0.5 0 0.5 0 0.5 0 0.5 0 0.5 0 0.5 0 0.5 0 0.5 0 0.5 0 0.5 0 0.5 0 0.5 0 0.5 0 0.5 0 0.5 0 0.5 0 0.5 0 0.5 0 0.5 0 0.5 0 0.5 0 0.5 0 0.5 0 0.5 0 0.5 0 0.5 0 0.5 0 0.5 0 0.5 0 0.5 0 0.5 0 0.5 0 0.5 0 0.5 0 0.5 0 0.5 0 0.5 0 0.5 0 0.5 0 0.5 0 0.5 0 0.5 0 0.5 0 0.5 0 0.5 0 0.5 0 0.5 0 0.5 0 0.5 0 0.5 0 0.5 0 0.5 0 0.5 0 0.5 0 0.5 0 0.5 0 0.5 0 0.5 0 0.5 0 0.5 0 0.5 0 0.5 0 0.5 -11 0.5 11 0.5 0 0.5 0 0.5 0 0.5 0 0.5 0 0.5 0 0.5 0 0.5 0 0.5 0 0.5 0 0.5 0 0.5 0 0.5 0 0.5 0 0.5 0 0.5 0 0.5 0 0.5 0 0.5 0 0.5 0 0.5 0 0.5 0 0.5 0 0.5 -6.8 0.5 6.8 0.5 0 0.5 0 0.5 0 0.5 0 0.5 0 0.5 0 0.5 0 0.5 0 0.5 0 0.5 0 0.5 0 0.5 0 0.5 0 0.5 0 0.5 0 0.5 0 0.5 0 0.5 0 0.5 0 0.5 0 0.5 0 0.5 0 0.5 0 0.5 0 0.5 0 0.5 0 0.5 0 0.5 0 0.5 0 0.5 0 0.5 0 0.5 0 0.5 0 0.5 0 0.5 0 0.5 0 0.5 0 0.5 0 0.5 0 0.5 0 0.5 0 0.5 0 0.5 0 0.5 0 0.5 0 0.5 0 0.5 0 0.5 0 0.5 0 0.5 0 0.5 0 0.5 0 0.5 0 0.5 -7.7 0.5 7.7 0.5 0 0.5 0 0.5 0 0.5 0 0.5 0 0.5 0 0.5 0 0.5 0 0.5 0 0.5 0 0.5 0 0.5 0 0.5 0 0.5 0 0.5 0 0.5 0 0.5 0 0.5 0 0.5 0 0.5 0 0.5 0 0.5 0 0.5 0 0.5 0 0.5 0 0.5 0 0.5 0 0.5 0 0.5 0 0.5 0 0.5 0 0.5 0 0.5 0 0.5 0 0.5 0 0.5 0 0.5 0 0.5 0 0.5 0 0.5 0 0.5 0 0.5 0 0.5 0 0.5 0 0.5 0 0.5 0 0.5 0 0.5 0 0.5 0 0.5 0 0.5 0 0.5 0 0.5 0 0.5 0 0.5 0 0.5 0 0.5 0 0.5 0 0.5 0 0.5 0 0.5 0 0.5 0 0.5 0 0.5 0 0.5 0 0.5 0 0.5 0 0.5 0 0.5 0 0.5 0 0.5 0 0.5 0 0.5 0 0.5 0 0.5 0 0.5 0 0.5 0 0.5 0 0.5 0 0.5 0 0.5 0 0.5 0 0.5 0 0.5 -11.2 0.5 -4.9 0.5 -4.9 0.5 1.8 0.5 5.7 0.5 6.3 0.5 1.8 0.5 5.4 0.5 0 0.5 0 0.5 0 0.5 0 0.5 0 0.5 0 0.5 0 0.5 0 0.5 0 0.5 0 0.5 0 0.5 0 0.5 0 0.5 0 0.5 0 0.5 0 0.5 0 0.5 0 0.5 0 0.5 0 0.5 0 0.5 0 0.5 0 0.5 0 0.5 0 0.5 0 0.5 0 0.5 0 0.5 0 0.5 0 0.5 0 0.5 0 0.5 0 0.5 0 0.5 0 0.5 0 0.5 0 0.5 0 0.5 0 0.5 0 0.5 -10.9 0.5 -8.8 0.5 4 0.5 -3.4 0.5 -3.8 0.5 0.2 0.5 0.3 0.5 0 0.5 8.6 0.5 -1.5 0.5 0.1 0.5 6.5 0.5 -2.4 0.5 3.3 0.5 -0.7 0.5 3.6 0.5 4.9 0.5 0 0.5 0 0.5 0 0.5 0 0.5 0 0.5 0 0.5 0 0.5 0 0.5 0 0.5 0 0.5 0 0.5 0 0.5 0 0.5 0 0.5 0 0.5 0 0.5 0 0.5 0 0.5 0 0.5 0 0.5 0 0.5 0 0.5 0 0.5 0 0.5 0 0.5 0 0.5 0 0.5 0 0.5 0 0.5 0 0.5 0 0.5 0 0.5 0 0.5 0 0.5 0 0.5 0 0.5 0 0.5 0 0.5 0 0.5 0 0.5 0 0.5 0 0.5 0 0.5 0 0.5 0 0.5 0 0.5 0 0.5 0 0.5 0 0.5 0 0.5 0 0.5 0 0.5 0 0.5 0 0.5 0 0.5 0 0.5 0 0.5 0 0.5 0 0.5 0 0.5 0 0.5 -13.3 0.5 0.6 0.5 -2.1 0.5 -0.8 0.5 2 0.5 3.2 0.5 2.7 0.5 0.5 0.5 2.7 0.5 4.5 0.5 0 0.5 0 0.5 0 0.5 0 0.5 0 0.5 0 0.5 0 0.5 0 0.5 0 0.5 0 0.5 0 0.5 0 0.5 0 0.5 0 0.5 0 0.5 0 0.5 0 0.5 0 0.5 0 0.5 0 0.5 0 0.5 0 0.5 0 0.5 0 0.5 0 0.5 0 0.5 0 0.5 0 0.5 0 0.5 0 0.5 0 0.5 0 0.5 0 0.5 0 0.5 0 0.5 0 0.5 -8.3 0.5 -2.4 0.5 -2.8 0.5 -0.1 0.5 4.4 0.5 5.1 0.5 1 0.5 3.1 0.5 0 0.5 0 0.5 0 0.5 0 0.5 0 0.5 0 0.5 0 0.5 0 0.5 0 0.5 0 0.5 0 0.5 0 0.5 0 0.5 0 0.5 0 0.5 0 0.5 0 0.5 0 0.5 0 0.5 0 0.5 0 0.5 0 0.5 0 0.5 0 0.5 0 0.5 0 0.5 0 0.5 0 0.5 0 0.5 0 0.5 0 0.5 0 0.5 0 0.5 0 0.5 0 0.5 0 0.5 0 0.5 0 0.5 0 0.5 0 0.5 0 0.5 0 0.5 0 0.5 0 0.5 0 0.5 -11.2 0.5 2.3 0.5 -2.2 0.5 -0.6 0.5 -1.9 0.5 -0.5 0.5 6.1 0.5 0.6 0.5 0.9 0.5 -1.9 0.5 2.9 0.5 0.8 0.5 0.8 0.5 3.9 0.5 0 0.5 0 0.5 0 0.5 0 0.5 -7 0.5 7 0.5 0 0.5 0 0.5 0 0.5 0 0.5 0 0.5 0 0.5 0 0.5 0 0.5 0 0.5 0 0.5 0 0.5 0 0.5 0 0.5 0 0.5 -15.4 0.5 -2.9 0.5 -5.2 0.5 3.3 0.5 10.6 0.5 3.2 0.5 0.7 0.5 5.7 0.5 0 0.5 0 0.5 0 0.5 0 0.5 0 0.5 0 0.5 0 0.5 0 0.5 0 0.5 0 0.5 -8.5 0.5 -3.5 0.5 2.3 0.5 -7.4 0.5 4.6 0.5 -0.5 0.5 1.1 0.5 3.2 0.5 1.6 0.5 2.1 0.5 0.9 0.5 4.1 0.5 0 0.5 0 0.5 0 0.5 0 0.5 0 0.5 0 0.5 0 0.5 0 0.5 0 0.5 0 0.5 0 0.5 0 0.5 0 0.5 0 0.5 0 0.5 0 0.5 0 0.5 0 0.5 0 0.5 0 0.5 0 0.5 0 0.5 0 0.5 0 0.5 0 0.5 0 0.5 0 0.5 0 0.5 0 0.5 0 0.5 0 0.5 0 0.5 0 0.5 0 0.5 0 0.5 0 0.5 0 0.5 0 0.5 0 0.5 0 0.5 0 0.5 0 0.5 -6.7 0.5 6.7 0.5 0 0.5 0 0.5 0 0.5 0 0.5 0 0.5 0 0.5 0 0.5 0 0.5 0 0.5 0 0.5 0 0.5 0 0.5 0 0.5 0 0.5 0 0.5 0 0.5 0 0.5 0 0.5 0 0.5 0 0.5 0 0.5 0 0.5 0 0.5 0 0.5 0 0.5 0 0.5 0 0.5 0 0.5 0 0.5 0 0.5 0 0.5 0 0.5 0 0.5 0 0.5 0 0.5 0 0.5 0 0.5 0 0.5 0 0.5 0 0.5 0 0.5 0 0.5 0 0.5 0 0.5 0 0.5 0 0.5 0 0.5 0 0.5 0 0.5 0 0.5 0 0.5 0 0.5 0 0.5 0 0.5 0 0.5 0 0.5 0 0.5 0 0.5 0 0.5 0 0.5 0 0.5 0 0.5 0 0.5 0 0.5 0 0.5 0 0.5 0 0.5 0 0.5 0 0.5 -6.4 0.5 6.4 0.5 0 0.5 0 0.5 0 0.5 0 0.5 0 0.5 0 0.5 0 0.5 0 0.5 0 0.5 0 0.5 0 0.5 0 0.5 0 0.5 0 0.5 0 0.5 0 0.5 0 0.5 0 0.5 0 0.5 0 0.5 0 0.5 0 0.5 0 0.5 0 0.5 0 0.5 0 0.5 0 0.5 0 0.5 0 0.5 0 0.5 0 0.5 0 0.5 0 0.5 0 0.5 0 0.5 0 0.5 0 0.5 0 0.5 0 0.5 0 0.5 0 0.5 0 0.5 0 0.5 0 0.5 0 0.5 0 0.5 0 0.5 -9.2 0.5 -4.4 0.5 -0.5 0.5 0.6 0.5 2.3 0.5 2.8 0.5 4.2 0.5 4.2 0.5 0 0.5 0 0.5 0 0.5 0 0.5 0 0.5 0 0.5 0 0.5 0 0.5 0 0.5 0 0.5 0 0.5 0 0.5 0 0.5 0 0.5 0 0.5 0 0.5 0 0.5 0 0.5 0 0.5 0 0.5 0 0.5 0 0.5 0 0.5 0 0.5 0 0.5 0 0.5 0 0.5 0 0.5 0 0.5 0 0.5 0 0.5 0 0.5 0 0.5 0 0.5 0 0.5 0 0.5 0 0.5 0 0.5 0 0.5 0 0.5 0 0.5 0 0.5 0 0.5 0 0.5 0 0.5 0 0.5 0 0.5 0 0.5 0 0.5 0 0.5 0 0.5 0 0.5 0 0.5 0 0.5 0 0.5 0 0.5 0 0.5 0 0.5 0 0.5 0 0.5 0 0.5 0 0.5 0 0.5 0 0.5 0 0.5 0 0.5 0 0.5 0 0.5 0 0.5 0 0.5 0 0.5 0 0.5 0 0.5 0 0.5 0 0.5 0 0.5 0 0.5 0 0.5 -9 0.5 9 0.5 0 0.5 0 0.5 0 0.5 0 0.5 0 0.5 0 0.5 0 0.5 0 0.5 0 0.5 0 0.5 0 0.5 0 0.5 0 0.5 0 0.5 0 0.5 0 0.5 0 0.5 0 0.5 0 0.5 0 0.5 0 0.5 0 0.5 0 0.5 0 0.5 0 0.5 0 0.5 0 0.5 0 0.5 0 0.5 0 0.5 0 0.5 0 0.5 0 0.5 0 0.5 0 0.5 0 0.5 0 0.5 0 0.5 0 0.5 0 0.5 0 0.5 0 0.5 0 0.5 0 0.5 0 0.5 0 0.5 0 0.5 0 0.5 0 0.5 0 0.5 0 0.5 0 0.5 0 0.5 0 0.5 0 0.5 0 0.5 0 0.5 0 0.5 0 0.5 0 0.5 0 0.5 0 0.5 0 0.5 0 0.5 0 0.5 0 0.5 0 0.5 0 0.5 0 0.5 0 0.5 0 0.5 0 0.5 0 0.5 0 0.5 0 0.5 0 0.5 0 0.5 0 0.5 0 0.5 0 0.5 0 0.5 0 0.5 0 0.5 0 0.5 0 0.5 -14.8 0.5 -1.2 0.5 -3.3 0.5 -0.8 0.5 10.1 0.5 -0.8 0.5 4 0.5 3.1 0.5 3.7 0.5 0 0.5 0 0.5 0 0.5 0 0.5 0 0.5 -9.6 0.5 0.9 0.5 8.7 0.5 0 0.5 0 0.5 0 0.5 0 0.5 0 0.5 0 0.5 0 0.5 0 0.5 0 0.5 0 0.5 0 0.5 0 0.5 0 0.5 0 0.5 0 0.5 0 0.5 -11.5 0.5 -4 0.5 -1.4 0.5 0.1 0.5 -3.5 0.5 6.6 0.5 -1.2 0.5 3.8 0.5 0.1 0.5 0.7 0.5 3.8 0.5 0.5 0.5 1.9 0.5 0.6 0.5 3.5 0.5 0 0.5 0 0.5 0 0.5 0 0.5 0 0.5 0 0.5 0 0.5 0 0.5 0 0.5 0 0.5 0 0.5 0 0.5 0 0.5 0 0.5 0 0.5 0 0.5 0 0.5 0 0.5 0 0.5 0 0.5 0 0.5 0 0.5 0 0.5 0 0.5 0 0.5 0 0.5 0 0.5 0 0.5 0 0.5 0 0.5 0 0.5 0 0.5 0 0.5 0 0.5 0 0.5 0 0.5 0 0.5 0 0.5 0 0.5 0 0.5 0 0.5 0 0.5 0 0.5 0 0.5 0 0.5 0 0.5 0 0.5 0 0.5 0 0.5 0 0.5 0 0.5 0 0.5 0 0.5 0 0.5 0 0.5 0 0.5 0 0.5 0 0.5 0 0.5 0 0.5 0 0.5 0 0.5 0 0.5 0 0.5 0 0.5 0 0.5 0 0.5 0 0.5 0 0.5 0 0.5 0 0.5 0 0.5 0 0.5 0 0.5 0 0.5 0 0.5 0 0.5 0 0.5 0 0.5 0 0.5 0 0.5 0 0.5 0 0.5 0 0.5 0 0.5 0 0.5 0 0.5 0 0.5 0 0.5 0 0.5 0 0.5 0 0.5 0 0.5 0 0.5 0 0.5 0 0.5 0 0.5 0 0.5 0 0.5 -4.1 0.5 -3.8 0.5 7.9 0.5 0 0.5 0 0.5 0 0.5 0 0.5 0 0.5 0 0.5 0 0.5 0 0.5 0 0.5 0 0.5 0 0.5 0 0.5 0 0.5 0 0.5 0 0.5 0 0.5 0 0.5 0 0.5 0 0.5 0 0.5 0 0.5 0 0.5 0 0.5 0 0.5 0 0.5 0 0.5 0 0.5 0 0.5 0 0.5 0 0.5 0 0.5 0 0.5 0 0.5 0 0.5 0 0.5 0 0.5 0 0.5 0 0.5 0 0.5 0 0.5 -7.7 0.5 7.7 0.5 0 0.5 0 0.5 0 0.5 0 0.5 0 0.5 0 0.5 0 0.5 0 0.5 0 0.5 0 0.5 0 0.5 0 0.5 0 0.5 0 0.5 0 0.5 0 0.5 0 0.5 0 0.5 0 0.5 0 0.5 0 0.5 0 0.5 0 0.5 0 0.5 0 0.5 0 0.5 0 0.5 0 0.5 0 0.5 0 0.5 0 0.5 0 0.5 0 0.5 0 0.5 0 0.5 0 0.5 -4.6 0.5 4.6 0.5 0 0.5 0 0.5 0 0.5 0 0.5 0 0.5 0 0.5 0 0.5 0 0.5 0 0.5 0 0.5 0 0.5 0 0.5 0 0.5 0 0.5 0 0.5 0 0.5 0 0.5 0 0.5 0 0.5 0 0.5 0 0.5 0 0.5 0 0.5 0 0.5 0 0.5 0 0.5 0 0.5 0 0.5 0 0.5 0 0.5 0 0.5 0 0.5 -19 0.5 -4.5 0.5 5.5 0.5 1.7 0.5 -2.9 0.5 7.1 0.5 0.7 0.5 5.2 0.5 0.9 0.5 5.3 0.5 0 0.5 0 0.5 0 0.5 0 0.5 0 0.5 0 0.5 0 0.5 0 0.5 0 0.5 0 0.5 0 0.5 -6.2 0.5 6.2 0.5 0 0.5 0 0.5 0 0.5 0 0.5 -13.8 0.5 -8.9 0.5 1.7 0.5 2.2 0.5 8.1 0.5 2.4 0.5 3.1 0.5 5.2 0.5 0 0.5 0 0.5 0 0.5 0 0.5 0 0.5 0 0.5 0 0.5 0 0.5 0 0.5 0 0.5 0 0.5 0 0.5 0 0.5 0 0.5 0 0.5 0 0.5 0 0.5 0 0.5 0 0.5 0 0.5 0 0.5 0 0.5 0 0.5 0 0.5 0 0.5 0 0.5 0 0.5 0 0.5 0 0.5 0 0.5 0 0.5 0 0.5 0 0.5 0 0.5 0 0.5 0 0.5 0 0.5 0 0.5 0 0.5 0 0.5 0 0.5 0 0.5 0 0.5 0 0.5 0 0.5 0 0.5 0 0.5 0 0.5 0 0.5 0 0.5 0 0.5 0 0.5 0 0.5 0 0.5 0 0.5 0 0.5 0 0.5 0 0.5 0 0.5 0 0.5 0 0.5 0 0.5 0 0.5 0 0.5 0 0.5 0 0.5 0 0.5 0 0.5 0 0.5 0 0.5 0 0.5 0 0.5 0 0.5 0 0.5 0 0.5 0 0.5 0 0.5 0 0.5 0 0.5 0 0.5 0 0.5 0 0.5 0 0.5 0 0.5 0 0.5 0 0.5 0 0.5 0 0.5 0 0.5 0 0.5 0 0.5 0 0.5 0 0.5 0 0.5 0 0.5 0 0.5 0 0.5 0 0.5 0 0.5 0 0.5 0 0.5 0 0.5 0 0.5 0 0.5 0 0.5 0 0.5 0 0.5 0 0.5 0 0.5 0 0.5 0 0.5 0 0.5 0 0.5 0 0.5 0 0.5 0 0.5 0 0.5 0 0.5 0 0.5 0 0.5 0 0.5 0 0.5 0 0.5 0 0.5 -11.3 0.5 -8.4 0.5 -3.7 0.5 7.7 0.5 1.9 0.5 4.3 0.5 4.5 0.5 5 0.5 0 0.5 0 0.5 0 0.5 0 0.5 0 0.5 0 0.5 0 0.5 0 0.5 0 0.5 0 0.5 0 0.5 0 0.5 0 0.5 0 0.5 0 0.5 0 0.5 0 0.5 0 0.5 0 0.5 0 0.5 0 0.5 0 0.5 0 0.5 0 0.5 0 0.5 0 0.5 0 0.5 0 0.5 0 0.5 0 0.5 0 0.5 0 0.5 0 0.5 0 0.5 0 0.5 0 0.5 0 0.5 0 0.5 0 0.5 0 0.5 0 0.5 0 0.5 0 0.5 0 0.5 0 0.5 0 0.5 0 0.5 0 0.5 0 0.5 0 0.5 0 0.5 0 0.5 0 0.5 0 0.5 0 0.5 0 0.5 -12.8 0.5 -8.8 0.5 2 0.5 2.3 0.5 3.5 0.5 2.8 0.5 3.7 0.5 2.9 0.5 4.4 0.5 0 0.5 0 0.5 0 0.5 0 0.5 0 0.5 0 0.5 0 0.5 0 0.5 0 0.5 0 0.5 0 0.5 0 0.5 0 0.5 0 0.5 0 0.5 0 0.5 0 0.5 0 0.5 0 0.5 0 0.5 0 0.5 0 0.5 0 0.5 0 0.5 0 0.5 0 0.5 0 0.5 0 0.5 0 0.5 0 0.5 0 0.5 0 0.5 0 0.5 0 0.5 0 0.5 0 0.5 0 0.5 0 0.5 0 0.5 0 0.5 0 0.5 0 0.5 0 0.5 0 0.5 0 0.5 0 0.5 0 0.5 0 0.5 0 0.5 0 0.5 0 0.5 0 0.5 0 0.5 0 0.5 0 0.5 0 0.5 0 0.5 0 0.5 0 0.5 0 0.5 0 0.5 0 0.5 0 0.5 0 0.5 0 0.5 0 0.5 0 0.5 0 0.5 0 0.5 0 0.5 0 0.5 0 0.5 0 0.5 0 0.5 0 0.5 0 0.5 0 0.5 0 0.5 0 0.5 0 0.5 0 0.5 0 0.5 0 0.5 0 0.5 0 0.5 0 0.5 0 0.5 0 0.5 0 0.5 0 0.5 0 0.5 0 0.5 0 0.5 0 0.5 0 0.5 0 0.5 0 0.5 0 0.5 0 0.5 0 0.5 0 0.5 0 0.5 0 0.5 0 0.5 0 0.5 0 0.5 0 0.5 0 0.5 0 0.5 0 0.5 0 0.5 0 0.5 0 0.5 0 0.5 0 0.5 0 0.5 0 0.5 0 0.5 0 0.5 0 0.5 0 0.5 0 0.5 0 0.5 0 0.5 0 0.5 0 0.5 0 0.5 0 0.5 0 0.5 0 0.5 0 0.5 0 0.5 0 0.5 0 0.5 0 0.5 0 0.5 0 0.5 0 0.5 0 0.5 0 0.5 0 0.5 0 0.5 0 0.5 0 0.5 0 0.5 0 0.5 0 0.5 0 0.5 0 0.5 0 0.5 0 0.5 0 0.5 0 0.5 0 0.5 0 0.5 0 0.5 0 0.5 0 0.5 0 0.5 0 0.5 0 0.5 0 0.5 0 0.5 0 0.5 0 0.5 0 0.5 0 0.5 0 0.5 0 0.5 0 0.5 0 0.5 0 0.5 0 0.5 0 0.5 0 0.5 0 0.5 0 0.5 0 0.5 0 0.5 0 0.5 0 0.5 0 0.5 0 0.5 0 0.5 0 0.5 0 0.5 0 0.5 0 0.5 0 0.5 0 0.5 0 0.5 0 0.5 0 0.5 0 0.5 0 0.5 0 0.5 0 0.5 0 0.5 0 0.5 0 0.5 0 0.5 0 0.5 0 0.5 0 0.5 0 0.5 0 0.5 0 0.5 0 0.5 0 0.5 0 0.5 0 0.5 0 0.5 0 0.5 0 0.5 0 0.5 0 0.5 0 0.5 0 0.5 0 0.5 0 0.5 0 0.5 0 0.5 0 0.5 0 0.5 0 0.5 0 0.5 0 0.5 0 0.5 0 0.5 0 0.5 0 0.5 0 0.5 0 0.5 0 0.5 0 0.5 0 0.5 0 0.5 0 0.5 0 0.5 0 0.5 0 0.5 0 0.5 0 0.5 0 0.5 0 0.5 0 0.5 0 0.5 0 0.5 0 0.5 0 0.5 0 0.5 0 0.5 0 0.5 0 0.5 0 0.5 0 0.5 0 0.5 0 0.5 0 0.5 0 0.5 0 0.5 0 0.5 0 0.5 0 0.5 0 0.5 0 0.5 0 0.5 0 0.5 0 0.5 0 0.5 0 0.5 0 0.5 0 0.5 0 0.5 0 0.5 0 0.5 0 0.5 0 0.5 0 0.5 0 0.5 0 0.5 0 0.5 0 0.5 0 0.5 0 0.5 0 0.5 0 0.5 0 0.5 0 0.5 0 0.5 0 0.5 0 0.5 0 0.5 0 0.5 -6.8 0.5 6.8 0.5 0 0.5 0 0.5 0 0.5 0 0.5 0 0.5 0 0.5 0 0.5 0 0.5 0 0.5 0 0.5 0 0.5 0 0.5 0 0.5 0 0.5 0 0.5 0 0.5 0 0.5 0 0.5 0 0.5 0 0.5 0 0.5 0 0.5 0 0.5 0 0.5 0 0.5 0 0.5 0 0.5 0 0.5 0 0.5 0 0.5 0 0.5 0 0.5 0 0.5 0 0.5 0 0.5 0 0.5 0 0.5 0 0.5 0 0.5 0 0.5 0 0.5 0 0.5 0 0.5 0 0.5 0 0.5 0 0.5 -10.6 0.5 10.6 0.5 0 0.5 0 0.5 0 0.5 0 0.5 0 0.5 0 0.5 0 0.5 0 0.5 0 0.5 0 0.5 0 0.5 0 0.5 0 0.5 0 0.5 0 0.5 0 0.5 0 0.5 0 0.5 0 0.5 0 0.5 0 0.5 0 0.5 0 0.5 0 0.5 0 0.5 0 0.5 0 0.5 0 0.5 0 0.5 0 0.5 0 0.5 0 0.5 0 0.5 0 0.5 0 0.5 0 0.5 0 0.5 0 0.5 0 0.5 0 0.5 0 0.5 0 0.5 0 0.5 0 0.5 0 0.5 0 0.5 0 0.5 0 0.5 0 0.5 0 0.5 0 0.5 0 0.5 0 0.5 0 0.5 0 0.5 0 0.5 0 0.5 0 0.5 0 0.5 0 0.5 0 0.5 0 0.5 0 0.5 0 0.5 0 0.5 0 0.5 0 0.5 0 0.5 0 0.5 0 0.5 0 0.5 0 0.5 0 0.5 0 0.5 0 0.5 0 0.5 0 0.5 0 0.5 0 0.5 0 0.5 0 0.5 0 0.5 0 0.5 0 0.5 0 0.5 0 0.5 0 0.5 0 0.5 0 0.5 0 0.5 0 0.5 0 0.5 0 0.5 0 0.5 0 0.5 0 0.5 0 0.5 0 0.5 0 0.5 0 0.5 0 0.5 0 0.5 0 0.5 0 0.5 -4.1 0.5 4.1 0.5 0 0.5 0 0.5 0 0.5 0 0.5 0 0.5 0 0.5 0 0.5 0 0.5 0 0.5 0 0.5 0 0.5 0 0.5 0 0.5 0 0.5 0 0.5 0 0.5 0 0.5 0 0.5 0 0.5 0 0.5 0 0.5 0 0.5 0 0.5 0 0.5 0 0.5 0 0.5 0 0.5 0 0.5 0 0.5 0 0.5 0 0.5 0 0.5 0 0.5 0 0.5 0 0.5 0 0.5 0 0.5 -13.3 0.5 3.2 0.5 -6.5 0.5 4.6 0.5 -0.2 0.5 5 0.5 4.4 0.5 2.8 0.5 0 0.5 0 0.5 0 0.5 0 0.5 0 0.5 0 0.5 0 0.5 0 0.5 0 0.5 0 0.5 0 0.5 0 0.5 0 0.5 0 0.5 0 0.5 0 0.5 0 0.5 0 0.5 0 0.5 0 0.5 0 0.5 0 0.5 0 0.5 0 0.5 0 0.5 0 0.5 0 0.5 0 0.5 0 0.5 0 0.5 0 0.5 0 0.5 0 0.5 0 0.5 0 0.5 0 0.5 0 0.5 0 0.5 -12 0.5 2 0.5 -7.2 0.5 3.7 0.5 -0.6 0.5 5 0.5 0.6 0.5 2.1 0.5 3.3 0.5 3.1 0.5 0 0.5 0 0.5 0 0.5 0 0.5 0 0.5 0 0.5 0 0.5 0 0.5 0 0.5 0 0.5 0 0.5 0 0.5 0 0.5 0 0.5 0 0.5 0 0.5 0 0.5 0 0.5 0 0.5 0 0.5 0 0.5 0 0.5 0 0.5 0 0.5 0 0.5 0 0.5 0 0.5 0 0.5 0 0.5 0 0.5 0 0.5 0 0.5 0 0.5 0 0.5 0 0.5 0 0.5 0 0.5 0 0.5 0 0.5 0 0.5 0 0.5 0 0.5 0 0.5 0 0.5 0 0.5 0 0.5 0 0.5 0 0.5 0 0.5 0 0.5 0 0.5 0 0.5 0 0.5 0 0.5 0 0.5 0 0.5 -5.1 0.5 5.1 0.5 0 0.5 -16.2 0.5 0.7 0.5 -11.1 0.5 4.9 0.5 4.9 0.5 8.2 0.5 4.6 0.5 4 0.5 0 0.5 0 0.5 0 0.5 0 0.5 0 0.5 0 0.5 0 0.5 0 0.5 0 0.5 0 0.5 0 0.5 0 0.5 0 0.5 0 0.5 0 0.5 0 0.5 0 0.5 0 0.5 0 0.5 0 0.5 0 0.5 0 0.5 0 0.5 0 0.5 0 0.5 0 0.5 0 0.5 0 0.5 0 0.5 0 0.5 0 0.5 0 0.5 0 0.5 0 0.5 0 0.5 0 0.5 0 0.5 0 0.5 0 0.5 0 0.5 0 0.5 0 0.5 0 0.5 0 0.5 0 0.5 0 0.5 0 0.5 -17.1 0.5 -3.6 0.5 2.4 0.5 1.7 0.5 4.1 0.5 5.1 0.5 1 0.5 6.4 0.5 0 0.5 0 0.5 0 0.5 0 0.5 0 0.5 0 0.5 0 0.5 0 0.5 0 0.5 0 0.5 0 0.5 0 0.5 0 0.5 0 0.5 0 0.5 0 0.5 0 0.5 0 0.5 0 0.5 0 0.5 0 0.5 0 0.5 0 0.5 0 0.5 0 0.5 0 0.5 0 0.5 0 0.5 0 0.5 0 0.5 0 0.5 0 0.5 0 0.5 0 0.5 0 0.5 0 0.5 0 0.5 0 0.5 0 0.5 0 0.5 0 0.5 0 0.5 -5.8 0.5 5.8 0.5 0 0.5 0 0.5 0 0.5 0 0.5 0 0.5 0 0.5 0 0.5 0 0.5 0 0.5 0 0.5 0 0.5 0 0.5 0 0.5 0 0.5 0 0.5 0 0.5 0 0.5 0 0.5 0 0.5 0 0.5 0 0.5 0 0.5 0 0.5 0 0.5 0 0.5 0 0.5 0 0.5 0 0.5 0 0.5 0 0.5 0 0.5 0 0.5 0 0.5 0 0.5 0 0.5 0 0.5 0 0.5 0 0.5 0 0.5 0 0.5 0 0.5 0 0.5 0 0.5 0 0.5 0 0.5 0 0.5 0 0.5 0 0.5 0 0.5 0 0.5 0 0.5 0 0.5 0 0.5 0 0.5 0 0.5 0 0.5 0 0.5 0 0.5 0 0.5 0 0.5 0 0.5 0 0.5 0 0.5 0 0.5 0 0.5 0 0.5 0 0.5 0 0.5 0 0.5 0 0.5 0 0.5 0 0.5 0 0.5 0 0.5 0 0.5 0 0.5 0 0.5 0 0.5 0 0.5 0 0.5 0 0.5 0 0.5 0 0.5 0 0.5 0 0.5 0 0.5 0 0.5 0 0.5 0 0.5 0 0.5 0 0.5 0 0.5 0 0.5 0 0.5 0 0.5 0 0.5 0 0.5 0 0.5 0 0.5 -4.8 0.5 4.8 0.5 0 0.5 0 0.5 0 0.5 0 0.5 0 0.5 0 0.5 0 0.5 0 0.5 0 0.5 0 0.5 0 0.5 0 0.5 0 0.5 0 0.5 -12.9 0.5 0.8 0.5 -7.3 0.5 -5.3 0.5 7 0.5 -3.1 0.5 7.2 0.5 -0.8 0.5 3.9 0.5 2.7 0.5 3.7 0.5 4.1 0.5 0 0.5 0 0.5 0 0.5 0 0.5 0 0.5 0 0.5 0 0.5 0 0.5 0 0.5 0 0.5 0 0.5 0 0.5 0 0.5 0 0.5 0 0.5 0 0.5 0 0.5 0 0.5 0 0.5 0 0.5 0 0.5 0 0.5 0 0.5 0 0.5 0 0.5 0 0.5 0 0.5 0 0.5 0 0.5 0 0.5 0 0.5 0 0.5 0 0.5 -17.1 0.5 -1.2 0.5 -3.9 0.5 5.1 0.5 3.9 0.5 3.9 0.5 4.9 0.5 4.4 0.5 0 0.5 0 0.5 0 0.5 0 0.5 0 0.5 0 0.5 0 0.5 0 0.5 0 0.5 0 0.5 0 0.5 0 0.5 0 0.5 0 0.5 0 0.5 0 0.5 0 0.5 0 0.5 0 0.5 0 0.5 0 0.5 0 0.5 0 0.5 0 0.5 0 0.5 0 0.5 0 0.5 0 0.5 0 0.5 0 0.5 0 0.5 0 0.5 0 0.5 0 0.5 0 0.5 0 0.5 0 0.5 0 0.5 0 0.5 0 0.5 0 0.5 0 0.5 0 0.5 0 0.5 0 0.5 0 0.5 0 0.5 0 0.5 0 0.5 0 0.5 0 0.5 0 0.5 0 0.5 0 0.5 0 0.5 0 0.5 0 0.5 0 0.5 0 0.5 0 0.5 0 0.5 0 0.5 0 0.5 0 0.5 0 0.5 0 0.5 0 0.5 0 0.5 0 0.5 0 0.5 0 0.5 0 0.5 0 0.5 0 0.5 0 0.5 0 0.5 0 0.5 0 0.5 0 0.5 0 0.5 0 0.5 0 0.5 0 0.5 0 0.5 0 0.5 0 0.5 0 0.5 0 0.5 0 0.5 0 0.5 0 0.5 0 0.5 0 0.5 0 0.5 0 0.5 0 0.5 0 0.5 0 0.5 0 0.5 0 0.5 0 0.5 0 0.5 0 0.5 0 0.5 0 0.5 0 0.5 0 0.5 0 0.5 0 0.5 -7.3 0.5 7.3 0.5 0 0.5 0 0.5 -9.7 0.5 9.7 0.5 0 0.5 0 0.5 0 0.5 0 0.5 0 0.5 0 0.5 0 0.5 0 0.5 0 0.5 0 0.5 0 0.5 0 0.5 0 0.5 0 0.5 0 0.5 0 0.5 0 0.5 0 0.5 0 0.5 0 0.5 0 0.5 0 0.5 0 0.5 0 0.5 0 0.5 0 0.5 0 0.5 0 0.5 0 0.5 0 0.5 0 0.5 -12.9 0.5 0 0.5 -4.1 0.5 -3.1 0.5 5.6 0.5 5.5 0.5 1.1 0.5 2.1 0.5 5.8 0.5 0 0.5 0 0.5 0 0.5 0 0.5 0 0.5 0 0.5 0 0.5 0 0.5 0 0.5 0 0.5 0 0.5 0 0.5 0 0.5 0 0.5 0 0.5 0 0.5 0 0.5 0 0.5 0 0.5 0 0.5 0 0.5 0 0.5 0 0.5 0 0.5 0 0.5 0 0.5 0 0.5 0 0.5 0 0.5 0 0.5 0 0.5 0 0.5 0 0.5 0 0.5 0 0.5 0 0.5 0 0.5 0 0.5 0 0.5 0 0.5 0 0.5 0 0.5 0 0.5 0 0.5 0 0.5 0 0.5 0 0.5 0 0.5 0 0.5 0 0.5 0 0.5 0 0.5 0 0.5 0 0.5 0 0.5 0 0.5 0 0.5 0 0.5 0 0.5 0 0.5 0 0.5 0 0.5 0 0.5 0 0.5 0 0.5 0 0.5 0 0.5 0 0.5 0 0.5 0 0.5 0 0.5 0 0.5 0 0.5 0 0.5 0 0.5 0 0.5 0 0.5 0 0.5 0 0.5 0 0.5 0 0.5 0 0.5 0 0.5 0 0.5 0 0.5 0 0.5 0 0.5 0 0.5 0 0.5 0 0.5 0 0.5 0 0.1 0Z" fill="#4d89bd" />
<line x1="134.4" y1="1126.6" x2="2133" y2="1126.6" stroke="#4a86c0" stroke-width="1.5" />
<line x1="134.4" y1="1078" x2="134.4" y2="1127.6" stroke="#222" stroke-width="1.2" />
<line x1="130.9" y1="1126.6" x2="134.4" y2="1126.6" stroke="#222" stroke-width="1.2" />
<line x1="130.9" y1="1083" x2="134.4" y2="1083" stroke="#222" stroke-width="1.2" />
<text x="132.5" y="1134" text-anchor="end" >0</text>
<text x="132.5" y="1090.4" text-anchor="end" >5</text>
<line x1="534.1" y1="1127.1" x2="534.1" y2="1130.6" stroke="#222" stroke-width="1.4" />
<line x1="933.8" y1="1127.1" x2="933.8" y2="1130.6" stroke="#222" stroke-width="1.4" />
<line x1="1333.6" y1="1127.1" x2="1333.6" y2="1130.6" stroke="#222" stroke-width="1.4" />
<line x1="1733.3" y1="1127.1" x2="1733.3" y2="1130.6" stroke="#222" stroke-width="1.4" />
<line x1="2133" y1="1127.1" x2="2133" y2="1130.6" stroke="#222" stroke-width="1.4" />
<line x1="134.4" y1="1128.9" x2="2133" y2="1128.9" stroke="#555" stroke-width="1.6" />
<text x="107" y="935" text-anchor="end" fill="#4a87bf" >ORF</text>
<text x="107" y="960" text-anchor="end" fill="#a3a3a3" >f/15680</text>
<text x="107" y="989.2" text-anchor="end" fill="#4a87bf" >(+) ORF</text>
<text x="107" y="1012.8" text-anchor="end" fill="#a3a3a3" >f/11734</text>
<text x="107" y="1045" text-anchor="end" fill="#4a87bf" >(–) ORF</text>
<text x="107" y="1069.8" text-anchor="end" fill="#a3a3a3" >f/24568</text>
<text x="107" y="1100.3" text-anchor="end" fill="#4a87bf" >Intergenic</text>
<text x="107" y="1125" text-anchor="end" fill="#a3a3a3" >f/15481</text>
<line x1="134.4" y1="1147.3" x2="2133" y2="1147.3" stroke="#111" stroke-width="2" />
<path d="M134.4 1138.3 L168.6 1138.3 L178.6 1147.3 L168.6 1156.3 L134.4 1156.3Z" fill="#838383" />
<path d="M187 1138.3 L193.8 1138.3 L203.8 1147.3 L193.8 1156.3 L187 1156.3Z" fill="#838383" />
<path d="M211 1138.3 L244 1138.3 L254 1147.3 L244 1156.3 L211 1156.3Z" fill="#838383" />
<path d="M256.6 1138.3 L264.4 1138.3 L274.4 1147.3 L264.4 1156.3 L256.6 1156.3Z" fill="#838383" />
<path d="M287.3 1138.3 L285.8 1138.3 L275.8 1147.3 L285.8 1156.3 L287.3 1156.3Z" fill="#838383" />
<path d="M315 1138.3 L303.7 1138.3 L293.7 1147.3 L303.7 1156.3 L315 1156.3Z" fill="#838383" />
<path d="M328.4 1138.3 L326 1138.3 L316 1147.3 L326 1156.3 L328.4 1156.3Z" fill="#838383" />
<path d="M378.4 1138.3 L339.4 1138.3 L329.4 1147.3 L339.4 1156.3 L378.4 1156.3Z" fill="#838383" />
<path d="M385 1138.3 L396.8 1138.3 L406.8 1147.3 L396.8 1156.3 L385 1156.3Z" fill="#838383" />
<path d="M406.8 1138.3 L406.8 1138.3 L412.7 1147.3 L406.8 1156.3 L406.8 1156.3Z" fill="#838383" />
<path d="M414 1138.3 L448.4 1138.3 L458.4 1147.3 L448.4 1156.3 L414 1156.3Z" fill="#838383" />
<path d="M459.4 1138.3 L466.2 1138.3 L476.2 1147.3 L466.2 1156.3 L459.4 1156.3Z" fill="#838383" />
<path d="M477.2 1138.3 L477.2 1138.3 L482.8 1147.3 L477.2 1156.3 L477.2 1156.3Z" fill="#838383" />
<path d="M500.2 1138.3 L493.2 1138.3 L483.2 1147.3 L493.2 1156.3 L500.2 1156.3Z" fill="#838383" />
<path d="M539.7 1138.3 L514.4 1138.3 L504.4 1147.3 L514.4 1156.3 L539.7 1156.3Z" fill="#838383" />
<path d="M596.2 1138.3 L553.3 1138.3 L543.3 1147.3 L553.3 1156.3 L596.2 1156.3Z" fill="#838383" />
<path d="M631 1138.3 L618.7 1138.3 L608.7 1147.3 L618.7 1156.3 L631 1156.3Z" fill="#838383" />
<path d="M634.1 1138.3 L643.8 1138.3 L653.8 1147.3 L643.8 1156.3 L634.1 1156.3Z" fill="#838383" />
<path d="M654.4 1138.3 L660.2 1138.3 L670.2 1147.3 L660.2 1156.3 L654.4 1156.3Z" fill="#838383" />
<path d="M671 1138.3 L688.4 1138.3 L698.4 1147.3 L688.4 1156.3 L671 1156.3Z" fill="#838383" />
<path d="M704 1138.3 L711.8 1138.3 L721.8 1147.3 L711.8 1156.3 L704 1156.3Z" fill="#838383" />
<path d="M749.6 1138.3 L732.6 1138.3 L722.6 1147.3 L732.6 1156.3 L749.6 1156.3Z" fill="#838383" />
<path d="M755.4 1138.3 L758.8 1138.3 L768.8 1147.3 L758.8 1156.3 L755.4 1156.3Z" fill="#838383" />
<path d="M769.2 1138.3 L769.2 1138.3 L776.4 1147.3 L769.2 1156.3 L769.2 1156.3Z" fill="#838383" />
<path d="M799.2 1138.3 L787.4 1138.3 L777.4 1147.3 L787.4 1156.3 L799.2 1156.3Z" fill="#838383" />
<path d="M807 1138.3 L832.3 1138.3 L842.3 1147.3 L832.3 1156.3 L807 1156.3Z" fill="#838383" />
<path d="M842.9 1138.3 L849.5 1138.3 L859.5 1147.3 L849.5 1156.3 L842.9 1156.3Z" fill="#838383" />
<path d="M975 1138.3 L984.9 1138.3 L994.9 1147.3 L984.9 1156.3 L975 1156.3Z" fill="#838383" />
<path d="M995.9 1138.3 L1003.8 1138.3 L1013.8 1147.3 L1003.8 1156.3 L995.9 1156.3Z" fill="#838383" />
<path d="M1034.2 1138.3 L1025.8 1138.3 L1015.8 1147.3 L1025.8 1156.3 L1034.2 1156.3Z" fill="#838383" />
<path d="M1052.9 1138.3 L1065.9 1138.3 L1075.9 1147.3 L1065.9 1156.3 L1052.9 1156.3Z" fill="#838383" />
<path d="M1080.8 1138.3 L1080.8 1138.3 L1088.2 1147.3 L1080.8 1156.3 L1080.8 1156.3Z" fill="#838383" />
<path d="M1088.6 1138.3 L1089.1 1138.3 L1099.1 1147.3 L1089.1 1156.3 L1088.6 1156.3Z" fill="#838383" />
<path d="M1102.5 1138.3 L1102.5 1138.3 L1110.4 1147.3 L1102.5 1156.3 L1102.5 1156.3Z" fill="#838383" />
<path d="M1111 1138.3 L1114.9 1138.3 L1124.9 1147.3 L1114.9 1156.3 L1111 1156.3Z" fill="#838383" />
<path d="M1133.4 1138.3 L1133.4 1138.3 L1142.7 1147.3 L1133.4 1156.3 L1133.4 1156.3Z" fill="#838383" />
<path d="M1144.7 1138.3 L1144.7 1138.3 L1152 1147.3 L1144.7 1156.3 L1144.7 1156.3Z" fill="#838383" />
<path d="M1158.6 1138.3 L1229 1138.3 L1239 1147.3 L1229 1156.3 L1158.6 1156.3Z" fill="#838383" />
<path d="M1240.8 1138.3 L1314.2 1138.3 L1324.2 1147.3 L1314.2 1156.3 L1240.8 1156.3Z" fill="#838383" />
<path d="M1329.1 1138.3 L1330 1138.3 L1340 1147.3 L1330 1156.3 L1329.1 1156.3Z" fill="#838383" />
<path d="M1370.8 1138.3 L1359 1138.3 L1349 1147.3 L1359 1156.3 L1370.8 1156.3Z" fill="#838383" />
<path d="M1386.3 1138.3 L1381.8 1138.3 L1371.8 1147.3 L1381.8 1156.3 L1386.3 1156.3Z" fill="#838383" />
<path d="M1390.2 1138.3 L1390.2 1138.3 L1386.7 1147.3 L1390.2 1156.3 L1390.2 1156.3Z" fill="#838383" />
<path d="M1404.9 1138.3 L1400.6 1138.3 L1390.6 1147.3 L1400.6 1156.3 L1404.9 1156.3Z" fill="#838383" />
<path d="M1417.4 1138.3 L1416.1 1138.3 L1406.1 1147.3 L1416.1 1156.3 L1417.4 1156.3Z" fill="#838383" />
<path d="M1455.1 1138.3 L1428.4 1138.3 L1418.4 1147.3 L1428.4 1156.3 L1455.1 1156.3Z" fill="#838383" />
<path d="M1470 1138.3 L1470 1138.3 L1460.5 1147.3 L1470 1156.3 L1470 1156.3Z" fill="#838383" />
<path d="M1471.6 1138.3 L1476.5 1138.3 L1486.5 1147.3 L1476.5 1156.3 L1471.6 1156.3Z" fill="#838383" />
<path d="M1487.9 1138.3 L1498.7 1138.3 L1508.7 1147.3 L1498.7 1156.3 L1487.9 1156.3Z" fill="#838383" />
<path d="M1509.3 1138.3 L1512.6 1138.3 L1522.6 1147.3 L1512.6 1156.3 L1509.3 1156.3Z" fill="#838383" />
<path d="M1523.6 1138.3 L1525.5 1138.3 L1535.5 1147.3 L1525.5 1156.3 L1523.6 1156.3Z" fill="#838383" />
<path d="M1538.9 1138.3 L1538.9 1138.3 L1544.4 1147.3 L1538.9 1156.3 L1538.9 1156.3Z" fill="#838383" />
<path d="M1545 1138.3 L1547.3 1138.3 L1557.3 1147.3 L1547.3 1156.3 L1545 1156.3Z" fill="#838383" />
<path d="M1567.2 1138.3 L1567.2 1138.3 L1557.3 1147.3 L1567.2 1156.3 L1567.2 1156.3Z" fill="#838383" />
<path d="M1572.2 1138.3 L1589 1138.3 L1599 1147.3 L1589 1156.3 L1572.2 1156.3Z" fill="#838383" />
<path d="M1599.8 1138.3 L1615.6 1138.3 L1625.6 1147.3 L1615.6 1156.3 L1599.8 1156.3Z" fill="#838383" />
<path d="M1651.8 1138.3 L1636.6 1138.3 L1626.6 1147.3 L1636.6 1156.3 L1651.8 1156.3Z" fill="#838383" />
<path d="M1683.6 1138.3 L1663 1138.3 L1653 1147.3 L1663 1156.3 L1683.6 1156.3Z" fill="#838383" />
<path d="M1797.8 1138.3 L1797.8 1138.3 L1806.6 1147.3 L1797.8 1156.3 L1797.8 1156.3Z" fill="#838383" />
<path d="M1815.8 1138.3 L1815.8 1138.3 L1807.4 1147.3 L1815.8 1156.3 L1815.8 1156.3Z" fill="#838383" />
<path d="M1818.8 1138.3 L1827.4 1138.3 L1837.4 1147.3 L1827.4 1156.3 L1818.8 1156.3Z" fill="#838383" />
<path d="M1842.9 1138.3 L1863.6 1138.3 L1873.6 1147.3 L1863.6 1156.3 L1842.9 1156.3Z" fill="#838383" />
<path d="M1875.6 1138.3 L1891.1 1138.3 L1901.1 1147.3 L1891.1 1156.3 L1875.6 1156.3Z" fill="#838383" />
<path d="M1905 1138.3 L1929.9 1138.3 L1939.9 1147.3 L1929.9 1156.3 L1905 1156.3Z" fill="#838383" />
<path d="M1983 1138.3 L1949.9 1138.3 L1939.9 1147.3 L1949.9 1156.3 L1983 1156.3Z" fill="#838383" />
<path d="M2005.9 1138.3 L1999.2 1138.3 L1989.2 1147.3 L1999.2 1156.3 L2005.9 1156.3Z" fill="#838383" />
<path d="M2009.8 1138.3 L2072.9 1138.3 L2082.9 1147.3 L2072.9 1156.3 L2009.8 1156.3Z" fill="#838383" />
<path d="M2087.6 1138.3 L2110.5 1138.3 L2120.5 1147.3 L2110.5 1156.3 L2087.6 1156.3Z" fill="#838383" />
<path d="M2133 1138.3 L2131.5 1138.3 L2121.5 1147.3 L2131.5 1156.3 L2133 1156.3Z" fill="#838383" />
<rect x="867" y="1142.3" width="31" height="10" fill="#cfeedd" />
<rect x="906.6" y="1142.3" width="58.2" height="10" fill="#cfeedd" />
<rect x="967.1" y="1142.3" width="1.6" height="10" fill="#cfeedd" />
<rect x="1696" y="1142.3" width="31.2" height="10" fill="#cfeedd" />
<rect x="1734.4" y="1142.3" width="57.9" height="10" fill="#cfeedd" />
<rect x="1794.3" y="1142.3" width="2" height="10" fill="#cfeedd" />
<rect x="900.5" y="1142.8" width="2.5" height="9" fill="#7f55b0" />
<line x1="899.2" y1="1147.3" x2="904.2" y2="1147.3" stroke="#222" stroke-width="1.5" />
<rect x="1041.5" y="1142.8" width="3" height="9" fill="#7f55b0" />
<line x1="1040.5" y1="1147.3" x2="1045.5" y2="1147.3" stroke="#222" stroke-width="1.5" />
<rect x="1046.9" y="1142.8" width="3.2" height="9" fill="#7f55b0" />
<line x1="1046" y1="1147.3" x2="1051" y2="1147.3" stroke="#222" stroke-width="1.5" />
<rect x="1728.5" y="1142.8" width="2.5" height="9" fill="#7f55b0" />
<line x1="1727.3" y1="1147.3" x2="1732.3" y2="1147.3" stroke="#222" stroke-width="1.5" />
<line x1="134.4" y1="1158.9" x2="2133" y2="1158.9" stroke="#555" stroke-width="1.6" />
<line x1="134.4" y1="1158.9" x2="134.4" y2="1168.5" stroke="#333" stroke-width="1.3" />
<text x="135.9" y="1186" text-anchor="middle" >0</text>
<line x1="534.1" y1="1158.9" x2="534.1" y2="1168.5" stroke="#333" stroke-width="1.3" />
<text x="535.6" y="1186" text-anchor="middle" >20000</text>
<line x1="933.8" y1="1158.9" x2="933.8" y2="1168.5" stroke="#333" stroke-width="1.3" />
<text x="935.3" y="1186" text-anchor="middle" >40000</text>
<line x1="1333.6" y1="1158.9" x2="1333.6" y2="1168.5" stroke="#333" stroke-width="1.3" />
<text x="1335.1" y="1186" text-anchor="middle" >60000</text>
<line x1="1733.3" y1="1158.9" x2="1733.3" y2="1168.5" stroke="#333" stroke-width="1.3" />
<text x="1734.8" y="1186" text-anchor="middle" >80000</text>
<line x1="2133" y1="1158.9" x2="2133" y2="1168.5" stroke="#333" stroke-width="1.3" />
<text x="2151" y="1186" text-anchor="end" >100000</text>
<text x="1195.4" y="1205.7" text-anchor="middle" >Position (bp)</text>
<rect x="134" y="1200" width="8.7" height="11" fill="#838383" />
<text x="148.9" y="1211"  >ORF</text>
<rect x="199.7" y="1200" width="8.7" height="11" fill="#7f55b0" />
<text x="213.9" y="1211"  >tRNA</text>
<rect x="269.2" y="1200" width="8.7" height="11" fill="#cfeedd" />
<text x="283.6" y="1211"  >rRNA</text>
<text x="5.6" y="1254.7" font-size="32" font-weight="bold" >f</text>
<text x="45.8" y="1256.1" font-size="24.8" >Prokaryotic organizational features</text>
<rect x="81.1" y="1347" width="214.4" height="194.8" fill="none" stroke="#4a4a4a" stroke-width="1.6" />
<line x1="78.9" y1="1532.5" x2="81.1" y2="1532.5" stroke="#333" stroke-width="1.2" />
<line x1="78.9" y1="1509.3" x2="81.1" y2="1509.3" stroke="#333" stroke-width="1.2" />
<line x1="78.9" y1="1486.1" x2="81.1" y2="1486.1" stroke="#333" stroke-width="1.2" />
<line x1="78.9" y1="1462.9" x2="81.1" y2="1462.9" stroke="#333" stroke-width="1.2" />
<line x1="78.9" y1="1439.7" x2="81.1" y2="1439.7" stroke="#333" stroke-width="1.2" />
<line x1="78.9" y1="1416.5" x2="81.1" y2="1416.5" stroke="#333" stroke-width="1.2" />
<line x1="78.9" y1="1393.3" x2="81.1" y2="1393.3" stroke="#333" stroke-width="1.2" />
<line x1="78.9" y1="1370.1" x2="81.1" y2="1370.1" stroke="#333" stroke-width="1.2" />
<line x1="78.9" y1="1346.9" x2="81.1" y2="1346.9" stroke="#333" stroke-width="1.2" />
<text x="76.8" y="1537.7" text-anchor="end" >0.0</text>
<text x="76.8" y="1491.3" text-anchor="end" >0.2</text>
<text x="76.8" y="1444.9" text-anchor="end" >0.4</text>
<text x="76.8" y="1398.5" text-anchor="end" >0.6</text>
<text x="76.8" y="1352.1" text-anchor="end" >0.8</text>
<text x="37" y="1427.3" text-anchor="middle" transform="rotate(-90 37 1427.3)" >Mean feature activation</text>
<line x1="102.7" y1="1541.8" x2="102.7" y2="1544.8" stroke="#333" stroke-width="1.2" />
<line x1="145.6" y1="1541.8" x2="145.6" y2="1544.8" stroke="#333" stroke-width="1.2" />
<line x1="188.5" y1="1541.8" x2="188.5" y2="1544.8" stroke="#333" stroke-width="1.2" />
<line x1="231.4" y1="1541.8" x2="231.4" y2="1544.8" stroke="#333" stroke-width="1.2" />
<line x1="274.3" y1="1541.8" x2="274.3" y2="1544.8" stroke="#333" stroke-width="1.2" />
<text x="133.1" y="1555.8" font-size="18.2" text-anchor="end" transform="rotate(-45 133.1 1555.8)" >(+) ORF</text>
<text x="173.1" y="1555.8" font-size="18.2" text-anchor="end" transform="rotate(-45 173.1 1555.8)" >(-) ORF</text>
<text x="201.7" y="1555.8" font-size="18.2" text-anchor="end" transform="rotate(-45 201.7 1555.8)" >tRNA</text>
<text x="244.6" y="1555.8" font-size="18.2" text-anchor="end" transform="rotate(-45 244.6 1555.8)" >rRNA</text>
<text x="285.1" y="1555.8" font-size="18.2" text-anchor="end" transform="rotate(-45 285.1 1555.8)" >Intergenic</text>
<text x="188.3" y="1314.5" text-anchor="middle" ><tspan fill="#4a87bf">ORF</tspan> <tspan fill="#a3a3a3">f/13606</tspan></text>
<text x="189.3" y="1341" text-anchor="middle" >AUROC = 0.99</text>
<path d="M103 1532.5 L103 1531 L103 1529.5 L103.1 1528 L103.1 1526.5 L103.2 1524.9 L103.2 1523.4 L103.2 1521.9 L103.2 1520.4 L103.2 1518.9 L103.2 1517.4 L103.2 1515.9 L103.2 1514.4 L103.2 1512.8 L103.2 1511.3 L103.3 1509.8 L103.4 1508.3 L103.7 1506.8 L104 1505.3 L104.5 1503.8 L105.2 1502.3 L106 1500.7 L107.1 1499.2 L108.4 1497.7 L109.9 1496.2 L111.5 1494.7 L113.2 1493.2 L114.9 1491.7 L116.5 1490.2 L118 1488.7 L119.1 1487.1 L119.9 1485.6 L120.2 1484.1 L120.1 1482.6 L119.5 1481.1 L118.5 1479.6 L117.2 1478.1 L115.6 1476.6 L113.9 1475 L112.2 1473.5 L110.6 1472 L109 1470.5 L107.7 1469 L106.5 1467.5 L105.6 1466 L104.9 1464.5 L104.4 1463 L104.2 1461.4 L104 1459.9 L104 1458.4 L104 1456.9 L104 1455.4 L104 1453.9 L104 1452.4 L103.8 1450.9 L103.7 1449.3 L103.5 1447.8 L103.3 1446.3 L103.1 1444.8 L103 1443.3 L103 1441.8 L103 1440.3 L103 1438.8 L103 1437.2 L103 1435.7 L103 1434.2 L103 1432.7 L103 1431.2 L103 1429.7 L103 1428.2 L103 1426.7 L103 1425.2 L103 1423.6 L103 1422.1 L103 1420.6 L103 1419.1 L103 1417.6 L103 1416.1 L103 1414.6 L103 1413.1 L103 1411.5 L103 1410 L103 1408.5 L103 1407 L103 1405.5 L103 1404 L103 1402.5 L103 1401 L103 1399.5 L103 1397.9 L102.3 1397.9 L102.3 1399.5 L102.3 1401 L102.3 1402.5 L102.3 1404 L102.3 1405.5 L102.3 1407 L102.3 1408.5 L102.3 1410 L102.3 1411.5 L102.3 1413.1 L102.3 1414.6 L102.3 1416.1 L102.3 1417.6 L102.3 1419.1 L102.3 1420.6 L102.3 1422.1 L102.3 1423.6 L102.3 1425.2 L102.3 1426.7 L102.3 1428.2 L102.3 1429.7 L102.3 1431.2 L102.3 1432.7 L102.3 1434.2 L102.3 1435.7 L102.3 1437.2 L102.3 1438.8 L102.3 1440.3 L102.3 1441.8 L102.3 1443.3 L102.3 1444.8 L102.1 1446.3 L101.9 1447.8 L101.7 1449.3 L101.6 1450.9 L101.4 1452.4 L101.4 1453.9 L101.4 1455.4 L101.4 1456.9 L101.4 1458.4 L101.4 1459.9 L101.2 1461.4 L101 1463 L100.5 1464.5 L99.8 1466 L98.9 1467.5 L97.7 1469 L96.4 1470.5 L94.8 1472 L93.2 1473.5 L91.5 1475 L89.8 1476.6 L88.2 1478.1 L86.9 1479.6 L85.9 1481.1 L85.3 1482.6 L85.2 1484.1 L85.5 1485.6 L86.3 1487.1 L87.4 1488.7 L88.9 1490.2 L90.5 1491.7 L92.2 1493.2 L93.9 1494.7 L95.5 1496.2 L97 1497.7 L98.3 1499.2 L99.4 1500.7 L100.2 1502.3 L100.9 1503.8 L101.4 1505.3 L101.7 1506.8 L102 1508.3 L102.1 1509.8 L102.2 1511.3 L102.2 1512.8 L102.2 1514.4 L102.2 1515.9 L102.2 1517.4 L102.2 1518.9 L102.2 1520.4 L102.2 1521.9 L102.2 1523.4 L102.2 1524.9 L102.3 1526.5 L102.3 1528 L102.3 1529.5 L102.3 1531 L102.3 1532.5Z" fill="#58b3e5" stroke="#262626" stroke-width="1.15" stroke-linejoin="round"/>
<line x1="102.7" y1="1515.1" x2="102.7" y2="1450.1" stroke="#444" stroke-width="1.1" />
<rect x="100.5" y="1474.5" width="4.4" height="16.2" fill="#3d3d3d" />
<circle cx="102.7" cy="1483.8" r="1.3" fill="#fff"/>
<path d="M145.9 1532.5 L146 1531.2 L146.1 1529.8 L146.2 1528.5 L146.2 1527.2 L146.3 1525.9 L146.4 1524.5 L146.5 1523.2 L146.7 1521.9 L146.8 1520.5 L147.1 1519.2 L147.5 1517.9 L148 1516.5 L148.6 1515.2 L149.3 1513.9 L150.2 1512.6 L151.3 1511.2 L152.5 1509.9 L153.8 1508.6 L155.2 1507.2 L156.6 1505.9 L158.1 1504.6 L159.4 1503.3 L160.6 1501.9 L161.7 1500.6 L162.4 1499.3 L162.9 1497.9 L163.1 1496.6 L163 1495.3 L162.5 1493.9 L161.7 1492.6 L160.7 1491.3 L159.5 1490 L158.2 1488.6 L156.8 1487.3 L155.3 1486 L153.9 1484.6 L152.6 1483.3 L151.4 1482 L150.3 1480.7 L149.3 1479.3 L148.5 1478 L147.9 1476.7 L147.4 1475.3 L147.1 1474 L146.8 1472.7 L146.6 1471.3 L146.5 1470 L146.5 1468.7 L146.5 1467.4 L146.5 1466 L146.5 1464.7 L146.5 1463.4 L146.5 1462 L146.5 1460.7 L146.4 1459.4 L146.3 1458.1 L146.2 1456.7 L146.1 1455.4 L146 1454.1 L145.9 1452.7 L145.9 1451.4 L145.9 1450.1 L145.9 1448.7 L145.9 1447.4 L145.9 1446.1 L145.9 1444.8 L145.9 1443.4 L145.9 1442.1 L145.9 1440.8 L145.9 1439.4 L145.9 1438.1 L145.9 1436.8 L145.9 1435.5 L145.9 1434.1 L145.9 1432.8 L145.9 1431.5 L145.9 1430.1 L145.9 1428.8 L145.9 1427.5 L145.9 1426.1 L145.9 1424.8 L145.9 1423.5 L145.9 1422.2 L145.9 1420.8 L145.9 1419.5 L145.9 1418.2 L145.9 1416.8 L145.9 1415.5 L145.9 1414.2 L145.2 1414.2 L145.2 1415.5 L145.2 1416.8 L145.2 1418.2 L145.2 1419.5 L145.2 1420.8 L145.2 1422.2 L145.2 1423.5 L145.2 1424.8 L145.2 1426.1 L145.2 1427.5 L145.2 1428.8 L145.2 1430.1 L145.2 1431.5 L145.2 1432.8 L145.2 1434.1 L145.2 1435.5 L145.2 1436.8 L145.2 1438.1 L145.2 1439.4 L145.2 1440.8 L145.2 1442.1 L145.2 1443.4 L145.2 1444.8 L145.2 1446.1 L145.2 1447.4 L145.2 1448.7 L145.2 1450.1 L145.2 1451.4 L145.2 1452.7 L145.2 1454.1 L145.1 1455.4 L145 1456.7 L144.9 1458.1 L144.8 1459.4 L144.7 1460.7 L144.7 1462 L144.7 1463.4 L144.7 1464.7 L144.7 1466 L144.7 1467.4 L144.7 1468.7 L144.7 1470 L144.6 1471.3 L144.4 1472.7 L144.1 1474 L143.8 1475.3 L143.3 1476.7 L142.7 1478 L141.9 1479.3 L140.9 1480.7 L139.8 1482 L138.6 1483.3 L137.3 1484.6 L135.9 1486 L134.4 1487.3 L133 1488.6 L131.7 1490 L130.5 1491.3 L129.5 1492.6 L128.7 1493.9 L128.2 1495.3 L128.1 1496.6 L128.3 1497.9 L128.8 1499.3 L129.5 1500.6 L130.6 1501.9 L131.8 1503.3 L133.1 1504.6 L134.6 1505.9 L136 1507.2 L137.4 1508.6 L138.7 1509.9 L139.9 1511.2 L141 1512.6 L141.9 1513.9 L142.6 1515.2 L143.2 1516.5 L143.7 1517.9 L144.1 1519.2 L144.4 1520.5 L144.5 1521.9 L144.7 1523.2 L144.8 1524.5 L144.9 1525.9 L145 1527.2 L145 1528.5 L145.1 1529.8 L145.2 1531.2 L145.2 1532.5Z" fill="#3b80cb" stroke="#262626" stroke-width="1.15" stroke-linejoin="round"/>
<line x1="145.6" y1="1529" x2="145.6" y2="1464.1" stroke="#444" stroke-width="1.1" />
<rect x="143.4" y="1488.4" width="4.4" height="16.2" fill="#3d3d3d" />
<circle cx="145.6" cy="1496.1" r="1.3" fill="#fff"/>
<path d="M200.3 1532.5 L201 1532.4 L201.8 1532.2 L202.4 1532.1 L203.1 1531.9 L203.7 1531.8 L204.2 1531.6 L204.7 1531.5 L205.1 1531.3 L205.5 1531.2 L205.7 1531 L205.9 1530.9 L206 1530.7 L206 1530.6 L205.9 1530.4 L205.7 1530.3 L205.5 1530.1 L205.1 1530 L204.7 1529.8 L204.2 1529.7 L203.7 1529.5 L203.1 1529.4 L202.4 1529.2 L201.7 1529.1 L201 1528.9 L200.3 1528.8 L199.5 1528.6 L198.8 1528.5 L198 1528.3 L197.3 1528.2 L196.6 1528 L195.9 1527.9 L195.2 1527.7 L194.6 1527.6 L194 1527.4 L193.4 1527.3 L192.9 1527.2 L192.4 1527 L191.9 1526.9 L191.5 1526.7 L191.2 1526.6 L190.9 1526.4 L190.6 1526.3 L190.4 1526.1 L190.1 1526 L190 1525.8 L189.8 1525.7 L189.7 1525.5 L189.6 1525.4 L189.6 1525.2 L189.6 1525.1 L189.5 1524.9 L189.6 1524.8 L189.6 1524.6 L189.6 1524.5 L189.7 1524.3 L189.7 1524.2 L189.8 1524 L189.9 1523.9 L190 1523.7 L190.1 1523.6 L190.1 1523.4 L190.2 1523.3 L190.3 1523.1 L190.4 1523 L190.4 1522.8 L190.5 1522.7 L190.5 1522.5 L190.6 1522.4 L190.6 1522.2 L190.6 1522.1 L190.6 1522 L190.6 1521.8 L190.6 1521.7 L190.5 1521.5 L190.5 1521.4 L190.4 1521.2 L190.3 1521.1 L190.2 1520.9 L190.1 1520.8 L190.1 1520.6 L190 1520.5 L189.9 1520.3 L189.7 1520.2 L189.6 1520 L189.5 1519.9 L189.5 1519.7 L189.4 1519.6 L189.3 1519.4 L189.2 1519.3 L187.8 1519.3 L187.7 1519.4 L187.6 1519.6 L187.5 1519.7 L187.5 1519.9 L187.4 1520 L187.3 1520.2 L187.1 1520.3 L187 1520.5 L186.9 1520.6 L186.9 1520.8 L186.8 1520.9 L186.7 1521.1 L186.6 1521.2 L186.5 1521.4 L186.5 1521.5 L186.4 1521.7 L186.4 1521.8 L186.4 1522 L186.4 1522.1 L186.4 1522.2 L186.4 1522.4 L186.5 1522.5 L186.5 1522.7 L186.6 1522.8 L186.6 1523 L186.7 1523.1 L186.8 1523.3 L186.9 1523.4 L186.9 1523.6 L187 1523.7 L187.1 1523.9 L187.2 1524 L187.3 1524.2 L187.3 1524.3 L187.4 1524.5 L187.4 1524.6 L187.4 1524.8 L187.5 1524.9 L187.4 1525.1 L187.4 1525.2 L187.4 1525.4 L187.3 1525.5 L187.2 1525.7 L187 1525.8 L186.9 1526 L186.6 1526.1 L186.4 1526.3 L186.1 1526.4 L185.8 1526.6 L185.5 1526.7 L185.1 1526.9 L184.6 1527 L184.1 1527.2 L183.6 1527.3 L183 1527.4 L182.4 1527.6 L181.8 1527.7 L181.1 1527.9 L180.4 1528 L179.7 1528.2 L179 1528.3 L178.2 1528.5 L177.5 1528.6 L176.7 1528.8 L176 1528.9 L175.3 1529.1 L174.6 1529.2 L173.9 1529.4 L173.3 1529.5 L172.8 1529.7 L172.3 1529.8 L171.9 1530 L171.5 1530.1 L171.3 1530.3 L171.1 1530.4 L171 1530.6 L171 1530.7 L171.1 1530.9 L171.3 1531 L171.5 1531.2 L171.9 1531.3 L172.3 1531.5 L172.8 1531.6 L173.3 1531.8 L173.9 1531.9 L174.6 1532.1 L175.2 1532.2 L176 1532.4 L176.7 1532.5Z" fill="#b4a8e1" stroke="#262626" stroke-width="1.15" stroke-linejoin="round"/>
<line x1="188.5" y1="1532.5" x2="188.5" y2="1519.3" stroke="#444" stroke-width="1.1" />
<rect x="186.3" y="1526.7" width="4.4" height="5.8" fill="#3d3d3d" />
<circle cx="188.5" cy="1530.2" r="1.3" fill="#fff"/>
<path d="M246.4 1532.5 L245.6 1532.4 L245.8 1532.3 L246 1532.3 L246.2 1532.2 L246.4 1532.1 L246.6 1532 L246.8 1532 L246.9 1531.9 L247.1 1531.8 L247.3 1531.7 L247.4 1531.6 L247.6 1531.6 L247.7 1531.5 L247.8 1531.4 L248 1531.3 L248.1 1531.2 L248.2 1531.2 L248.3 1531.1 L248.4 1531 L248.5 1530.9 L248.6 1530.9 L248.6 1530.8 L248.7 1530.7 L248.8 1530.6 L248.8 1530.5 L248.8 1530.5 L248.9 1530.4 L248.9 1530.3 L248.9 1530.2 L248.9 1530.2 L248.9 1530.1 L248.9 1530 L248.9 1529.9 L248.8 1529.8 L248.8 1529.8 L248.7 1529.7 L248.7 1529.6 L248.6 1529.5 L248.5 1529.5 L248.4 1529.4 L248.3 1529.3 L248.2 1529.2 L248.1 1529.1 L248 1529.1 L247.9 1529 L247.8 1528.9 L247.6 1528.8 L247.5 1528.7 L247.3 1528.7 L247.2 1528.6 L247 1528.5 L246.8 1528.4 L246.7 1528.4 L246.5 1528.3 L246.3 1528.2 L246.1 1528.1 L245.9 1528 L245.7 1528 L245.5 1527.9 L245.3 1527.8 L245.1 1527.7 L244.8 1527.7 L244.6 1527.6 L244.4 1527.5 L244.2 1527.4 L243.9 1527.3 L243.7 1527.3 L243.5 1527.2 L243.2 1527.1 L243 1527 L242.8 1526.9 L242.5 1526.9 L242.3 1526.8 L242.1 1526.7 L241.8 1526.6 L241.6 1526.6 L241.3 1526.5 L241.1 1526.4 L240.9 1526.3 L240.6 1526.2 L240.4 1526.2 L240.2 1526.1 L239.9 1526 L239.7 1525.9 L239.5 1525.9 L239.3 1525.8 L239 1525.7 L238.8 1525.6 L238.6 1525.5 L224.2 1525.5 L224 1525.6 L223.8 1525.7 L223.5 1525.8 L223.3 1525.9 L223.1 1525.9 L222.9 1526 L222.6 1526.1 L222.4 1526.2 L222.2 1526.2 L221.9 1526.3 L221.7 1526.4 L221.5 1526.5 L221.2 1526.6 L221 1526.6 L220.7 1526.7 L220.5 1526.8 L220.3 1526.9 L220 1526.9 L219.8 1527 L219.6 1527.1 L219.3 1527.2 L219.1 1527.3 L218.9 1527.3 L218.6 1527.4 L218.4 1527.5 L218.2 1527.6 L218 1527.7 L217.7 1527.7 L217.5 1527.8 L217.3 1527.9 L217.1 1528 L216.9 1528 L216.7 1528.1 L216.5 1528.2 L216.3 1528.3 L216.1 1528.4 L216 1528.4 L215.8 1528.5 L215.6 1528.6 L215.5 1528.7 L215.3 1528.7 L215.2 1528.8 L215 1528.9 L214.9 1529 L214.8 1529.1 L214.7 1529.1 L214.6 1529.2 L214.5 1529.3 L214.4 1529.4 L214.3 1529.5 L214.2 1529.5 L214.1 1529.6 L214.1 1529.7 L214 1529.8 L214 1529.8 L213.9 1529.9 L213.9 1530 L213.9 1530.1 L213.9 1530.2 L213.9 1530.2 L213.9 1530.3 L213.9 1530.4 L214 1530.5 L214 1530.5 L214 1530.6 L214.1 1530.7 L214.2 1530.8 L214.2 1530.9 L214.3 1530.9 L214.4 1531 L214.5 1531.1 L214.6 1531.2 L214.7 1531.2 L214.8 1531.3 L215 1531.4 L215.1 1531.5 L215.2 1531.6 L215.4 1531.6 L215.5 1531.7 L215.7 1531.8 L215.9 1531.9 L216 1532 L216.2 1532 L216.4 1532.1 L216.6 1532.2 L216.8 1532.3 L217 1532.3 L217.2 1532.4 L216.4 1532.5Z" fill="#84d9cb" stroke="#262626" stroke-width="1.15" stroke-linejoin="round"/>
<line x1="231.4" y1="1532.5" x2="231.4" y2="1525.5" stroke="#444" stroke-width="1.1" />
<rect x="229.2" y="1527.9" width="4.4" height="3.7" fill="#3d3d3d" />
<circle cx="231.4" cy="1529.7" r="1.3" fill="#fff"/>
<path d="M291.7 1532.5 L291.8 1530.5 L285.5 1528.5 L279.8 1526.5 L277.5 1524.5 L276.9 1522.5 L276.7 1520.5 L276.4 1518.4 L276 1516.4 L275.6 1514.4 L275.3 1512.4 L275 1510.4 L274.8 1508.4 L274.7 1506.4 L274.7 1504.4 L274.7 1502.4 L274.7 1500.4 L274.6 1498.4 L274.6 1496.4 L274.6 1494.4 L274.6 1492.4 L274.6 1490.3 L274.6 1488.3 L274.6 1486.3 L274.6 1484.3 L274.6 1482.3 L274.6 1480.3 L274.6 1478.3 L274.6 1476.3 L274.6 1474.3 L274.6 1472.3 L274.6 1470.3 L274.6 1468.3 L274.6 1466.3 L274.6 1464.3 L274.6 1462.2 L274.6 1460.2 L274.6 1458.2 L274.6 1456.2 L274.6 1454.2 L274.6 1452.2 L274.6 1450.2 L274.6 1448.2 L274.6 1446.2 L274.6 1444.2 L274.6 1442.2 L274.6 1440.2 L274.6 1438.2 L274.6 1436.2 L274.6 1434.1 L274.6 1432.1 L274.6 1430.1 L274.6 1428.1 L274.6 1426.1 L274.6 1424.1 L274.6 1422.1 L274.6 1420.1 L274.6 1418.1 L274.6 1416.1 L274.6 1414.1 L274.6 1412.1 L274.6 1410.1 L274.6 1408.1 L274.6 1406 L274.6 1404 L274.6 1402 L274.6 1400 L274.6 1398 L274.6 1396 L274.6 1394 L274.6 1392 L274.6 1390 L274.6 1388 L274.6 1386 L274.6 1384 L274.6 1382 L274.6 1380 L274.6 1377.9 L274.6 1375.9 L274.6 1373.9 L274.6 1371.9 L274.6 1369.9 L274.6 1367.9 L274.6 1365.9 L274.6 1363.9 L274.6 1361.9 L274.6 1359.9 L274.6 1357.9 L274.6 1355.9 L274.6 1353.9 L273.9 1353.9 L273.9 1355.9 L273.9 1357.9 L273.9 1359.9 L273.9 1361.9 L273.9 1363.9 L273.9 1365.9 L273.9 1367.9 L273.9 1369.9 L273.9 1371.9 L273.9 1373.9 L273.9 1375.9 L273.9 1377.9 L273.9 1380 L273.9 1382 L273.9 1384 L273.9 1386 L273.9 1388 L273.9 1390 L273.9 1392 L273.9 1394 L273.9 1396 L273.9 1398 L273.9 1400 L273.9 1402 L273.9 1404 L273.9 1406 L273.9 1408.1 L273.9 1410.1 L273.9 1412.1 L273.9 1414.1 L273.9 1416.1 L273.9 1418.1 L273.9 1420.1 L273.9 1422.1 L273.9 1424.1 L273.9 1426.1 L273.9 1428.1 L273.9 1430.1 L273.9 1432.1 L273.9 1434.1 L273.9 1436.2 L273.9 1438.2 L273.9 1440.2 L273.9 1442.2 L273.9 1444.2 L273.9 1446.2 L273.9 1448.2 L273.9 1450.2 L273.9 1452.2 L273.9 1454.2 L273.9 1456.2 L273.9 1458.2 L273.9 1460.2 L273.9 1462.2 L273.9 1464.3 L273.9 1466.3 L273.9 1468.3 L273.9 1470.3 L273.9 1472.3 L273.9 1474.3 L273.9 1476.3 L273.9 1478.3 L273.9 1480.3 L273.9 1482.3 L273.9 1484.3 L273.9 1486.3 L273.9 1488.3 L273.9 1490.3 L273.9 1492.4 L273.9 1494.4 L273.9 1496.4 L273.9 1498.4 L273.9 1500.4 L273.9 1502.4 L273.9 1504.4 L273.9 1506.4 L273.8 1508.4 L273.6 1510.4 L273.3 1512.4 L273 1514.4 L272.6 1516.4 L272.2 1518.4 L271.9 1520.5 L271.7 1522.5 L271.1 1524.5 L268.8 1526.5 L263.1 1528.5 L256.8 1530.5 L256.9 1532.5Z" fill="#cfe3f2" stroke="#262626" stroke-width="1.15" stroke-linejoin="round"/>
<line x1="274.3" y1="1532.5" x2="274.3" y2="1506.4" stroke="#444" stroke-width="1.1" />
<rect x="272.1" y="1522.1" width="4.4" height="10.4" fill="#3d3d3d" />
<circle cx="274.3" cy="1529" r="1.3" fill="#fff"/>
<rect x="359" y="1347" width="214.5" height="194.8" fill="none" stroke="#4a4a4a" stroke-width="1.6" />
<line x1="356.8" y1="1532.5" x2="359" y2="1532.5" stroke="#333" stroke-width="1.2" />
<line x1="356.8" y1="1499.6" x2="359" y2="1499.6" stroke="#333" stroke-width="1.2" />
<line x1="356.8" y1="1466.7" x2="359" y2="1466.7" stroke="#333" stroke-width="1.2" />
<line x1="356.8" y1="1433.8" x2="359" y2="1433.8" stroke="#333" stroke-width="1.2" />
<line x1="356.8" y1="1400.9" x2="359" y2="1400.9" stroke="#333" stroke-width="1.2" />
<line x1="356.8" y1="1368" x2="359" y2="1368" stroke="#333" stroke-width="1.2" />
<text x="354.7" y="1537.7" text-anchor="end" >0.0</text>
<text x="354.7" y="1471.9" text-anchor="end" >0.2</text>
<text x="354.7" y="1406.1" text-anchor="end" >0.4</text>
<text x="320" y="1431.6" text-anchor="middle" transform="rotate(-90 320 1431.6)" >Mean feature activation</text>
<line x1="380.6" y1="1541.8" x2="380.6" y2="1544.8" stroke="#333" stroke-width="1.2" />
<line x1="423.5" y1="1541.8" x2="423.5" y2="1544.8" stroke="#333" stroke-width="1.2" />
<line x1="466.4" y1="1541.8" x2="466.4" y2="1544.8" stroke="#333" stroke-width="1.2" />
<line x1="509.3" y1="1541.8" x2="509.3" y2="1544.8" stroke="#333" stroke-width="1.2" />
<line x1="552.2" y1="1541.8" x2="552.2" y2="1544.8" stroke="#333" stroke-width="1.2" />
<text x="411" y="1555.8" font-size="18.2" text-anchor="end" transform="rotate(-45 411 1555.8)" >(+) ORF</text>
<text x="451" y="1555.8" font-size="18.2" text-anchor="end" transform="rotate(-45 451 1555.8)" >(-) ORF</text>
<text x="479.6" y="1555.8" font-size="18.2" text-anchor="end" transform="rotate(-45 479.6 1555.8)" >tRNA</text>
<text x="522.5" y="1555.8" font-size="18.2" text-anchor="end" transform="rotate(-45 522.5 1555.8)" >rRNA</text>
<text x="563" y="1555.8" font-size="18.2" text-anchor="end" transform="rotate(-45 563 1555.8)" >Intergenic</text>
<text x="466.2" y="1314.5" text-anchor="middle" ><tspan fill="#4a87bf">(+) ORF</tspan> <tspan fill="#a3a3a3">f/11734</tspan></text>
<text x="467.2" y="1341" text-anchor="middle" >AUROC = 0.87</text>
<path d="M381 1532.5 L381 1530.7 L381 1529 L381.1 1527.2 L381.1 1525.4 L381.2 1523.6 L381.2 1521.9 L381.3 1520.1 L381.3 1518.3 L381.3 1516.5 L381.3 1514.8 L381.3 1513 L381.3 1511.2 L381.3 1509.4 L381.3 1507.7 L381.2 1505.9 L381.2 1504.1 L381.2 1502.3 L381.2 1500.6 L381.3 1498.8 L381.4 1497 L381.5 1495.2 L381.7 1493.5 L381.9 1491.7 L382.2 1489.9 L382.6 1488.1 L383 1486.4 L383.6 1484.6 L384.2 1482.8 L385 1481 L385.8 1479.3 L386.7 1477.5 L387.7 1475.7 L388.7 1473.9 L389.8 1472.2 L391 1470.4 L392.1 1468.6 L393.2 1466.8 L394.3 1465.1 L395.3 1463.3 L396.2 1461.5 L396.9 1459.8 L397.5 1458 L397.9 1456.2 L398.1 1454.4 L398.1 1452.7 L397.9 1450.9 L397.5 1449.1 L396.9 1447.3 L396.2 1445.6 L395.3 1443.8 L394.3 1442 L393.2 1440.2 L392.1 1438.5 L391 1436.7 L389.9 1434.9 L388.8 1433.1 L387.7 1431.4 L386.8 1429.6 L385.9 1427.8 L385.1 1426 L384.5 1424.3 L383.9 1422.5 L383.5 1420.7 L383.1 1418.9 L382.9 1417.2 L382.7 1415.4 L382.5 1413.6 L382.4 1411.8 L382.3 1410.1 L382.2 1408.3 L382.1 1406.5 L382 1404.7 L381.9 1403 L381.7 1401.2 L381.6 1399.4 L381.4 1397.6 L381.3 1395.9 L381.1 1394.1 L381 1392.3 L381 1390.5 L381 1388.8 L381 1387 L381 1385.2 L381 1383.5 L381 1381.7 L381 1379.9 L381 1378.1 L381 1376.4 L381 1374.6 L380.2 1374.6 L380.2 1376.4 L380.2 1378.1 L380.2 1379.9 L380.2 1381.7 L380.2 1383.5 L380.2 1385.2 L380.2 1387 L380.2 1388.8 L380.2 1390.5 L380.2 1392.3 L380.1 1394.1 L379.9 1395.9 L379.8 1397.6 L379.6 1399.4 L379.5 1401.2 L379.3 1403 L379.2 1404.7 L379.1 1406.5 L379 1408.3 L378.9 1410.1 L378.8 1411.8 L378.7 1413.6 L378.5 1415.4 L378.3 1417.2 L378.1 1418.9 L377.7 1420.7 L377.3 1422.5 L376.7 1424.3 L376.1 1426 L375.3 1427.8 L374.4 1429.6 L373.5 1431.4 L372.4 1433.1 L371.3 1434.9 L370.2 1436.7 L369.1 1438.5 L368 1440.2 L366.9 1442 L365.9 1443.8 L365 1445.6 L364.3 1447.3 L363.7 1449.1 L363.3 1450.9 L363.1 1452.7 L363.1 1454.4 L363.3 1456.2 L363.7 1458 L364.3 1459.8 L365 1461.5 L365.9 1463.3 L366.9 1465.1 L368 1466.8 L369.1 1468.6 L370.2 1470.4 L371.4 1472.2 L372.5 1473.9 L373.5 1475.7 L374.5 1477.5 L375.4 1479.3 L376.2 1481 L377 1482.8 L377.6 1484.6 L378.2 1486.4 L378.6 1488.1 L379 1489.9 L379.3 1491.7 L379.5 1493.5 L379.7 1495.2 L379.8 1497 L379.9 1498.8 L380 1500.6 L380 1502.3 L380 1504.1 L380 1505.9 L379.9 1507.7 L379.9 1509.4 L379.9 1511.2 L379.9 1513 L379.9 1514.8 L379.9 1516.5 L379.9 1518.3 L379.9 1520.1 L380 1521.9 L380 1523.6 L380.1 1525.4 L380.1 1527.2 L380.2 1529 L380.2 1530.7 L380.2 1532.5Z" fill="#58b3e5" stroke="#262626" stroke-width="1.15" stroke-linejoin="round"/>
<line x1="380.6" y1="1506.2" x2="380.6" y2="1400.9" stroke="#444" stroke-width="1.1" />
<rect x="378.4" y="1440.4" width="4.4" height="26.3" fill="#3d3d3d" />
<circle cx="380.6" cy="1453.5" r="1.3" fill="#fff"/>
<path d="M436.3 1532.5 L438.2 1531.9 L439.6 1531.4 L440.4 1530.8 L440.5 1530.2 L439.8 1529.6 L438.5 1529.1 L436.8 1528.5 L434.8 1527.9 L432.8 1527.3 L430.9 1526.8 L429.3 1526.2 L428.1 1525.6 L427.2 1525.1 L426.5 1524.5 L426.1 1523.9 L425.8 1523.3 L425.6 1522.8 L425.5 1522.2 L425.5 1521.6 L425.4 1521 L425.3 1520.5 L425.3 1519.9 L425.2 1519.3 L425.1 1518.7 L425 1518.2 L424.9 1517.6 L424.8 1517 L424.7 1516.5 L424.6 1515.9 L424.5 1515.3 L424.4 1514.7 L424.3 1514.2 L424.3 1513.6 L424.2 1513 L424.1 1512.4 L424 1511.9 L423.9 1511.3 L423.9 1510.7 L423.9 1510.2 L423.9 1509.6 L423.9 1509 L423.9 1508.4 L423.9 1507.9 L423.9 1507.3 L423.9 1506.7 L423.9 1506.1 L423.9 1505.6 L423.9 1505 L423.9 1504.4 L423.9 1503.9 L423.9 1503.3 L423.9 1502.7 L423.9 1502.1 L423.9 1501.6 L423.9 1501 L423.9 1500.4 L423.9 1499.8 L423.9 1499.3 L423.9 1498.7 L423.9 1498.1 L423.9 1497.5 L423.9 1497 L423.9 1496.4 L423.9 1495.8 L423.9 1495.3 L423.9 1494.7 L423.9 1494.1 L423.9 1493.5 L423.9 1493 L423.9 1492.4 L423.9 1491.8 L423.9 1491.2 L423.9 1490.7 L423.9 1490.1 L423.9 1489.5 L423.9 1489 L423.9 1488.4 L423.9 1487.8 L423.9 1487.2 L423.9 1486.7 L423.9 1486.1 L423.9 1485.5 L423.9 1484.9 L423.9 1484.4 L423.9 1483.8 L423.9 1483.2 L423.9 1482.7 L423.9 1482.1 L423.9 1481.5 L423.1 1481.5 L423.1 1482.1 L423.1 1482.7 L423.1 1483.2 L423.1 1483.8 L423.1 1484.4 L423.1 1484.9 L423.1 1485.5 L423.1 1486.1 L423.1 1486.7 L423.1 1487.2 L423.1 1487.8 L423.1 1488.4 L423.1 1489 L423.1 1489.5 L423.1 1490.1 L423.1 1490.7 L423.1 1491.2 L423.1 1491.8 L423.1 1492.4 L423.1 1493 L423.1 1493.5 L423.1 1494.1 L423.1 1494.7 L423.1 1495.3 L423.1 1495.8 L423.1 1496.4 L423.1 1497 L423.1 1497.5 L423.1 1498.1 L423.1 1498.7 L423.1 1499.3 L423.1 1499.8 L423.1 1500.4 L423.1 1501 L423.1 1501.6 L423.1 1502.1 L423.1 1502.7 L423.1 1503.3 L423.1 1503.9 L423.1 1504.4 L423.1 1505 L423.1 1505.6 L423.1 1506.1 L423.1 1506.7 L423.1 1507.3 L423.1 1507.9 L423.1 1508.4 L423.1 1509 L423.1 1509.6 L423.1 1510.2 L423.1 1510.7 L423.1 1511.3 L423 1511.9 L422.9 1512.4 L422.8 1513 L422.7 1513.6 L422.7 1514.2 L422.6 1514.7 L422.5 1515.3 L422.4 1515.9 L422.3 1516.5 L422.2 1517 L422.1 1517.6 L422 1518.2 L421.9 1518.7 L421.8 1519.3 L421.7 1519.9 L421.7 1520.5 L421.6 1521 L421.5 1521.6 L421.5 1522.2 L421.4 1522.8 L421.2 1523.3 L420.9 1523.9 L420.5 1524.5 L419.8 1525.1 L418.9 1525.6 L417.7 1526.2 L416.1 1526.8 L414.2 1527.3 L412.2 1527.9 L410.2 1528.5 L408.5 1529.1 L407.2 1529.6 L406.5 1530.2 L406.6 1530.8 L407.4 1531.4 L408.8 1531.9 L410.7 1532.5Z" fill="#3b80cb" stroke="#262626" stroke-width="1.15" stroke-linejoin="round"/>
<line x1="423.5" y1="1532.5" x2="423.5" y2="1520.2" stroke="#444" stroke-width="1.1" />
<rect x="421.3" y="1527.6" width="4.4" height="4.9" fill="#3d3d3d" />
<circle cx="423.5" cy="1529.9" r="1.3" fill="#fff"/>
<path d="M483.4 1532.5 L483.4 1532.5 L483.2 1532.4 L483.1 1532.4 L482.8 1532.3 L482.5 1532.3 L482.1 1532.2 L481.6 1532.2 L481.1 1532.1 L480.5 1532.1 L479.9 1532.1 L479.3 1532 L478.7 1532 L478 1531.9 L477.3 1531.9 L476.6 1531.8 L475.9 1531.8 L475.2 1531.7 L474.5 1531.7 L473.9 1531.7 L473.2 1531.6 L472.6 1531.6 L472.1 1531.5 L471.5 1531.5 L471 1531.4 L470.5 1531.4 L470.1 1531.3 L469.6 1531.3 L469.3 1531.3 L468.9 1531.2 L468.6 1531.2 L468.3 1531.1 L468.1 1531.1 L467.8 1531 L467.6 1531 L467.5 1530.9 L467.3 1530.9 L467.2 1530.9 L467 1530.8 L466.9 1530.8 L466.8 1530.7 L466.8 1530.7 L466.8 1530.6 L466.8 1530.6 L466.8 1530.5 L466.8 1530.5 L466.8 1530.5 L466.8 1530.4 L466.8 1530.4 L466.8 1530.3 L466.8 1530.3 L466.8 1530.2 L466.8 1530.2 L466.8 1530.1 L466.8 1530.1 L466.8 1530.1 L466.8 1530 L466.8 1530 L466.8 1529.9 L466.8 1529.9 L466.8 1529.8 L466.8 1529.8 L466.8 1529.7 L466.8 1529.7 L466.8 1529.7 L466.8 1529.6 L466.8 1529.6 L466.8 1529.5 L466.8 1529.5 L466.8 1529.4 L466.8 1529.4 L466.8 1529.4 L466.8 1529.3 L466.8 1529.3 L466.8 1529.2 L466.8 1529.2 L466.8 1529.1 L466.8 1529.1 L466.8 1529 L466.8 1529 L466.8 1529 L466.8 1528.9 L466.8 1528.9 L466.8 1528.8 L466.8 1528.8 L466.8 1528.7 L466.8 1528.7 L466.8 1528.6 L466.8 1528.6 L466.8 1528.6 L466.1 1528.6 L466.1 1528.6 L466.1 1528.6 L466.1 1528.7 L466.1 1528.7 L466.1 1528.8 L466.1 1528.8 L466.1 1528.9 L466.1 1528.9 L466.1 1529 L466.1 1529 L466.1 1529 L466.1 1529.1 L466.1 1529.1 L466.1 1529.2 L466.1 1529.2 L466.1 1529.3 L466.1 1529.3 L466.1 1529.4 L466.1 1529.4 L466.1 1529.4 L466.1 1529.5 L466.1 1529.5 L466.1 1529.6 L466.1 1529.6 L466.1 1529.7 L466.1 1529.7 L466.1 1529.7 L466.1 1529.8 L466.1 1529.8 L466.1 1529.9 L466.1 1529.9 L466.1 1530 L466.1 1530 L466.1 1530.1 L466.1 1530.1 L466.1 1530.1 L466.1 1530.2 L466.1 1530.2 L466.1 1530.3 L466.1 1530.3 L466.1 1530.4 L466.1 1530.4 L466.1 1530.5 L466.1 1530.5 L466.1 1530.5 L466.1 1530.6 L466.1 1530.6 L466 1530.7 L466 1530.7 L465.9 1530.8 L465.8 1530.8 L465.6 1530.9 L465.5 1530.9 L465.3 1530.9 L465.2 1531 L465 1531 L464.7 1531.1 L464.5 1531.1 L464.2 1531.2 L463.9 1531.2 L463.5 1531.3 L463.2 1531.3 L462.7 1531.3 L462.3 1531.4 L461.8 1531.4 L461.3 1531.5 L460.7 1531.5 L460.2 1531.6 L459.6 1531.6 L458.9 1531.7 L458.3 1531.7 L457.6 1531.7 L456.9 1531.8 L456.2 1531.8 L455.5 1531.9 L454.8 1531.9 L454.1 1532 L453.5 1532 L452.9 1532.1 L452.3 1532.1 L451.7 1532.1 L451.2 1532.2 L450.7 1532.2 L450.3 1532.3 L450 1532.3 L449.7 1532.4 L449.6 1532.4 L449.4 1532.5 L449.4 1532.5Z" fill="#b4a8e1" stroke="#262626" stroke-width="1.15" stroke-linejoin="round"/>
<rect x="492.3" y="1531.3" width="34" height="2.1" fill="#84d9cb" stroke="#262626" stroke-width="1.1" rx="0.9"/>
<path d="M568.7 1532.5 L569.2 1530.5 L560 1528.5 L555.5 1526.5 L554.7 1524.5 L554.3 1522.5 L553.6 1520.5 L553.1 1518.5 L552.6 1516.5 L552.6 1514.5 L552.6 1512.5 L552.6 1510.5 L552.6 1508.5 L552.6 1506.5 L552.6 1504.6 L552.6 1502.6 L552.6 1500.6 L552.6 1498.6 L552.6 1496.6 L552.6 1494.6 L552.6 1492.6 L552.6 1490.6 L552.6 1488.6 L552.6 1486.6 L552.6 1484.6 L552.6 1482.6 L552.6 1480.6 L552.6 1478.6 L552.6 1476.6 L552.6 1474.6 L552.6 1472.6 L552.6 1470.6 L552.6 1468.6 L552.6 1466.6 L552.6 1464.6 L552.6 1462.6 L552.6 1460.6 L552.6 1458.6 L552.6 1456.6 L552.6 1454.6 L552.6 1452.7 L552.6 1450.7 L552.6 1448.7 L552.6 1446.7 L552.6 1444.7 L552.6 1442.7 L552.6 1440.7 L552.6 1438.7 L552.6 1436.7 L552.6 1434.7 L552.6 1432.7 L552.6 1430.7 L552.6 1428.7 L552.6 1426.7 L552.6 1424.7 L552.6 1422.7 L552.6 1420.7 L552.6 1418.7 L552.6 1416.7 L552.6 1414.7 L552.6 1412.7 L552.6 1410.7 L552.6 1408.7 L552.6 1406.7 L552.6 1404.7 L552.6 1402.7 L552.6 1400.8 L552.6 1398.8 L552.6 1396.8 L552.6 1394.8 L552.6 1392.8 L552.6 1390.8 L552.6 1388.8 L552.6 1386.8 L552.6 1384.8 L552.6 1382.8 L552.6 1380.8 L552.6 1378.8 L552.6 1376.8 L552.6 1374.8 L552.6 1372.8 L552.6 1370.8 L552.6 1368.8 L552.6 1366.8 L552.6 1364.8 L552.6 1362.8 L552.6 1360.8 L552.6 1358.8 L552.6 1356.8 L552.6 1354.8 L551.9 1354.8 L551.9 1356.8 L551.9 1358.8 L551.9 1360.8 L551.9 1362.8 L551.9 1364.8 L551.9 1366.8 L551.9 1368.8 L551.9 1370.8 L551.9 1372.8 L551.9 1374.8 L551.9 1376.8 L551.9 1378.8 L551.9 1380.8 L551.9 1382.8 L551.9 1384.8 L551.9 1386.8 L551.9 1388.8 L551.9 1390.8 L551.9 1392.8 L551.9 1394.8 L551.9 1396.8 L551.9 1398.8 L551.9 1400.8 L551.9 1402.7 L551.9 1404.7 L551.9 1406.7 L551.9 1408.7 L551.9 1410.7 L551.9 1412.7 L551.9 1414.7 L551.9 1416.7 L551.9 1418.7 L551.9 1420.7 L551.9 1422.7 L551.9 1424.7 L551.9 1426.7 L551.9 1428.7 L551.9 1430.7 L551.9 1432.7 L551.9 1434.7 L551.9 1436.7 L551.9 1438.7 L551.9 1440.7 L551.9 1442.7 L551.9 1444.7 L551.9 1446.7 L551.9 1448.7 L551.9 1450.7 L551.9 1452.7 L551.9 1454.6 L551.9 1456.6 L551.9 1458.6 L551.9 1460.6 L551.9 1462.6 L551.9 1464.6 L551.9 1466.6 L551.9 1468.6 L551.9 1470.6 L551.9 1472.6 L551.9 1474.6 L551.9 1476.6 L551.9 1478.6 L551.9 1480.6 L551.9 1482.6 L551.9 1484.6 L551.9 1486.6 L551.9 1488.6 L551.9 1490.6 L551.9 1492.6 L551.9 1494.6 L551.9 1496.6 L551.9 1498.6 L551.9 1500.6 L551.9 1502.6 L551.9 1504.6 L551.9 1506.5 L551.9 1508.5 L551.9 1510.5 L551.9 1512.5 L551.9 1514.5 L551.8 1516.5 L551.3 1518.5 L550.8 1520.5 L550.1 1522.5 L549.7 1524.5 L548.9 1526.5 L544.4 1528.5 L535.2 1530.5 L535.7 1532.5Z" fill="#cfe3f2" stroke="#262626" stroke-width="1.15" stroke-linejoin="round"/>
<rect x="639.7" y="1347" width="214.3" height="194.8" fill="none" stroke="#4a4a4a" stroke-width="1.6" />
<line x1="637.5" y1="1532.6" x2="639.7" y2="1532.6" stroke="#333" stroke-width="1.2" />
<line x1="637.5" y1="1507.3" x2="639.7" y2="1507.3" stroke="#333" stroke-width="1.2" />
<line x1="637.5" y1="1482" x2="639.7" y2="1482" stroke="#333" stroke-width="1.2" />
<line x1="637.5" y1="1456.7" x2="639.7" y2="1456.7" stroke="#333" stroke-width="1.2" />
<line x1="637.5" y1="1431.4" x2="639.7" y2="1431.4" stroke="#333" stroke-width="1.2" />
<line x1="637.5" y1="1406.1" x2="639.7" y2="1406.1" stroke="#333" stroke-width="1.2" />
<line x1="637.5" y1="1380.8" x2="639.7" y2="1380.8" stroke="#333" stroke-width="1.2" />
<line x1="637.5" y1="1355.5" x2="639.7" y2="1355.5" stroke="#333" stroke-width="1.2" />
<text x="635.4" y="1537.8" text-anchor="end" >0.0</text>
<text x="635.4" y="1487.2" text-anchor="end" >0.5</text>
<text x="635.4" y="1436.6" text-anchor="end" >1.0</text>
<text x="635.4" y="1386" text-anchor="end" >1.5</text>
<text x="600.3" y="1431.7" text-anchor="middle" transform="rotate(-90 600.3 1431.7)" >Mean feature activation</text>
<line x1="661.3" y1="1541.8" x2="661.3" y2="1544.8" stroke="#333" stroke-width="1.2" />
<line x1="704.2" y1="1541.8" x2="704.2" y2="1544.8" stroke="#333" stroke-width="1.2" />
<line x1="747.1" y1="1541.8" x2="747.1" y2="1544.8" stroke="#333" stroke-width="1.2" />
<line x1="790" y1="1541.8" x2="790" y2="1544.8" stroke="#333" stroke-width="1.2" />
<line x1="832.9" y1="1541.8" x2="832.9" y2="1544.8" stroke="#333" stroke-width="1.2" />
<text x="691.7" y="1555.8" font-size="18.2" text-anchor="end" transform="rotate(-45 691.7 1555.8)" >(+) ORF</text>
<text x="731.7" y="1555.8" font-size="18.2" text-anchor="end" transform="rotate(-45 731.7 1555.8)" >(-) ORF</text>
<text x="760.3" y="1555.8" font-size="18.2" text-anchor="end" transform="rotate(-45 760.3 1555.8)" >tRNA</text>
<text x="803.2" y="1555.8" font-size="18.2" text-anchor="end" transform="rotate(-45 803.2 1555.8)" >rRNA</text>
<text x="843.7" y="1555.8" font-size="18.2" text-anchor="end" transform="rotate(-45 843.7 1555.8)" >Intergenic</text>
<text x="746.9" y="1314.5" text-anchor="middle" ><tspan fill="#4a87bf">Intergenic</tspan> <tspan fill="#a3a3a3">f/26069</tspan></text>
<text x="747.9" y="1341" text-anchor="middle" >AUROC = 0.94</text>
<path d="M674.8 1532.6 L677.4 1531.1 L678.6 1529.5 L678.1 1528 L676.1 1526.5 L673.3 1524.9 L670.4 1523.4 L668.1 1521.9 L666.3 1520.3 L665.1 1518.8 L664.3 1517.2 L663.6 1515.7 L663.1 1514.2 L662.6 1512.6 L662.2 1511.1 L661.9 1509.6 L661.7 1508 L661.7 1506.5 L661.7 1505 L661.7 1503.4 L661.7 1501.9 L661.7 1500.4 L661.7 1498.8 L661.7 1497.3 L661.7 1495.8 L661.7 1494.2 L661.7 1492.7 L661.7 1491.2 L661.7 1489.6 L661.7 1488.1 L661.7 1486.5 L661.7 1485 L661.7 1483.5 L661.7 1481.9 L661.7 1480.4 L661.7 1478.9 L661.7 1477.3 L661.7 1475.8 L661.7 1474.3 L661.7 1472.7 L661.7 1471.2 L661.7 1469.7 L661.7 1468.1 L661.7 1466.6 L661.7 1465.1 L661.7 1463.5 L661.7 1462 L661.7 1460.5 L661.7 1458.9 L661.7 1457.4 L661.7 1455.8 L661.7 1454.3 L661.7 1452.8 L661.7 1451.2 L661.7 1449.7 L661.7 1448.2 L661.7 1446.6 L661.7 1445.1 L661.7 1443.6 L661.7 1442 L661.7 1440.5 L661.7 1439 L661.7 1437.4 L661.7 1435.9 L661.7 1434.4 L661.7 1432.8 L661.7 1431.3 L661.7 1429.8 L661.7 1428.2 L661.7 1426.7 L661.7 1425.1 L661.7 1423.6 L661.7 1422.1 L661.7 1420.5 L661.7 1419 L661.7 1417.5 L661.7 1415.9 L661.7 1414.4 L661.7 1412.9 L661.7 1411.3 L661.7 1409.8 L661.7 1408.3 L661.7 1406.7 L661.7 1405.2 L661.7 1403.7 L661.7 1402.1 L661.7 1400.6 L661.7 1399.1 L661.7 1397.5 L661.7 1396 L661 1396 L661 1397.5 L661 1399.1 L661 1400.6 L661 1402.1 L661 1403.7 L661 1405.2 L661 1406.7 L661 1408.3 L661 1409.8 L661 1411.3 L661 1412.9 L661 1414.4 L661 1415.9 L661 1417.5 L661 1419 L661 1420.5 L661 1422.1 L661 1423.6 L661 1425.1 L661 1426.7 L661 1428.2 L661 1429.8 L661 1431.3 L661 1432.8 L661 1434.4 L661 1435.9 L661 1437.4 L661 1439 L661 1440.5 L661 1442 L661 1443.6 L661 1445.1 L661 1446.6 L661 1448.2 L661 1449.7 L661 1451.2 L661 1452.8 L661 1454.3 L661 1455.8 L661 1457.4 L661 1458.9 L661 1460.5 L661 1462 L661 1463.5 L661 1465.1 L661 1466.6 L661 1468.1 L661 1469.7 L661 1471.2 L661 1472.7 L661 1474.3 L661 1475.8 L661 1477.3 L661 1478.9 L661 1480.4 L661 1481.9 L661 1483.5 L661 1485 L661 1486.5 L661 1488.1 L661 1489.6 L661 1491.2 L661 1492.7 L661 1494.2 L661 1495.8 L661 1497.3 L661 1498.8 L661 1500.4 L661 1501.9 L661 1503.4 L661 1505 L661 1506.5 L660.9 1508 L660.7 1509.6 L660.4 1511.1 L660 1512.6 L659.5 1514.2 L659 1515.7 L658.3 1517.2 L657.5 1518.8 L656.3 1520.3 L654.5 1521.9 L652.2 1523.4 L649.3 1524.9 L646.5 1526.5 L644.5 1528 L644 1529.5 L645.2 1531.1 L647.8 1532.6Z" fill="#58b3e5" stroke="#262626" stroke-width="1.15" stroke-linejoin="round"/>
<line x1="661.3" y1="1532.6" x2="661.3" y2="1514.9" stroke="#444" stroke-width="1.1" />
<rect x="659.1" y="1525.5" width="4.4" height="7.1" fill="#3d3d3d" />
<circle cx="661.3" cy="1529.6" r="1.3" fill="#fff"/>
<path d="M715.5 1532.6 L718.5 1531.2 L720.7 1529.7 L721.5 1528.3 L720.8 1526.8 L718.8 1525.4 L716.2 1523.9 L713.5 1522.5 L711.2 1521 L709.5 1519.6 L708.3 1518.2 L707.4 1516.7 L706.8 1515.3 L706.2 1513.8 L705.7 1512.4 L705.3 1510.9 L705 1509.5 L704.7 1508.1 L704.6 1506.6 L704.6 1505.2 L704.6 1503.7 L704.6 1502.3 L704.6 1500.8 L704.6 1499.4 L704.6 1497.9 L704.6 1496.5 L704.6 1495.1 L704.6 1493.6 L704.6 1492.2 L704.6 1490.7 L704.6 1489.3 L704.6 1487.8 L704.6 1486.4 L704.6 1484.9 L704.6 1483.5 L704.6 1482.1 L704.6 1480.6 L704.6 1479.2 L704.6 1477.7 L704.6 1476.3 L704.6 1474.8 L704.6 1473.4 L704.6 1471.9 L704.6 1470.5 L704.6 1469.1 L704.6 1467.6 L704.6 1466.2 L704.6 1464.7 L704.6 1463.3 L704.6 1461.8 L704.6 1460.4 L704.6 1459 L704.6 1457.5 L704.6 1456.1 L704.6 1454.6 L704.6 1453.2 L704.6 1451.7 L704.6 1450.3 L704.6 1448.8 L704.6 1447.4 L704.6 1446 L704.6 1444.5 L704.6 1443.1 L704.6 1441.6 L704.6 1440.2 L704.6 1438.7 L704.6 1437.3 L704.6 1435.8 L704.6 1434.4 L704.6 1433 L704.6 1431.5 L704.6 1430.1 L704.6 1428.6 L704.6 1427.2 L704.6 1425.7 L704.6 1424.3 L704.6 1422.8 L704.6 1421.4 L704.6 1420 L704.6 1418.5 L704.6 1417.1 L704.6 1415.6 L704.6 1414.2 L704.6 1412.7 L704.6 1411.3 L704.6 1409.9 L704.6 1408.4 L704.6 1407 L704.6 1405.5 L704.6 1404.1 L703.9 1404.1 L703.9 1405.5 L703.9 1407 L703.9 1408.4 L703.9 1409.9 L703.9 1411.3 L703.9 1412.7 L703.9 1414.2 L703.9 1415.6 L703.9 1417.1 L703.9 1418.5 L703.9 1420 L703.9 1421.4 L703.9 1422.8 L703.9 1424.3 L703.9 1425.7 L703.9 1427.2 L703.9 1428.6 L703.9 1430.1 L703.9 1431.5 L703.9 1433 L703.9 1434.4 L703.9 1435.8 L703.9 1437.3 L703.9 1438.7 L703.9 1440.2 L703.9 1441.6 L703.9 1443.1 L703.9 1444.5 L703.9 1446 L703.9 1447.4 L703.9 1448.8 L703.9 1450.3 L703.9 1451.7 L703.9 1453.2 L703.9 1454.6 L703.9 1456.1 L703.9 1457.5 L703.9 1459 L703.9 1460.4 L703.9 1461.8 L703.9 1463.3 L703.9 1464.7 L703.9 1466.2 L703.9 1467.6 L703.9 1469.1 L703.9 1470.5 L703.9 1471.9 L703.9 1473.4 L703.9 1474.8 L703.9 1476.3 L703.9 1477.7 L703.9 1479.2 L703.9 1480.6 L703.9 1482.1 L703.9 1483.5 L703.9 1484.9 L703.9 1486.4 L703.9 1487.8 L703.9 1489.3 L703.9 1490.7 L703.9 1492.2 L703.9 1493.6 L703.9 1495.1 L703.9 1496.5 L703.9 1497.9 L703.9 1499.4 L703.9 1500.8 L703.9 1502.3 L703.9 1503.7 L703.9 1505.2 L703.9 1506.6 L703.7 1508.1 L703.4 1509.5 L703.1 1510.9 L702.7 1512.4 L702.2 1513.8 L701.6 1515.3 L701 1516.7 L700.1 1518.2 L698.9 1519.6 L697.2 1521 L694.9 1522.5 L692.2 1523.9 L689.6 1525.4 L687.6 1526.8 L686.9 1528.3 L687.7 1529.7 L689.9 1531.2 L692.9 1532.6Z" fill="#3b80cb" stroke="#262626" stroke-width="1.15" stroke-linejoin="round"/>
<line x1="704.2" y1="1532.6" x2="704.2" y2="1512.4" stroke="#444" stroke-width="1.1" />
<rect x="702" y="1524.5" width="4.4" height="8.1" fill="#3d3d3d" />
<circle cx="704.2" cy="1528.6" r="1.3" fill="#fff"/>
<path d="M749.4 1529.6 L749.7 1529.3 L749.9 1529 L750.2 1528.8 L750.5 1528.5 L750.7 1528.3 L751.1 1528 L751.4 1527.7 L751.7 1527.5 L752.1 1527.2 L752.5 1526.9 L752.9 1526.7 L753.3 1526.4 L753.7 1526.2 L754.1 1525.9 L754.6 1525.6 L755 1525.4 L755.5 1525.1 L756 1524.9 L756.5 1524.6 L757 1524.3 L757.5 1524.1 L757.9 1523.8 L758.4 1523.5 L758.9 1523.3 L759.4 1523 L759.9 1522.8 L760.3 1522.5 L760.8 1522.2 L761.2 1522 L761.6 1521.7 L762 1521.5 L762.4 1521.2 L762.7 1520.9 L763.1 1520.7 L763.3 1520.4 L763.6 1520.1 L763.8 1519.9 L764 1519.6 L764.2 1519.4 L764.3 1519.1 L764.4 1518.8 L764.4 1518.6 L764.4 1518.3 L764.4 1518.1 L764.3 1517.8 L764.2 1517.5 L764 1517.3 L763.8 1517 L763.6 1516.7 L763.4 1516.5 L763.1 1516.2 L762.8 1516 L762.4 1515.7 L762.1 1515.4 L761.7 1515.2 L761.3 1514.9 L760.8 1514.7 L760.4 1514.4 L759.9 1514.1 L759.5 1513.9 L759 1513.6 L758.5 1513.3 L758 1513.1 L757.5 1512.8 L757 1512.6 L756.5 1512.3 L756.1 1512 L755.6 1511.8 L755.1 1511.5 L754.6 1511.3 L754.2 1511 L753.7 1510.7 L753.3 1510.5 L752.9 1510.2 L752.5 1509.9 L752.1 1509.7 L751.8 1509.4 L751.4 1509.2 L751.1 1508.9 L750.8 1508.6 L750.5 1508.4 L750.2 1508.1 L749.9 1507.9 L749.7 1507.6 L749.5 1507.3 L749.3 1507.1 L749.1 1506.8 L748.9 1506.5 L748.7 1506.3 L745.5 1506.3 L745.3 1506.5 L745.1 1506.8 L744.9 1507.1 L744.7 1507.3 L744.5 1507.6 L744.3 1507.9 L744 1508.1 L743.7 1508.4 L743.4 1508.6 L743.1 1508.9 L742.8 1509.2 L742.4 1509.4 L742.1 1509.7 L741.7 1509.9 L741.3 1510.2 L740.9 1510.5 L740.5 1510.7 L740 1511 L739.6 1511.3 L739.1 1511.5 L738.6 1511.8 L738.1 1512 L737.7 1512.3 L737.2 1512.6 L736.7 1512.8 L736.2 1513.1 L735.7 1513.3 L735.2 1513.6 L734.7 1513.9 L734.3 1514.1 L733.8 1514.4 L733.4 1514.7 L732.9 1514.9 L732.5 1515.2 L732.1 1515.4 L731.8 1515.7 L731.4 1516 L731.1 1516.2 L730.8 1516.5 L730.6 1516.7 L730.4 1517 L730.2 1517.3 L730 1517.5 L729.9 1517.8 L729.8 1518.1 L729.8 1518.3 L729.8 1518.6 L729.8 1518.8 L729.9 1519.1 L730 1519.4 L730.2 1519.6 L730.4 1519.9 L730.6 1520.1 L730.9 1520.4 L731.1 1520.7 L731.5 1520.9 L731.8 1521.2 L732.2 1521.5 L732.6 1521.7 L733 1522 L733.4 1522.2 L733.9 1522.5 L734.3 1522.8 L734.8 1523 L735.3 1523.3 L735.8 1523.5 L736.3 1523.8 L736.7 1524.1 L737.2 1524.3 L737.7 1524.6 L738.2 1524.9 L738.7 1525.1 L739.2 1525.4 L739.6 1525.6 L740.1 1525.9 L740.5 1526.2 L740.9 1526.4 L741.3 1526.7 L741.7 1526.9 L742.1 1527.2 L742.5 1527.5 L742.8 1527.7 L743.1 1528 L743.5 1528.3 L743.7 1528.5 L744 1528.8 L744.3 1529 L744.5 1529.3 L744.8 1529.6Z" fill="#b4a8e1" stroke="#262626" stroke-width="1.15" stroke-linejoin="round"/>
<line x1="747.1" y1="1529.6" x2="747.1" y2="1506.3" stroke="#444" stroke-width="1.1" />
<rect x="744.9" y="1514.4" width="4.4" height="7.1" fill="#3d3d3d" />
<circle cx="747.1" cy="1517.9" r="1.3" fill="#fff"/>
<path d="M806.3 1532.6 L806.6 1532.4 L806.9 1532.1 L807.2 1531.9 L807.3 1531.7 L807.3 1531.5 L807.2 1531.2 L807.1 1531 L806.8 1530.8 L806.5 1530.6 L806.1 1530.3 L805.6 1530.1 L805.1 1529.9 L804.5 1529.6 L803.9 1529.4 L803.2 1529.2 L802.6 1529 L801.9 1528.7 L801.2 1528.5 L800.5 1528.3 L799.8 1528.1 L799.2 1527.8 L798.6 1527.6 L798 1527.4 L797.4 1527.1 L796.9 1526.9 L796.5 1526.7 L796 1526.5 L795.7 1526.2 L795.3 1526 L795.1 1525.8 L794.8 1525.6 L794.6 1525.3 L794.5 1525.1 L794.3 1524.9 L794.3 1524.6 L794.2 1524.4 L794.2 1524.2 L794.2 1524 L794.2 1523.7 L794.2 1523.5 L794.2 1523.3 L794.3 1523 L794.3 1522.8 L794.4 1522.6 L794.5 1522.4 L794.6 1522.1 L794.6 1521.9 L794.7 1521.7 L794.8 1521.5 L794.8 1521.2 L794.9 1521 L795 1520.8 L795 1520.5 L795 1520.3 L795.1 1520.1 L795.1 1519.9 L795.1 1519.6 L795.1 1519.4 L795.1 1519.2 L795.1 1519 L795.1 1518.7 L795 1518.5 L795 1518.3 L794.9 1518 L794.8 1517.8 L794.8 1517.6 L794.7 1517.4 L794.6 1517.1 L794.5 1516.9 L794.4 1516.7 L794.3 1516.5 L794.2 1516.2 L794 1516 L793.9 1515.8 L793.8 1515.5 L793.7 1515.3 L793.5 1515.1 L793.4 1514.9 L793.2 1514.6 L793.1 1514.4 L793 1514.2 L792.8 1514 L792.7 1513.7 L792.6 1513.5 L792.4 1513.3 L792.3 1513 L792.2 1512.8 L792 1512.6 L791.9 1512.4 L788.1 1512.4 L788 1512.6 L787.8 1512.8 L787.7 1513 L787.6 1513.3 L787.4 1513.5 L787.3 1513.7 L787.2 1514 L787 1514.2 L786.9 1514.4 L786.8 1514.6 L786.6 1514.9 L786.5 1515.1 L786.3 1515.3 L786.2 1515.5 L786.1 1515.8 L786 1516 L785.8 1516.2 L785.7 1516.5 L785.6 1516.7 L785.5 1516.9 L785.4 1517.1 L785.3 1517.4 L785.2 1517.6 L785.2 1517.8 L785.1 1518 L785 1518.3 L785 1518.5 L784.9 1518.7 L784.9 1519 L784.9 1519.2 L784.9 1519.4 L784.9 1519.6 L784.9 1519.9 L784.9 1520.1 L785 1520.3 L785 1520.5 L785 1520.8 L785.1 1521 L785.2 1521.2 L785.2 1521.5 L785.3 1521.7 L785.4 1521.9 L785.4 1522.1 L785.5 1522.4 L785.6 1522.6 L785.7 1522.8 L785.7 1523 L785.8 1523.3 L785.8 1523.5 L785.8 1523.7 L785.8 1524 L785.8 1524.2 L785.8 1524.4 L785.7 1524.6 L785.7 1524.9 L785.5 1525.1 L785.4 1525.3 L785.2 1525.6 L784.9 1525.8 L784.7 1526 L784.3 1526.2 L784 1526.5 L783.5 1526.7 L783.1 1526.9 L782.6 1527.1 L782 1527.4 L781.4 1527.6 L780.8 1527.8 L780.2 1528.1 L779.5 1528.3 L778.8 1528.5 L778.1 1528.7 L777.4 1529 L776.8 1529.2 L776.1 1529.4 L775.5 1529.6 L774.9 1529.9 L774.4 1530.1 L773.9 1530.3 L773.5 1530.6 L773.2 1530.8 L772.9 1531 L772.8 1531.2 L772.7 1531.5 L772.7 1531.7 L772.8 1531.9 L773.1 1532.1 L773.4 1532.4 L773.7 1532.6Z" fill="#84d9cb" stroke="#262626" stroke-width="1.15" stroke-linejoin="round"/>
<line x1="790" y1="1532.6" x2="790" y2="1514.9" stroke="#444" stroke-width="1.1" />
<rect x="787.8" y="1525.5" width="4.4" height="7.1" fill="#3d3d3d" />
<circle cx="790" cy="1530.6" r="1.3" fill="#fff"/>
<path d="M839.4 1532.6 L839 1530.6 L839.3 1528.6 L839.4 1526.6 L839.4 1524.6 L839.2 1522.7 L839 1520.7 L838.7 1518.7 L838.5 1516.7 L838.2 1514.7 L838 1512.7 L838 1510.7 L838 1508.7 L838.2 1506.7 L838.6 1504.7 L839.1 1502.8 L839.7 1500.8 L840.4 1498.8 L841.3 1496.8 L842.2 1494.8 L843.2 1492.8 L844.1 1490.8 L845.1 1488.8 L846.1 1486.8 L847 1484.8 L847.9 1482.9 L848.6 1480.9 L849.2 1478.9 L849.7 1476.9 L850 1474.9 L850.2 1472.9 L850.2 1470.9 L850 1468.9 L849.7 1466.9 L849.2 1464.9 L848.6 1463 L847.9 1461 L847 1459 L846.1 1457 L845.2 1455 L844.1 1453 L843.1 1451 L842.1 1449 L841.2 1447 L840.2 1445 L839.4 1443.1 L838.6 1441.1 L837.9 1439.1 L837.3 1437.1 L836.8 1435.1 L836.3 1433.1 L835.9 1431.1 L835.6 1429.1 L835.3 1427.1 L835.1 1425.1 L834.9 1423.2 L834.7 1421.2 L834.5 1419.2 L834.3 1417.2 L834.2 1415.2 L834 1413.2 L833.8 1411.2 L833.7 1409.2 L833.5 1407.2 L833.4 1405.2 L833.3 1403.3 L833.3 1401.3 L833.3 1399.3 L833.3 1397.3 L833.3 1395.3 L833.3 1393.3 L833.3 1391.3 L833.3 1389.3 L833.3 1387.3 L833.3 1385.3 L833.3 1383.4 L833.3 1381.4 L833.3 1379.4 L833.3 1377.4 L833.3 1375.4 L833.3 1373.4 L833.3 1371.4 L833.3 1369.4 L833.3 1367.4 L833.3 1365.4 L833.3 1363.5 L833.3 1361.5 L833.3 1359.5 L833.3 1357.5 L833.5 1355.5 L832.3 1355.5 L832.6 1357.5 L832.6 1359.5 L832.6 1361.5 L832.6 1363.5 L832.6 1365.4 L832.6 1367.4 L832.6 1369.4 L832.6 1371.4 L832.6 1373.4 L832.6 1375.4 L832.6 1377.4 L832.6 1379.4 L832.6 1381.4 L832.6 1383.4 L832.6 1385.3 L832.6 1387.3 L832.6 1389.3 L832.6 1391.3 L832.6 1393.3 L832.6 1395.3 L832.6 1397.3 L832.6 1399.3 L832.6 1401.3 L832.5 1403.3 L832.4 1405.2 L832.3 1407.2 L832.1 1409.2 L832 1411.2 L831.8 1413.2 L831.6 1415.2 L831.5 1417.2 L831.3 1419.2 L831.1 1421.2 L830.9 1423.2 L830.7 1425.1 L830.5 1427.1 L830.2 1429.1 L829.9 1431.1 L829.5 1433.1 L829 1435.1 L828.5 1437.1 L827.9 1439.1 L827.2 1441.1 L826.4 1443.1 L825.6 1445 L824.6 1447 L823.7 1449 L822.7 1451 L821.7 1453 L820.6 1455 L819.7 1457 L818.8 1459 L817.9 1461 L817.2 1463 L816.6 1464.9 L816.1 1466.9 L815.8 1468.9 L815.6 1470.9 L815.6 1472.9 L815.8 1474.9 L816.1 1476.9 L816.6 1478.9 L817.2 1480.9 L817.9 1482.9 L818.8 1484.8 L819.7 1486.8 L820.7 1488.8 L821.7 1490.8 L822.6 1492.8 L823.6 1494.8 L824.5 1496.8 L825.4 1498.8 L826.1 1500.8 L826.7 1502.8 L827.2 1504.7 L827.6 1506.7 L827.8 1508.7 L827.8 1510.7 L827.8 1512.7 L827.6 1514.7 L827.3 1516.7 L827.1 1518.7 L826.8 1520.7 L826.6 1522.7 L826.4 1524.6 L826.4 1526.6 L826.5 1528.6 L826.8 1530.6 L826.4 1532.6Z" fill="#cfe3f2" stroke="#262626" stroke-width="1.15" stroke-linejoin="round"/>
<line x1="832.9" y1="1532.6" x2="832.9" y2="1396.5" stroke="#444" stroke-width="1.1" />
<rect x="830.7" y="1458.7" width="4.4" height="41.5" fill="#3d3d3d" />
<circle cx="832.9" cy="1476.9" r="1.3" fill="#fff"/>
<rect x="912.4" y="1347" width="214.9" height="194.8" fill="none" stroke="#4a4a4a" stroke-width="1.6" />
<line x1="910.2" y1="1532.6" x2="912.4" y2="1532.6" stroke="#333" stroke-width="1.2" />
<line x1="910.2" y1="1497.4" x2="912.4" y2="1497.4" stroke="#333" stroke-width="1.2" />
<line x1="910.2" y1="1462.2" x2="912.4" y2="1462.2" stroke="#333" stroke-width="1.2" />
<line x1="910.2" y1="1427" x2="912.4" y2="1427" stroke="#333" stroke-width="1.2" />
<line x1="910.2" y1="1391.8" x2="912.4" y2="1391.8" stroke="#333" stroke-width="1.2" />
<line x1="910.2" y1="1356.6" x2="912.4" y2="1356.6" stroke="#333" stroke-width="1.2" />
<text x="908.1" y="1537.8" text-anchor="end" >0.0</text>
<text x="908.1" y="1467.4" text-anchor="end" >0.4</text>
<text x="908.1" y="1397" text-anchor="end" >0.8</text>
<text x="879.3" y="1431.7" text-anchor="middle" transform="rotate(-90 879.3 1431.7)" >Mean feature activation</text>
<line x1="934" y1="1541.8" x2="934" y2="1544.8" stroke="#333" stroke-width="1.2" />
<line x1="976.9" y1="1541.8" x2="976.9" y2="1544.8" stroke="#333" stroke-width="1.2" />
<line x1="1019.8" y1="1541.8" x2="1019.8" y2="1544.8" stroke="#333" stroke-width="1.2" />
<line x1="1062.7" y1="1541.8" x2="1062.7" y2="1544.8" stroke="#333" stroke-width="1.2" />
<line x1="1105.6" y1="1541.8" x2="1105.6" y2="1544.8" stroke="#333" stroke-width="1.2" />
<text x="964.4" y="1555.8" font-size="18.2" text-anchor="end" transform="rotate(-45 964.4 1555.8)" >(+) ORF</text>
<text x="1004.4" y="1555.8" font-size="18.2" text-anchor="end" transform="rotate(-45 1004.4 1555.8)" >(-) ORF</text>
<text x="1033" y="1555.8" font-size="18.2" text-anchor="end" transform="rotate(-45 1033 1555.8)" >tRNA</text>
<text x="1075.9" y="1555.8" font-size="18.2" text-anchor="end" transform="rotate(-45 1075.9 1555.8)" >rRNA</text>
<text x="1116.4" y="1555.8" font-size="18.2" text-anchor="end" transform="rotate(-45 1116.4 1555.8)" >Intergenic</text>
<text x="1019.8" y="1314.5" text-anchor="middle" ><tspan fill="#4a87bf">tRNA</tspan> <tspan fill="#a3a3a3">f/30262</tspan></text>
<text x="1020.8" y="1341" text-anchor="middle" >AUROC = 1.0</text>
<path d="M951.3 1532.6 L951.1 1532.5 L950.3 1532.5 L949.2 1532.4 L947.8 1532.4 L946.1 1532.3 L944.4 1532.2 L942.6 1532.2 L941 1532.1 L939.5 1532.1 L938.2 1532 L937.1 1531.9 L936.2 1531.9 L935.6 1531.8 L935.1 1531.8 L934.7 1531.7 L934.5 1531.7 L934.4 1531.6 L934.4 1531.5 L934.4 1531.5 L934.4 1531.4 L934.4 1531.4 L934.4 1531.3 L934.4 1531.2 L934.4 1531.2 L934.4 1531.1 L934.4 1531.1 L934.4 1531 L934.4 1530.9 L934.4 1530.9 L934.4 1530.8 L934.4 1530.8 L934.4 1530.7 L934.4 1530.6 L934.4 1530.6 L934.4 1530.5 L934.4 1530.5 L934.4 1530.4 L934.4 1530.3 L934.4 1530.3 L934.4 1530.2 L934.4 1530.2 L934.4 1530.1 L934.4 1530 L934.4 1530 L934.4 1529.9 L934.4 1529.9 L934.4 1529.8 L934.4 1529.8 L934.4 1529.7 L934.4 1529.6 L934.4 1529.6 L934.4 1529.5 L934.4 1529.5 L934.4 1529.4 L934.4 1529.3 L934.4 1529.3 L934.4 1529.2 L934.4 1529.2 L934.4 1529.1 L934.4 1529 L934.4 1529 L934.4 1528.9 L934.4 1528.9 L934.4 1528.8 L934.4 1528.7 L934.4 1528.7 L934.4 1528.6 L934.4 1528.6 L934.4 1528.5 L934.4 1528.4 L934.4 1528.4 L934.4 1528.3 L934.4 1528.3 L934.4 1528.2 L934.4 1528.2 L934.4 1528.1 L934.4 1528 L934.4 1528 L934.4 1527.9 L934.4 1527.9 L934.4 1527.8 L934.4 1527.7 L934.4 1527.7 L934.4 1527.6 L934.4 1527.6 L934.4 1527.5 L934.4 1527.4 L934.4 1527.4 L934.4 1527.3 L933.6 1527.3 L933.6 1527.4 L933.6 1527.4 L933.6 1527.5 L933.6 1527.6 L933.6 1527.6 L933.6 1527.7 L933.6 1527.7 L933.6 1527.8 L933.6 1527.9 L933.6 1527.9 L933.6 1528 L933.6 1528 L933.6 1528.1 L933.6 1528.2 L933.6 1528.2 L933.6 1528.3 L933.6 1528.3 L933.6 1528.4 L933.6 1528.4 L933.6 1528.5 L933.6 1528.6 L933.6 1528.6 L933.6 1528.7 L933.6 1528.7 L933.6 1528.8 L933.6 1528.9 L933.6 1528.9 L933.6 1529 L933.6 1529 L933.6 1529.1 L933.6 1529.2 L933.6 1529.2 L933.6 1529.3 L933.6 1529.3 L933.6 1529.4 L933.6 1529.5 L933.6 1529.5 L933.6 1529.6 L933.6 1529.6 L933.6 1529.7 L933.6 1529.8 L933.6 1529.8 L933.6 1529.9 L933.6 1529.9 L933.6 1530 L933.6 1530 L933.6 1530.1 L933.6 1530.2 L933.6 1530.2 L933.6 1530.3 L933.6 1530.3 L933.6 1530.4 L933.6 1530.5 L933.6 1530.5 L933.6 1530.6 L933.6 1530.6 L933.6 1530.7 L933.6 1530.8 L933.6 1530.8 L933.6 1530.9 L933.6 1530.9 L933.6 1531 L933.6 1531.1 L933.6 1531.1 L933.6 1531.2 L933.6 1531.2 L933.6 1531.3 L933.6 1531.4 L933.6 1531.4 L933.6 1531.5 L933.6 1531.5 L933.6 1531.6 L933.5 1531.7 L933.3 1531.7 L932.9 1531.8 L932.4 1531.8 L931.8 1531.9 L930.9 1531.9 L929.8 1532 L928.5 1532.1 L927 1532.1 L925.4 1532.2 L923.6 1532.2 L921.9 1532.3 L920.2 1532.4 L918.8 1532.4 L917.7 1532.5 L916.9 1532.5 L916.7 1532.6Z" fill="#58b3e5" stroke="#262626" stroke-width="1.15" stroke-linejoin="round"/>
<path d="M994.2 1532.6 L993.8 1532.5 L992.5 1532.4 L990.7 1532.4 L988.5 1532.3 L986.1 1532.2 L983.9 1532.1 L981.9 1532 L980.3 1532 L979.1 1531.9 L978.3 1531.8 L977.7 1531.7 L977.4 1531.7 L977.2 1531.6 L977.2 1531.5 L977.2 1531.4 L977.2 1531.3 L977.2 1531.3 L977.2 1531.2 L977.2 1531.1 L977.2 1531 L977.2 1530.9 L977.2 1530.9 L977.2 1530.8 L977.2 1530.7 L977.2 1530.6 L977.2 1530.5 L977.2 1530.5 L977.2 1530.4 L977.2 1530.3 L977.2 1530.2 L977.2 1530.1 L977.2 1530.1 L977.2 1530 L977.2 1529.9 L977.2 1529.8 L977.2 1529.8 L977.2 1529.7 L977.2 1529.6 L977.2 1529.5 L977.2 1529.4 L977.2 1529.4 L977.2 1529.3 L977.2 1529.2 L977.2 1529.1 L977.2 1529 L977.2 1529 L977.2 1528.9 L977.2 1528.8 L977.2 1528.7 L977.2 1528.6 L977.2 1528.6 L977.2 1528.5 L977.2 1528.4 L977.2 1528.3 L977.2 1528.2 L977.2 1528.2 L977.2 1528.1 L977.2 1528 L977.2 1527.9 L977.2 1527.9 L977.2 1527.8 L977.2 1527.7 L977.2 1527.6 L977.2 1527.5 L977.2 1527.5 L977.2 1527.4 L977.2 1527.3 L977.2 1527.2 L977.2 1527.1 L977.2 1527.1 L977.2 1527 L977.2 1526.9 L977.2 1526.8 L977.2 1526.7 L977.2 1526.7 L977.2 1526.6 L977.2 1526.5 L977.2 1526.4 L977.2 1526.4 L977.2 1526.3 L977.2 1526.2 L977.2 1526.1 L977.2 1526 L977.2 1526 L977.2 1525.9 L977.2 1525.8 L977.2 1525.7 L977.2 1525.6 L977.2 1525.6 L976.5 1525.6 L976.5 1525.6 L976.5 1525.7 L976.5 1525.8 L976.5 1525.9 L976.5 1526 L976.5 1526 L976.5 1526.1 L976.5 1526.2 L976.5 1526.3 L976.5 1526.4 L976.5 1526.4 L976.5 1526.5 L976.5 1526.6 L976.5 1526.7 L976.5 1526.7 L976.5 1526.8 L976.5 1526.9 L976.5 1527 L976.5 1527.1 L976.5 1527.1 L976.5 1527.2 L976.5 1527.3 L976.5 1527.4 L976.5 1527.5 L976.5 1527.5 L976.5 1527.6 L976.5 1527.7 L976.5 1527.8 L976.5 1527.9 L976.5 1527.9 L976.5 1528 L976.5 1528.1 L976.5 1528.2 L976.5 1528.2 L976.5 1528.3 L976.5 1528.4 L976.5 1528.5 L976.5 1528.6 L976.5 1528.6 L976.5 1528.7 L976.5 1528.8 L976.5 1528.9 L976.5 1529 L976.5 1529 L976.5 1529.1 L976.5 1529.2 L976.5 1529.3 L976.5 1529.4 L976.5 1529.4 L976.5 1529.5 L976.5 1529.6 L976.5 1529.7 L976.5 1529.8 L976.5 1529.8 L976.5 1529.9 L976.5 1530 L976.5 1530.1 L976.5 1530.1 L976.5 1530.2 L976.5 1530.3 L976.5 1530.4 L976.5 1530.5 L976.5 1530.5 L976.5 1530.6 L976.5 1530.7 L976.5 1530.8 L976.5 1530.9 L976.5 1530.9 L976.5 1531 L976.5 1531.1 L976.5 1531.2 L976.5 1531.3 L976.5 1531.3 L976.5 1531.4 L976.5 1531.5 L976.5 1531.6 L976.4 1531.7 L976.1 1531.7 L975.5 1531.8 L974.7 1531.9 L973.5 1532 L971.9 1532 L969.9 1532.1 L967.7 1532.2 L965.3 1532.3 L963.1 1532.4 L961.3 1532.4 L960 1532.5 L959.6 1532.6Z" fill="#3b80cb" stroke="#262626" stroke-width="1.15" stroke-linejoin="round"/>
<path d="M1022.3 1486.8 L1020.8 1485.3 L1021 1483.8 L1021.2 1482.3 L1021.4 1480.8 L1021.6 1479.3 L1021.9 1477.8 L1022.1 1476.3 L1022.4 1474.8 L1022.8 1473.3 L1023.1 1471.8 L1023.5 1470.3 L1023.9 1468.8 L1024.3 1467.3 L1024.8 1465.8 L1025.3 1464.3 L1025.8 1462.8 L1026.4 1461.3 L1026.9 1459.8 L1027.5 1458.3 L1028.1 1456.8 L1028.8 1455.3 L1029.4 1453.8 L1030 1452.3 L1030.7 1450.8 L1031.3 1449.3 L1031.9 1447.8 L1032.5 1446.3 L1033.1 1444.8 L1033.7 1443.3 L1034.3 1441.8 L1034.8 1440.2 L1035.2 1438.7 L1035.7 1437.2 L1036 1435.7 L1036.4 1434.2 L1036.6 1432.7 L1036.8 1431.2 L1037 1429.7 L1037.1 1428.2 L1037.1 1426.7 L1037.1 1425.2 L1036.9 1423.7 L1036.8 1422.2 L1036.5 1420.7 L1036.3 1419.2 L1035.9 1417.7 L1035.5 1416.2 L1035.1 1414.7 L1034.6 1413.2 L1034.1 1411.7 L1033.5 1410.2 L1032.9 1408.7 L1032.3 1407.2 L1031.7 1405.7 L1031.1 1404.2 L1030.4 1402.7 L1029.8 1401.2 L1029.2 1399.7 L1028.5 1398.2 L1027.9 1396.7 L1027.3 1395.2 L1026.7 1393.7 L1026.2 1392.2 L1025.6 1390.7 L1025.1 1389.2 L1024.6 1387.6 L1024.2 1386.1 L1023.7 1384.6 L1023.3 1383.1 L1023 1381.6 L1022.6 1380.1 L1022.3 1378.6 L1022 1377.1 L1021.8 1375.6 L1021.5 1374.1 L1021.3 1372.6 L1021.1 1371.1 L1020.9 1369.6 L1020.8 1368.1 L1020.7 1366.6 L1020.5 1365.1 L1020.4 1363.6 L1020.3 1362.1 L1020.3 1360.6 L1020.2 1359.1 L1020.1 1357.6 L1020.1 1356.1 L1020.1 1354.6 L1022.3 1353.1 L1017.3 1353.1 L1019.4 1354.6 L1019.4 1356.1 L1019.4 1357.6 L1019.4 1359.1 L1019.3 1360.6 L1019.3 1362.1 L1019.2 1363.6 L1019.1 1365.1 L1018.9 1366.6 L1018.8 1368.1 L1018.7 1369.6 L1018.5 1371.1 L1018.3 1372.6 L1018.1 1374.1 L1017.8 1375.6 L1017.6 1377.1 L1017.3 1378.6 L1017 1380.1 L1016.6 1381.6 L1016.3 1383.1 L1015.9 1384.6 L1015.4 1386.1 L1015 1387.6 L1014.5 1389.2 L1014 1390.7 L1013.4 1392.2 L1012.9 1393.7 L1012.3 1395.2 L1011.7 1396.7 L1011.1 1398.2 L1010.4 1399.7 L1009.8 1401.2 L1009.2 1402.7 L1008.5 1404.2 L1007.9 1405.7 L1007.3 1407.2 L1006.7 1408.7 L1006.1 1410.2 L1005.5 1411.7 L1005 1413.2 L1004.5 1414.7 L1004.1 1416.2 L1003.7 1417.7 L1003.3 1419.2 L1003.1 1420.7 L1002.8 1422.2 L1002.7 1423.7 L1002.5 1425.2 L1002.5 1426.7 L1002.5 1428.2 L1002.6 1429.7 L1002.8 1431.2 L1003 1432.7 L1003.2 1434.2 L1003.6 1435.7 L1003.9 1437.2 L1004.4 1438.7 L1004.8 1440.2 L1005.3 1441.8 L1005.9 1443.3 L1006.5 1444.8 L1007.1 1446.3 L1007.7 1447.8 L1008.3 1449.3 L1008.9 1450.8 L1009.6 1452.3 L1010.2 1453.8 L1010.8 1455.3 L1011.5 1456.8 L1012.1 1458.3 L1012.7 1459.8 L1013.2 1461.3 L1013.8 1462.8 L1014.3 1464.3 L1014.8 1465.8 L1015.3 1467.3 L1015.7 1468.8 L1016.1 1470.3 L1016.5 1471.8 L1016.8 1473.3 L1017.2 1474.8 L1017.5 1476.3 L1017.7 1477.8 L1018 1479.3 L1018.2 1480.8 L1018.4 1482.3 L1018.6 1483.8 L1018.8 1485.3 L1017.3 1486.8Z" fill="#b4a8e1" stroke="#262626" stroke-width="1.15" stroke-linejoin="round"/>
<line x1="1019.8" y1="1486.8" x2="1019.8" y2="1353.1" stroke="#444" stroke-width="1.1" />
<rect x="1017.6" y="1404.1" width="4.4" height="44" fill="#3d3d3d" />
<circle cx="1019.8" cy="1427" r="1.3" fill="#fff"/>
<path d="M1079.1 1532.6 L1079.5 1532.1 L1079.8 1531.7 L1079.9 1531.2 L1080 1530.8 L1079.9 1530.3 L1079.7 1529.9 L1079.4 1529.4 L1079 1529 L1078.4 1528.5 L1077.8 1528.1 L1077.1 1527.6 L1076.3 1527.1 L1075.5 1526.7 L1074.7 1526.2 L1073.8 1525.8 L1072.9 1525.3 L1072.1 1524.9 L1071.3 1524.4 L1070.5 1524 L1069.7 1523.5 L1069 1523 L1068.4 1522.6 L1067.8 1522.1 L1067.3 1521.7 L1066.8 1521.2 L1066.4 1520.8 L1066.1 1520.3 L1065.8 1519.9 L1065.6 1519.4 L1065.5 1519 L1065.4 1518.5 L1065.4 1518 L1065.3 1517.6 L1065.4 1517.1 L1065.4 1516.7 L1065.5 1516.2 L1065.6 1515.8 L1065.7 1515.3 L1065.9 1514.9 L1066 1514.4 L1066.2 1514 L1066.3 1513.5 L1066.5 1513 L1066.6 1512.6 L1066.8 1512.1 L1066.9 1511.7 L1067.1 1511.2 L1067.2 1510.8 L1067.3 1510.3 L1067.4 1509.9 L1067.4 1509.4 L1067.5 1508.9 L1067.5 1508.5 L1067.5 1508 L1067.5 1507.6 L1067.5 1507.1 L1067.5 1506.7 L1067.4 1506.2 L1067.3 1505.8 L1067.2 1505.3 L1067.1 1504.9 L1067 1504.4 L1066.8 1503.9 L1066.7 1503.5 L1066.5 1503 L1066.3 1502.6 L1066.1 1502.1 L1065.9 1501.7 L1065.8 1501.2 L1065.6 1500.8 L1065.4 1500.3 L1065.2 1499.9 L1065 1499.4 L1064.8 1498.9 L1064.7 1498.5 L1064.5 1498 L1064.3 1497.6 L1064.2 1497.1 L1064 1496.7 L1063.9 1496.2 L1063.8 1495.8 L1063.7 1495.3 L1063.6 1494.8 L1063.5 1494.4 L1063.4 1493.9 L1063.3 1493.5 L1063.2 1493 L1063.1 1492.6 L1063.1 1492.1 L1062.3 1492.1 L1062.3 1492.6 L1062.2 1493 L1062.1 1493.5 L1062 1493.9 L1061.9 1494.4 L1061.8 1494.8 L1061.7 1495.3 L1061.6 1495.8 L1061.5 1496.2 L1061.4 1496.7 L1061.2 1497.1 L1061.1 1497.6 L1060.9 1498 L1060.7 1498.5 L1060.6 1498.9 L1060.4 1499.4 L1060.2 1499.9 L1060 1500.3 L1059.8 1500.8 L1059.6 1501.2 L1059.5 1501.7 L1059.3 1502.1 L1059.1 1502.6 L1058.9 1503 L1058.7 1503.5 L1058.6 1503.9 L1058.4 1504.4 L1058.3 1504.9 L1058.2 1505.3 L1058.1 1505.8 L1058 1506.2 L1057.9 1506.7 L1057.9 1507.1 L1057.9 1507.6 L1057.9 1508 L1057.9 1508.5 L1057.9 1508.9 L1058 1509.4 L1058 1509.9 L1058.1 1510.3 L1058.2 1510.8 L1058.3 1511.2 L1058.5 1511.7 L1058.6 1512.1 L1058.8 1512.6 L1058.9 1513 L1059.1 1513.5 L1059.2 1514 L1059.4 1514.4 L1059.5 1514.9 L1059.7 1515.3 L1059.8 1515.8 L1059.9 1516.2 L1060 1516.7 L1060 1517.1 L1060.1 1517.6 L1060 1518 L1060 1518.5 L1059.9 1519 L1059.8 1519.4 L1059.6 1519.9 L1059.3 1520.3 L1059 1520.8 L1058.6 1521.2 L1058.1 1521.7 L1057.6 1522.1 L1057 1522.6 L1056.4 1523 L1055.7 1523.5 L1054.9 1524 L1054.1 1524.4 L1053.3 1524.9 L1052.5 1525.3 L1051.6 1525.8 L1050.7 1526.2 L1049.9 1526.7 L1049.1 1527.1 L1048.3 1527.6 L1047.6 1528.1 L1047 1528.5 L1046.4 1529 L1046 1529.4 L1045.7 1529.9 L1045.5 1530.3 L1045.4 1530.8 L1045.5 1531.2 L1045.6 1531.7 L1045.9 1532.1 L1046.3 1532.6Z" fill="#84d9cb" stroke="#262626" stroke-width="1.15" stroke-linejoin="round"/>
<line x1="1062.7" y1="1532.6" x2="1062.7" y2="1492.1" stroke="#444" stroke-width="1.1" />
<rect x="1060.5" y="1509.7" width="4.4" height="22.9" fill="#3d3d3d" />
<circle cx="1062.7" cy="1530.8" r="1.3" fill="#fff"/>
<path d="M1122.9 1532.6 L1118.3 1532.3 L1110.6 1532 L1106.7 1531.8 L1105.9 1531.5 L1105.9 1531.2 L1105.9 1530.9 L1105.9 1530.7 L1105.9 1530.4 L1105.9 1530.1 L1105.9 1529.8 L1105.9 1529.6 L1105.9 1529.3 L1105.9 1529 L1105.9 1528.7 L1105.9 1528.4 L1105.9 1528.2 L1105.9 1527.9 L1105.9 1527.6 L1105.9 1527.3 L1105.9 1527.1 L1105.9 1526.8 L1105.9 1526.5 L1105.9 1526.2 L1105.9 1526 L1105.9 1525.7 L1105.9 1525.4 L1105.9 1525.1 L1105.9 1524.8 L1105.9 1524.6 L1105.9 1524.3 L1105.9 1524 L1105.9 1523.7 L1105.9 1523.5 L1105.9 1523.2 L1105.9 1522.9 L1105.9 1522.6 L1105.9 1522.4 L1105.9 1522.1 L1105.9 1521.8 L1105.9 1521.5 L1105.9 1521.2 L1105.9 1521 L1105.9 1520.7 L1105.9 1520.4 L1105.9 1520.1 L1105.9 1519.9 L1105.9 1519.6 L1105.9 1519.3 L1105.9 1519 L1105.9 1518.8 L1105.9 1518.5 L1105.9 1518.2 L1105.9 1517.9 L1105.9 1517.6 L1105.9 1517.4 L1105.9 1517.1 L1105.9 1516.8 L1105.9 1516.5 L1105.9 1516.3 L1105.9 1516 L1105.9 1515.7 L1105.9 1515.4 L1105.9 1515.2 L1105.9 1514.9 L1105.9 1514.6 L1105.9 1514.3 L1105.9 1514.1 L1105.9 1513.8 L1105.9 1513.5 L1105.9 1513.2 L1105.9 1512.9 L1105.9 1512.7 L1105.9 1512.4 L1105.9 1512.1 L1105.9 1511.8 L1105.9 1511.6 L1105.9 1511.3 L1105.9 1511 L1105.9 1510.7 L1105.9 1510.5 L1105.9 1510.2 L1105.9 1509.9 L1105.9 1509.6 L1105.9 1509.3 L1105.9 1509.1 L1105.9 1508.8 L1105.9 1508.5 L1105.9 1508.2 L1105.9 1508 L1105.2 1508 L1105.2 1508.2 L1105.2 1508.5 L1105.2 1508.8 L1105.2 1509.1 L1105.2 1509.3 L1105.2 1509.6 L1105.2 1509.9 L1105.2 1510.2 L1105.2 1510.5 L1105.2 1510.7 L1105.2 1511 L1105.2 1511.3 L1105.2 1511.6 L1105.2 1511.8 L1105.2 1512.1 L1105.2 1512.4 L1105.2 1512.7 L1105.2 1512.9 L1105.2 1513.2 L1105.2 1513.5 L1105.2 1513.8 L1105.2 1514.1 L1105.2 1514.3 L1105.2 1514.6 L1105.2 1514.9 L1105.2 1515.2 L1105.2 1515.4 L1105.2 1515.7 L1105.2 1516 L1105.2 1516.3 L1105.2 1516.5 L1105.2 1516.8 L1105.2 1517.1 L1105.2 1517.4 L1105.2 1517.6 L1105.2 1517.9 L1105.2 1518.2 L1105.2 1518.5 L1105.2 1518.8 L1105.2 1519 L1105.2 1519.3 L1105.2 1519.6 L1105.2 1519.9 L1105.2 1520.1 L1105.2 1520.4 L1105.2 1520.7 L1105.2 1521 L1105.2 1521.2 L1105.2 1521.5 L1105.2 1521.8 L1105.2 1522.1 L1105.2 1522.4 L1105.2 1522.6 L1105.2 1522.9 L1105.2 1523.2 L1105.2 1523.5 L1105.2 1523.7 L1105.2 1524 L1105.2 1524.3 L1105.2 1524.6 L1105.2 1524.8 L1105.2 1525.1 L1105.2 1525.4 L1105.2 1525.7 L1105.2 1526 L1105.2 1526.2 L1105.2 1526.5 L1105.2 1526.8 L1105.2 1527.1 L1105.2 1527.3 L1105.2 1527.6 L1105.2 1527.9 L1105.2 1528.2 L1105.2 1528.4 L1105.2 1528.7 L1105.2 1529 L1105.2 1529.3 L1105.2 1529.6 L1105.2 1529.8 L1105.2 1530.1 L1105.2 1530.4 L1105.2 1530.7 L1105.2 1530.9 L1105.2 1531.2 L1105.2 1531.5 L1104.5 1531.8 L1100.6 1532 L1092.9 1532.3 L1088.3 1532.6Z" fill="#cfe3f2" stroke="#262626" stroke-width="1.15" stroke-linejoin="round"/>
<rect x="81.1" y="1677.6" width="214.4" height="194.2" fill="none" stroke="#4a4a4a" stroke-width="1.6" />
<line x1="78.9" y1="1863.2" x2="81.1" y2="1863.2" stroke="#333" stroke-width="1.2" />
<line x1="78.9" y1="1834" x2="81.1" y2="1834" stroke="#333" stroke-width="1.2" />
<line x1="78.9" y1="1804.9" x2="81.1" y2="1804.9" stroke="#333" stroke-width="1.2" />
<line x1="78.9" y1="1775.8" x2="81.1" y2="1775.8" stroke="#333" stroke-width="1.2" />
<line x1="78.9" y1="1746.6" x2="81.1" y2="1746.6" stroke="#333" stroke-width="1.2" />
<line x1="78.9" y1="1717.5" x2="81.1" y2="1717.5" stroke="#333" stroke-width="1.2" />
<line x1="78.9" y1="1688.3" x2="81.1" y2="1688.3" stroke="#333" stroke-width="1.2" />
<text x="76.8" y="1868.4" text-anchor="end" >0</text>
<text x="76.8" y="1810.1" text-anchor="end" >1</text>
<text x="76.8" y="1751.8" text-anchor="end" >2</text>
<text x="76.8" y="1693.5" text-anchor="end" >3</text>
<text x="37.4" y="1757.5" text-anchor="middle" transform="rotate(-90 37.4 1757.5)" >Mean feature activation</text>
<line x1="102.7" y1="1871.8" x2="102.7" y2="1874.8" stroke="#333" stroke-width="1.2" />
<line x1="145.6" y1="1871.8" x2="145.6" y2="1874.8" stroke="#333" stroke-width="1.2" />
<line x1="188.5" y1="1871.8" x2="188.5" y2="1874.8" stroke="#333" stroke-width="1.2" />
<line x1="231.4" y1="1871.8" x2="231.4" y2="1874.8" stroke="#333" stroke-width="1.2" />
<line x1="274.3" y1="1871.8" x2="274.3" y2="1874.8" stroke="#333" stroke-width="1.2" />
<text x="133.1" y="1885.8" font-size="18.2" text-anchor="end" transform="rotate(-45 133.1 1885.8)" >(+) ORF</text>
<text x="173.1" y="1885.8" font-size="18.2" text-anchor="end" transform="rotate(-45 173.1 1885.8)" >(-) ORF</text>
<text x="201.7" y="1885.8" font-size="18.2" text-anchor="end" transform="rotate(-45 201.7 1885.8)" >tRNA</text>
<text x="244.6" y="1885.8" font-size="18.2" text-anchor="end" transform="rotate(-45 244.6 1885.8)" >rRNA</text>
<text x="285.1" y="1885.8" font-size="18.2" text-anchor="end" transform="rotate(-45 285.1 1885.8)" >Intergenic</text>
<text x="188.3" y="1647" text-anchor="middle" ><tspan fill="#4a87bf">ORF</tspan> <tspan fill="#a3a3a3">f/15680</tspan></text>
<text x="189.3" y="1671.9" text-anchor="middle" >AUROC = 0.99</text>
<path d="M103.1 1863.2 L103.2 1861.2 L103.3 1859.2 L103.3 1857.2 L103.4 1855.2 L103.5 1853.2 L103.6 1851.2 L103.6 1849.2 L103.7 1847.2 L103.8 1845.2 L103.9 1843.2 L104 1841.2 L104.1 1839.2 L104.3 1837.2 L104.5 1835.2 L104.8 1833.2 L105.1 1831.2 L105.5 1829.2 L105.9 1827.2 L106.4 1825.2 L107 1823.2 L107.6 1821.2 L108.2 1819.2 L108.9 1817.2 L109.7 1815.2 L110.5 1813.3 L111.3 1811.3 L112.2 1809.3 L113.1 1807.3 L114 1805.3 L114.9 1803.3 L115.7 1801.3 L116.6 1799.3 L117.4 1797.3 L118.1 1795.3 L118.8 1793.3 L119.3 1791.3 L119.8 1789.3 L120.2 1787.3 L120.5 1785.3 L120.7 1783.3 L120.7 1781.3 L120.6 1779.3 L120.4 1777.3 L120.1 1775.3 L119.7 1773.3 L119.2 1771.3 L118.6 1769.3 L117.9 1767.3 L117.1 1765.3 L116.3 1763.3 L115.5 1761.3 L114.6 1759.3 L113.7 1757.3 L112.8 1755.3 L111.9 1753.3 L111.1 1751.3 L110.3 1749.3 L109.5 1747.3 L108.7 1745.3 L108 1743.3 L107.4 1741.3 L106.8 1739.3 L106.3 1737.3 L105.8 1735.3 L105.5 1733.3 L105.1 1731.3 L104.9 1729.3 L104.7 1727.3 L104.6 1725.3 L104.5 1723.3 L104.4 1721.3 L104.3 1719.3 L104.2 1717.4 L104 1715.4 L103.9 1713.4 L103.7 1711.4 L103.5 1709.4 L103.3 1707.4 L103.2 1705.4 L103.1 1703.4 L103 1701.4 L103 1699.4 L103 1697.4 L103 1695.4 L103 1693.4 L103 1691.4 L103 1689.4 L103 1687.4 L103 1685.4 L102.3 1685.4 L102.3 1687.4 L102.3 1689.4 L102.3 1691.4 L102.3 1693.4 L102.3 1695.4 L102.3 1697.4 L102.3 1699.4 L102.3 1701.4 L102.3 1703.4 L102.2 1705.4 L102.1 1707.4 L101.9 1709.4 L101.7 1711.4 L101.5 1713.4 L101.4 1715.4 L101.2 1717.4 L101.1 1719.3 L101 1721.3 L100.9 1723.3 L100.8 1725.3 L100.7 1727.3 L100.5 1729.3 L100.3 1731.3 L99.9 1733.3 L99.6 1735.3 L99.1 1737.3 L98.6 1739.3 L98 1741.3 L97.4 1743.3 L96.7 1745.3 L95.9 1747.3 L95.1 1749.3 L94.3 1751.3 L93.5 1753.3 L92.6 1755.3 L91.7 1757.3 L90.8 1759.3 L89.9 1761.3 L89.1 1763.3 L88.3 1765.3 L87.5 1767.3 L86.8 1769.3 L86.2 1771.3 L85.7 1773.3 L85.3 1775.3 L85 1777.3 L84.8 1779.3 L84.7 1781.3 L84.7 1783.3 L84.9 1785.3 L85.2 1787.3 L85.6 1789.3 L86.1 1791.3 L86.6 1793.3 L87.3 1795.3 L88 1797.3 L88.8 1799.3 L89.7 1801.3 L90.5 1803.3 L91.4 1805.3 L92.3 1807.3 L93.2 1809.3 L94.1 1811.3 L94.9 1813.3 L95.7 1815.2 L96.5 1817.2 L97.2 1819.2 L97.8 1821.2 L98.4 1823.2 L99 1825.2 L99.5 1827.2 L99.9 1829.2 L100.3 1831.2 L100.6 1833.2 L100.9 1835.2 L101.1 1837.2 L101.3 1839.2 L101.4 1841.2 L101.5 1843.2 L101.6 1845.2 L101.7 1847.2 L101.8 1849.2 L101.8 1851.2 L101.9 1853.2 L102 1855.2 L102.1 1857.2 L102.1 1859.2 L102.2 1861.2 L102.3 1863.2Z" fill="#58b3e5" stroke="#262626" stroke-width="1.15" stroke-linejoin="round"/>
<line x1="102.7" y1="1863.2" x2="102.7" y2="1705.8" stroke="#444" stroke-width="1.1" />
<rect x="100.5" y="1765.3" width="4.4" height="39.6" fill="#3d3d3d" />
<circle cx="102.7" cy="1783.3" r="1.3" fill="#fff"/>
<path d="M146.2 1863.2 L146.3 1861.5 L146.4 1859.7 L146.6 1858 L146.7 1856.3 L146.8 1854.5 L147 1852.8 L147.1 1851 L147.3 1849.3 L147.4 1847.6 L147.6 1845.8 L147.8 1844.1 L148 1842.4 L148.3 1840.6 L148.6 1838.9 L148.9 1837.2 L149.3 1835.4 L149.7 1833.7 L150.2 1832 L150.7 1830.2 L151.3 1828.5 L151.9 1826.7 L152.6 1825 L153.3 1823.3 L154 1821.5 L154.8 1819.8 L155.5 1818.1 L156.3 1816.3 L157.1 1814.6 L157.9 1812.9 L158.6 1811.1 L159.4 1809.4 L160.1 1807.7 L160.7 1805.9 L161.3 1804.2 L161.8 1802.4 L162.2 1800.7 L162.6 1799 L162.8 1797.2 L163 1795.5 L163.1 1793.8 L163.1 1792 L163 1790.3 L162.8 1788.6 L162.5 1786.8 L162.1 1785.1 L161.6 1783.3 L161.1 1781.6 L160.5 1779.9 L159.8 1778.1 L159.1 1776.4 L158.3 1774.7 L157.6 1772.9 L156.8 1771.2 L156 1769.5 L155.2 1767.7 L154.4 1766 L153.7 1764.3 L152.9 1762.5 L152.2 1760.8 L151.6 1759 L150.9 1757.3 L150.3 1755.6 L149.8 1753.8 L149.3 1752.1 L148.8 1750.4 L148.4 1748.6 L148 1746.9 L147.7 1745.2 L147.4 1743.4 L147.1 1741.7 L146.9 1740 L146.7 1738.2 L146.5 1736.5 L146.4 1734.7 L146.2 1733 L146.1 1731.3 L146 1729.5 L145.9 1727.8 L145.9 1726.1 L145.9 1724.3 L145.9 1722.6 L145.9 1720.9 L145.9 1719.1 L145.9 1717.4 L145.9 1715.6 L145.9 1713.9 L145.9 1712.2 L145.9 1710.4 L145.9 1708.7 L145.2 1708.7 L145.2 1710.4 L145.2 1712.2 L145.2 1713.9 L145.2 1715.6 L145.2 1717.4 L145.2 1719.1 L145.2 1720.9 L145.2 1722.6 L145.2 1724.3 L145.2 1726.1 L145.2 1727.8 L145.2 1729.5 L145.1 1731.3 L145 1733 L144.8 1734.7 L144.7 1736.5 L144.5 1738.2 L144.3 1740 L144.1 1741.7 L143.8 1743.4 L143.5 1745.2 L143.2 1746.9 L142.8 1748.6 L142.4 1750.4 L141.9 1752.1 L141.4 1753.8 L140.9 1755.6 L140.3 1757.3 L139.6 1759 L139 1760.8 L138.3 1762.5 L137.5 1764.3 L136.8 1766 L136 1767.7 L135.2 1769.5 L134.4 1771.2 L133.6 1772.9 L132.9 1774.7 L132.1 1776.4 L131.4 1778.1 L130.7 1779.9 L130.1 1781.6 L129.6 1783.3 L129.1 1785.1 L128.7 1786.8 L128.4 1788.6 L128.2 1790.3 L128.1 1792 L128.1 1793.8 L128.2 1795.5 L128.4 1797.2 L128.6 1799 L129 1800.7 L129.4 1802.4 L129.9 1804.2 L130.5 1805.9 L131.1 1807.7 L131.8 1809.4 L132.6 1811.1 L133.3 1812.9 L134.1 1814.6 L134.9 1816.3 L135.7 1818.1 L136.4 1819.8 L137.2 1821.5 L137.9 1823.3 L138.6 1825 L139.3 1826.7 L139.9 1828.5 L140.5 1830.2 L141 1832 L141.5 1833.7 L141.9 1835.4 L142.3 1837.2 L142.6 1838.9 L142.9 1840.6 L143.2 1842.4 L143.4 1844.1 L143.6 1845.8 L143.8 1847.6 L143.9 1849.3 L144.1 1851 L144.2 1852.8 L144.4 1854.5 L144.5 1856.3 L144.6 1858 L144.8 1859.7 L144.9 1861.5 L145 1863.2Z" fill="#3b80cb" stroke="#262626" stroke-width="1.15" stroke-linejoin="round"/>
<line x1="145.6" y1="1863.2" x2="145.6" y2="1717.5" stroke="#444" stroke-width="1.1" />
<rect x="143.4" y="1776.9" width="4.4" height="39.6" fill="#3d3d3d" />
<circle cx="145.6" cy="1795" r="1.3" fill="#fff"/>
<path d="M205.5 1863.2 L204.6 1863.1 L202 1863 L198.7 1863 L195.3 1862.9 L192.6 1862.8 L190.7 1862.7 L189.6 1862.6 L188.9 1862.6 L188.8 1862.5 L188.8 1862.4 L188.8 1862.3 L188.8 1862.3 L188.8 1862.2 L188.8 1862.1 L188.8 1862 L188.8 1861.9 L188.8 1861.9 L188.8 1861.8 L188.8 1861.7 L188.8 1861.6 L188.8 1861.5 L188.8 1861.5 L188.8 1861.4 L188.8 1861.3 L188.8 1861.2 L188.8 1861.2 L188.8 1861.1 L188.8 1861 L188.8 1860.9 L188.8 1860.8 L188.8 1860.8 L188.8 1860.7 L188.8 1860.6 L188.8 1860.5 L188.8 1860.4 L188.8 1860.4 L188.8 1860.3 L188.8 1860.2 L188.8 1860.1 L188.8 1860.1 L188.8 1860 L188.8 1859.9 L188.8 1859.8 L188.8 1859.7 L188.8 1859.7 L188.8 1859.6 L188.8 1859.5 L188.8 1859.4 L188.8 1859.3 L188.8 1859.3 L188.8 1859.2 L188.8 1859.1 L188.8 1859 L188.8 1859 L188.8 1858.9 L188.8 1858.8 L188.8 1858.7 L188.8 1858.6 L188.8 1858.6 L188.8 1858.5 L188.8 1858.4 L188.8 1858.3 L188.8 1858.2 L188.8 1858.2 L188.8 1858.1 L188.8 1858 L188.8 1857.9 L188.8 1857.9 L188.8 1857.8 L188.8 1857.7 L188.8 1857.6 L188.8 1857.5 L188.8 1857.5 L188.8 1857.4 L188.8 1857.3 L188.8 1857.2 L188.8 1857.1 L188.8 1857.1 L188.8 1857 L188.8 1856.9 L188.8 1856.8 L188.8 1856.8 L188.8 1856.7 L188.8 1856.6 L188.8 1856.5 L188.8 1856.4 L188.8 1856.4 L188.8 1856.3 L188.8 1856.2 L188.2 1856.2 L188.2 1856.3 L188.2 1856.4 L188.2 1856.4 L188.2 1856.5 L188.2 1856.6 L188.2 1856.7 L188.2 1856.8 L188.2 1856.8 L188.2 1856.9 L188.2 1857 L188.2 1857.1 L188.2 1857.1 L188.2 1857.2 L188.2 1857.3 L188.2 1857.4 L188.2 1857.5 L188.2 1857.5 L188.2 1857.6 L188.2 1857.7 L188.2 1857.8 L188.2 1857.9 L188.2 1857.9 L188.2 1858 L188.2 1858.1 L188.2 1858.2 L188.2 1858.2 L188.2 1858.3 L188.2 1858.4 L188.2 1858.5 L188.2 1858.6 L188.2 1858.6 L188.2 1858.7 L188.2 1858.8 L188.2 1858.9 L188.2 1859 L188.2 1859 L188.2 1859.1 L188.2 1859.2 L188.2 1859.3 L188.2 1859.3 L188.2 1859.4 L188.2 1859.5 L188.2 1859.6 L188.2 1859.7 L188.2 1859.7 L188.2 1859.8 L188.2 1859.9 L188.2 1860 L188.2 1860.1 L188.2 1860.1 L188.2 1860.2 L188.2 1860.3 L188.2 1860.4 L188.2 1860.4 L188.2 1860.5 L188.2 1860.6 L188.2 1860.7 L188.2 1860.8 L188.2 1860.8 L188.2 1860.9 L188.2 1861 L188.2 1861.1 L188.2 1861.2 L188.2 1861.2 L188.2 1861.3 L188.2 1861.4 L188.2 1861.5 L188.2 1861.5 L188.2 1861.6 L188.2 1861.7 L188.2 1861.8 L188.2 1861.9 L188.2 1861.9 L188.2 1862 L188.2 1862.1 L188.2 1862.2 L188.2 1862.3 L188.2 1862.3 L188.2 1862.4 L188.2 1862.5 L188.1 1862.6 L187.4 1862.6 L186.3 1862.7 L184.4 1862.8 L181.7 1862.9 L178.3 1863 L175 1863 L172.4 1863.1 L171.5 1863.2Z" fill="#b4a8e1" stroke="#262626" stroke-width="1.15" stroke-linejoin="round"/>
<rect x="214.4" y="1861.7" width="34" height="2.4" fill="#84d9cb" stroke="#262626" stroke-width="1.1" rx="0.9"/>
<rect x="229.2" y="1861" width="4.4" height="4.4" fill="#3d3d3d" />
<circle cx="231.4" cy="1863.2" r="1.3" fill="#fff"/>
<path d="M290.3 1863.2 L291.3 1861.5 L289.1 1859.9 L285.2 1858.2 L281.5 1856.5 L279.1 1854.8 L277.9 1853.2 L277.3 1851.5 L276.9 1849.8 L276.6 1848.2 L276.3 1846.5 L275.9 1844.8 L275.6 1843.2 L275.3 1841.5 L275 1839.8 L274.8 1838.1 L274.7 1836.5 L274.6 1834.8 L274.6 1833.1 L274.6 1831.5 L274.6 1829.8 L274.6 1828.1 L274.6 1826.5 L274.6 1824.8 L274.6 1823.1 L274.6 1821.4 L274.6 1819.8 L274.6 1818.1 L274.6 1816.4 L274.6 1814.8 L274.6 1813.1 L274.6 1811.4 L274.6 1809.7 L274.6 1808.1 L274.6 1806.4 L274.6 1804.7 L274.6 1803.1 L274.6 1801.4 L274.6 1799.7 L274.6 1798.1 L274.6 1796.4 L274.6 1794.7 L274.6 1793 L274.6 1791.4 L274.6 1789.7 L274.6 1788 L274.6 1786.4 L274.6 1784.7 L274.6 1783 L274.6 1781.4 L274.6 1779.7 L274.6 1778 L274.6 1776.3 L274.6 1774.7 L274.6 1773 L274.6 1771.3 L274.6 1769.7 L274.6 1768 L274.6 1766.3 L274.6 1764.6 L274.6 1763 L274.6 1761.3 L274.6 1759.6 L274.6 1758 L274.6 1756.3 L274.6 1754.6 L274.6 1753 L274.6 1751.3 L274.6 1749.6 L274.6 1747.9 L274.6 1746.3 L274.6 1744.6 L274.6 1742.9 L274.6 1741.3 L274.6 1739.6 L274.6 1737.9 L274.6 1736.3 L274.6 1734.6 L274.6 1732.9 L274.6 1731.2 L274.6 1729.6 L274.6 1727.9 L274.6 1726.2 L274.6 1724.6 L274.6 1722.9 L274.6 1721.2 L274.6 1719.5 L274.6 1717.9 L274.6 1716.2 L274.6 1714.5 L273.9 1714.5 L273.9 1716.2 L273.9 1717.9 L273.9 1719.5 L273.9 1721.2 L273.9 1722.9 L273.9 1724.6 L273.9 1726.2 L273.9 1727.9 L273.9 1729.6 L273.9 1731.2 L273.9 1732.9 L273.9 1734.6 L273.9 1736.3 L273.9 1737.9 L273.9 1739.6 L273.9 1741.3 L273.9 1742.9 L273.9 1744.6 L273.9 1746.3 L273.9 1747.9 L273.9 1749.6 L273.9 1751.3 L273.9 1753 L273.9 1754.6 L273.9 1756.3 L273.9 1758 L273.9 1759.6 L273.9 1761.3 L273.9 1763 L273.9 1764.6 L273.9 1766.3 L273.9 1768 L273.9 1769.7 L273.9 1771.3 L273.9 1773 L273.9 1774.7 L273.9 1776.3 L273.9 1778 L273.9 1779.7 L273.9 1781.4 L273.9 1783 L273.9 1784.7 L273.9 1786.4 L273.9 1788 L273.9 1789.7 L273.9 1791.4 L273.9 1793 L273.9 1794.7 L273.9 1796.4 L273.9 1798.1 L273.9 1799.7 L273.9 1801.4 L273.9 1803.1 L273.9 1804.7 L273.9 1806.4 L273.9 1808.1 L273.9 1809.7 L273.9 1811.4 L273.9 1813.1 L273.9 1814.8 L273.9 1816.4 L273.9 1818.1 L273.9 1819.8 L273.9 1821.4 L273.9 1823.1 L273.9 1824.8 L273.9 1826.5 L273.9 1828.1 L273.9 1829.8 L273.9 1831.5 L273.9 1833.1 L273.9 1834.8 L273.9 1836.5 L273.8 1838.1 L273.6 1839.8 L273.3 1841.5 L273 1843.2 L272.7 1844.8 L272.3 1846.5 L272 1848.2 L271.7 1849.8 L271.3 1851.5 L270.7 1853.2 L269.5 1854.8 L267.1 1856.5 L263.4 1858.2 L259.5 1859.9 L257.3 1861.5 L258.3 1863.2Z" fill="#cfe3f2" stroke="#262626" stroke-width="1.15" stroke-linejoin="round"/>
<line x1="274.3" y1="1863.2" x2="274.3" y2="1845.7" stroke="#444" stroke-width="1.1" />
<rect x="272.1" y="1856.2" width="4.4" height="7" fill="#3d3d3d" />
<circle cx="274.3" cy="1861.5" r="1.3" fill="#fff"/>
<rect x="359" y="1677.6" width="214.5" height="194.2" fill="none" stroke="#4a4a4a" stroke-width="1.6" />
<line x1="356.8" y1="1863.2" x2="359" y2="1863.2" stroke="#333" stroke-width="1.2" />
<line x1="356.8" y1="1827" x2="359" y2="1827" stroke="#333" stroke-width="1.2" />
<line x1="356.8" y1="1790.7" x2="359" y2="1790.7" stroke="#333" stroke-width="1.2" />
<line x1="356.8" y1="1754.5" x2="359" y2="1754.5" stroke="#333" stroke-width="1.2" />
<line x1="356.8" y1="1718.2" x2="359" y2="1718.2" stroke="#333" stroke-width="1.2" />
<text x="354.7" y="1868.4" text-anchor="end" >0.0</text>
<text x="354.7" y="1795.9" text-anchor="end" >1.0</text>
<text x="354.7" y="1723.4" text-anchor="end" >2.0</text>
<text x="320" y="1757.5" text-anchor="middle" transform="rotate(-90 320 1757.5)" >Mean feature activation</text>
<line x1="380.6" y1="1871.8" x2="380.6" y2="1874.8" stroke="#333" stroke-width="1.2" />
<line x1="423.5" y1="1871.8" x2="423.5" y2="1874.8" stroke="#333" stroke-width="1.2" />
<line x1="466.4" y1="1871.8" x2="466.4" y2="1874.8" stroke="#333" stroke-width="1.2" />
<line x1="509.3" y1="1871.8" x2="509.3" y2="1874.8" stroke="#333" stroke-width="1.2" />
<line x1="552.2" y1="1871.8" x2="552.2" y2="1874.8" stroke="#333" stroke-width="1.2" />
<text x="411" y="1885.8" font-size="18.2" text-anchor="end" transform="rotate(-45 411 1885.8)" >(+) ORF</text>
<text x="451" y="1885.8" font-size="18.2" text-anchor="end" transform="rotate(-45 451 1885.8)" >(-) ORF</text>
<text x="479.6" y="1885.8" font-size="18.2" text-anchor="end" transform="rotate(-45 479.6 1885.8)" >tRNA</text>
<text x="522.5" y="1885.8" font-size="18.2" text-anchor="end" transform="rotate(-45 522.5 1885.8)" >rRNA</text>
<text x="563" y="1885.8" font-size="18.2" text-anchor="end" transform="rotate(-45 563 1885.8)" >Intergenic</text>
<text x="466.2" y="1647" text-anchor="middle" ><tspan fill="#4a87bf">(–) ORF</tspan> <tspan fill="#a3a3a3">f/24568</tspan></text>
<text x="467.2" y="1671.9" text-anchor="middle" >AUROC = 0.93</text>
<path d="M397.3 1863.2 L397.6 1862.5 L389.8 1861.8 L383.2 1861.1 L381 1860.4 L381 1859.7 L381 1859 L381 1858.4 L381 1857.7 L381 1857 L381 1856.3 L381 1855.6 L381 1854.9 L381 1854.2 L381 1853.5 L381 1852.8 L381 1852.1 L381 1851.4 L381 1850.7 L381 1850 L381 1849.4 L381 1848.7 L381 1848 L381 1847.3 L381 1846.6 L381 1845.9 L381 1845.2 L381 1844.5 L381 1843.8 L381 1843.1 L381 1842.4 L381 1841.7 L381 1841 L381 1840.4 L381 1839.7 L381 1839 L381 1838.3 L381 1837.6 L381 1836.9 L381 1836.2 L381 1835.5 L381 1834.8 L381 1834.1 L381 1833.4 L381 1832.7 L381 1832 L381 1831.3 L381 1830.7 L381 1830 L381 1829.3 L381 1828.6 L381 1827.9 L381 1827.2 L381 1826.5 L381 1825.8 L381 1825.1 L381 1824.4 L381 1823.7 L381 1823 L381 1822.3 L381 1821.7 L381 1821 L381 1820.3 L381 1819.6 L381 1818.9 L381 1818.2 L381 1817.5 L381 1816.8 L381 1816.1 L381 1815.4 L381 1814.7 L381 1814 L381 1813.3 L381 1812.7 L381 1812 L381 1811.3 L381 1810.6 L381 1809.9 L381 1809.2 L381 1808.5 L381 1807.8 L381 1807.1 L381 1806.4 L381 1805.7 L381 1805 L381 1804.3 L381 1803.7 L381 1803 L381 1802.3 L381 1801.6 L380.2 1801.6 L380.2 1802.3 L380.2 1803 L380.2 1803.7 L380.2 1804.3 L380.2 1805 L380.2 1805.7 L380.2 1806.4 L380.2 1807.1 L380.2 1807.8 L380.2 1808.5 L380.2 1809.2 L380.2 1809.9 L380.2 1810.6 L380.2 1811.3 L380.2 1812 L380.2 1812.7 L380.2 1813.3 L380.2 1814 L380.2 1814.7 L380.2 1815.4 L380.2 1816.1 L380.2 1816.8 L380.2 1817.5 L380.2 1818.2 L380.2 1818.9 L380.2 1819.6 L380.2 1820.3 L380.2 1821 L380.2 1821.7 L380.2 1822.3 L380.2 1823 L380.2 1823.7 L380.2 1824.4 L380.2 1825.1 L380.2 1825.8 L380.2 1826.5 L380.2 1827.2 L380.2 1827.9 L380.2 1828.6 L380.2 1829.3 L380.2 1830 L380.2 1830.7 L380.2 1831.3 L380.2 1832 L380.2 1832.7 L380.2 1833.4 L380.2 1834.1 L380.2 1834.8 L380.2 1835.5 L380.2 1836.2 L380.2 1836.9 L380.2 1837.6 L380.2 1838.3 L380.2 1839 L380.2 1839.7 L380.2 1840.4 L380.2 1841 L380.2 1841.7 L380.2 1842.4 L380.2 1843.1 L380.2 1843.8 L380.2 1844.5 L380.2 1845.2 L380.2 1845.9 L380.2 1846.6 L380.2 1847.3 L380.2 1848 L380.2 1848.7 L380.2 1849.4 L380.2 1850 L380.2 1850.7 L380.2 1851.4 L380.2 1852.1 L380.2 1852.8 L380.2 1853.5 L380.2 1854.2 L380.2 1854.9 L380.2 1855.6 L380.2 1856.3 L380.2 1857 L380.2 1857.7 L380.2 1858.4 L380.2 1859 L380.2 1859.7 L380.2 1860.4 L378 1861.1 L371.4 1861.8 L363.6 1862.5 L363.9 1863.2Z" fill="#58b3e5" stroke="#262626" stroke-width="1.15" stroke-linejoin="round"/>
<line x1="380.6" y1="1863.2" x2="380.6" y2="1863.2" stroke="#444" stroke-width="1.1" />
<rect x="378.4" y="1863.2" width="4.4" height="1.5" fill="#3d3d3d" />
<circle cx="380.6" cy="1863.2" r="1.3" fill="#fff"/>
<path d="M423.9 1863.2 L423.9 1862.8 L423.9 1862.3 L423.9 1861.9 L423.9 1861.5 L423.9 1861 L423.9 1860.6 L423.9 1860.2 L423.9 1859.7 L423.9 1859.3 L423.9 1858.9 L423.9 1858.5 L423.9 1858 L423.9 1857.6 L423.9 1857.2 L423.9 1856.7 L423.9 1856.3 L423.9 1855.9 L423.9 1855.4 L423.9 1855 L423.9 1854.6 L424.1 1854.1 L424.2 1853.7 L424.5 1853.3 L424.7 1852.8 L425.1 1852.4 L425.5 1852 L426 1851.5 L426.6 1851.1 L427.2 1850.7 L428 1850.2 L428.8 1849.8 L429.8 1849.4 L430.8 1849 L431.9 1848.5 L433 1848.1 L434.2 1847.7 L435.3 1847.2 L436.5 1846.8 L437.6 1846.4 L438.6 1845.9 L439.5 1845.5 L440.2 1845.1 L440.7 1844.6 L441.1 1844.2 L441.3 1843.8 L441.3 1843.3 L441 1842.9 L440.6 1842.5 L440 1842 L439.2 1841.6 L438.3 1841.2 L437.2 1840.7 L436.1 1840.3 L435 1839.9 L433.8 1839.5 L432.7 1839 L431.6 1838.6 L430.5 1838.2 L429.5 1837.7 L428.7 1837.3 L427.9 1836.9 L427.2 1836.4 L426.7 1836 L426.2 1835.6 L425.8 1835.1 L425.6 1834.7 L425.3 1834.3 L425.2 1833.8 L425 1833.4 L424.9 1833 L424.8 1832.5 L424.6 1832.1 L424.5 1831.7 L424.3 1831.3 L424.2 1830.8 L424.1 1830.4 L423.9 1830 L423.9 1829.5 L423.9 1829.1 L423.9 1828.7 L423.9 1828.2 L423.9 1827.8 L423.9 1827.4 L423.9 1826.9 L423.9 1826.5 L423.9 1826.1 L423.9 1825.6 L423.9 1825.2 L423.9 1824.8 L423.1 1824.8 L423.1 1825.2 L423.1 1825.6 L423.1 1826.1 L423.1 1826.5 L423.1 1826.9 L423.1 1827.4 L423.1 1827.8 L423.1 1828.2 L423.1 1828.7 L423.1 1829.1 L423.1 1829.5 L423.1 1830 L422.9 1830.4 L422.8 1830.8 L422.7 1831.3 L422.5 1831.7 L422.4 1832.1 L422.2 1832.5 L422.1 1833 L422 1833.4 L421.8 1833.8 L421.7 1834.3 L421.4 1834.7 L421.2 1835.1 L420.8 1835.6 L420.3 1836 L419.8 1836.4 L419.1 1836.9 L418.3 1837.3 L417.5 1837.7 L416.5 1838.2 L415.4 1838.6 L414.3 1839 L413.2 1839.5 L412 1839.9 L410.9 1840.3 L409.8 1840.7 L408.7 1841.2 L407.8 1841.6 L407 1842 L406.4 1842.5 L406 1842.9 L405.7 1843.3 L405.7 1843.8 L405.9 1844.2 L406.3 1844.6 L406.8 1845.1 L407.5 1845.5 L408.4 1845.9 L409.4 1846.4 L410.5 1846.8 L411.7 1847.2 L412.8 1847.7 L414 1848.1 L415.1 1848.5 L416.2 1849 L417.2 1849.4 L418.2 1849.8 L419 1850.2 L419.8 1850.7 L420.4 1851.1 L421 1851.5 L421.5 1852 L421.9 1852.4 L422.3 1852.8 L422.5 1853.3 L422.8 1853.7 L422.9 1854.1 L423.1 1854.6 L423.1 1855 L423.1 1855.4 L423.1 1855.9 L423.1 1856.3 L423.1 1856.7 L423.1 1857.2 L423.1 1857.6 L423.1 1858 L423.1 1858.5 L423.1 1858.9 L423.1 1859.3 L423.1 1859.7 L423.1 1860.2 L423.1 1860.6 L423.1 1861 L423.1 1861.5 L423.1 1861.9 L423.1 1862.3 L423.1 1862.8 L423.1 1863.2Z" fill="#3b80cb" stroke="#262626" stroke-width="1.15" stroke-linejoin="round"/>
<line x1="423.5" y1="1858.1" x2="423.5" y2="1829.1" stroke="#444" stroke-width="1.1" />
<rect x="421.3" y="1840" width="4.4" height="7.2" fill="#3d3d3d" />
<circle cx="423.5" cy="1843.6" r="1.3" fill="#fff"/>
<rect x="449.4" y="1860.8" width="34" height="3.3" fill="#b4a8e1" stroke="#262626" stroke-width="1.1" rx="0.9"/>
<rect x="464.2" y="1861" width="4.4" height="4.4" fill="#3d3d3d" />
<circle cx="466.4" cy="1863.2" r="1.3" fill="#fff"/>
<rect x="492.3" y="1861.2" width="34" height="2.9" fill="#84d9cb" stroke="#262626" stroke-width="1.1" rx="0.9"/>
<rect x="507.1" y="1861" width="4.4" height="4.4" fill="#3d3d3d" />
<circle cx="509.3" cy="1863.2" r="1.3" fill="#fff"/>
<path d="M569.2 1863.2 L568.3 1861.2 L560.2 1859.2 L555.4 1857.3 L553.8 1855.3 L553 1853.3 L552.6 1851.3 L552.6 1849.3 L552.6 1847.4 L552.6 1845.4 L552.6 1843.4 L552.6 1841.4 L552.6 1839.4 L552.6 1837.5 L552.6 1835.5 L552.6 1833.5 L552.6 1831.5 L552.6 1829.5 L552.6 1827.6 L552.6 1825.6 L552.6 1823.6 L552.6 1821.6 L552.6 1819.7 L552.6 1817.7 L552.6 1815.7 L552.6 1813.7 L552.6 1811.7 L552.6 1809.8 L552.6 1807.8 L552.6 1805.8 L552.6 1803.8 L552.6 1801.8 L552.6 1799.9 L552.6 1797.9 L552.6 1795.9 L552.6 1793.9 L552.6 1791.9 L552.6 1790 L552.6 1788 L552.6 1786 L552.6 1784 L552.6 1782 L552.6 1780.1 L552.6 1778.1 L552.6 1776.1 L552.6 1774.1 L552.6 1772.1 L552.6 1770.2 L552.6 1768.2 L552.6 1766.2 L552.6 1764.2 L552.6 1762.2 L552.6 1760.3 L552.6 1758.3 L552.6 1756.3 L552.6 1754.3 L552.6 1752.3 L552.6 1750.4 L552.6 1748.4 L552.6 1746.4 L552.6 1744.4 L552.6 1742.5 L552.6 1740.5 L552.6 1738.5 L552.6 1736.5 L552.6 1734.5 L552.6 1732.6 L552.6 1730.6 L552.6 1728.6 L552.6 1726.6 L552.6 1724.6 L552.6 1722.7 L552.6 1720.7 L552.6 1718.7 L552.6 1716.7 L552.6 1714.7 L552.6 1712.8 L552.6 1710.8 L552.6 1708.8 L552.6 1706.8 L552.6 1704.8 L552.6 1702.9 L552.6 1700.9 L552.6 1698.9 L552.6 1696.9 L552.6 1694.9 L552.6 1693 L552.6 1691 L552.6 1689 L552.6 1687 L551.9 1687 L551.9 1689 L551.9 1691 L551.9 1693 L551.9 1694.9 L551.9 1696.9 L551.9 1698.9 L551.9 1700.9 L551.9 1702.9 L551.9 1704.8 L551.9 1706.8 L551.9 1708.8 L551.9 1710.8 L551.9 1712.8 L551.9 1714.7 L551.9 1716.7 L551.9 1718.7 L551.9 1720.7 L551.9 1722.7 L551.9 1724.6 L551.9 1726.6 L551.9 1728.6 L551.9 1730.6 L551.9 1732.6 L551.9 1734.5 L551.9 1736.5 L551.9 1738.5 L551.9 1740.5 L551.9 1742.5 L551.9 1744.4 L551.9 1746.4 L551.9 1748.4 L551.9 1750.4 L551.9 1752.3 L551.9 1754.3 L551.9 1756.3 L551.9 1758.3 L551.9 1760.3 L551.9 1762.2 L551.9 1764.2 L551.9 1766.2 L551.9 1768.2 L551.9 1770.2 L551.9 1772.1 L551.9 1774.1 L551.9 1776.1 L551.9 1778.1 L551.9 1780.1 L551.9 1782 L551.9 1784 L551.9 1786 L551.9 1788 L551.9 1790 L551.9 1791.9 L551.9 1793.9 L551.9 1795.9 L551.9 1797.9 L551.9 1799.9 L551.9 1801.8 L551.9 1803.8 L551.9 1805.8 L551.9 1807.8 L551.9 1809.8 L551.9 1811.7 L551.9 1813.7 L551.9 1815.7 L551.9 1817.7 L551.9 1819.7 L551.9 1821.6 L551.9 1823.6 L551.9 1825.6 L551.9 1827.6 L551.9 1829.5 L551.9 1831.5 L551.9 1833.5 L551.9 1835.5 L551.9 1837.5 L551.9 1839.4 L551.9 1841.4 L551.9 1843.4 L551.9 1845.4 L551.9 1847.4 L551.9 1849.3 L551.9 1851.3 L551.4 1853.3 L550.6 1855.3 L549 1857.3 L544.2 1859.2 L536.1 1861.2 L535.2 1863.2Z" fill="#cfe3f2" stroke="#262626" stroke-width="1.15" stroke-linejoin="round"/>
<line x1="552.2" y1="1863.2" x2="552.2" y2="1857.8" stroke="#444" stroke-width="1.1" />
<rect x="550" y="1861" width="4.4" height="2.2" fill="#3d3d3d" />
<circle cx="552.2" cy="1862.8" r="1.3" fill="#fff"/>
<rect x="639.7" y="1677.6" width="214.3" height="194.2" fill="none" stroke="#4a4a4a" stroke-width="1.6" />
<line x1="637.5" y1="1863.2" x2="639.7" y2="1863.2" stroke="#333" stroke-width="1.2" />
<line x1="637.5" y1="1822.8" x2="639.7" y2="1822.8" stroke="#333" stroke-width="1.2" />
<line x1="637.5" y1="1782.4" x2="639.7" y2="1782.4" stroke="#333" stroke-width="1.2" />
<line x1="637.5" y1="1742" x2="639.7" y2="1742" stroke="#333" stroke-width="1.2" />
<line x1="637.5" y1="1701.6" x2="639.7" y2="1701.6" stroke="#333" stroke-width="1.2" />
<text x="635.4" y="1868.4" text-anchor="end" >0.0</text>
<text x="635.4" y="1787.6" text-anchor="end" >0.2</text>
<text x="635.4" y="1706.8" text-anchor="end" >0.4</text>
<text x="603.2" y="1761.7" text-anchor="middle" transform="rotate(-90 603.2 1761.7)" >Mean feature activation</text>
<line x1="661.3" y1="1871.8" x2="661.3" y2="1874.8" stroke="#333" stroke-width="1.2" />
<line x1="704.2" y1="1871.8" x2="704.2" y2="1874.8" stroke="#333" stroke-width="1.2" />
<line x1="747.1" y1="1871.8" x2="747.1" y2="1874.8" stroke="#333" stroke-width="1.2" />
<line x1="790" y1="1871.8" x2="790" y2="1874.8" stroke="#333" stroke-width="1.2" />
<line x1="832.9" y1="1871.8" x2="832.9" y2="1874.8" stroke="#333" stroke-width="1.2" />
<text x="691.7" y="1885.8" font-size="18.2" text-anchor="end" transform="rotate(-45 691.7 1885.8)" >(+) ORF</text>
<text x="731.7" y="1885.8" font-size="18.2" text-anchor="end" transform="rotate(-45 731.7 1885.8)" >(-) ORF</text>
<text x="760.3" y="1885.8" font-size="18.2" text-anchor="end" transform="rotate(-45 760.3 1885.8)" >tRNA</text>
<text x="803.2" y="1885.8" font-size="18.2" text-anchor="end" transform="rotate(-45 803.2 1885.8)" >rRNA</text>
<text x="843.7" y="1885.8" font-size="18.2" text-anchor="end" transform="rotate(-45 843.7 1885.8)" >Intergenic</text>
<text x="746.9" y="1647" text-anchor="middle" ><tspan fill="#4a87bf">Intergenic</tspan> <tspan fill="#a3a3a3">f/15481</tspan></text>
<text x="747.9" y="1671.9" text-anchor="middle" >AUROC = 0.75</text>
<path d="M674.2 1863.2 L678.3 1861.4 L669.5 1859.5 L664.4 1857.7 L662.6 1855.8 L661.7 1854 L661.7 1852.2 L661.7 1850.3 L661.7 1848.5 L661.7 1846.7 L661.7 1844.8 L661.7 1843 L661.7 1841.1 L661.7 1839.3 L661.7 1837.5 L661.7 1835.6 L661.7 1833.8 L661.7 1831.9 L661.7 1830.1 L661.7 1828.3 L661.7 1826.4 L661.7 1824.6 L661.7 1822.8 L661.7 1820.9 L661.7 1819.1 L661.7 1817.2 L661.7 1815.4 L661.7 1813.6 L661.7 1811.7 L661.7 1809.9 L661.7 1808 L661.7 1806.2 L661.7 1804.4 L661.7 1802.5 L661.7 1800.7 L661.7 1798.9 L661.7 1797 L661.7 1795.2 L661.7 1793.3 L661.7 1791.5 L661.7 1789.7 L661.7 1787.8 L661.7 1786 L661.7 1784.1 L661.7 1782.3 L661.7 1780.5 L661.7 1778.6 L661.7 1776.8 L661.7 1775 L661.7 1773.1 L661.7 1771.3 L661.7 1769.4 L661.7 1767.6 L661.7 1765.8 L661.7 1763.9 L661.7 1762.1 L661.7 1760.2 L661.7 1758.4 L661.7 1756.6 L661.7 1754.7 L661.7 1752.9 L661.7 1751.1 L661.7 1749.2 L661.7 1747.4 L661.7 1745.5 L661.7 1743.7 L661.7 1741.9 L661.7 1740 L661.7 1738.2 L661.7 1736.3 L661.7 1734.5 L661.7 1732.7 L661.7 1730.8 L661.7 1729 L661.7 1727.2 L661.7 1725.3 L661.7 1723.5 L661.7 1721.6 L661.7 1719.8 L661.7 1718 L661.7 1716.1 L661.7 1714.3 L661.7 1712.4 L661.7 1710.6 L661.7 1708.8 L661.7 1706.9 L661.7 1705.1 L661.7 1703.3 L661.7 1701.4 L661.7 1699.6 L661 1699.6 L661 1701.4 L661 1703.3 L661 1705.1 L661 1706.9 L661 1708.8 L661 1710.6 L661 1712.4 L661 1714.3 L661 1716.1 L661 1718 L661 1719.8 L661 1721.6 L661 1723.5 L661 1725.3 L661 1727.2 L661 1729 L661 1730.8 L661 1732.7 L661 1734.5 L661 1736.3 L661 1738.2 L661 1740 L661 1741.9 L661 1743.7 L661 1745.5 L661 1747.4 L661 1749.2 L661 1751.1 L661 1752.9 L661 1754.7 L661 1756.6 L661 1758.4 L661 1760.2 L661 1762.1 L661 1763.9 L661 1765.8 L661 1767.6 L661 1769.4 L661 1771.3 L661 1773.1 L661 1775 L661 1776.8 L661 1778.6 L661 1780.5 L661 1782.3 L661 1784.1 L661 1786 L661 1787.8 L661 1789.7 L661 1791.5 L661 1793.3 L661 1795.2 L661 1797 L661 1798.9 L661 1800.7 L661 1802.5 L661 1804.4 L661 1806.2 L661 1808 L661 1809.9 L661 1811.7 L661 1813.6 L661 1815.4 L661 1817.2 L661 1819.1 L661 1820.9 L661 1822.8 L661 1824.6 L661 1826.4 L661 1828.3 L661 1830.1 L661 1831.9 L661 1833.8 L661 1835.6 L661 1837.5 L661 1839.3 L661 1841.1 L661 1843 L661 1844.8 L661 1846.7 L661 1848.5 L661 1850.3 L661 1852.2 L661 1854 L660 1855.8 L658.2 1857.7 L653.1 1859.5 L644.3 1861.4 L648.4 1863.2Z" fill="#58b3e5" stroke="#262626" stroke-width="1.15" stroke-linejoin="round"/>
<line x1="661.3" y1="1863.2" x2="661.3" y2="1860.2" stroke="#444" stroke-width="1.1" />
<rect x="659.1" y="1862" width="4.4" height="1.5" fill="#3d3d3d" />
<circle cx="661.3" cy="1862.8" r="1.3" fill="#fff"/>
<path d="M717.9 1863.2 L721.2 1862.2 L715.6 1861.3 L708.3 1860.3 L705 1859.4 L704.6 1858.4 L704.6 1857.5 L704.6 1856.5 L704.6 1855.6 L704.6 1854.6 L704.6 1853.7 L704.6 1852.7 L704.6 1851.8 L704.6 1850.8 L704.6 1849.9 L704.6 1848.9 L704.6 1847.9 L704.6 1847 L704.6 1846 L704.6 1845.1 L704.6 1844.1 L704.6 1843.2 L704.6 1842.2 L704.6 1841.3 L704.6 1840.3 L704.6 1839.4 L704.6 1838.4 L704.6 1837.5 L704.6 1836.5 L704.6 1835.6 L704.6 1834.6 L704.6 1833.6 L704.6 1832.7 L704.6 1831.7 L704.6 1830.8 L704.6 1829.8 L704.6 1828.9 L704.6 1827.9 L704.6 1827 L704.6 1826 L704.6 1825.1 L704.6 1824.1 L704.6 1823.2 L704.6 1822.2 L704.6 1821.3 L704.6 1820.3 L704.6 1819.4 L704.6 1818.4 L704.6 1817.4 L704.6 1816.5 L704.6 1815.5 L704.6 1814.6 L704.6 1813.6 L704.6 1812.7 L704.6 1811.7 L704.6 1810.8 L704.6 1809.8 L704.6 1808.9 L704.6 1807.9 L704.6 1807 L704.6 1806 L704.6 1805.1 L704.6 1804.1 L704.6 1803.1 L704.6 1802.2 L704.6 1801.2 L704.6 1800.3 L704.6 1799.3 L704.6 1798.4 L704.6 1797.4 L704.6 1796.5 L704.6 1795.5 L704.6 1794.6 L704.6 1793.6 L704.6 1792.7 L704.6 1791.7 L704.6 1790.8 L704.6 1789.8 L704.6 1788.8 L704.6 1787.9 L704.6 1786.9 L704.6 1786 L704.6 1785 L704.6 1784.1 L704.6 1783.1 L704.6 1782.2 L704.6 1781.2 L704.6 1780.3 L704.6 1779.3 L704.6 1778.4 L703.9 1778.4 L703.9 1779.3 L703.9 1780.3 L703.9 1781.2 L703.9 1782.2 L703.9 1783.1 L703.9 1784.1 L703.9 1785 L703.9 1786 L703.9 1786.9 L703.9 1787.9 L703.9 1788.8 L703.9 1789.8 L703.9 1790.8 L703.9 1791.7 L703.9 1792.7 L703.9 1793.6 L703.9 1794.6 L703.9 1795.5 L703.9 1796.5 L703.9 1797.4 L703.9 1798.4 L703.9 1799.3 L703.9 1800.3 L703.9 1801.2 L703.9 1802.2 L703.9 1803.1 L703.9 1804.1 L703.9 1805.1 L703.9 1806 L703.9 1807 L703.9 1807.9 L703.9 1808.9 L703.9 1809.8 L703.9 1810.8 L703.9 1811.7 L703.9 1812.7 L703.9 1813.6 L703.9 1814.6 L703.9 1815.5 L703.9 1816.5 L703.9 1817.4 L703.9 1818.4 L703.9 1819.4 L703.9 1820.3 L703.9 1821.3 L703.9 1822.2 L703.9 1823.2 L703.9 1824.1 L703.9 1825.1 L703.9 1826 L703.9 1827 L703.9 1827.9 L703.9 1828.9 L703.9 1829.8 L703.9 1830.8 L703.9 1831.7 L703.9 1832.7 L703.9 1833.6 L703.9 1834.6 L703.9 1835.6 L703.9 1836.5 L703.9 1837.5 L703.9 1838.4 L703.9 1839.4 L703.9 1840.3 L703.9 1841.3 L703.9 1842.2 L703.9 1843.2 L703.9 1844.1 L703.9 1845.1 L703.9 1846 L703.9 1847 L703.9 1847.9 L703.9 1848.9 L703.9 1849.9 L703.9 1850.8 L703.9 1851.8 L703.9 1852.7 L703.9 1853.7 L703.9 1854.6 L703.9 1855.6 L703.9 1856.5 L703.9 1857.5 L703.9 1858.4 L703.4 1859.4 L700.1 1860.3 L692.8 1861.3 L687.2 1862.2 L690.5 1863.2Z" fill="#3b80cb" stroke="#262626" stroke-width="1.15" stroke-linejoin="round"/>
<line x1="704.2" y1="1863.2" x2="704.2" y2="1860.2" stroke="#444" stroke-width="1.1" />
<rect x="702" y="1862" width="4.4" height="1.5" fill="#3d3d3d" />
<circle cx="704.2" cy="1862.8" r="1.3" fill="#fff"/>
<path d="M757.4 1863.2 L758.2 1863.1 L758.9 1863 L759.6 1862.8 L760.3 1862.7 L761 1862.6 L761.6 1862.5 L762.2 1862.4 L762.7 1862.3 L763.1 1862.1 L763.5 1862 L763.8 1861.9 L764 1861.8 L764.1 1861.7 L764.1 1861.5 L764 1861.4 L763.9 1861.3 L763.6 1861.2 L763.3 1861.1 L762.9 1861 L762.5 1860.8 L761.9 1860.7 L761.3 1860.6 L760.7 1860.5 L760.1 1860.4 L759.4 1860.2 L758.7 1860.1 L758 1860 L757.3 1859.9 L756.6 1859.8 L756 1859.7 L755.4 1859.5 L754.8 1859.4 L754.2 1859.3 L753.8 1859.2 L753.3 1859.1 L752.9 1859 L752.6 1858.8 L752.3 1858.7 L752.1 1858.6 L752 1858.5 L751.9 1858.4 L751.8 1858.2 L751.9 1858.1 L751.9 1858 L752 1857.9 L752.1 1857.8 L752.3 1857.7 L752.5 1857.5 L752.7 1857.4 L752.9 1857.3 L753.2 1857.2 L753.4 1857.1 L753.6 1856.9 L753.9 1856.8 L754.1 1856.7 L754.3 1856.6 L754.4 1856.5 L754.6 1856.4 L754.7 1856.2 L754.7 1856.1 L754.8 1856 L754.8 1855.9 L754.7 1855.8 L754.6 1855.6 L754.5 1855.5 L754.4 1855.4 L754.2 1855.3 L754 1855.2 L753.7 1855.1 L753.4 1854.9 L753.1 1854.8 L752.8 1854.7 L752.5 1854.6 L752.2 1854.5 L751.8 1854.3 L751.5 1854.2 L751.2 1854.1 L750.8 1854 L750.5 1853.9 L750.2 1853.8 L749.9 1853.6 L749.6 1853.5 L749.4 1853.4 L749.1 1853.3 L748.9 1853.2 L748.7 1853.1 L748.5 1852.9 L748.3 1852.8 L748.1 1852.7 L746.1 1852.7 L745.9 1852.8 L745.7 1852.9 L745.5 1853.1 L745.3 1853.2 L745.1 1853.3 L744.8 1853.4 L744.6 1853.5 L744.3 1853.6 L744 1853.8 L743.7 1853.9 L743.4 1854 L743 1854.1 L742.7 1854.2 L742.4 1854.3 L742 1854.5 L741.7 1854.6 L741.4 1854.7 L741.1 1854.8 L740.8 1854.9 L740.5 1855.1 L740.2 1855.2 L740 1855.3 L739.8 1855.4 L739.7 1855.5 L739.6 1855.6 L739.5 1855.8 L739.4 1855.9 L739.4 1856 L739.5 1856.1 L739.5 1856.2 L739.6 1856.4 L739.8 1856.5 L739.9 1856.6 L740.1 1856.7 L740.3 1856.8 L740.6 1856.9 L740.8 1857.1 L741 1857.2 L741.3 1857.3 L741.5 1857.4 L741.7 1857.5 L741.9 1857.7 L742.1 1857.8 L742.2 1857.9 L742.3 1858 L742.3 1858.1 L742.4 1858.2 L742.3 1858.4 L742.2 1858.5 L742.1 1858.6 L741.9 1858.7 L741.6 1858.8 L741.3 1859 L740.9 1859.1 L740.4 1859.2 L740 1859.3 L739.4 1859.4 L738.8 1859.5 L738.2 1859.7 L737.6 1859.8 L736.9 1859.9 L736.2 1860 L735.5 1860.1 L734.8 1860.2 L734.1 1860.4 L733.5 1860.5 L732.9 1860.6 L732.3 1860.7 L731.7 1860.8 L731.3 1861 L730.9 1861.1 L730.6 1861.2 L730.3 1861.3 L730.2 1861.4 L730.1 1861.5 L730.1 1861.7 L730.2 1861.8 L730.4 1861.9 L730.7 1862 L731.1 1862.1 L731.5 1862.3 L732 1862.4 L732.6 1862.5 L733.2 1862.6 L733.9 1862.7 L734.6 1862.8 L735.3 1863 L736 1863.1 L736.8 1863.2Z" fill="#b4a8e1" stroke="#262626" stroke-width="1.15" stroke-linejoin="round"/>
<line x1="747.1" y1="1863.2" x2="747.1" y2="1852.7" stroke="#444" stroke-width="1.1" />
<rect x="744.9" y="1855.1" width="4.4" height="8.1" fill="#3d3d3d" />
<circle cx="747.1" cy="1860.8" r="1.3" fill="#fff"/>
<path d="M807 1863.2 L807 1863.2 L807 1863.1 L807 1863.1 L806.9 1863.1 L806.9 1863 L806.8 1863 L806.8 1862.9 L806.7 1862.9 L806.7 1862.9 L806.6 1862.8 L806.5 1862.8 L806.4 1862.8 L806.3 1862.7 L806.2 1862.7 L806.1 1862.7 L805.9 1862.6 L805.8 1862.6 L805.7 1862.5 L805.5 1862.5 L805.4 1862.5 L805.2 1862.4 L805 1862.4 L804.9 1862.4 L804.7 1862.3 L804.5 1862.3 L804.3 1862.3 L804.1 1862.2 L803.9 1862.2 L803.7 1862.1 L803.5 1862.1 L803.3 1862.1 L803.1 1862 L802.9 1862 L802.7 1862 L802.5 1861.9 L802.3 1861.9 L802 1861.9 L801.8 1861.8 L801.6 1861.8 L801.4 1861.7 L801.1 1861.7 L800.9 1861.7 L800.7 1861.6 L800.4 1861.6 L800.2 1861.6 L800 1861.5 L799.7 1861.5 L799.5 1861.5 L799.3 1861.4 L799 1861.4 L798.8 1861.3 L798.6 1861.3 L798.4 1861.3 L798.1 1861.2 L797.9 1861.2 L797.7 1861.2 L797.5 1861.1 L797.3 1861.1 L797.1 1861.1 L796.8 1861 L796.6 1861 L796.4 1860.9 L796.2 1860.9 L796 1860.9 L795.8 1860.8 L795.7 1860.8 L795.5 1860.8 L795.3 1860.7 L795.1 1860.7 L794.9 1860.7 L794.8 1860.6 L794.6 1860.6 L794.4 1860.5 L794.3 1860.5 L794.1 1860.5 L794 1860.4 L793.8 1860.4 L793.7 1860.4 L793.5 1860.3 L793.4 1860.3 L793.2 1860.3 L793.1 1860.2 L793 1860.2 L792.9 1860.1 L792.7 1860.1 L792.6 1860.1 L792.5 1860 L792.4 1860 L792.3 1860 L787.7 1860 L787.6 1860 L787.5 1860 L787.4 1860.1 L787.3 1860.1 L787.1 1860.1 L787 1860.2 L786.9 1860.2 L786.8 1860.3 L786.6 1860.3 L786.5 1860.3 L786.3 1860.4 L786.2 1860.4 L786 1860.4 L785.9 1860.5 L785.7 1860.5 L785.6 1860.5 L785.4 1860.6 L785.2 1860.6 L785.1 1860.7 L784.9 1860.7 L784.7 1860.7 L784.5 1860.8 L784.3 1860.8 L784.2 1860.8 L784 1860.9 L783.8 1860.9 L783.6 1860.9 L783.4 1861 L783.2 1861 L782.9 1861.1 L782.7 1861.1 L782.5 1861.1 L782.3 1861.2 L782.1 1861.2 L781.9 1861.2 L781.6 1861.3 L781.4 1861.3 L781.2 1861.3 L781 1861.4 L780.7 1861.4 L780.5 1861.5 L780.3 1861.5 L780 1861.5 L779.8 1861.6 L779.6 1861.6 L779.3 1861.6 L779.1 1861.7 L778.9 1861.7 L778.6 1861.7 L778.4 1861.8 L778.2 1861.8 L778 1861.9 L777.7 1861.9 L777.5 1861.9 L777.3 1862 L777.1 1862 L776.9 1862 L776.7 1862.1 L776.5 1862.1 L776.3 1862.1 L776.1 1862.2 L775.9 1862.2 L775.7 1862.3 L775.5 1862.3 L775.3 1862.3 L775.1 1862.4 L775 1862.4 L774.8 1862.4 L774.6 1862.5 L774.5 1862.5 L774.3 1862.5 L774.2 1862.6 L774.1 1862.6 L773.9 1862.7 L773.8 1862.7 L773.7 1862.7 L773.6 1862.8 L773.5 1862.8 L773.4 1862.8 L773.3 1862.9 L773.3 1862.9 L773.2 1862.9 L773.2 1863 L773.1 1863 L773.1 1863.1 L773 1863.1 L773 1863.1 L773 1863.2 L773 1863.2Z" fill="#84d9cb" stroke="#262626" stroke-width="1.15" stroke-linejoin="round"/>
<path d="M847.8 1863.2 L849.3 1861.2 L849.9 1859.2 L849.5 1857.2 L848.2 1855.2 L846.4 1853.2 L844.6 1851.2 L842.9 1849.2 L841.6 1847.2 L840.6 1845.2 L840.1 1843.2 L839.8 1841.2 L839.6 1839.2 L839.4 1837.2 L839.2 1835.2 L839 1833.2 L838.7 1831.2 L838.4 1829.2 L838 1827.2 L837.6 1825.3 L837.2 1823.3 L836.8 1821.3 L836.3 1819.3 L836 1817.3 L835.6 1815.3 L835.3 1813.3 L835 1811.3 L834.7 1809.3 L834.5 1807.3 L834.3 1805.3 L834.2 1803.3 L834 1801.3 L833.9 1799.3 L833.8 1797.3 L833.7 1795.3 L833.6 1793.3 L833.5 1791.3 L833.5 1789.3 L833.4 1787.3 L833.3 1785.3 L833.3 1783.3 L833.3 1781.3 L833.3 1779.3 L833.3 1777.3 L833.3 1775.3 L833.3 1773.3 L833.3 1771.3 L833.3 1769.3 L833.3 1767.3 L833.3 1765.3 L833.3 1763.3 L833.3 1761.3 L833.3 1759.3 L833.3 1757.3 L833.3 1755.3 L833.3 1753.3 L833.3 1751.4 L833.3 1749.4 L833.3 1747.4 L833.3 1745.4 L833.3 1743.4 L833.3 1741.4 L833.3 1739.4 L833.3 1737.4 L833.3 1735.4 L833.3 1733.4 L833.3 1731.4 L833.3 1729.4 L833.3 1727.4 L833.3 1725.4 L833.3 1723.4 L833.3 1721.4 L833.3 1719.4 L833.3 1717.4 L833.3 1715.4 L833.3 1713.4 L833.3 1711.4 L833.3 1709.4 L833.3 1707.4 L833.3 1705.4 L833.3 1703.4 L833.3 1701.4 L833.3 1699.4 L833.3 1697.4 L833.3 1695.4 L833.3 1693.4 L833.3 1691.4 L833.3 1689.4 L833.3 1687.4 L833.3 1685.4 L832.6 1685.4 L832.6 1687.4 L832.6 1689.4 L832.6 1691.4 L832.6 1693.4 L832.6 1695.4 L832.6 1697.4 L832.6 1699.4 L832.6 1701.4 L832.6 1703.4 L832.6 1705.4 L832.6 1707.4 L832.6 1709.4 L832.6 1711.4 L832.6 1713.4 L832.6 1715.4 L832.6 1717.4 L832.6 1719.4 L832.6 1721.4 L832.6 1723.4 L832.6 1725.4 L832.6 1727.4 L832.6 1729.4 L832.6 1731.4 L832.6 1733.4 L832.6 1735.4 L832.6 1737.4 L832.6 1739.4 L832.6 1741.4 L832.6 1743.4 L832.6 1745.4 L832.6 1747.4 L832.6 1749.4 L832.6 1751.4 L832.6 1753.3 L832.6 1755.3 L832.6 1757.3 L832.6 1759.3 L832.6 1761.3 L832.6 1763.3 L832.6 1765.3 L832.6 1767.3 L832.6 1769.3 L832.6 1771.3 L832.6 1773.3 L832.6 1775.3 L832.6 1777.3 L832.6 1779.3 L832.6 1781.3 L832.5 1783.3 L832.5 1785.3 L832.4 1787.3 L832.3 1789.3 L832.3 1791.3 L832.2 1793.3 L832.1 1795.3 L832 1797.3 L831.9 1799.3 L831.8 1801.3 L831.6 1803.3 L831.5 1805.3 L831.3 1807.3 L831.1 1809.3 L830.8 1811.3 L830.5 1813.3 L830.2 1815.3 L829.8 1817.3 L829.5 1819.3 L829 1821.3 L828.6 1823.3 L828.2 1825.3 L827.8 1827.2 L827.4 1829.2 L827.1 1831.2 L826.8 1833.2 L826.6 1835.2 L826.4 1837.2 L826.2 1839.2 L826 1841.2 L825.7 1843.2 L825.2 1845.2 L824.2 1847.2 L822.9 1849.2 L821.2 1851.2 L819.4 1853.2 L817.6 1855.2 L816.3 1857.2 L815.9 1859.2 L816.5 1861.2 L818 1863.2Z" fill="#cfe3f2" stroke="#262626" stroke-width="1.15" stroke-linejoin="round"/>
<line x1="832.9" y1="1863.2" x2="832.9" y2="1772.3" stroke="#444" stroke-width="1.1" />
<rect x="830.7" y="1826.8" width="4.4" height="36.4" fill="#3d3d3d" />
<circle cx="832.9" cy="1845" r="1.3" fill="#fff"/>
<rect x="912.4" y="1677.6" width="214.9" height="194.2" fill="none" stroke="#4a4a4a" stroke-width="1.6" />
<line x1="910.2" y1="1863.2" x2="912.4" y2="1863.2" stroke="#333" stroke-width="1.2" />
<line x1="910.2" y1="1821.9" x2="912.4" y2="1821.9" stroke="#333" stroke-width="1.2" />
<line x1="910.2" y1="1780.5" x2="912.4" y2="1780.5" stroke="#333" stroke-width="1.2" />
<line x1="910.2" y1="1739.2" x2="912.4" y2="1739.2" stroke="#333" stroke-width="1.2" />
<line x1="910.2" y1="1697.8" x2="912.4" y2="1697.8" stroke="#333" stroke-width="1.2" />
<text x="908.1" y="1868.4" text-anchor="end" >0</text>
<text x="908.1" y="1785.7" text-anchor="end" >2</text>
<text x="908.1" y="1703" text-anchor="end" >4</text>
<text x="879.3" y="1761.7" text-anchor="middle" transform="rotate(-90 879.3 1761.7)" >Mean feature activation</text>
<line x1="934" y1="1871.8" x2="934" y2="1874.8" stroke="#333" stroke-width="1.2" />
<line x1="976.9" y1="1871.8" x2="976.9" y2="1874.8" stroke="#333" stroke-width="1.2" />
<line x1="1019.8" y1="1871.8" x2="1019.8" y2="1874.8" stroke="#333" stroke-width="1.2" />
<line x1="1062.7" y1="1871.8" x2="1062.7" y2="1874.8" stroke="#333" stroke-width="1.2" />
<line x1="1105.6" y1="1871.8" x2="1105.6" y2="1874.8" stroke="#333" stroke-width="1.2" />
<text x="964.4" y="1885.8" font-size="18.2" text-anchor="end" transform="rotate(-45 964.4 1885.8)" >(+) ORF</text>
<text x="1004.4" y="1885.8" font-size="18.2" text-anchor="end" transform="rotate(-45 1004.4 1885.8)" >(-) ORF</text>
<text x="1033" y="1885.8" font-size="18.2" text-anchor="end" transform="rotate(-45 1033 1885.8)" >tRNA</text>
<text x="1075.9" y="1885.8" font-size="18.2" text-anchor="end" transform="rotate(-45 1075.9 1885.8)" >rRNA</text>
<text x="1116.4" y="1885.8" font-size="18.2" text-anchor="end" transform="rotate(-45 1116.4 1885.8)" >Intergenic</text>
<text x="1019.8" y="1647" text-anchor="middle" ><tspan fill="#4a87bf">rRNA</tspan> <tspan fill="#a3a3a3">f/2812</tspan></text>
<text x="1020.8" y="1671.9" text-anchor="middle" >AUROC = 0.99</text>
<rect x="916.7" y="1861.9" width="34.6" height="2.2" fill="#58b3e5" stroke="#262626" stroke-width="1.1" rx="0.9"/>
<rect x="959.6" y="1861.9" width="34.6" height="2.2" fill="#3b80cb" stroke="#262626" stroke-width="1.1" rx="0.9"/>
<path d="M1037.1 1863.2 L1037 1863.1 L1036.9 1863.1 L1036.6 1863 L1036.1 1862.9 L1035.6 1862.9 L1035 1862.8 L1034.3 1862.7 L1033.6 1862.6 L1032.8 1862.6 L1031.9 1862.5 L1031.1 1862.4 L1030.2 1862.4 L1029.3 1862.3 L1028.4 1862.2 L1027.6 1862.2 L1026.8 1862.1 L1026 1862 L1025.3 1861.9 L1024.6 1861.9 L1024 1861.8 L1023.4 1861.7 L1022.9 1861.7 L1022.5 1861.6 L1022.1 1861.5 L1021.7 1861.5 L1021.4 1861.4 L1021.1 1861.3 L1020.9 1861.2 L1020.7 1861.2 L1020.6 1861.1 L1020.5 1861 L1020.4 1861 L1020.3 1860.9 L1020.3 1860.8 L1020.2 1860.8 L1020.2 1860.7 L1020.2 1860.6 L1020.2 1860.6 L1020.3 1860.5 L1020.3 1860.4 L1020.4 1860.3 L1020.4 1860.3 L1020.5 1860.2 L1020.6 1860.1 L1020.6 1860.1 L1020.7 1860 L1020.8 1859.9 L1020.9 1859.9 L1021 1859.8 L1021.1 1859.7 L1021.2 1859.6 L1021.2 1859.6 L1021.3 1859.5 L1021.4 1859.4 L1021.4 1859.4 L1021.5 1859.3 L1021.5 1859.2 L1021.5 1859.2 L1021.5 1859.1 L1021.5 1859 L1021.5 1858.9 L1021.5 1858.9 L1021.4 1858.8 L1021.4 1858.7 L1021.3 1858.7 L1021.3 1858.6 L1021.2 1858.5 L1021.1 1858.5 L1021 1858.4 L1021 1858.3 L1020.9 1858.3 L1020.8 1858.2 L1020.7 1858.1 L1020.6 1858 L1020.5 1858 L1020.4 1857.9 L1020.4 1857.8 L1020.3 1857.8 L1020.2 1857.7 L1020.2 1857.6 L1020.1 1857.6 L1020.1 1857.5 L1020.1 1857.4 L1020.1 1857.3 L1020.1 1857.3 L1020.1 1857.2 L1020.1 1857.1 L1020.1 1857.1 L1020.1 1857 L1019.4 1857 L1019.4 1857.1 L1019.4 1857.1 L1019.4 1857.2 L1019.4 1857.3 L1019.4 1857.3 L1019.4 1857.4 L1019.4 1857.5 L1019.4 1857.6 L1019.4 1857.6 L1019.4 1857.7 L1019.3 1857.8 L1019.2 1857.8 L1019.2 1857.9 L1019.1 1858 L1019 1858 L1018.9 1858.1 L1018.8 1858.2 L1018.7 1858.3 L1018.6 1858.3 L1018.6 1858.4 L1018.5 1858.5 L1018.4 1858.5 L1018.3 1858.6 L1018.3 1858.7 L1018.2 1858.7 L1018.2 1858.8 L1018.1 1858.9 L1018.1 1858.9 L1018.1 1859 L1018.1 1859.1 L1018.1 1859.2 L1018.1 1859.2 L1018.1 1859.3 L1018.2 1859.4 L1018.2 1859.4 L1018.3 1859.5 L1018.4 1859.6 L1018.4 1859.6 L1018.5 1859.7 L1018.6 1859.8 L1018.7 1859.9 L1018.8 1859.9 L1018.9 1860 L1019 1860.1 L1019 1860.1 L1019.1 1860.2 L1019.2 1860.3 L1019.2 1860.3 L1019.3 1860.4 L1019.3 1860.5 L1019.4 1860.6 L1019.4 1860.6 L1019.4 1860.7 L1019.4 1860.8 L1019.3 1860.8 L1019.3 1860.9 L1019.2 1861 L1019.1 1861 L1019 1861.1 L1018.9 1861.2 L1018.7 1861.2 L1018.5 1861.3 L1018.2 1861.4 L1017.9 1861.5 L1017.5 1861.5 L1017.1 1861.6 L1016.7 1861.7 L1016.2 1861.7 L1015.6 1861.8 L1015 1861.9 L1014.3 1861.9 L1013.6 1862 L1012.8 1862.1 L1012 1862.2 L1011.2 1862.2 L1010.3 1862.3 L1009.4 1862.4 L1008.5 1862.4 L1007.7 1862.5 L1006.8 1862.6 L1006 1862.6 L1005.3 1862.7 L1004.6 1862.8 L1004 1862.9 L1003.5 1862.9 L1003 1863 L1002.7 1863.1 L1002.6 1863.1 L1002.5 1863.2Z" fill="#b4a8e1" stroke="#262626" stroke-width="1.15" stroke-linejoin="round"/>
<path d="M1073.7 1858.2 L1071.9 1856.3 L1072.7 1854.4 L1073.4 1852.4 L1074.1 1850.5 L1074.7 1848.5 L1075.2 1846.6 L1075.7 1844.6 L1076.1 1842.7 L1076.4 1840.8 L1076.5 1838.8 L1076.6 1836.9 L1076.6 1834.9 L1076.4 1833 L1076.2 1831 L1075.9 1829.1 L1075.5 1827.2 L1075 1825.2 L1074.5 1823.3 L1073.9 1821.3 L1073.3 1819.4 L1072.8 1817.5 L1072.2 1815.5 L1071.6 1813.6 L1071.1 1811.6 L1070.6 1809.7 L1070.1 1807.7 L1069.7 1805.8 L1069.3 1803.9 L1068.9 1801.9 L1068.6 1800 L1068.4 1798 L1068.2 1796.1 L1068 1794.2 L1067.8 1792.2 L1067.7 1790.3 L1067.6 1788.3 L1067.5 1786.4 L1067.4 1784.4 L1067.3 1782.5 L1067.3 1780.6 L1067.2 1778.6 L1067.2 1776.7 L1067.1 1774.7 L1067 1772.8 L1067 1770.8 L1066.9 1768.9 L1066.8 1767 L1066.8 1765 L1066.7 1763.1 L1066.6 1761.1 L1066.6 1759.2 L1066.6 1757.3 L1066.5 1755.3 L1066.6 1753.4 L1066.6 1751.4 L1066.7 1749.5 L1066.8 1747.5 L1067 1745.6 L1067.3 1743.7 L1067.6 1741.7 L1068 1739.8 L1068.4 1737.8 L1068.9 1735.9 L1069.5 1733.9 L1070.2 1732 L1070.9 1730.1 L1071.7 1728.1 L1072.5 1726.2 L1073.4 1724.2 L1074.2 1722.3 L1075.1 1720.4 L1076 1718.4 L1076.8 1716.5 L1077.6 1714.5 L1078.3 1712.6 L1078.9 1710.6 L1079.5 1708.7 L1079.8 1706.8 L1080.1 1704.8 L1080.2 1702.9 L1080.2 1700.9 L1080 1699 L1079.6 1697 L1079.2 1695.1 L1078.6 1693.2 L1077.9 1691.2 L1077.1 1689.3 L1076.2 1687.3 L1075.7 1685.4 L1049.7 1685.4 L1049.2 1687.3 L1048.3 1689.3 L1047.5 1691.2 L1046.8 1693.2 L1046.2 1695.1 L1045.8 1697 L1045.4 1699 L1045.2 1700.9 L1045.2 1702.9 L1045.3 1704.8 L1045.6 1706.8 L1045.9 1708.7 L1046.5 1710.6 L1047.1 1712.6 L1047.8 1714.5 L1048.6 1716.5 L1049.4 1718.4 L1050.3 1720.4 L1051.2 1722.3 L1052 1724.2 L1052.9 1726.2 L1053.7 1728.1 L1054.5 1730.1 L1055.2 1732 L1055.9 1733.9 L1056.5 1735.9 L1057 1737.8 L1057.4 1739.8 L1057.8 1741.7 L1058.1 1743.7 L1058.4 1745.6 L1058.6 1747.5 L1058.7 1749.5 L1058.8 1751.4 L1058.8 1753.4 L1058.9 1755.3 L1058.8 1757.3 L1058.8 1759.2 L1058.8 1761.1 L1058.7 1763.1 L1058.6 1765 L1058.6 1767 L1058.5 1768.9 L1058.4 1770.8 L1058.4 1772.8 L1058.3 1774.7 L1058.2 1776.7 L1058.2 1778.6 L1058.1 1780.6 L1058.1 1782.5 L1058 1784.4 L1057.9 1786.4 L1057.8 1788.3 L1057.7 1790.3 L1057.6 1792.2 L1057.4 1794.2 L1057.2 1796.1 L1057 1798 L1056.8 1800 L1056.5 1801.9 L1056.1 1803.9 L1055.7 1805.8 L1055.3 1807.7 L1054.8 1809.7 L1054.3 1811.6 L1053.8 1813.6 L1053.2 1815.5 L1052.6 1817.5 L1052.1 1819.4 L1051.5 1821.3 L1050.9 1823.3 L1050.4 1825.2 L1049.9 1827.2 L1049.5 1829.1 L1049.2 1831 L1049 1833 L1048.8 1834.9 L1048.8 1836.9 L1048.9 1838.8 L1049 1840.8 L1049.3 1842.7 L1049.7 1844.6 L1050.2 1846.6 L1050.7 1848.5 L1051.3 1850.5 L1052 1852.4 L1052.7 1854.4 L1053.5 1856.3 L1051.7 1858.2Z" fill="#84d9cb" stroke="#262626" stroke-width="1.15" stroke-linejoin="round"/>
<line x1="1062.7" y1="1858.2" x2="1062.7" y2="1685.4" stroke="#444" stroke-width="1.1" />
<rect x="1060.5" y="1710.2" width="4.4" height="140.6" fill="#3d3d3d" />
<circle cx="1062.7" cy="1744.1" r="1.3" fill="#fff"/>
<path d="M1122.9 1863.2 L1122.4 1863 L1120.8 1862.8 L1118.6 1862.6 L1116 1862.4 L1113.4 1862.2 L1111.1 1861.9 L1109.2 1861.7 L1107.8 1861.5 L1106.9 1861.3 L1106.3 1861.1 L1106 1860.9 L1105.9 1860.7 L1105.9 1860.5 L1105.9 1860.3 L1105.9 1860.1 L1105.9 1859.9 L1105.9 1859.6 L1105.9 1859.4 L1105.9 1859.2 L1105.9 1859 L1105.9 1858.8 L1105.9 1858.6 L1105.9 1858.4 L1105.9 1858.2 L1105.9 1858 L1105.9 1857.8 L1105.9 1857.6 L1105.9 1857.3 L1105.9 1857.1 L1105.9 1856.9 L1105.9 1856.7 L1105.9 1856.5 L1105.9 1856.3 L1105.9 1856.1 L1105.9 1855.9 L1105.9 1855.7 L1105.9 1855.5 L1105.9 1855.3 L1105.9 1855 L1105.9 1854.8 L1105.9 1854.6 L1105.9 1854.4 L1105.9 1854.2 L1105.9 1854 L1105.9 1853.8 L1105.9 1853.6 L1105.9 1853.4 L1105.9 1853.2 L1105.9 1853 L1105.9 1852.7 L1105.9 1852.5 L1105.9 1852.3 L1105.9 1852.1 L1105.9 1851.9 L1105.9 1851.7 L1105.9 1851.5 L1105.9 1851.3 L1105.9 1851.1 L1105.9 1850.9 L1105.9 1850.7 L1105.9 1850.4 L1105.9 1850.2 L1105.9 1850 L1105.9 1849.8 L1105.9 1849.6 L1105.9 1849.4 L1105.9 1849.2 L1105.9 1849 L1105.9 1848.8 L1105.9 1848.6 L1105.9 1848.4 L1105.9 1848.1 L1105.9 1847.9 L1105.9 1847.7 L1105.9 1847.5 L1105.9 1847.3 L1105.9 1847.1 L1105.9 1846.9 L1105.9 1846.7 L1105.9 1846.5 L1105.9 1846.3 L1105.9 1846.1 L1105.9 1845.8 L1105.9 1845.6 L1105.9 1845.4 L1105.9 1845.2 L1105.9 1845 L1105.9 1844.8 L1105.9 1844.6 L1105.2 1844.6 L1105.2 1844.8 L1105.2 1845 L1105.2 1845.2 L1105.2 1845.4 L1105.2 1845.6 L1105.2 1845.8 L1105.2 1846.1 L1105.2 1846.3 L1105.2 1846.5 L1105.2 1846.7 L1105.2 1846.9 L1105.2 1847.1 L1105.2 1847.3 L1105.2 1847.5 L1105.2 1847.7 L1105.2 1847.9 L1105.2 1848.1 L1105.2 1848.4 L1105.2 1848.6 L1105.2 1848.8 L1105.2 1849 L1105.2 1849.2 L1105.2 1849.4 L1105.2 1849.6 L1105.2 1849.8 L1105.2 1850 L1105.2 1850.2 L1105.2 1850.4 L1105.2 1850.7 L1105.2 1850.9 L1105.2 1851.1 L1105.2 1851.3 L1105.2 1851.5 L1105.2 1851.7 L1105.2 1851.9 L1105.2 1852.1 L1105.2 1852.3 L1105.2 1852.5 L1105.2 1852.7 L1105.2 1853 L1105.2 1853.2 L1105.2 1853.4 L1105.2 1853.6 L1105.2 1853.8 L1105.2 1854 L1105.2 1854.2 L1105.2 1854.4 L1105.2 1854.6 L1105.2 1854.8 L1105.2 1855 L1105.2 1855.3 L1105.2 1855.5 L1105.2 1855.7 L1105.2 1855.9 L1105.2 1856.1 L1105.2 1856.3 L1105.2 1856.5 L1105.2 1856.7 L1105.2 1856.9 L1105.2 1857.1 L1105.2 1857.3 L1105.2 1857.6 L1105.2 1857.8 L1105.2 1858 L1105.2 1858.2 L1105.2 1858.4 L1105.2 1858.6 L1105.2 1858.8 L1105.2 1859 L1105.2 1859.2 L1105.2 1859.4 L1105.2 1859.6 L1105.2 1859.9 L1105.2 1860.1 L1105.2 1860.3 L1105.2 1860.5 L1105.2 1860.7 L1105.2 1860.9 L1104.9 1861.1 L1104.3 1861.3 L1103.4 1861.5 L1102 1861.7 L1100.1 1861.9 L1097.8 1862.2 L1095.2 1862.4 L1092.6 1862.6 L1090.4 1862.8 L1088.8 1863 L1088.3 1863.2Z" fill="#cfe3f2" stroke="#262626" stroke-width="1.15" stroke-linejoin="round"/>
<text x="1136.6" y="1252.9" font-size="32" font-weight="bold" >g</text>
<text x="1176" y="1252.9" font-size="24.8" >Protein secondary</text>
<text x="1176" y="1281.4" font-size="24.8" >structure features</text>
<rect x="1215.5" y="1344.3" width="184.7" height="197" fill="none" stroke="#4a4a4a" stroke-width="1.6" />
<line x1="1213.3" y1="1531.4" x2="1215.5" y2="1531.4" stroke="#333" stroke-width="1.2" />
<line x1="1213.3" y1="1487" x2="1215.5" y2="1487" stroke="#333" stroke-width="1.2" />
<line x1="1213.3" y1="1442.6" x2="1215.5" y2="1442.6" stroke="#333" stroke-width="1.2" />
<line x1="1213.3" y1="1398.2" x2="1215.5" y2="1398.2" stroke="#333" stroke-width="1.2" />
<line x1="1213.3" y1="1353.8" x2="1215.5" y2="1353.8" stroke="#333" stroke-width="1.2" />
<text x="1211.2" y="1536.6" text-anchor="end" >0.0</text>
<text x="1211.2" y="1447.8" text-anchor="end" >0.2</text>
<text x="1211.2" y="1359" text-anchor="end" >0.4</text>
<text x="1175" y="1442.6" text-anchor="middle" transform="rotate(-90 1175 1442.6)" >Mean feature activation</text>
<line x1="1246.2" y1="1541.3" x2="1246.2" y2="1544.3" stroke="#333" stroke-width="1.2" />
<line x1="1308.1" y1="1541.3" x2="1308.1" y2="1544.3" stroke="#333" stroke-width="1.2" />
<line x1="1369.5" y1="1541.3" x2="1369.5" y2="1544.3" stroke="#333" stroke-width="1.2" />
<text x="1243.6" y="1555.5" font-size="18.2" text-anchor="end" transform="rotate(-45 1243.6 1555.5)" >α-helix</text>
<text x="1316.1" y="1554" font-size="18.2" text-anchor="end" transform="rotate(-45 1316.1 1554)" >β-sheet</text>
<text x="1331.6" y="1566" font-size="18.2" text-anchor="end" transform="rotate(-45 1331.6 1566)" >structure</text>
<text x="1377.8" y="1561.5" font-size="18.2" text-anchor="end" transform="rotate(-45 1377.8 1561.5)" >coil</text>
<text x="1307.8" y="1313.2" text-anchor="middle" ><tspan fill="#4a87bf">α-helix</tspan> <tspan fill="#a3a3a3">f/28741</tspan></text>
<text x="1308.8" y="1340.6" text-anchor="middle" >AUROC = 0.97</text>
<path d="M1248.8 1531.4 L1249.5 1529.4 L1250.3 1527.4 L1251.2 1525.4 L1252.3 1523.4 L1253.5 1521.4 L1254.9 1519.4 L1256.3 1517.4 L1257.9 1515.4 L1259.5 1513.4 L1261.2 1511.4 L1262.9 1509.4 L1264.5 1507.5 L1266.1 1505.5 L1267.5 1503.5 L1268.7 1501.5 L1269.7 1499.5 L1270.4 1497.5 L1270.9 1495.5 L1271 1493.5 L1270.8 1491.5 L1270.3 1489.5 L1269.6 1487.5 L1268.5 1485.5 L1267.3 1483.5 L1265.8 1481.5 L1264.3 1479.5 L1262.7 1477.5 L1261 1475.5 L1259.3 1473.5 L1257.8 1471.5 L1256.3 1469.5 L1254.9 1467.5 L1253.6 1465.5 L1252.5 1463.6 L1251.6 1461.6 L1250.8 1459.6 L1250.1 1457.6 L1249.6 1455.6 L1249.2 1453.6 L1248.9 1451.6 L1248.6 1449.6 L1248.4 1447.6 L1248.3 1445.6 L1248.2 1443.6 L1248 1441.6 L1247.9 1439.6 L1247.8 1437.6 L1247.6 1435.6 L1247.5 1433.6 L1247.4 1431.6 L1247.2 1429.6 L1247.1 1427.6 L1247 1425.6 L1246.8 1423.6 L1246.7 1421.6 L1246.7 1419.7 L1246.6 1417.7 L1246.5 1415.7 L1246.5 1413.7 L1246.5 1411.7 L1246.5 1409.7 L1246.5 1407.7 L1246.5 1405.7 L1246.5 1403.7 L1246.5 1401.7 L1246.5 1399.7 L1246.5 1397.7 L1246.5 1395.7 L1246.5 1393.7 L1246.5 1391.7 L1246.5 1389.7 L1246.5 1387.7 L1246.5 1385.7 L1246.5 1383.7 L1246.5 1381.7 L1246.5 1379.7 L1246.5 1377.7 L1246.5 1375.8 L1246.5 1373.8 L1246.5 1371.8 L1246.5 1369.8 L1246.5 1367.8 L1246.5 1365.8 L1246.5 1363.8 L1246.5 1361.8 L1246.5 1359.8 L1246.5 1357.8 L1246.5 1355.8 L1246.5 1353.8 L1245.9 1353.8 L1245.9 1355.8 L1245.9 1357.8 L1245.9 1359.8 L1245.9 1361.8 L1245.9 1363.8 L1245.9 1365.8 L1245.9 1367.8 L1245.9 1369.8 L1245.9 1371.8 L1245.9 1373.8 L1245.9 1375.8 L1245.9 1377.7 L1245.9 1379.7 L1245.9 1381.7 L1245.9 1383.7 L1245.9 1385.7 L1245.9 1387.7 L1245.9 1389.7 L1245.9 1391.7 L1245.9 1393.7 L1245.9 1395.7 L1245.9 1397.7 L1245.9 1399.7 L1245.9 1401.7 L1245.9 1403.7 L1245.9 1405.7 L1245.9 1407.7 L1245.9 1409.7 L1245.9 1411.7 L1245.9 1413.7 L1245.9 1415.7 L1245.8 1417.7 L1245.7 1419.7 L1245.7 1421.6 L1245.6 1423.6 L1245.4 1425.6 L1245.3 1427.6 L1245.2 1429.6 L1245 1431.6 L1244.9 1433.6 L1244.8 1435.6 L1244.6 1437.6 L1244.5 1439.6 L1244.4 1441.6 L1244.2 1443.6 L1244.1 1445.6 L1244 1447.6 L1243.8 1449.6 L1243.5 1451.6 L1243.2 1453.6 L1242.8 1455.6 L1242.3 1457.6 L1241.6 1459.6 L1240.8 1461.6 L1239.9 1463.6 L1238.8 1465.5 L1237.5 1467.5 L1236.1 1469.5 L1234.6 1471.5 L1233.1 1473.5 L1231.4 1475.5 L1229.7 1477.5 L1228.1 1479.5 L1226.6 1481.5 L1225.1 1483.5 L1223.9 1485.5 L1222.8 1487.5 L1222.1 1489.5 L1221.6 1491.5 L1221.4 1493.5 L1221.5 1495.5 L1222 1497.5 L1222.7 1499.5 L1223.7 1501.5 L1224.9 1503.5 L1226.3 1505.5 L1227.9 1507.5 L1229.5 1509.4 L1231.2 1511.4 L1232.9 1513.4 L1234.5 1515.4 L1236.1 1517.4 L1237.5 1519.4 L1238.9 1521.4 L1240.1 1523.4 L1241.2 1525.4 L1242.1 1527.4 L1242.9 1529.4 L1243.6 1531.4Z" fill="#4a86c6" stroke="#262626" stroke-width="1.15" stroke-linejoin="round"/>
<line x1="1246.2" y1="1531.4" x2="1246.2" y2="1421.5" stroke="#444" stroke-width="1.1" />
<rect x="1244" y="1471.5" width="4.4" height="33.3" fill="#3d3d3d" />
<circle cx="1246.2" cy="1489.2" r="1.3" fill="#fff"/>
<path d="M1329 1531.4 L1332 1530.4 L1332.1 1529.4 L1329.6 1528.4 L1325.4 1527.4 L1321.1 1526.4 L1317.6 1525.4 L1315.2 1524.4 L1313.7 1523.4 L1312.7 1522.4 L1311.9 1521.4 L1311.1 1520.4 L1310.5 1519.4 L1309.9 1518.4 L1309.3 1517.4 L1308.9 1516.4 L1308.6 1515.4 L1308.4 1514.4 L1308.4 1513.4 L1308.4 1512.4 L1308.4 1511.4 L1308.4 1510.4 L1308.4 1509.4 L1308.4 1508.5 L1308.4 1507.5 L1308.4 1506.5 L1308.4 1505.5 L1308.4 1504.5 L1308.4 1503.5 L1308.4 1502.5 L1308.4 1501.5 L1308.4 1500.5 L1308.4 1499.5 L1308.4 1498.5 L1308.4 1497.5 L1308.4 1496.5 L1308.4 1495.5 L1308.4 1494.5 L1308.4 1493.5 L1308.4 1492.5 L1308.4 1491.5 L1308.4 1490.5 L1308.4 1489.5 L1308.4 1488.5 L1308.4 1487.5 L1308.4 1486.5 L1308.4 1485.5 L1308.4 1484.5 L1308.4 1483.5 L1308.4 1482.5 L1308.4 1481.5 L1308.4 1480.5 L1308.4 1479.5 L1308.4 1478.5 L1308.4 1477.5 L1308.4 1476.5 L1308.4 1475.5 L1308.4 1474.5 L1308.4 1473.5 L1308.4 1472.5 L1308.4 1471.5 L1308.4 1470.5 L1308.4 1469.5 L1308.4 1468.5 L1308.4 1467.5 L1308.4 1466.5 L1308.4 1465.5 L1308.4 1464.6 L1308.4 1463.6 L1308.4 1462.6 L1308.4 1461.6 L1308.4 1460.6 L1308.4 1459.6 L1308.4 1458.6 L1308.4 1457.6 L1308.4 1456.6 L1308.4 1455.6 L1308.4 1454.6 L1308.4 1453.6 L1308.4 1452.6 L1308.4 1451.6 L1308.4 1450.6 L1308.4 1449.6 L1308.4 1448.6 L1308.4 1447.6 L1308.4 1446.6 L1308.4 1445.6 L1308.4 1444.6 L1308.4 1443.6 L1308.4 1442.6 L1307.8 1442.6 L1307.8 1443.6 L1307.8 1444.6 L1307.8 1445.6 L1307.8 1446.6 L1307.8 1447.6 L1307.8 1448.6 L1307.8 1449.6 L1307.8 1450.6 L1307.8 1451.6 L1307.8 1452.6 L1307.8 1453.6 L1307.8 1454.6 L1307.8 1455.6 L1307.8 1456.6 L1307.8 1457.6 L1307.8 1458.6 L1307.8 1459.6 L1307.8 1460.6 L1307.8 1461.6 L1307.8 1462.6 L1307.8 1463.6 L1307.8 1464.6 L1307.8 1465.5 L1307.8 1466.5 L1307.8 1467.5 L1307.8 1468.5 L1307.8 1469.5 L1307.8 1470.5 L1307.8 1471.5 L1307.8 1472.5 L1307.8 1473.5 L1307.8 1474.5 L1307.8 1475.5 L1307.8 1476.5 L1307.8 1477.5 L1307.8 1478.5 L1307.8 1479.5 L1307.8 1480.5 L1307.8 1481.5 L1307.8 1482.5 L1307.8 1483.5 L1307.8 1484.5 L1307.8 1485.5 L1307.8 1486.5 L1307.8 1487.5 L1307.8 1488.5 L1307.8 1489.5 L1307.8 1490.5 L1307.8 1491.5 L1307.8 1492.5 L1307.8 1493.5 L1307.8 1494.5 L1307.8 1495.5 L1307.8 1496.5 L1307.8 1497.5 L1307.8 1498.5 L1307.8 1499.5 L1307.8 1500.5 L1307.8 1501.5 L1307.8 1502.5 L1307.8 1503.5 L1307.8 1504.5 L1307.8 1505.5 L1307.8 1506.5 L1307.8 1507.5 L1307.8 1508.5 L1307.8 1509.4 L1307.8 1510.4 L1307.8 1511.4 L1307.8 1512.4 L1307.8 1513.4 L1307.8 1514.4 L1307.6 1515.4 L1307.3 1516.4 L1306.9 1517.4 L1306.3 1518.4 L1305.7 1519.4 L1305.1 1520.4 L1304.3 1521.4 L1303.5 1522.4 L1302.5 1523.4 L1301 1524.4 L1298.6 1525.4 L1295.1 1526.4 L1290.8 1527.4 L1286.6 1528.4 L1284.1 1529.4 L1284.2 1530.4 L1287.2 1531.4Z" fill="#f0a93b" stroke="#262626" stroke-width="1.15" stroke-linejoin="round"/>
<line x1="1308.1" y1="1531.4" x2="1308.1" y2="1518.1" stroke="#444" stroke-width="1.1" />
<rect x="1305.9" y="1526.1" width="4.4" height="5.3" fill="#3d3d3d" />
<circle cx="1308.1" cy="1529.6" r="1.3" fill="#fff"/>
<path d="M1383.6 1531.4 L1385.9 1530.8 L1388.2 1530.3 L1390.2 1529.7 L1392 1529.1 L1393.2 1528.5 L1394 1528 L1394.3 1527.4 L1394 1526.8 L1393.3 1526.2 L1392.2 1525.7 L1390.7 1525.1 L1389.1 1524.5 L1387.5 1523.9 L1385.8 1523.4 L1384.3 1522.8 L1382.9 1522.2 L1381.7 1521.6 L1380.6 1521.1 L1379.7 1520.5 L1378.9 1519.9 L1378.3 1519.4 L1377.7 1518.8 L1377.1 1518.2 L1376.6 1517.6 L1376.1 1517.1 L1375.5 1516.5 L1375 1515.9 L1374.5 1515.3 L1374 1514.8 L1373.5 1514.2 L1373 1513.6 L1372.5 1513 L1372.1 1512.5 L1371.7 1511.9 L1371.3 1511.3 L1371 1510.7 L1370.8 1510.2 L1370.5 1509.6 L1370.3 1509 L1370.1 1508.5 L1370 1507.9 L1369.9 1507.3 L1369.8 1506.7 L1369.8 1506.2 L1369.8 1505.6 L1369.8 1505 L1369.8 1504.4 L1369.8 1503.9 L1369.8 1503.3 L1369.8 1502.7 L1369.8 1502.1 L1369.8 1501.6 L1369.8 1501 L1369.8 1500.4 L1369.8 1499.8 L1369.8 1499.3 L1369.8 1498.7 L1369.8 1498.1 L1369.8 1497.6 L1369.8 1497 L1369.8 1496.4 L1369.8 1495.8 L1369.8 1495.3 L1369.8 1494.7 L1369.8 1494.1 L1369.8 1493.5 L1369.8 1493 L1369.8 1492.4 L1369.8 1491.8 L1369.8 1491.2 L1369.8 1490.7 L1369.8 1490.1 L1369.8 1489.5 L1369.8 1488.9 L1369.8 1488.4 L1369.8 1487.8 L1369.8 1487.2 L1369.8 1486.7 L1369.8 1486.1 L1369.8 1485.5 L1369.8 1484.9 L1369.8 1484.4 L1369.8 1483.8 L1369.8 1483.2 L1369.8 1482.6 L1369.8 1482.1 L1369.8 1481.5 L1369.8 1480.9 L1369.8 1480.3 L1369.2 1480.3 L1369.2 1480.9 L1369.2 1481.5 L1369.2 1482.1 L1369.2 1482.6 L1369.2 1483.2 L1369.2 1483.8 L1369.2 1484.4 L1369.2 1484.9 L1369.2 1485.5 L1369.2 1486.1 L1369.2 1486.7 L1369.2 1487.2 L1369.2 1487.8 L1369.2 1488.4 L1369.2 1488.9 L1369.2 1489.5 L1369.2 1490.1 L1369.2 1490.7 L1369.2 1491.2 L1369.2 1491.8 L1369.2 1492.4 L1369.2 1493 L1369.2 1493.5 L1369.2 1494.1 L1369.2 1494.7 L1369.2 1495.3 L1369.2 1495.8 L1369.2 1496.4 L1369.2 1497 L1369.2 1497.6 L1369.2 1498.1 L1369.2 1498.7 L1369.2 1499.3 L1369.2 1499.8 L1369.2 1500.4 L1369.2 1501 L1369.2 1501.6 L1369.2 1502.1 L1369.2 1502.7 L1369.2 1503.3 L1369.2 1503.9 L1369.2 1504.4 L1369.2 1505 L1369.2 1505.6 L1369.2 1506.2 L1369.2 1506.7 L1369.1 1507.3 L1369 1507.9 L1368.9 1508.5 L1368.7 1509 L1368.5 1509.6 L1368.2 1510.2 L1368 1510.7 L1367.7 1511.3 L1367.3 1511.9 L1366.9 1512.5 L1366.5 1513 L1366 1513.6 L1365.5 1514.2 L1365 1514.8 L1364.5 1515.3 L1364 1515.9 L1363.5 1516.5 L1362.9 1517.1 L1362.4 1517.6 L1361.9 1518.2 L1361.3 1518.8 L1360.7 1519.4 L1360.1 1519.9 L1359.3 1520.5 L1358.4 1521.1 L1357.3 1521.6 L1356.1 1522.2 L1354.7 1522.8 L1353.2 1523.4 L1351.5 1523.9 L1349.9 1524.5 L1348.3 1525.1 L1346.8 1525.7 L1345.7 1526.2 L1345 1526.8 L1344.7 1527.4 L1345 1528 L1345.8 1528.5 L1347 1529.1 L1348.8 1529.7 L1350.8 1530.3 L1353.1 1530.8 L1355.4 1531.4Z" fill="#a9abae" stroke="#262626" stroke-width="1.15" stroke-linejoin="round"/>
<line x1="1369.5" y1="1531.4" x2="1369.5" y2="1507" stroke="#444" stroke-width="1.1" />
<rect x="1367.3" y="1520.3" width="4.4" height="8.9" fill="#3d3d3d" />
<circle cx="1369.5" cy="1526.1" r="1.3" fill="#fff"/>
<rect x="1216.4" y="1678.1" width="184.2" height="194.1" fill="none" stroke="#4a4a4a" stroke-width="1.6" />
<line x1="1214.2" y1="1863.3" x2="1216.4" y2="1863.3" stroke="#333" stroke-width="1.2" />
<line x1="1214.2" y1="1838.3" x2="1216.4" y2="1838.3" stroke="#333" stroke-width="1.2" />
<line x1="1214.2" y1="1813.3" x2="1216.4" y2="1813.3" stroke="#333" stroke-width="1.2" />
<line x1="1214.2" y1="1788.3" x2="1216.4" y2="1788.3" stroke="#333" stroke-width="1.2" />
<line x1="1214.2" y1="1763.3" x2="1216.4" y2="1763.3" stroke="#333" stroke-width="1.2" />
<line x1="1214.2" y1="1738.3" x2="1216.4" y2="1738.3" stroke="#333" stroke-width="1.2" />
<line x1="1214.2" y1="1713.3" x2="1216.4" y2="1713.3" stroke="#333" stroke-width="1.2" />
<line x1="1214.2" y1="1688.3" x2="1216.4" y2="1688.3" stroke="#333" stroke-width="1.2" />
<text x="1212.1" y="1868.5" text-anchor="end" >0.0</text>
<text x="1212.1" y="1818.5" text-anchor="end" >0.2</text>
<text x="1212.1" y="1768.5" text-anchor="end" >0.4</text>
<text x="1212.1" y="1718.5" text-anchor="end" >0.6</text>
<text x="1169.3" y="1777" text-anchor="middle" transform="rotate(-90 1169.3 1777)" >Mean feature activation</text>
<line x1="1247.1" y1="1872.2" x2="1247.1" y2="1875.2" stroke="#333" stroke-width="1.2" />
<line x1="1308.5" y1="1872.2" x2="1308.5" y2="1875.2" stroke="#333" stroke-width="1.2" />
<line x1="1369.5" y1="1872.2" x2="1369.5" y2="1875.2" stroke="#333" stroke-width="1.2" />
<text x="1244.5" y="1886.5" font-size="18.2" text-anchor="end" transform="rotate(-45 1244.5 1886.5)" >α-helix</text>
<text x="1316.5" y="1885" font-size="18.2" text-anchor="end" transform="rotate(-45 1316.5 1885)" >β-sheet</text>
<text x="1332" y="1897" font-size="18.2" text-anchor="end" transform="rotate(-45 1332 1897)" >structure</text>
<text x="1377.8" y="1892.5" font-size="18.2" text-anchor="end" transform="rotate(-45 1377.8 1892.5)" >coil</text>
<text x="1308.5" y="1645.1" text-anchor="middle" ><tspan fill="#e9a53d">β-sheet</tspan> <tspan fill="#a3a3a3">f/22326</tspan></text>
<text x="1309.5" y="1672" text-anchor="middle" >AUROC = 0.92</text>
<path d="M1268.2 1863.3 L1271.7 1862.4 L1268.8 1861.6 L1262.7 1860.7 L1257.9 1859.8 L1255.7 1858.9 L1254.9 1858.1 L1254.3 1857.2 L1253.2 1856.3 L1252 1855.5 L1250.6 1854.6 L1249.5 1853.7 L1248.6 1852.9 L1247.9 1852 L1247.5 1851.1 L1247.4 1850.2 L1247.4 1849.4 L1247.4 1848.5 L1247.4 1847.6 L1247.4 1846.8 L1247.4 1845.9 L1247.4 1845 L1247.4 1844.1 L1247.4 1843.3 L1247.4 1842.4 L1247.4 1841.5 L1247.4 1840.7 L1247.4 1839.8 L1247.4 1838.9 L1247.4 1838 L1247.4 1837.2 L1247.4 1836.3 L1247.4 1835.4 L1247.4 1834.6 L1247.4 1833.7 L1247.4 1832.8 L1247.4 1832 L1247.4 1831.1 L1247.4 1830.2 L1247.4 1829.3 L1247.4 1828.5 L1247.4 1827.6 L1247.4 1826.7 L1247.4 1825.9 L1247.4 1825 L1247.4 1824.1 L1247.4 1823.2 L1247.4 1822.4 L1247.4 1821.5 L1247.4 1820.6 L1247.4 1819.8 L1247.4 1818.9 L1247.4 1818 L1247.4 1817.1 L1247.4 1816.3 L1247.4 1815.4 L1247.4 1814.5 L1247.4 1813.7 L1247.4 1812.8 L1247.4 1811.9 L1247.4 1811.1 L1247.4 1810.2 L1247.4 1809.3 L1247.4 1808.4 L1247.4 1807.6 L1247.4 1806.7 L1247.4 1805.8 L1247.4 1805 L1247.4 1804.1 L1247.4 1803.2 L1247.4 1802.3 L1247.4 1801.5 L1247.4 1800.6 L1247.4 1799.7 L1247.4 1798.9 L1247.4 1798 L1247.4 1797.1 L1247.4 1796.2 L1247.4 1795.4 L1247.4 1794.5 L1247.4 1793.6 L1247.4 1792.8 L1247.4 1791.9 L1247.4 1791 L1247.4 1790.2 L1247.4 1789.3 L1247.4 1788.4 L1247.4 1787.5 L1247.4 1786.7 L1247.4 1785.8 L1246.8 1785.8 L1246.8 1786.7 L1246.8 1787.5 L1246.8 1788.4 L1246.8 1789.3 L1246.8 1790.2 L1246.8 1791 L1246.8 1791.9 L1246.8 1792.8 L1246.8 1793.6 L1246.8 1794.5 L1246.8 1795.4 L1246.8 1796.2 L1246.8 1797.1 L1246.8 1798 L1246.8 1798.9 L1246.8 1799.7 L1246.8 1800.6 L1246.8 1801.5 L1246.8 1802.3 L1246.8 1803.2 L1246.8 1804.1 L1246.8 1805 L1246.8 1805.8 L1246.8 1806.7 L1246.8 1807.6 L1246.8 1808.4 L1246.8 1809.3 L1246.8 1810.2 L1246.8 1811.1 L1246.8 1811.9 L1246.8 1812.8 L1246.8 1813.7 L1246.8 1814.5 L1246.8 1815.4 L1246.8 1816.3 L1246.8 1817.1 L1246.8 1818 L1246.8 1818.9 L1246.8 1819.8 L1246.8 1820.6 L1246.8 1821.5 L1246.8 1822.4 L1246.8 1823.2 L1246.8 1824.1 L1246.8 1825 L1246.8 1825.9 L1246.8 1826.7 L1246.8 1827.6 L1246.8 1828.5 L1246.8 1829.3 L1246.8 1830.2 L1246.8 1831.1 L1246.8 1832 L1246.8 1832.8 L1246.8 1833.7 L1246.8 1834.6 L1246.8 1835.4 L1246.8 1836.3 L1246.8 1837.2 L1246.8 1838 L1246.8 1838.9 L1246.8 1839.8 L1246.8 1840.7 L1246.8 1841.5 L1246.8 1842.4 L1246.8 1843.3 L1246.8 1844.1 L1246.8 1845 L1246.8 1845.9 L1246.8 1846.8 L1246.8 1847.6 L1246.8 1848.5 L1246.8 1849.4 L1246.8 1850.2 L1246.7 1851.1 L1246.3 1852 L1245.6 1852.9 L1244.7 1853.7 L1243.6 1854.6 L1242.2 1855.5 L1241 1856.3 L1239.9 1857.2 L1239.3 1858.1 L1238.5 1858.9 L1236.3 1859.8 L1231.5 1860.7 L1225.4 1861.6 L1222.5 1862.4 L1226 1863.3Z" fill="#4a86c6" stroke="#262626" stroke-width="1.15" stroke-linejoin="round"/>
<line x1="1247.1" y1="1863.3" x2="1247.1" y2="1850.8" stroke="#444" stroke-width="1.1" />
<rect x="1244.9" y="1858.3" width="4.4" height="5" fill="#3d3d3d" />
<circle cx="1247.1" cy="1861.3" r="1.3" fill="#fff"/>
<path d="M1322.1 1863.3 L1323.4 1861.3 L1324.4 1859.4 L1325.2 1857.4 L1325.6 1855.4 L1325.7 1853.5 L1325.5 1851.5 L1325 1849.5 L1324.4 1847.6 L1323.7 1845.6 L1322.9 1843.6 L1322.2 1841.7 L1321.7 1839.7 L1321.3 1837.7 L1321.1 1835.8 L1321.2 1833.8 L1321.5 1831.8 L1322 1829.9 L1322.7 1827.9 L1323.5 1825.9 L1324.5 1824 L1325.5 1822 L1326.6 1820 L1327.7 1818.1 L1328.7 1816.1 L1329.7 1814.1 L1330.7 1812.2 L1331.5 1810.2 L1332.2 1808.2 L1332.7 1806.3 L1333.1 1804.3 L1333.4 1802.3 L1333.5 1800.4 L1333.4 1798.4 L1333.2 1796.4 L1332.9 1794.5 L1332.4 1792.5 L1331.8 1790.5 L1331.1 1788.6 L1330.3 1786.6 L1329.4 1784.6 L1328.5 1782.7 L1327.6 1780.7 L1326.6 1778.7 L1325.7 1776.8 L1324.8 1774.8 L1323.8 1772.9 L1323 1770.9 L1322.2 1768.9 L1321.4 1767 L1320.7 1765 L1320 1763 L1319.4 1761.1 L1318.8 1759.1 L1318.2 1757.1 L1317.7 1755.2 L1317.2 1753.2 L1316.7 1751.2 L1316.3 1749.3 L1315.8 1747.3 L1315.4 1745.3 L1314.9 1743.4 L1314.5 1741.4 L1314 1739.4 L1313.6 1737.5 L1313.1 1735.5 L1312.7 1733.5 L1312.3 1731.6 L1311.9 1729.6 L1311.5 1727.6 L1311.1 1725.7 L1310.8 1723.7 L1310.5 1721.7 L1310.2 1719.8 L1310 1717.8 L1309.7 1715.8 L1309.5 1713.9 L1309.3 1711.9 L1309.2 1709.9 L1309.1 1708 L1309 1706 L1308.9 1704 L1308.8 1702.1 L1308.8 1700.1 L1308.8 1698.1 L1308.8 1696.2 L1308.8 1694.2 L1308.8 1692.2 L1308.8 1690.3 L1309.1 1688.3 L1307.9 1688.3 L1308.2 1690.3 L1308.2 1692.2 L1308.2 1694.2 L1308.2 1696.2 L1308.2 1698.1 L1308.2 1700.1 L1308.2 1702.1 L1308.1 1704 L1308 1706 L1307.9 1708 L1307.8 1709.9 L1307.7 1711.9 L1307.5 1713.9 L1307.3 1715.8 L1307 1717.8 L1306.8 1719.8 L1306.5 1721.7 L1306.2 1723.7 L1305.9 1725.7 L1305.5 1727.6 L1305.1 1729.6 L1304.7 1731.6 L1304.3 1733.5 L1303.9 1735.5 L1303.4 1737.5 L1303 1739.4 L1302.5 1741.4 L1302.1 1743.4 L1301.6 1745.3 L1301.2 1747.3 L1300.7 1749.3 L1300.3 1751.2 L1299.8 1753.2 L1299.3 1755.2 L1298.8 1757.1 L1298.2 1759.1 L1297.6 1761.1 L1297 1763 L1296.3 1765 L1295.6 1767 L1294.8 1768.9 L1294 1770.9 L1293.2 1772.9 L1292.2 1774.8 L1291.3 1776.8 L1290.4 1778.7 L1289.4 1780.7 L1288.5 1782.7 L1287.6 1784.6 L1286.7 1786.6 L1285.9 1788.6 L1285.2 1790.5 L1284.6 1792.5 L1284.1 1794.5 L1283.8 1796.4 L1283.6 1798.4 L1283.5 1800.4 L1283.6 1802.3 L1283.9 1804.3 L1284.3 1806.3 L1284.8 1808.2 L1285.5 1810.2 L1286.3 1812.2 L1287.3 1814.1 L1288.3 1816.1 L1289.3 1818.1 L1290.4 1820 L1291.5 1822 L1292.5 1824 L1293.5 1825.9 L1294.3 1827.9 L1295 1829.9 L1295.5 1831.8 L1295.8 1833.8 L1295.9 1835.8 L1295.7 1837.7 L1295.3 1839.7 L1294.8 1841.7 L1294.1 1843.6 L1293.3 1845.6 L1292.6 1847.6 L1292 1849.5 L1291.5 1851.5 L1291.3 1853.5 L1291.4 1855.4 L1291.8 1857.4 L1292.6 1859.4 L1293.6 1861.3 L1294.9 1863.3Z" fill="#f0a93b" stroke="#262626" stroke-width="1.15" stroke-linejoin="round"/>
<line x1="1308.5" y1="1863.3" x2="1308.5" y2="1693.3" stroke="#444" stroke-width="1.1" />
<rect x="1306.3" y="1775.8" width="4.4" height="55" fill="#3d3d3d" />
<circle cx="1308.5" cy="1802" r="1.3" fill="#fff"/>
<path d="M1391.2 1863.3 L1392.7 1862.9 L1393.8 1862.5 L1394.4 1862.2 L1394.5 1861.8 L1394.1 1861.4 L1393.2 1861 L1391.9 1860.6 L1390.4 1860.3 L1388.6 1859.9 L1386.7 1859.5 L1384.9 1859.1 L1383.2 1858.7 L1381.7 1858.4 L1380.3 1858 L1379.2 1857.6 L1378.3 1857.2 L1377.7 1856.9 L1377.2 1856.5 L1376.9 1856.1 L1376.7 1855.7 L1376.6 1855.3 L1376.6 1855 L1376.6 1854.6 L1376.6 1854.2 L1376.6 1853.8 L1376.6 1853.4 L1376.6 1853.1 L1376.5 1852.7 L1376.4 1852.3 L1376.3 1851.9 L1376.1 1851.5 L1375.9 1851.2 L1375.7 1850.8 L1375.5 1850.4 L1375.2 1850 L1374.9 1849.6 L1374.6 1849.3 L1374.3 1848.9 L1373.9 1848.5 L1373.6 1848.1 L1373.3 1847.8 L1373 1847.4 L1372.7 1847 L1372.4 1846.6 L1372.1 1846.2 L1371.8 1845.9 L1371.6 1845.5 L1371.3 1845.1 L1371.1 1844.7 L1370.9 1844.3 L1370.7 1844 L1370.6 1843.6 L1370.4 1843.2 L1370.3 1842.8 L1370.2 1842.4 L1370.1 1842.1 L1370 1841.7 L1369.9 1841.3 L1369.8 1840.9 L1369.8 1840.5 L1369.8 1840.2 L1369.8 1839.8 L1369.8 1839.4 L1369.8 1839 L1369.8 1838.7 L1369.8 1838.3 L1369.8 1837.9 L1369.8 1837.5 L1369.8 1837.1 L1369.8 1836.8 L1369.8 1836.4 L1369.8 1836 L1369.8 1835.6 L1369.8 1835.2 L1369.8 1834.9 L1369.8 1834.5 L1369.8 1834.1 L1369.8 1833.7 L1369.8 1833.3 L1369.8 1833 L1369.8 1832.6 L1369.8 1832.2 L1369.8 1831.8 L1369.8 1831.4 L1369.8 1831.1 L1369.8 1830.7 L1369.8 1830.3 L1369.8 1829.9 L1369.8 1829.5 L1369.2 1829.5 L1369.2 1829.9 L1369.2 1830.3 L1369.2 1830.7 L1369.2 1831.1 L1369.2 1831.4 L1369.2 1831.8 L1369.2 1832.2 L1369.2 1832.6 L1369.2 1833 L1369.2 1833.3 L1369.2 1833.7 L1369.2 1834.1 L1369.2 1834.5 L1369.2 1834.9 L1369.2 1835.2 L1369.2 1835.6 L1369.2 1836 L1369.2 1836.4 L1369.2 1836.8 L1369.2 1837.1 L1369.2 1837.5 L1369.2 1837.9 L1369.2 1838.3 L1369.2 1838.7 L1369.2 1839 L1369.2 1839.4 L1369.2 1839.8 L1369.2 1840.2 L1369.2 1840.5 L1369.2 1840.9 L1369.1 1841.3 L1369 1841.7 L1368.9 1842.1 L1368.8 1842.4 L1368.7 1842.8 L1368.6 1843.2 L1368.4 1843.6 L1368.3 1844 L1368.1 1844.3 L1367.9 1844.7 L1367.7 1845.1 L1367.4 1845.5 L1367.2 1845.9 L1366.9 1846.2 L1366.6 1846.6 L1366.3 1847 L1366 1847.4 L1365.7 1847.8 L1365.4 1848.1 L1365.1 1848.5 L1364.7 1848.9 L1364.4 1849.3 L1364.1 1849.6 L1363.8 1850 L1363.5 1850.4 L1363.3 1850.8 L1363.1 1851.2 L1362.9 1851.5 L1362.7 1851.9 L1362.6 1852.3 L1362.5 1852.7 L1362.4 1853.1 L1362.4 1853.4 L1362.4 1853.8 L1362.4 1854.2 L1362.4 1854.6 L1362.4 1855 L1362.4 1855.3 L1362.3 1855.7 L1362.1 1856.1 L1361.8 1856.5 L1361.3 1856.9 L1360.7 1857.2 L1359.8 1857.6 L1358.7 1858 L1357.3 1858.4 L1355.8 1858.7 L1354.1 1859.1 L1352.3 1859.5 L1350.4 1859.9 L1348.6 1860.3 L1347.1 1860.6 L1345.8 1861 L1344.9 1861.4 L1344.5 1861.8 L1344.6 1862.2 L1345.2 1862.5 L1346.3 1862.9 L1347.8 1863.3Z" fill="#a9abae" stroke="#262626" stroke-width="1.15" stroke-linejoin="round"/>
<line x1="1369.5" y1="1863.3" x2="1369.5" y2="1838.3" stroke="#444" stroke-width="1.1" />
<rect x="1367.3" y="1853.3" width="4.4" height="10" fill="#3d3d3d" />
<circle cx="1369.5" cy="1859.5" r="1.3" fill="#fff"/>
<text x="1447.4" y="1254.5" font-size="32" font-weight="bold" >h</text>
<text x="1483.8" y="1252.1" font-size="24.8" >Feature ablation: effect on model cross entropy (CE)</text>
<line x1="1629.5" y1="1369.3" x2="1629.5" y2="1869" stroke="#ebebeb" stroke-width="1.2" />
<line x1="1696.7" y1="1369.3" x2="1696.7" y2="1869" stroke="#ebebeb" stroke-width="1.2" />
<line x1="1763.9" y1="1369.3" x2="1763.9" y2="1869" stroke="#ebebeb" stroke-width="1.2" />
<line x1="1831.1" y1="1369.3" x2="1831.1" y2="1869" stroke="#ebebeb" stroke-width="1.2" />
<line x1="1621.2" y1="1404.5" x2="1873.1" y2="1404.5" stroke="#ebebeb" stroke-width="1.2" />
<line x1="1621.2" y1="1450.5" x2="1873.1" y2="1450.5" stroke="#ebebeb" stroke-width="1.2" />
<line x1="1621.2" y1="1496.2" x2="1873.1" y2="1496.2" stroke="#ebebeb" stroke-width="1.2" />
<line x1="1621.2" y1="1542.6" x2="1873.1" y2="1542.6" stroke="#ebebeb" stroke-width="1.2" />
<line x1="1621.2" y1="1587.4" x2="1873.1" y2="1587.4" stroke="#ebebeb" stroke-width="1.2" />
<line x1="1621.2" y1="1626" x2="1873.1" y2="1626" stroke="#ebebeb" stroke-width="1.2" />
<line x1="1621.2" y1="1669.5" x2="1873.1" y2="1669.5" stroke="#ebebeb" stroke-width="1.2" />
<line x1="1621.2" y1="1714.3" x2="1873.1" y2="1714.3" stroke="#ebebeb" stroke-width="1.2" />
<line x1="1621.2" y1="1757.6" x2="1873.1" y2="1757.6" stroke="#ebebeb" stroke-width="1.2" />
<line x1="1621.2" y1="1801.2" x2="1873.1" y2="1801.2" stroke="#ebebeb" stroke-width="1.2" />
<line x1="1621.2" y1="1843.3" x2="1873.1" y2="1843.3" stroke="#ebebeb" stroke-width="1.2" />
<line x1="1621.2" y1="1369.3" x2="1873.1" y2="1369.3" stroke="#333" stroke-width="1.4" />
<line x1="1621.2" y1="1369.3" x2="1621.2" y2="1869" stroke="#333" stroke-width="1.4" />
<line x1="1629.5" y1="1369.3" x2="1629.5" y2="1373.3" stroke="#333" stroke-width="1.2" />
<line x1="1663.1" y1="1369.3" x2="1663.1" y2="1373.3" stroke="#333" stroke-width="1.2" />
<line x1="1696.7" y1="1369.3" x2="1696.7" y2="1373.3" stroke="#333" stroke-width="1.2" />
<line x1="1730.3" y1="1369.3" x2="1730.3" y2="1373.3" stroke="#333" stroke-width="1.2" />
<line x1="1763.9" y1="1369.3" x2="1763.9" y2="1373.3" stroke="#333" stroke-width="1.2" />
<line x1="1797.5" y1="1369.3" x2="1797.5" y2="1373.3" stroke="#333" stroke-width="1.2" />
<line x1="1831.1" y1="1369.3" x2="1831.1" y2="1373.3" stroke="#333" stroke-width="1.2" />
<line x1="1864.7" y1="1369.3" x2="1864.7" y2="1373.3" stroke="#333" stroke-width="1.2" />
<text x="1628.5" y="1364" text-anchor="middle" >0.0</text>
<text x="1695.7" y="1364" text-anchor="middle" >0.4</text>
<text x="1762.9" y="1364" text-anchor="middle" >0.8</text>
<text x="1830.1" y="1364" text-anchor="middle" >1.2</text>
<text x="1631.4" y="1331.9"  >Change in average CE (%)</text>
<line x1="1617.2" y1="1404.5" x2="1621.2" y2="1404.5" stroke="#333" stroke-width="1.2" />
<text x="1609.6" y="1412.2" text-anchor="end" >ORF (f/15680)</text>
<line x1="1617.2" y1="1450.5" x2="1621.2" y2="1450.5" stroke="#333" stroke-width="1.2" />
<text x="1609.6" y="1456" text-anchor="end" >ORF (f/13606)</text>
<line x1="1617.2" y1="1496.2" x2="1621.2" y2="1496.2" stroke="#333" stroke-width="1.2" />
<text x="1609.6" y="1499.9" text-anchor="end" >(+) ORF (f/11734)</text>
<line x1="1617.2" y1="1542.6" x2="1621.2" y2="1542.6" stroke="#333" stroke-width="1.2" />
<text x="1609.6" y="1543.8" text-anchor="end" >(-) ORF (f/24568)</text>
<line x1="1617.2" y1="1587.4" x2="1621.2" y2="1587.4" stroke="#333" stroke-width="1.2" />
<text x="1609.6" y="1587.6" text-anchor="end" >tRNA (f/30262)</text>
<line x1="1617.2" y1="1626" x2="1621.2" y2="1626" stroke="#333" stroke-width="1.2" />
<text x="1609.6" y="1631.5" text-anchor="end" >rRNA (f/2812)</text>
<line x1="1617.2" y1="1669.5" x2="1621.2" y2="1669.5" stroke="#333" stroke-width="1.2" />
<text x="1609.6" y="1675.3" text-anchor="end" >Prophage (f/19746)</text>
<line x1="1617.2" y1="1714.3" x2="1621.2" y2="1714.3" stroke="#333" stroke-width="1.2" />
<text x="1609.6" y="1719.2" text-anchor="end" >Intergenic (f/15481)</text>
<line x1="1617.2" y1="1757.6" x2="1621.2" y2="1757.6" stroke="#333" stroke-width="1.2" />
<text x="1609.6" y="1763" text-anchor="end" >Intergenic (f/26069)</text>
<line x1="1617.2" y1="1801.2" x2="1621.2" y2="1801.2" stroke="#333" stroke-width="1.2" />
<text x="1609.6" y="1806.9" text-anchor="end" >Alpha helix (f/28741)</text>
<line x1="1617.2" y1="1843.3" x2="1621.2" y2="1843.3" stroke="#333" stroke-width="1.2" />
<text x="1609.6" y="1850.7" text-anchor="end" >Beta sheet (f/22326)</text>
<line x1="1684.8" y1="1587.4" x2="1799" y2="1587.4" stroke="#3b7ec0" stroke-width="1.4" />
<line x1="1684.8" y1="1626" x2="1826" y2="1626" stroke="#3b7ec0" stroke-width="1.4" />
<line x1="1629.5" y1="1801.2" x2="1641" y2="1801.2" stroke="#3b7ec0" stroke-width="1.2" />
<line x1="1624.7" y1="1399.7" x2="1634.3" y2="1409.3" stroke="#e07d2e" stroke-width="2" />
<line x1="1624.7" y1="1409.3" x2="1634.3" y2="1399.7" stroke="#e07d2e" stroke-width="2" />
<line x1="1856.4" y1="1404.5" x2="1869.4" y2="1404.5" stroke="#3b7ec0" stroke-width="2.2" />
<line x1="1862.9" y1="1398" x2="1862.9" y2="1411" stroke="#3b7ec0" stroke-width="2.2" />
<line x1="1624.7" y1="1445.7" x2="1634.3" y2="1455.3" stroke="#e07d2e" stroke-width="2" />
<line x1="1624.7" y1="1455.3" x2="1634.3" y2="1445.7" stroke="#e07d2e" stroke-width="2" />
<line x1="1727.3" y1="1450.5" x2="1740.3" y2="1450.5" stroke="#3b7ec0" stroke-width="2.2" />
<line x1="1733.8" y1="1444" x2="1733.8" y2="1457" stroke="#3b7ec0" stroke-width="2.2" />
<line x1="1624.7" y1="1491.4" x2="1634.3" y2="1501" stroke="#e07d2e" stroke-width="2" />
<line x1="1624.7" y1="1501" x2="1634.3" y2="1491.4" stroke="#e07d2e" stroke-width="2" />
<line x1="1790.9" y1="1496.2" x2="1803.9" y2="1496.2" stroke="#3b7ec0" stroke-width="2.2" />
<line x1="1797.4" y1="1489.7" x2="1797.4" y2="1502.7" stroke="#3b7ec0" stroke-width="2.2" />
<line x1="1624.7" y1="1537.8" x2="1634.3" y2="1547.4" stroke="#e07d2e" stroke-width="2" />
<line x1="1624.7" y1="1547.4" x2="1634.3" y2="1537.8" stroke="#e07d2e" stroke-width="2" />
<line x1="1707.1" y1="1542.6" x2="1720.1" y2="1542.6" stroke="#3b7ec0" stroke-width="2.2" />
<line x1="1713.6" y1="1536.1" x2="1713.6" y2="1549.1" stroke="#3b7ec0" stroke-width="2.2" />
<line x1="1624.7" y1="1582.6" x2="1634.3" y2="1592.2" stroke="#e07d2e" stroke-width="2" />
<line x1="1624.7" y1="1592.2" x2="1634.3" y2="1582.6" stroke="#e07d2e" stroke-width="2" />
<line x1="1735.4" y1="1587.4" x2="1748.4" y2="1587.4" stroke="#3b7ec0" stroke-width="2.2" />
<line x1="1741.9" y1="1580.9" x2="1741.9" y2="1593.9" stroke="#3b7ec0" stroke-width="2.2" />
<line x1="1624.7" y1="1621.2" x2="1634.3" y2="1630.8" stroke="#e07d2e" stroke-width="2" />
<line x1="1624.7" y1="1630.8" x2="1634.3" y2="1621.2" stroke="#e07d2e" stroke-width="2" />
<line x1="1748.7" y1="1626" x2="1761.7" y2="1626" stroke="#3b7ec0" stroke-width="2.2" />
<line x1="1755.2" y1="1619.5" x2="1755.2" y2="1632.5" stroke="#3b7ec0" stroke-width="2.2" />
<line x1="1624.7" y1="1664.7" x2="1634.3" y2="1674.3" stroke="#e07d2e" stroke-width="2" />
<line x1="1624.7" y1="1674.3" x2="1634.3" y2="1664.7" stroke="#e07d2e" stroke-width="2" />
<line x1="1634.9" y1="1669.5" x2="1647.9" y2="1669.5" stroke="#3b7ec0" stroke-width="2.2" />
<line x1="1641.4" y1="1663" x2="1641.4" y2="1676" stroke="#3b7ec0" stroke-width="2.2" />
<line x1="1624.7" y1="1709.5" x2="1634.3" y2="1719.1" stroke="#e07d2e" stroke-width="2" />
<line x1="1624.7" y1="1719.1" x2="1634.3" y2="1709.5" stroke="#e07d2e" stroke-width="2" />
<line x1="1623" y1="1714.3" x2="1636" y2="1714.3" stroke="#3b7ec0" stroke-width="2.2" />
<line x1="1629.5" y1="1707.8" x2="1629.5" y2="1720.8" stroke="#3b7ec0" stroke-width="2.2" />
<line x1="1624.7" y1="1752.8" x2="1634.3" y2="1762.4" stroke="#e07d2e" stroke-width="2" />
<line x1="1624.7" y1="1762.4" x2="1634.3" y2="1752.8" stroke="#e07d2e" stroke-width="2" />
<line x1="1634.9" y1="1757.6" x2="1647.9" y2="1757.6" stroke="#3b7ec0" stroke-width="2.2" />
<line x1="1641.4" y1="1751.1" x2="1641.4" y2="1764.1" stroke="#3b7ec0" stroke-width="2.2" />
<line x1="1624.7" y1="1796.4" x2="1634.3" y2="1806" stroke="#e07d2e" stroke-width="2" />
<line x1="1624.7" y1="1806" x2="1634.3" y2="1796.4" stroke="#e07d2e" stroke-width="2" />
<line x1="1623" y1="1801.2" x2="1636" y2="1801.2" stroke="#3b7ec0" stroke-width="2.2" />
<line x1="1629.5" y1="1794.7" x2="1629.5" y2="1807.7" stroke="#3b7ec0" stroke-width="2.2" />
<line x1="1625.2" y1="1838.5" x2="1634.8" y2="1848.1" stroke="#e07d2e" stroke-width="2" />
<line x1="1625.2" y1="1848.1" x2="1634.8" y2="1838.5" stroke="#e07d2e" stroke-width="2" />
<line x1="1624.2" y1="1843.3" x2="1637.2" y2="1843.3" stroke="#3b7ec0" stroke-width="2.2" />
<line x1="1630.7" y1="1836.8" x2="1630.7" y2="1849.8" stroke="#3b7ec0" stroke-width="2.2" />
<line x1="1908.3" y1="1368.5" x2="1908.3" y2="1868" stroke="#ebebeb" stroke-width="1.2" />
<line x1="1974.9" y1="1368.5" x2="1974.9" y2="1868" stroke="#ebebeb" stroke-width="1.2" />
<line x1="2041.5" y1="1368.5" x2="2041.5" y2="1868" stroke="#ebebeb" stroke-width="1.2" />
<line x1="2108.1" y1="1368.5" x2="2108.1" y2="1868" stroke="#ebebeb" stroke-width="1.2" />
<line x1="1888.6" y1="1407.5" x2="2140.2" y2="1407.5" stroke="#ebebeb" stroke-width="1.2" />
<line x1="1888.6" y1="1450.8" x2="2140.2" y2="1450.8" stroke="#ebebeb" stroke-width="1.2" />
<line x1="1888.6" y1="1494.6" x2="2140.2" y2="1494.6" stroke="#ebebeb" stroke-width="1.2" />
<line x1="1888.6" y1="1538.3" x2="2140.2" y2="1538.3" stroke="#ebebeb" stroke-width="1.2" />
<line x1="1888.6" y1="1581.5" x2="2140.2" y2="1581.5" stroke="#ebebeb" stroke-width="1.2" />
<line x1="1888.6" y1="1624.6" x2="2140.2" y2="1624.6" stroke="#ebebeb" stroke-width="1.2" />
<line x1="1888.6" y1="1667.6" x2="2140.2" y2="1667.6" stroke="#ebebeb" stroke-width="1.2" />
<line x1="1888.6" y1="1711.2" x2="2140.2" y2="1711.2" stroke="#ebebeb" stroke-width="1.2" />
<line x1="1888.6" y1="1753.4" x2="2140.2" y2="1753.4" stroke="#ebebeb" stroke-width="1.2" />
<line x1="1888.6" y1="1797.6" x2="2140.2" y2="1797.6" stroke="#ebebeb" stroke-width="1.2" />
<line x1="1888.6" y1="1842.1" x2="2140.2" y2="1842.1" stroke="#ebebeb" stroke-width="1.2" />
<line x1="1888.6" y1="1368.5" x2="2140.2" y2="1368.5" stroke="#333" stroke-width="1.4" />
<line x1="1888.6" y1="1368.5" x2="1888.6" y2="1868" stroke="#333" stroke-width="1.4" />
<line x1="1908.3" y1="1368.5" x2="1908.3" y2="1372.5" stroke="#333" stroke-width="1.2" />
<line x1="1941.4" y1="1368.5" x2="1941.4" y2="1372.5" stroke="#333" stroke-width="1.2" />
<line x1="1974.6" y1="1368.5" x2="1974.6" y2="1372.5" stroke="#333" stroke-width="1.2" />
<line x1="2007.7" y1="1368.5" x2="2007.7" y2="1372.5" stroke="#333" stroke-width="1.2" />
<line x1="2040.8" y1="1368.5" x2="2040.8" y2="1372.5" stroke="#333" stroke-width="1.2" />
<line x1="2073.9" y1="1368.5" x2="2073.9" y2="1372.5" stroke="#333" stroke-width="1.2" />
<line x1="2107.1" y1="1368.5" x2="2107.1" y2="1372.5" stroke="#333" stroke-width="1.2" />
<line x1="2140.2" y1="1368.5" x2="2140.2" y2="1372.5" stroke="#333" stroke-width="1.2" />
<text x="1908.3" y="1362.7" text-anchor="middle" >1.0</text>
<text x="1974.9" y="1362.7" text-anchor="middle" >1.1</text>
<text x="2041.5" y="1362.7" text-anchor="middle" >1.2</text>
<text x="2108.1" y="1362.7" text-anchor="middle" >1.3</text>
<text x="1911.7" y="1310.6"  >CE ratio ablated:original</text>
<text x="1932.5" y="1334.6"  >(averaged over nts)</text>
<line x1="1884.6" y1="1407.5" x2="1888.6" y2="1407.5" stroke="#333" stroke-width="1.2" />
<line x1="1884.6" y1="1450.8" x2="1888.6" y2="1450.8" stroke="#333" stroke-width="1.2" />
<line x1="1884.6" y1="1494.6" x2="1888.6" y2="1494.6" stroke="#333" stroke-width="1.2" />
<line x1="1884.6" y1="1538.3" x2="1888.6" y2="1538.3" stroke="#333" stroke-width="1.2" />
<line x1="1884.6" y1="1581.5" x2="1888.6" y2="1581.5" stroke="#333" stroke-width="1.2" />
<line x1="1884.6" y1="1624.6" x2="1888.6" y2="1624.6" stroke="#333" stroke-width="1.2" />
<line x1="1884.6" y1="1667.6" x2="1888.6" y2="1667.6" stroke="#333" stroke-width="1.2" />
<line x1="1884.6" y1="1711.2" x2="1888.6" y2="1711.2" stroke="#333" stroke-width="1.2" />
<line x1="1884.6" y1="1753.4" x2="1888.6" y2="1753.4" stroke="#333" stroke-width="1.2" />
<line x1="1884.6" y1="1797.6" x2="1888.6" y2="1797.6" stroke="#333" stroke-width="1.2" />
<line x1="1884.6" y1="1842.1" x2="1888.6" y2="1842.1" stroke="#333" stroke-width="1.2" />
<line x1="1909.8" y1="1402.7" x2="1919.4" y2="1412.3" stroke="#e07d2e" stroke-width="2" />
<line x1="1909.8" y1="1412.3" x2="1919.4" y2="1402.7" stroke="#e07d2e" stroke-width="2" />
<line x1="1941.4" y1="1407.5" x2="1954.4" y2="1407.5" stroke="#3b7ec0" stroke-width="2.2" />
<line x1="1947.9" y1="1401" x2="1947.9" y2="1414" stroke="#3b7ec0" stroke-width="2.2" />
<line x1="1916.7" y1="1446" x2="1926.3" y2="1455.6" stroke="#e07d2e" stroke-width="2" />
<line x1="1916.7" y1="1455.6" x2="1926.3" y2="1446" stroke="#e07d2e" stroke-width="2" />
<line x1="1974.3" y1="1450.8" x2="1987.3" y2="1450.8" stroke="#3b7ec0" stroke-width="2.2" />
<line x1="1980.8" y1="1444.3" x2="1980.8" y2="1457.3" stroke="#3b7ec0" stroke-width="2.2" />
<line x1="1909.8" y1="1489.8" x2="1919.4" y2="1499.4" stroke="#e07d2e" stroke-width="2" />
<line x1="1909.8" y1="1499.4" x2="1919.4" y2="1489.8" stroke="#e07d2e" stroke-width="2" />
<line x1="2126.8" y1="1494.6" x2="2139.8" y2="1494.6" stroke="#3b7ec0" stroke-width="2.2" />
<line x1="2133.3" y1="1488.1" x2="2133.3" y2="1501.1" stroke="#3b7ec0" stroke-width="2.2" />
<line x1="1909.8" y1="1533.5" x2="1919.4" y2="1543.1" stroke="#e07d2e" stroke-width="2" />
<line x1="1909.8" y1="1543.1" x2="1919.4" y2="1533.5" stroke="#e07d2e" stroke-width="2" />
<line x1="2073.9" y1="1538.3" x2="2086.9" y2="1538.3" stroke="#3b7ec0" stroke-width="2.2" />
<line x1="2080.4" y1="1531.8" x2="2080.4" y2="1544.8" stroke="#3b7ec0" stroke-width="2.2" />
<line x1="1909.8" y1="1576.7" x2="1919.4" y2="1586.3" stroke="#e07d2e" stroke-width="2" />
<line x1="1909.8" y1="1586.3" x2="1919.4" y2="1576.7" stroke="#e07d2e" stroke-width="2" />
<line x1="1934.8" y1="1581.5" x2="1947.8" y2="1581.5" stroke="#3b7ec0" stroke-width="2.2" />
<line x1="1941.2" y1="1575" x2="1941.2" y2="1588" stroke="#3b7ec0" stroke-width="2.2" />
<line x1="1910" y1="1619.8" x2="1919.6" y2="1629.4" stroke="#e07d2e" stroke-width="2" />
<line x1="1910" y1="1629.4" x2="1919.6" y2="1619.8" stroke="#e07d2e" stroke-width="2" />
<line x1="1941.1" y1="1624.6" x2="1954.1" y2="1624.6" stroke="#3b7ec0" stroke-width="2.2" />
<line x1="1947.6" y1="1618.1" x2="1947.6" y2="1631.1" stroke="#3b7ec0" stroke-width="2.2" />
<line x1="1903.5" y1="1662.8" x2="1913.1" y2="1672.4" stroke="#e07d2e" stroke-width="2" />
<line x1="1903.5" y1="1672.4" x2="1913.1" y2="1662.8" stroke="#e07d2e" stroke-width="2" />
<line x1="1901.8" y1="1667.6" x2="1914.8" y2="1667.6" stroke="#3b7ec0" stroke-width="2.2" />
<line x1="1908.3" y1="1661.1" x2="1908.3" y2="1674.1" stroke="#3b7ec0" stroke-width="2.2" />
<line x1="1903.5" y1="1706.4" x2="1913.1" y2="1716" stroke="#e07d2e" stroke-width="2" />
<line x1="1903.5" y1="1716" x2="1913.1" y2="1706.4" stroke="#e07d2e" stroke-width="2" />
<line x1="1901.8" y1="1711.2" x2="1914.8" y2="1711.2" stroke="#3b7ec0" stroke-width="2.2" />
<line x1="1908.3" y1="1704.7" x2="1908.3" y2="1717.7" stroke="#3b7ec0" stroke-width="2.2" />
<line x1="1903.5" y1="1748.6" x2="1913.1" y2="1758.2" stroke="#e07d2e" stroke-width="2" />
<line x1="1903.5" y1="1758.2" x2="1913.1" y2="1748.6" stroke="#e07d2e" stroke-width="2" />
<line x1="1908.7" y1="1753.4" x2="1921.7" y2="1753.4" stroke="#3b7ec0" stroke-width="2.2" />
<line x1="1915.2" y1="1746.9" x2="1915.2" y2="1759.9" stroke="#3b7ec0" stroke-width="2.2" />
<line x1="1903.5" y1="1792.8" x2="1913.1" y2="1802.4" stroke="#e07d2e" stroke-width="2" />
<line x1="1903.5" y1="1802.4" x2="1913.1" y2="1792.8" stroke="#e07d2e" stroke-width="2" />
<line x1="1901.8" y1="1797.6" x2="1914.8" y2="1797.6" stroke="#3b7ec0" stroke-width="2.2" />
<line x1="1908.3" y1="1791.1" x2="1908.3" y2="1804.1" stroke="#3b7ec0" stroke-width="2.2" />
<line x1="1903.5" y1="1837.3" x2="1913.1" y2="1846.9" stroke="#e07d2e" stroke-width="2" />
<line x1="1903.5" y1="1846.9" x2="1913.1" y2="1837.3" stroke="#e07d2e" stroke-width="2" />
<line x1="1901.8" y1="1842.1" x2="1914.8" y2="1842.1" stroke="#3b7ec0" stroke-width="2.2" />
<line x1="1908.3" y1="1835.6" x2="1908.3" y2="1848.6" stroke="#3b7ec0" stroke-width="2.2" />
<line x1="1759.2" y1="1889.8" x2="1771.2" y2="1889.8" stroke="#3b7ec0" stroke-width="2.2" />
<line x1="1765.2" y1="1883.8" x2="1765.2" y2="1895.8" stroke="#3b7ec0" stroke-width="2.2" />
<text x="1774.8" y="1895.7"  >within annotated region</text>
<line x1="1760.6" y1="1912.4" x2="1769.8" y2="1921.6" stroke="#e07d2e" stroke-width="2" />
<line x1="1760.6" y1="1921.6" x2="1769.8" y2="1912.4" stroke="#e07d2e" stroke-width="2" />
<text x="1774.8" y="1923.1"  >outside annotated region</text>
</svg>
</body></html>
